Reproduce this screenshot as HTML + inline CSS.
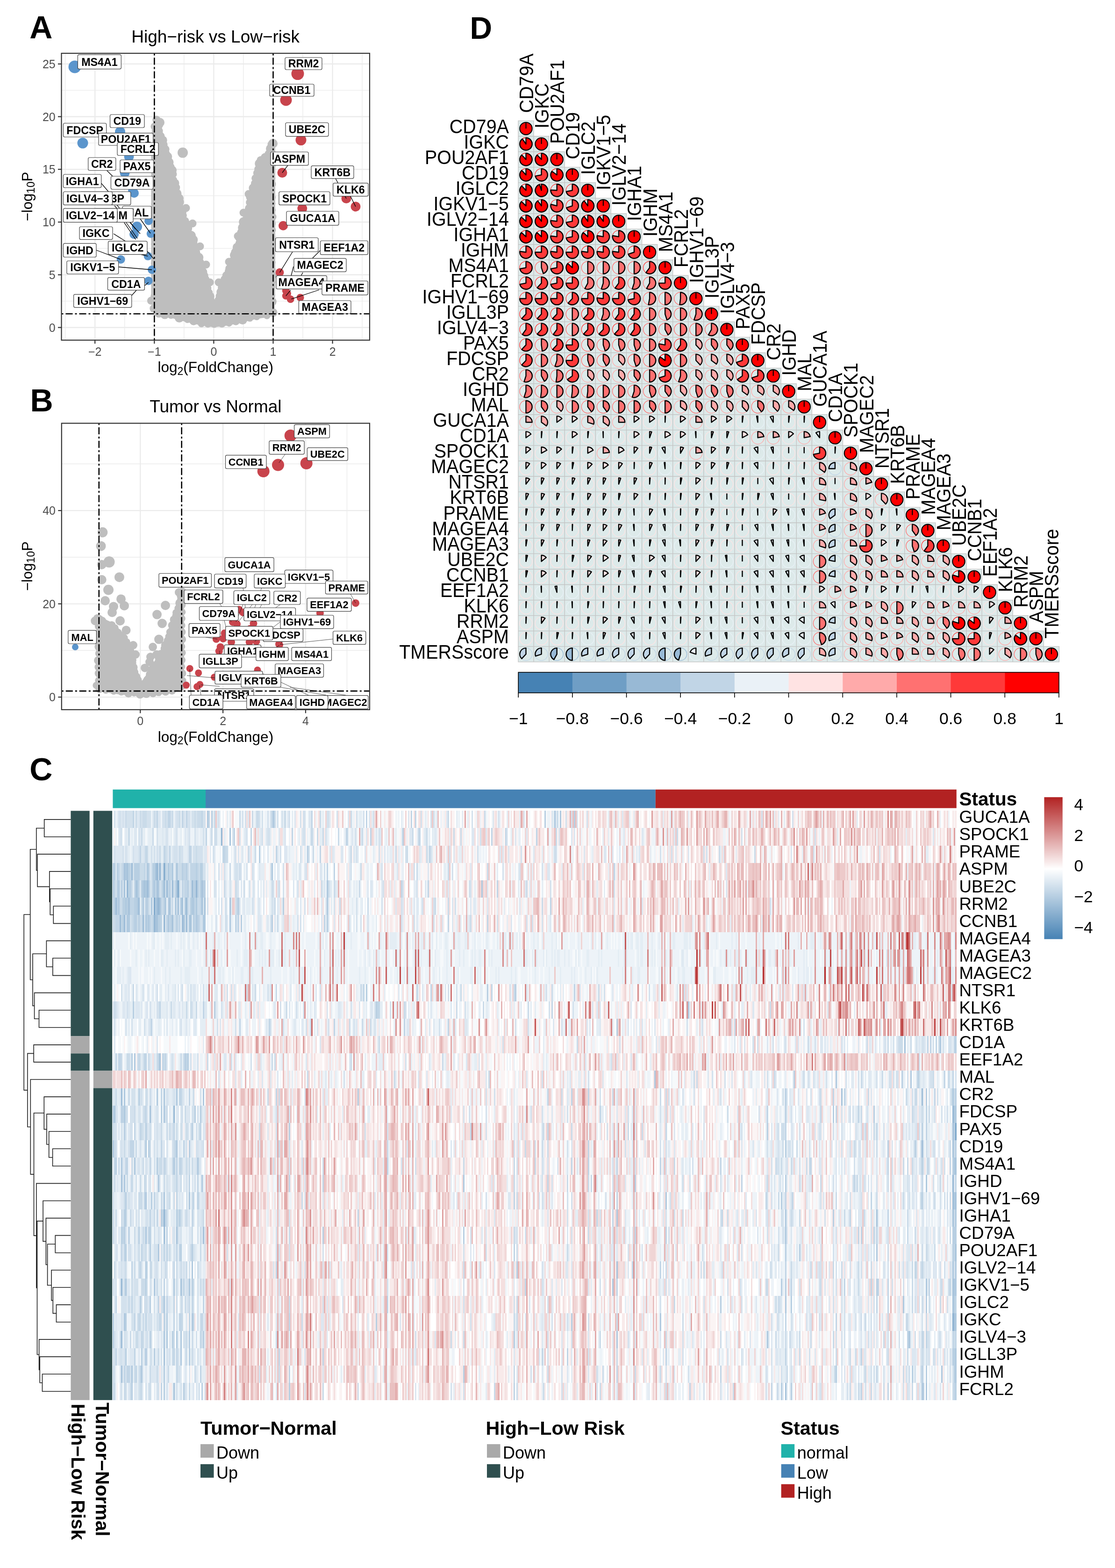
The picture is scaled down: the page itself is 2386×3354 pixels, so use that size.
<!DOCTYPE html><html><head><meta charset="utf-8"><title>Figure</title><style>html,body{margin:0;padding:0;background:#fff;}svg{display:block;}</style></head><body><svg width="2386" height="3354" viewBox="0 0 2386 3354" font-family="'Liberation Sans', Arial, Helvetica, sans-serif"><rect width="2386" height="3354" fill="#fff"/><text x="63.3" y="82" font-size="68" font-weight="bold">A</text><text x="64.5" y="880" font-size="68" font-weight="bold">B</text><text x="63.3" y="1668.5" font-size="68" font-weight="bold">C</text><text x="1005.5" y="82.8" font-size="66" font-weight="bold">D</text><g id="panelA"><rect x="131.5" y="114" width="659.5" height="613.6" fill="#fff"/><line x1="139.6" y1="114" x2="139.6" y2="727.6" stroke="#EBEBEB" stroke-width="1.4"/><line x1="266.8" y1="114" x2="266.8" y2="727.6" stroke="#EBEBEB" stroke-width="1.4"/><line x1="393.8" y1="114" x2="393.8" y2="727.6" stroke="#EBEBEB" stroke-width="1.4"/><line x1="520.9" y1="114" x2="520.9" y2="727.6" stroke="#EBEBEB" stroke-width="1.4"/><line x1="648" y1="114" x2="648" y2="727.6" stroke="#EBEBEB" stroke-width="1.4"/><line x1="775.1" y1="114" x2="775.1" y2="727.6" stroke="#EBEBEB" stroke-width="1.4"/><line x1="131.5" y1="644.1" x2="791" y2="644.1" stroke="#EBEBEB" stroke-width="1.4"/><line x1="131.5" y1="531.4" x2="791" y2="531.4" stroke="#EBEBEB" stroke-width="1.4"/><line x1="131.5" y1="418.6" x2="791" y2="418.6" stroke="#EBEBEB" stroke-width="1.4"/><line x1="131.5" y1="305.9" x2="791" y2="305.9" stroke="#EBEBEB" stroke-width="1.4"/><line x1="131.5" y1="193.1" x2="791" y2="193.1" stroke="#EBEBEB" stroke-width="1.4"/><line x1="203.2" y1="114" x2="203.2" y2="727.6" stroke="#EBEBEB" stroke-width="2.4"/><line x1="330.3" y1="114" x2="330.3" y2="727.6" stroke="#EBEBEB" stroke-width="2.4"/><line x1="457.4" y1="114" x2="457.4" y2="727.6" stroke="#EBEBEB" stroke-width="2.4"/><line x1="584.5" y1="114" x2="584.5" y2="727.6" stroke="#EBEBEB" stroke-width="2.4"/><line x1="711.6" y1="114" x2="711.6" y2="727.6" stroke="#EBEBEB" stroke-width="2.4"/><line x1="131.5" y1="700.5" x2="791" y2="700.5" stroke="#EBEBEB" stroke-width="2.4"/><line x1="131.5" y1="587.8" x2="791" y2="587.8" stroke="#EBEBEB" stroke-width="2.4"/><line x1="131.5" y1="475" x2="791" y2="475" stroke="#EBEBEB" stroke-width="2.4"/><line x1="131.5" y1="362.2" x2="791" y2="362.2" stroke="#EBEBEB" stroke-width="2.4"/><line x1="131.5" y1="249.5" x2="791" y2="249.5" stroke="#EBEBEB" stroke-width="2.4"/><line x1="131.5" y1="136.8" x2="791" y2="136.8" stroke="#EBEBEB" stroke-width="2.4"/><g fill="#BEBEBE"><polygon points="333,257 326,266 323.5,300 323.5,400 323.5,500 323.5,600 323.5,648 328,664 340,674 366,680 400,689 430,696 457.7,700 490,696 520,689 550,682 570,679 583,674 588,664 589,600 589,500 589,400 589,330 587,307 580,302 574,325 564,337 553,341.6 546.8,369.5 536,401.7 527.5,444.6 514.6,487.5 504,530 486.7,573 471.7,616 457.7,652 457.7,652 450,616 435,573 422,530 407,487.5 390,444.6 381.5,401.7 364,337 352,300 345,268 341,256"/><circle cx="335" cy="256.2" r="8.7" fill="#BEBEBE"/><circle cx="340.4" cy="268.5" r="7.8" fill="#BEBEBE"/><circle cx="340.4" cy="280" r="8.3" fill="#BEBEBE"/><circle cx="343.6" cy="291.3" r="8.9" fill="#BEBEBE"/><circle cx="348.3" cy="299.9" r="9.4" fill="#BEBEBE"/><circle cx="348.6" cy="309.8" r="10.1" fill="#BEBEBE"/><circle cx="353.1" cy="319.5" r="9.5" fill="#BEBEBE"/><circle cx="354.3" cy="328.8" r="9.3" fill="#BEBEBE"/><circle cx="358.2" cy="335.1" r="10.1" fill="#BEBEBE"/><circle cx="361.4" cy="347.1" r="10.1" fill="#BEBEBE"/><circle cx="364.9" cy="357.2" r="8.7" fill="#BEBEBE"/><circle cx="367.7" cy="364.5" r="10.3" fill="#BEBEBE"/><circle cx="370.5" cy="372.4" r="8" fill="#BEBEBE"/><circle cx="370.4" cy="385.1" r="8.8" fill="#BEBEBE"/><circle cx="374.5" cy="391.7" r="9" fill="#BEBEBE"/><circle cx="376" cy="401.1" r="9.3" fill="#BEBEBE"/><circle cx="379" cy="414" r="9.5" fill="#BEBEBE"/><circle cx="382.5" cy="424.6" r="10.4" fill="#BEBEBE"/><circle cx="383.6" cy="432.5" r="10.1" fill="#BEBEBE"/><circle cx="386.9" cy="446.2" r="9.2" fill="#BEBEBE"/><circle cx="389.3" cy="452" r="10" fill="#BEBEBE"/><circle cx="392.1" cy="460.9" r="7.8" fill="#BEBEBE"/><circle cx="396.6" cy="472.3" r="7.9" fill="#BEBEBE"/><circle cx="399.8" cy="478.6" r="8" fill="#BEBEBE"/><circle cx="401.2" cy="488.6" r="10.1" fill="#BEBEBE"/><circle cx="403.2" cy="496.5" r="7.7" fill="#BEBEBE"/><circle cx="408.9" cy="503.8" r="10.1" fill="#BEBEBE"/><circle cx="412.9" cy="513" r="10.4" fill="#BEBEBE"/><circle cx="413.2" cy="519.8" r="9.3" fill="#BEBEBE"/><circle cx="415.1" cy="528.8" r="8.8" fill="#BEBEBE"/><circle cx="420.7" cy="539.4" r="7.7" fill="#BEBEBE"/><circle cx="425" cy="550.8" r="10.3" fill="#BEBEBE"/><circle cx="428.3" cy="561.8" r="8.9" fill="#BEBEBE"/><circle cx="430.1" cy="573.6" r="9.3" fill="#BEBEBE"/><circle cx="433.2" cy="582.1" r="10.3" fill="#BEBEBE"/><circle cx="436" cy="589.9" r="9.7" fill="#BEBEBE"/><circle cx="438" cy="598" r="10.4" fill="#BEBEBE"/><circle cx="442.1" cy="607.6" r="7.6" fill="#BEBEBE"/><circle cx="444.7" cy="616.3" r="7.7" fill="#BEBEBE"/><circle cx="447.4" cy="625.5" r="7.8" fill="#BEBEBE"/><circle cx="449.4" cy="633.9" r="9.5" fill="#BEBEBE"/><circle cx="450.2" cy="643.8" r="9.7" fill="#BEBEBE"/><circle cx="460.8" cy="650.2" r="9.5" fill="#BEBEBE"/><circle cx="468.1" cy="642" r="8.9" fill="#BEBEBE"/><circle cx="470.1" cy="633.3" r="8.6" fill="#BEBEBE"/><circle cx="472.5" cy="624.5" r="9.3" fill="#BEBEBE"/><circle cx="475.9" cy="615.5" r="9.8" fill="#BEBEBE"/><circle cx="477.8" cy="607.7" r="9.7" fill="#BEBEBE"/><circle cx="481.9" cy="597.7" r="9.9" fill="#BEBEBE"/><circle cx="484.7" cy="588.9" r="8.8" fill="#BEBEBE"/><circle cx="489.5" cy="580" r="8.5" fill="#BEBEBE"/><circle cx="491" cy="574.3" r="8.8" fill="#BEBEBE"/><circle cx="496.6" cy="563.1" r="8.6" fill="#BEBEBE"/><circle cx="499.2" cy="557.3" r="8.9" fill="#BEBEBE"/><circle cx="501" cy="545.7" r="9.1" fill="#BEBEBE"/><circle cx="504.3" cy="539.8" r="10" fill="#BEBEBE"/><circle cx="507.7" cy="529.1" r="9.9" fill="#BEBEBE"/><circle cx="512.2" cy="520.6" r="8.6" fill="#BEBEBE"/><circle cx="512.8" cy="507.9" r="9.9" fill="#BEBEBE"/><circle cx="516" cy="497.5" r="8.8" fill="#BEBEBE"/><circle cx="519.3" cy="487.1" r="10.2" fill="#BEBEBE"/><circle cx="521.4" cy="474.8" r="10.3" fill="#BEBEBE"/><circle cx="527.6" cy="468" r="8.8" fill="#BEBEBE"/><circle cx="531.1" cy="457" r="8.2" fill="#BEBEBE"/><circle cx="533.5" cy="445.9" r="9.5" fill="#BEBEBE"/><circle cx="534.7" cy="433" r="8.6" fill="#BEBEBE"/><circle cx="535.7" cy="421.4" r="9.3" fill="#BEBEBE"/><circle cx="538" cy="413.7" r="7.7" fill="#BEBEBE"/><circle cx="542.6" cy="402.5" r="10.2" fill="#BEBEBE"/><circle cx="546.2" cy="392.6" r="9.2" fill="#BEBEBE"/><circle cx="546.3" cy="381.2" r="8.1" fill="#BEBEBE"/><circle cx="551" cy="370.2" r="9.1" fill="#BEBEBE"/><circle cx="553.5" cy="362" r="9.3" fill="#BEBEBE"/><circle cx="555.3" cy="349.9" r="10.1" fill="#BEBEBE"/><circle cx="557.9" cy="342.7" r="8.6" fill="#BEBEBE"/><circle cx="567.8" cy="337.1" r="9.9" fill="#BEBEBE"/><circle cx="331" cy="270.5" r="8.6" fill="#BEBEBE"/><circle cx="332" cy="284.5" r="6.4" fill="#BEBEBE"/><circle cx="331.7" cy="298.6" r="6.5" fill="#BEBEBE"/><circle cx="331.1" cy="311.6" r="7.7" fill="#BEBEBE"/><circle cx="331.4" cy="326" r="8.3" fill="#BEBEBE"/><circle cx="330.7" cy="339.3" r="6.7" fill="#BEBEBE"/><circle cx="330.9" cy="353.3" r="8.7" fill="#BEBEBE"/><circle cx="332.1" cy="367.3" r="7.6" fill="#BEBEBE"/><circle cx="331.2" cy="381.7" r="7.2" fill="#BEBEBE"/><circle cx="331.7" cy="396.1" r="7.3" fill="#BEBEBE"/><circle cx="331" cy="409.7" r="6.7" fill="#BEBEBE"/><circle cx="331.6" cy="424.3" r="7.3" fill="#BEBEBE"/><circle cx="330.8" cy="437.5" r="7.3" fill="#BEBEBE"/><circle cx="331.7" cy="452.5" r="7.3" fill="#BEBEBE"/><circle cx="332" cy="466.2" r="7.4" fill="#BEBEBE"/><circle cx="331.3" cy="480" r="8.1" fill="#BEBEBE"/><circle cx="331.4" cy="494.3" r="7.5" fill="#BEBEBE"/><circle cx="331.1" cy="508.1" r="8.1" fill="#BEBEBE"/><circle cx="330.8" cy="521.9" r="7.4" fill="#BEBEBE"/><circle cx="332.1" cy="536.7" r="7.3" fill="#BEBEBE"/><circle cx="332.1" cy="550.5" r="7" fill="#BEBEBE"/><circle cx="331.4" cy="563.4" r="8.4" fill="#BEBEBE"/><circle cx="331.8" cy="578.6" r="8.3" fill="#BEBEBE"/><circle cx="331.8" cy="592.4" r="7.8" fill="#BEBEBE"/><circle cx="330.9" cy="606.1" r="6.4" fill="#BEBEBE"/><circle cx="330.9" cy="620.4" r="6.5" fill="#BEBEBE"/><circle cx="330.8" cy="633.4" r="8.5" fill="#BEBEBE"/><circle cx="581.4" cy="309" r="8.9" fill="#BEBEBE"/><circle cx="581.2" cy="324.7" r="8.5" fill="#BEBEBE"/><circle cx="582.7" cy="338.9" r="8.3" fill="#BEBEBE"/><circle cx="582.6" cy="351.1" r="8.8" fill="#BEBEBE"/><circle cx="582" cy="366.4" r="7.1" fill="#BEBEBE"/><circle cx="582.5" cy="380.9" r="7" fill="#BEBEBE"/><circle cx="581.6" cy="394.1" r="8.9" fill="#BEBEBE"/><circle cx="581.5" cy="407.4" r="7.4" fill="#BEBEBE"/><circle cx="582.2" cy="422.5" r="7.8" fill="#BEBEBE"/><circle cx="581.7" cy="435.8" r="7.7" fill="#BEBEBE"/><circle cx="581.8" cy="449.2" r="8.1" fill="#BEBEBE"/><circle cx="582.9" cy="463.8" r="8.7" fill="#BEBEBE"/><circle cx="581.3" cy="478.4" r="8.7" fill="#BEBEBE"/><circle cx="582.3" cy="492" r="8" fill="#BEBEBE"/><circle cx="582.3" cy="506.8" r="7.2" fill="#BEBEBE"/><circle cx="581.2" cy="520.5" r="9.1" fill="#BEBEBE"/><circle cx="582" cy="533.9" r="8.6" fill="#BEBEBE"/><circle cx="581.4" cy="547.5" r="7.3" fill="#BEBEBE"/><circle cx="582.2" cy="561.6" r="7.4" fill="#BEBEBE"/><circle cx="582.4" cy="576.9" r="7.6" fill="#BEBEBE"/><circle cx="582.4" cy="589.8" r="9" fill="#BEBEBE"/><circle cx="582.2" cy="603.5" r="7.4" fill="#BEBEBE"/><circle cx="581" cy="618" r="7.8" fill="#BEBEBE"/><circle cx="581.3" cy="631.7" r="7.6" fill="#BEBEBE"/><circle cx="582.5" cy="645.3" r="9.3" fill="#BEBEBE"/><circle cx="323.4" cy="643.3" r="8.5" fill="#BEBEBE"/><circle cx="329" cy="660" r="8.7" fill="#BEBEBE"/><circle cx="339.9" cy="669.7" r="9.5" fill="#BEBEBE"/><circle cx="352.7" cy="672.7" r="9.8" fill="#BEBEBE"/><circle cx="365.9" cy="674.2" r="7.8" fill="#BEBEBE"/><circle cx="383.7" cy="680" r="9.8" fill="#BEBEBE"/><circle cx="401.1" cy="683.2" r="7.7" fill="#BEBEBE"/><circle cx="414.3" cy="686.6" r="9.1" fill="#BEBEBE"/><circle cx="431.1" cy="692.2" r="7.9" fill="#BEBEBE"/><circle cx="444.9" cy="692.4" r="8.3" fill="#BEBEBE"/><circle cx="458.4" cy="693.8" r="7.5" fill="#BEBEBE"/><circle cx="474.9" cy="692.4" r="8.2" fill="#BEBEBE"/><circle cx="490.2" cy="691.5" r="7.2" fill="#BEBEBE"/><circle cx="504.5" cy="687.3" r="8.5" fill="#BEBEBE"/><circle cx="519.1" cy="684.3" r="9.8" fill="#BEBEBE"/><circle cx="534.7" cy="680.6" r="7.5" fill="#BEBEBE"/><circle cx="549.3" cy="677.5" r="7.5" fill="#BEBEBE"/><circle cx="571.2" cy="675.2" r="7.5" fill="#BEBEBE"/><circle cx="584.3" cy="668.6" r="9.3" fill="#BEBEBE"/><circle cx="338.6" cy="266.5" r="10.5" fill="#BEBEBE"/><circle cx="342" cy="262" r="10" fill="#BEBEBE"/><circle cx="391" cy="326.6" r="11" fill="#BEBEBE"/><circle cx="584" cy="307" r="10" fill="#BEBEBE"/><circle cx="579" cy="318" r="10" fill="#BEBEBE"/><circle cx="576" cy="330" r="10" fill="#BEBEBE"/><circle cx="571" cy="340" r="9" fill="#BEBEBE"/><circle cx="398" cy="445" r="8.5" fill="#BEBEBE"/><circle cx="412" cy="478" r="8.5" fill="#BEBEBE"/><circle cx="428" cy="527" r="8.5" fill="#BEBEBE"/><circle cx="441" cy="566" r="8.5" fill="#BEBEBE"/><circle cx="449" cy="604" r="8.5" fill="#BEBEBE"/><circle cx="468" cy="604" r="8.5" fill="#BEBEBE"/><circle cx="490" cy="560" r="8.5" fill="#BEBEBE"/><circle cx="509" cy="505" r="8.5" fill="#BEBEBE"/><circle cx="521" cy="455" r="8.5" fill="#BEBEBE"/><circle cx="532" cy="415" r="8.5" fill="#BEBEBE"/></g><g fill="#5B95CC"><circle cx="160" cy="143" r="13.5" fill="#5B95CC"/><circle cx="177" cy="306" r="11.5" fill="#5B95CC"/><circle cx="257" cy="282" r="11" fill="#5B95CC"/><circle cx="270" cy="296" r="11" fill="#5B95CC"/><circle cx="276" cy="335" r="10.5" fill="#5B95CC"/><circle cx="267" cy="369.5" r="10.5" fill="#5B95CC"/><circle cx="284" cy="408" r="10" fill="#5B95CC"/><circle cx="287" cy="413" r="10" fill="#5B95CC"/><circle cx="293" cy="485" r="11" fill="#5B95CC"/><circle cx="287" cy="501" r="10" fill="#5B95CC"/><circle cx="322.7" cy="499.8" r="9" fill="#5B95CC"/><circle cx="318" cy="472.5" r="9" fill="#5B95CC"/><circle cx="316.5" cy="547.8" r="9" fill="#5B95CC"/><circle cx="258.6" cy="555" r="9" fill="#5B95CC"/><circle cx="325" cy="577" r="9" fill="#5B95CC"/><circle cx="317.7" cy="600.7" r="9" fill="#5B95CC"/></g><g fill="#C8444C"><circle cx="637" cy="157.6" r="13.5" fill="#C8444C"/><circle cx="612" cy="214" r="12.5" fill="#C8444C"/><circle cx="644" cy="299.5" r="11.5" fill="#C8444C"/><circle cx="604" cy="369.5" r="10.5" fill="#C8444C"/><circle cx="741" cy="424.6" r="10.5" fill="#C8444C"/><circle cx="761" cy="441.9" r="10.5" fill="#C8444C"/><circle cx="646.8" cy="445.8" r="10.5" fill="#C8444C"/><circle cx="606" cy="482.8" r="10" fill="#C8444C"/><circle cx="598.5" cy="582.8" r="9" fill="#C8444C"/><circle cx="611.8" cy="632.8" r="8" fill="#C8444C"/><circle cx="621.7" cy="640" r="8" fill="#C8444C"/><circle cx="642.6" cy="636.5" r="8" fill="#C8444C"/><circle cx="611.8" cy="621.7" r="8" fill="#C8444C"/><circle cx="615" cy="628" r="8" fill="#C8444C"/></g><line x1="616" y1="353.7" x2="604" y2="369.5" stroke="#000" stroke-width="1.3"/><line x1="228" y1="364" x2="262" y2="398" stroke="#000" stroke-width="1.3"/><line x1="216.7" y1="392" x2="245" y2="425" stroke="#000" stroke-width="1.3"/><line x1="718" y1="381.8" x2="741" y2="424.6" stroke="#000" stroke-width="1.3"/><line x1="750" y1="419.7" x2="761" y2="441.9" stroke="#000" stroke-width="1.3"/><line x1="627" y1="537" x2="598.5" y2="582.8" stroke="#000" stroke-width="1.3"/><line x1="686" y1="535" x2="668" y2="553" stroke="#000" stroke-width="1.3"/><line x1="628" y1="570" x2="623" y2="590" stroke="#000" stroke-width="1.3"/><line x1="648" y1="583" x2="644" y2="590" stroke="#000" stroke-width="1.3"/><line x1="622" y1="620.6" x2="611.8" y2="632.8" stroke="#000" stroke-width="1.3"/><line x1="683" y1="620" x2="623.4" y2="639.6" stroke="#000" stroke-width="1.3"/><line x1="206" y1="535" x2="258.6" y2="555" stroke="#000" stroke-width="1.3"/><line x1="253.7" y1="571" x2="325" y2="577" stroke="#000" stroke-width="1.3"/><line x1="298" y1="620.7" x2="317.7" y2="604" stroke="#000" stroke-width="1.3"/><line x1="281.8" y1="632" x2="300" y2="612" stroke="#000" stroke-width="1.3"/><line x1="240" y1="425" x2="290" y2="490" stroke="#000" stroke-width="1.3"/><line x1="245" y1="440" x2="300" y2="500" stroke="#000" stroke-width="1.3"/><line x1="265.8" y1="476.2" x2="290.4" y2="512.4" stroke="#000" stroke-width="1.3"/><line x1="270" y1="476" x2="294" y2="510" stroke="#000" stroke-width="1.3"/><line x1="300" y1="468" x2="322" y2="499" stroke="#000" stroke-width="1.3"/><line x1="313.7" y1="535.7" x2="329" y2="553.8" stroke="#000" stroke-width="1.3"/><line x1="243" y1="500" x2="275" y2="520" stroke="#000" stroke-width="1.3"/><line x1="300" y1="544" x2="316.5" y2="547.8" stroke="#000" stroke-width="1.3"/><rect x="166.4" y="116.8" width="92.9" height="30.8" rx="3" fill="#fff" stroke="#444" stroke-width="1.2"/><text x="212.9" y="140.6" font-size="23.2" text-anchor="middle" font-weight="bold">MS4A1</text><rect x="610" y="123" width="79" height="26" rx="3" fill="#fff" stroke="#444" stroke-width="1.2"/><text x="649.5" y="144.4" font-size="23.2" text-anchor="middle" font-weight="bold">RRM2</text><rect x="577" y="180" width="95" height="26" rx="3" fill="#fff" stroke="#444" stroke-width="1.2"/><text x="624.5" y="201.4" font-size="23.2" text-anchor="middle" font-weight="bold">CCNB1</text><rect x="235.5" y="245" width="73.5" height="28" rx="3" fill="#fff" stroke="#444" stroke-width="1.2"/><text x="272.2" y="267.4" font-size="23.2" text-anchor="middle" font-weight="bold">CD19</text><rect x="135.5" y="263.5" width="92.1" height="29.5" rx="3" fill="#fff" stroke="#444" stroke-width="1.2"/><text x="181.6" y="286.6" font-size="23.2" text-anchor="middle" font-weight="bold">FDCSP</text><rect x="211" y="284.7" width="116.6" height="26.3" rx="3" fill="#fff" stroke="#444" stroke-width="1.2"/><text x="269.3" y="306.2" font-size="23.2" text-anchor="middle" font-weight="bold">POU2AF1</text><rect x="611" y="262.5" width="92" height="29.1" rx="3" fill="#fff" stroke="#444" stroke-width="1.2"/><text x="657" y="285.4" font-size="23.2" text-anchor="middle" font-weight="bold">UBE2C</text><rect x="251" y="305" width="88" height="27.5" rx="3" fill="#fff" stroke="#444" stroke-width="1.2"/><text x="295" y="327.1" font-size="23.2" text-anchor="middle" font-weight="bold">FCRL2</text><rect x="579" y="325" width="81" height="28.7" rx="3" fill="#fff" stroke="#444" stroke-width="1.2"/><text x="619.5" y="347.7" font-size="23.2" text-anchor="middle" font-weight="bold">ASPM</text><rect x="188.7" y="337" width="59.1" height="27.5" rx="3" fill="#fff" stroke="#444" stroke-width="1.2"/><text x="218.2" y="359.1" font-size="23.2" text-anchor="middle" font-weight="bold">CR2</text><rect x="257" y="342" width="72" height="27.5" rx="3" fill="#fff" stroke="#444" stroke-width="1.2"/><text x="293" y="364.1" font-size="23.2" text-anchor="middle" font-weight="bold">PAX5</text><rect x="666" y="354.7" width="91" height="27.1" rx="3" fill="#fff" stroke="#444" stroke-width="1.2"/><text x="711.5" y="376.6" font-size="23.2" text-anchor="middle" font-weight="bold">KRT6B</text><rect x="135.5" y="373" width="81.2" height="28.5" rx="3" fill="#fff" stroke="#444" stroke-width="1.2"/><text x="176.1" y="395.6" font-size="23.2" text-anchor="middle" font-weight="bold">IGHA1</text><rect x="237.4" y="377" width="90.2" height="28" rx="3" fill="#fff" stroke="#444" stroke-width="1.2"/><text x="282.5" y="399.4" font-size="23.2" text-anchor="middle" font-weight="bold">CD79A</text><rect x="712.8" y="391.6" width="75.2" height="28.1" rx="3" fill="#fff" stroke="#444" stroke-width="1.2"/><text x="750.4" y="414" font-size="23.2" text-anchor="middle" font-weight="bold">KLK6</text><rect x="171" y="410" width="108.8" height="28.4" rx="3" fill="#fff" stroke="#444" stroke-width="1.2"/><text x="225.4" y="432.6" font-size="23.2" text-anchor="middle" font-weight="bold">IGLL3P</text><rect x="135.5" y="410" width="104.9" height="28.4" rx="3" fill="#fff" stroke="#444" stroke-width="1.2"/><text x="187.9" y="432.6" font-size="23.2" text-anchor="middle" font-weight="bold">IGLV4−3</text><rect x="597" y="410" width="109" height="28.4" rx="3" fill="#fff" stroke="#444" stroke-width="1.2"/><text x="651.5" y="432.6" font-size="23.2" text-anchor="middle" font-weight="bold">SPOCK1</text><rect x="262" y="441" width="62" height="27" rx="3" fill="#fff" stroke="#444" stroke-width="1.2"/><text x="293" y="462.9" font-size="23.2" text-anchor="middle" font-weight="bold">MAL</text><rect x="200" y="445.8" width="85" height="29.6" rx="3" fill="#fff" stroke="#444" stroke-width="1.2"/><text x="242.5" y="469" font-size="23.2" text-anchor="middle" font-weight="bold">IGHM</text><rect x="135.5" y="445.8" width="115.5" height="29.6" rx="3" fill="#fff" stroke="#444" stroke-width="1.2"/><text x="193.2" y="469" font-size="23.2" text-anchor="middle" font-weight="bold">IGLV2−14</text><rect x="613" y="452" width="112" height="29.8" rx="3" fill="#fff" stroke="#444" stroke-width="1.2"/><text x="669" y="475.3" font-size="23.2" text-anchor="middle" font-weight="bold">GUCA1A</text><rect x="170" y="485" width="71" height="27.3" rx="3" fill="#fff" stroke="#444" stroke-width="1.2"/><text x="205.5" y="507" font-size="23.2" text-anchor="middle" font-weight="bold">IGKC</text><rect x="231.5" y="515.8" width="83.5" height="28.5" rx="3" fill="#fff" stroke="#444" stroke-width="1.2"/><text x="273.2" y="538.4" font-size="23.2" text-anchor="middle" font-weight="bold">IGLC2</text><rect x="589.5" y="508.5" width="91.5" height="30" rx="3" fill="#fff" stroke="#444" stroke-width="1.2"/><text x="635.2" y="531.9" font-size="23.2" text-anchor="middle" font-weight="bold">NTSR1</text><rect x="685.4" y="515" width="101.9" height="29.7" rx="3" fill="#fff" stroke="#444" stroke-width="1.2"/><text x="736.3" y="538.2" font-size="23.2" text-anchor="middle" font-weight="bold">EEF1A2</text><rect x="135.5" y="520.7" width="70.5" height="29.3" rx="3" fill="#fff" stroke="#444" stroke-width="1.2"/><text x="170.8" y="543.7" font-size="23.2" text-anchor="middle" font-weight="bold">IGHD</text><rect x="142.9" y="558" width="110.8" height="28" rx="3" fill="#fff" stroke="#444" stroke-width="1.2"/><text x="198.3" y="580.4" font-size="23.2" text-anchor="middle" font-weight="bold">IGKV1−5</text><rect x="629" y="552.7" width="112" height="28.6" rx="3" fill="#fff" stroke="#444" stroke-width="1.2"/><text x="685" y="575.4" font-size="23.2" text-anchor="middle" font-weight="bold">MAGEC2</text><rect x="230.5" y="593.6" width="78.9" height="27.1" rx="3" fill="#fff" stroke="#444" stroke-width="1.2"/><text x="269.9" y="615.5" font-size="23.2" text-anchor="middle" font-weight="bold">CD1A</text><rect x="591" y="589.7" width="108.5" height="28.5" rx="3" fill="#fff" stroke="#444" stroke-width="1.2"/><text x="645.2" y="612.3" font-size="23.2" text-anchor="middle" font-weight="bold">MAGEA4</text><rect x="689" y="601" width="98.3" height="29.8" rx="3" fill="#fff" stroke="#444" stroke-width="1.2"/><text x="738.1" y="624.3" font-size="23.2" text-anchor="middle" font-weight="bold">PRAME</text><rect x="157.6" y="629.6" width="124.2" height="28" rx="3" fill="#fff" stroke="#444" stroke-width="1.2"/><text x="219.7" y="652" font-size="23.2" text-anchor="middle" font-weight="bold">IGHV1−69</text><rect x="639.4" y="643" width="111.6" height="28" rx="3" fill="#fff" stroke="#444" stroke-width="1.2"/><text x="695.2" y="665.4" font-size="23.2" text-anchor="middle" font-weight="bold">MAGEA3</text><line x1="330.3" y1="727.6" x2="330.3" y2="114" stroke="#000" stroke-width="2.6" stroke-dasharray="4 5 15 5"/><line x1="584.5" y1="727.6" x2="584.5" y2="114" stroke="#000" stroke-width="2.6" stroke-dasharray="4 5 15 5"/><line x1="131.5" y1="671.2" x2="791" y2="671.2" stroke="#000" stroke-width="2.6" stroke-dasharray="4 5 15 5"/><rect x="131.5" y="114" width="659.5" height="613.6" fill="none" stroke="#333333" stroke-width="2.2"/><line x1="203.2" y1="727.6" x2="203.2" y2="735.1" stroke="#333333" stroke-width="2.2"/><text x="203.2" y="760.8" font-size="25" text-anchor="middle" fill="#4D4D4D">−2</text><line x1="330.3" y1="727.6" x2="330.3" y2="735.1" stroke="#333333" stroke-width="2.2"/><text x="330.3" y="760.8" font-size="25" text-anchor="middle" fill="#4D4D4D">−1</text><line x1="457.4" y1="727.6" x2="457.4" y2="735.1" stroke="#333333" stroke-width="2.2"/><text x="457.4" y="760.8" font-size="25" text-anchor="middle" fill="#4D4D4D">0</text><line x1="584.5" y1="727.6" x2="584.5" y2="735.1" stroke="#333333" stroke-width="2.2"/><text x="584.5" y="760.8" font-size="25" text-anchor="middle" fill="#4D4D4D">1</text><line x1="711.6" y1="727.6" x2="711.6" y2="735.1" stroke="#333333" stroke-width="2.2"/><text x="711.6" y="760.8" font-size="25" text-anchor="middle" fill="#4D4D4D">2</text><line x1="124" y1="700.5" x2="131.5" y2="700.5" stroke="#333333" stroke-width="2.2"/><text x="118.7" y="709.5" font-size="25" text-anchor="end" fill="#4D4D4D">0</text><line x1="124" y1="587.8" x2="131.5" y2="587.8" stroke="#333333" stroke-width="2.2"/><text x="118.7" y="596.8" font-size="25" text-anchor="end" fill="#4D4D4D">5</text><line x1="124" y1="475" x2="131.5" y2="475" stroke="#333333" stroke-width="2.2"/><text x="118.7" y="484" font-size="25" text-anchor="end" fill="#4D4D4D">10</text><line x1="124" y1="362.2" x2="131.5" y2="362.2" stroke="#333333" stroke-width="2.2"/><text x="118.7" y="371.2" font-size="25" text-anchor="end" fill="#4D4D4D">15</text><line x1="124" y1="249.5" x2="131.5" y2="249.5" stroke="#333333" stroke-width="2.2"/><text x="118.7" y="258.5" font-size="25" text-anchor="end" fill="#4D4D4D">20</text><line x1="124" y1="136.8" x2="131.5" y2="136.8" stroke="#333333" stroke-width="2.2"/><text x="118.7" y="145.8" font-size="25" text-anchor="end" fill="#4D4D4D">25</text><text x="461.2" y="91" font-size="37" text-anchor="middle">High−risk vs Low−risk</text><text x="461.2" y="796.4" font-size="31.5" text-anchor="middle">log<tspan font-size="23" dy="5.5">2</tspan><tspan dy="-5.5">(FoldChange)</tspan></text><text transform="translate(68.5,420.4) rotate(-90)" font-size="31" text-anchor="middle">−log<tspan font-size="23" dy="5.5">10</tspan><tspan dy="-5.5">P</tspan></text></g><g id="panelB"><rect x="131.8" y="905.4" width="659.2" height="612.6" fill="#fff"/><line x1="211.8" y1="905.4" x2="211.8" y2="1518" stroke="#EBEBEB" stroke-width="1.4"/><line x1="388.7" y1="905.4" x2="388.7" y2="1518" stroke="#EBEBEB" stroke-width="1.4"/><line x1="565.6" y1="905.4" x2="565.6" y2="1518" stroke="#EBEBEB" stroke-width="1.4"/><line x1="742.5" y1="905.4" x2="742.5" y2="1518" stroke="#EBEBEB" stroke-width="1.4"/><line x1="131.8" y1="1391.3" x2="791" y2="1391.3" stroke="#EBEBEB" stroke-width="1.4"/><line x1="131.8" y1="1191.8" x2="791" y2="1191.8" stroke="#EBEBEB" stroke-width="1.4"/><line x1="131.8" y1="992.3" x2="791" y2="992.3" stroke="#EBEBEB" stroke-width="1.4"/><line x1="300.2" y1="905.4" x2="300.2" y2="1518" stroke="#EBEBEB" stroke-width="2.4"/><line x1="477.1" y1="905.4" x2="477.1" y2="1518" stroke="#EBEBEB" stroke-width="2.4"/><line x1="654" y1="905.4" x2="654" y2="1518" stroke="#EBEBEB" stroke-width="2.4"/><line x1="131.8" y1="1491.1" x2="791" y2="1491.1" stroke="#EBEBEB" stroke-width="2.4"/><line x1="131.8" y1="1291.6" x2="791" y2="1291.6" stroke="#EBEBEB" stroke-width="2.4"/><line x1="131.8" y1="1092.1" x2="791" y2="1092.1" stroke="#EBEBEB" stroke-width="2.4"/><g fill="#BEBEBE"><polygon points="207,1322 207,1470 213,1477 225,1481 260,1486 300.4,1489.5 340,1486 368.6,1481 388,1475 394,1470 394,1264 388,1257 383,1263 375.8,1297.6 359.6,1351.5 347,1387.4 314.7,1441 302,1459 302,1459 291.4,1423.3 280.6,1387.4 270,1360.5 243,1333.5 214,1319"/><circle cx="203.5" cy="1328" r="9.3" fill="#BEBEBE"/><circle cx="211.8" cy="1325" r="9.7" fill="#BEBEBE"/><circle cx="217.8" cy="1328.7" r="9.7" fill="#BEBEBE"/><circle cx="229.9" cy="1335.3" r="7.5" fill="#BEBEBE"/><circle cx="238.9" cy="1337.5" r="8.7" fill="#BEBEBE"/><circle cx="246" cy="1343.3" r="7.8" fill="#BEBEBE"/><circle cx="251.6" cy="1353.7" r="9.3" fill="#BEBEBE"/><circle cx="257.9" cy="1359.9" r="7.6" fill="#BEBEBE"/><circle cx="266.5" cy="1364" r="7.2" fill="#BEBEBE"/><circle cx="271" cy="1373.3" r="7.8" fill="#BEBEBE"/><circle cx="275" cy="1384.9" r="8" fill="#BEBEBE"/><circle cx="278.4" cy="1392.6" r="9" fill="#BEBEBE"/><circle cx="278.1" cy="1403.1" r="9.1" fill="#BEBEBE"/><circle cx="283.9" cy="1411.9" r="8" fill="#BEBEBE"/><circle cx="284.1" cy="1418" r="7.6" fill="#BEBEBE"/><circle cx="285.7" cy="1427.5" r="8.8" fill="#BEBEBE"/><circle cx="288.1" cy="1437.9" r="8.1" fill="#BEBEBE"/><circle cx="291.9" cy="1447.4" r="8.5" fill="#BEBEBE"/><circle cx="294.6" cy="1455" r="9.1" fill="#BEBEBE"/><circle cx="305.2" cy="1462.9" r="7.3" fill="#BEBEBE"/><circle cx="314.3" cy="1453.4" r="7.2" fill="#BEBEBE"/><circle cx="320.9" cy="1442.5" r="8.8" fill="#BEBEBE"/><circle cx="323.1" cy="1432.3" r="7.7" fill="#BEBEBE"/><circle cx="332.3" cy="1423.9" r="9.2" fill="#BEBEBE"/><circle cx="337.6" cy="1418" r="8.1" fill="#BEBEBE"/><circle cx="340.7" cy="1407.4" r="9.3" fill="#BEBEBE"/><circle cx="345" cy="1399.3" r="9.4" fill="#BEBEBE"/><circle cx="353.4" cy="1387.5" r="9.8" fill="#BEBEBE"/><circle cx="353.5" cy="1379.8" r="8.8" fill="#BEBEBE"/><circle cx="360" cy="1370.8" r="9.7" fill="#BEBEBE"/><circle cx="361.6" cy="1361.7" r="8.1" fill="#BEBEBE"/><circle cx="363.3" cy="1351.8" r="7.6" fill="#BEBEBE"/><circle cx="368.1" cy="1346.5" r="7.6" fill="#BEBEBE"/><circle cx="368.2" cy="1337.5" r="8.6" fill="#BEBEBE"/><circle cx="372.3" cy="1325.5" r="8.8" fill="#BEBEBE"/><circle cx="376.7" cy="1317.4" r="8.3" fill="#BEBEBE"/><circle cx="376.3" cy="1310.2" r="7.3" fill="#BEBEBE"/><circle cx="380.8" cy="1301" r="7.6" fill="#BEBEBE"/><circle cx="384.1" cy="1289.9" r="8.9" fill="#BEBEBE"/><circle cx="386.8" cy="1275" r="8.4" fill="#BEBEBE"/><circle cx="205.9" cy="1466" r="7.6" fill="#BEBEBE"/><circle cx="212.9" cy="1473.5" r="9" fill="#BEBEBE"/><circle cx="226.4" cy="1475.9" r="8" fill="#BEBEBE"/><circle cx="243.2" cy="1478.4" r="7.5" fill="#BEBEBE"/><circle cx="259.7" cy="1479.9" r="7.8" fill="#BEBEBE"/><circle cx="274.9" cy="1483.5" r="8.4" fill="#BEBEBE"/><circle cx="286.9" cy="1482.8" r="7" fill="#BEBEBE"/><circle cx="299.7" cy="1485.3" r="9" fill="#BEBEBE"/><circle cx="313.2" cy="1484.2" r="8.8" fill="#BEBEBE"/><circle cx="327.4" cy="1482.7" r="8.7" fill="#BEBEBE"/><circle cx="339.6" cy="1481.6" r="7.5" fill="#BEBEBE"/><circle cx="354.3" cy="1479.3" r="8.6" fill="#BEBEBE"/><circle cx="368" cy="1477.3" r="8.5" fill="#BEBEBE"/><circle cx="388.2" cy="1468.5" r="8.2" fill="#BEBEBE"/><circle cx="210.5" cy="1325.3" r="8" fill="#BEBEBE"/><circle cx="211.6" cy="1339.8" r="8.8" fill="#BEBEBE"/><circle cx="210.7" cy="1354.3" r="8.7" fill="#BEBEBE"/><circle cx="211.7" cy="1368.2" r="8.9" fill="#BEBEBE"/><circle cx="211.7" cy="1383.4" r="9.3" fill="#BEBEBE"/><circle cx="211.9" cy="1397.5" r="8.1" fill="#BEBEBE"/><circle cx="210.3" cy="1412.7" r="9.2" fill="#BEBEBE"/><circle cx="211" cy="1426.9" r="8.6" fill="#BEBEBE"/><circle cx="211.5" cy="1440.3" r="8.8" fill="#BEBEBE"/><circle cx="211.2" cy="1455.8" r="7.9" fill="#BEBEBE"/><circle cx="390.2" cy="1265.5" r="8.4" fill="#BEBEBE"/><circle cx="390.4" cy="1278.7" r="7.2" fill="#BEBEBE"/><circle cx="389.9" cy="1294.6" r="7.4" fill="#BEBEBE"/><circle cx="390.4" cy="1309.2" r="6.9" fill="#BEBEBE"/><circle cx="389.9" cy="1323" r="6.9" fill="#BEBEBE"/><circle cx="389.3" cy="1337.8" r="7.3" fill="#BEBEBE"/><circle cx="389.4" cy="1351.9" r="8" fill="#BEBEBE"/><circle cx="389.8" cy="1367.7" r="8.3" fill="#BEBEBE"/><circle cx="389.5" cy="1382.9" r="6.8" fill="#BEBEBE"/><circle cx="389.8" cy="1396.3" r="7.8" fill="#BEBEBE"/><circle cx="389.2" cy="1412.1" r="7.8" fill="#BEBEBE"/><circle cx="389.1" cy="1426.3" r="7" fill="#BEBEBE"/><circle cx="390.1" cy="1440.4" r="8.3" fill="#BEBEBE"/><circle cx="390.9" cy="1456" r="7.9" fill="#BEBEBE"/><circle cx="219.5" cy="1138.6" r="10.8" fill="#BEBEBE"/><circle cx="216" cy="1168" r="10.5" fill="#BEBEBE"/><circle cx="233.5" cy="1202" r="12" fill="#BEBEBE"/><circle cx="255.4" cy="1234.7" r="10.5" fill="#BEBEBE"/><circle cx="232" cy="1261.7" r="11" fill="#BEBEBE"/><circle cx="259" cy="1281.4" r="10" fill="#BEBEBE"/><circle cx="266" cy="1295.8" r="10" fill="#BEBEBE"/><circle cx="243" cy="1297.6" r="10" fill="#BEBEBE"/><circle cx="257" cy="1328" r="10" fill="#BEBEBE"/><circle cx="270" cy="1348" r="9.5" fill="#BEBEBE"/><circle cx="217.7" cy="1207.8" r="10" fill="#BEBEBE"/><circle cx="217.7" cy="1240" r="10" fill="#BEBEBE"/><circle cx="208.7" cy="1322.7" r="9" fill="#BEBEBE"/><circle cx="225" cy="1285" r="10" fill="#BEBEBE"/><circle cx="240" cy="1310" r="10" fill="#BEBEBE"/><circle cx="285" cy="1380" r="9" fill="#BEBEBE"/><circle cx="290" cy="1400" r="9" fill="#BEBEBE"/><circle cx="354" cy="1295" r="10" fill="#BEBEBE"/><circle cx="336" cy="1314.6" r="10" fill="#BEBEBE"/><circle cx="347" cy="1333.5" r="10" fill="#BEBEBE"/><circle cx="340" cy="1367.6" r="10" fill="#BEBEBE"/><circle cx="327" cy="1383.8" r="9" fill="#BEBEBE"/><circle cx="322" cy="1405" r="9" fill="#BEBEBE"/><circle cx="320" cy="1416" r="9" fill="#BEBEBE"/><circle cx="310" cy="1428.7" r="9" fill="#BEBEBE"/><circle cx="383" cy="1267" r="9" fill="#BEBEBE"/><circle cx="335" cy="1400" r="9" fill="#BEBEBE"/><circle cx="330" cy="1425" r="9" fill="#BEBEBE"/></g><g fill="#C8444C"><circle cx="621.7" cy="931.8" r="13" fill="#C8444C"/><circle cx="595" cy="994.6" r="13" fill="#C8444C"/><circle cx="655.7" cy="991" r="13" fill="#C8444C"/><circle cx="563.7" cy="1008" r="13" fill="#C8444C"/><circle cx="511.5" cy="1304" r="8" fill="#C8444C"/><circle cx="498" cy="1330.7" r="8" fill="#C8444C"/><circle cx="507" cy="1335" r="8" fill="#C8444C"/><circle cx="542.5" cy="1333.7" r="8" fill="#C8444C"/><circle cx="462.8" cy="1367" r="8" fill="#C8444C"/><circle cx="477.5" cy="1366" r="8" fill="#C8444C"/><circle cx="495" cy="1373.6" r="8" fill="#C8444C"/><circle cx="533.7" cy="1373.6" r="8" fill="#C8444C"/><circle cx="548.5" cy="1372" r="8" fill="#C8444C"/><circle cx="471.6" cy="1384" r="8" fill="#C8444C"/><circle cx="468.7" cy="1392.8" r="8" fill="#C8444C"/><circle cx="597" cy="1378" r="8" fill="#C8444C"/><circle cx="480.5" cy="1354.4" r="8" fill="#C8444C"/><circle cx="684.9" cy="1311.6" r="8" fill="#C8444C"/><circle cx="761" cy="1290" r="8" fill="#C8444C"/><circle cx="406.2" cy="1430" r="7.5" fill="#C8444C"/><circle cx="424.7" cy="1439.4" r="7.5" fill="#C8444C"/><circle cx="458.6" cy="1448.6" r="7.5" fill="#C8444C"/><circle cx="427.8" cy="1464" r="7.5" fill="#C8444C"/><circle cx="421.6" cy="1468.7" r="7.5" fill="#C8444C"/><circle cx="398.5" cy="1465.6" r="7.5" fill="#C8444C"/><circle cx="551" cy="1433.2" r="7.5" fill="#C8444C"/><circle cx="598.6" cy="1379.4" r="7.5" fill="#C8444C"/><circle cx="520" cy="1310" r="8" fill="#C8444C"/><circle cx="535" cy="1345" r="8" fill="#C8444C"/></g><circle cx="161" cy="1384" r="7" fill="#5B95CC"/><g opacity="0.75"><line x1="610" y1="971.7" x2="597" y2="990" stroke="#000" stroke-width="0.9"/><line x1="750" y1="1270.7" x2="761" y2="1290" stroke="#000" stroke-width="0.9"/><line x1="712" y1="1367" x2="600" y2="1379" stroke="#000" stroke-width="0.9"/><line x1="400" y1="1445" x2="460" y2="1450" stroke="#000" stroke-width="0.9"/><line x1="430" y1="1465" x2="470" y2="1468" stroke="#000" stroke-width="0.9"/><line x1="520" y1="1257.6" x2="525" y2="1300" stroke="#000" stroke-width="0.9"/><line x1="560" y1="1257" x2="545" y2="1300" stroke="#000" stroke-width="0.9"/><line x1="470" y1="1290.8" x2="495" y2="1330" stroke="#000" stroke-width="0.9"/><line x1="520" y1="1293" x2="505" y2="1330" stroke="#000" stroke-width="0.9"/><line x1="540" y1="1293" x2="510" y2="1330" stroke="#000" stroke-width="0.9"/><line x1="560" y1="1293" x2="540" y2="1330" stroke="#000" stroke-width="0.9"/><line x1="600" y1="1293" x2="545" y2="1330" stroke="#000" stroke-width="0.9"/><line x1="480" y1="1327" x2="490" y2="1370" stroke="#000" stroke-width="0.9"/><line x1="440" y1="1363" x2="465" y2="1367" stroke="#000" stroke-width="0.9"/><line x1="600" y1="1330" x2="545" y2="1372" stroke="#000" stroke-width="0.9"/><line x1="640" y1="1330" x2="600" y2="1378" stroke="#000" stroke-width="0.9"/><line x1="470" y1="1405" x2="470" y2="1392" stroke="#000" stroke-width="0.9"/><line x1="550" y1="1413" x2="598" y2="1380" stroke="#000" stroke-width="0.9"/><line x1="409" y1="1487" x2="406" y2="1432" stroke="#000" stroke-width="0.9"/><line x1="430" y1="1487" x2="427" y2="1466" stroke="#000" stroke-width="0.9"/><line x1="698" y1="1487" x2="600" y2="1470" stroke="#000" stroke-width="0.9"/><line x1="740" y1="1487" x2="620" y2="1470" stroke="#000" stroke-width="0.9"/><line x1="660" y1="1487" x2="560" y2="1440" stroke="#000" stroke-width="0.9"/></g><rect x="629.6" y="908.4" width="75.8" height="28.3" rx="3" fill="#fff" stroke="#444" stroke-width="1.2"/><text x="667.5" y="930.4" font-size="21.8" text-anchor="middle" font-weight="bold">ASPM</text><rect x="576" y="942.9" width="75.2" height="28.8" rx="3" fill="#fff" stroke="#444" stroke-width="1.2"/><text x="613.6" y="965.1" font-size="21.8" text-anchor="middle" font-weight="bold">RRM2</text><rect x="657.4" y="957.6" width="86.9" height="27.6" rx="3" fill="#fff" stroke="#444" stroke-width="1.2"/><text x="700.8" y="979.2" font-size="21.8" text-anchor="middle" font-weight="bold">UBE2C</text><rect x="482.5" y="973.6" width="87.5" height="28.9" rx="3" fill="#fff" stroke="#444" stroke-width="1.2"/><text x="526.2" y="995.9" font-size="21.8" text-anchor="middle" font-weight="bold">CCNB1</text><rect x="481.2" y="1192.6" width="104.9" height="30.3" rx="3" fill="#fff" stroke="#444" stroke-width="1.2"/><text x="533.6" y="1215.6" font-size="21.8" text-anchor="middle" font-weight="bold">GUCA1A</text><rect x="609.4" y="1219.3" width="103.2" height="28.7" rx="3" fill="#fff" stroke="#444" stroke-width="1.2"/><text x="661" y="1241.5" font-size="21.8" text-anchor="middle" font-weight="bold">IGKV1−5</text><rect x="340" y="1226.5" width="112.4" height="29.6" rx="3" fill="#fff" stroke="#444" stroke-width="1.2"/><text x="396.2" y="1249.1" font-size="21.8" text-anchor="middle" font-weight="bold">POU2AF1</text><rect x="459" y="1228" width="67.7" height="29.6" rx="3" fill="#fff" stroke="#444" stroke-width="1.2"/><text x="492.9" y="1250.6" font-size="21.8" text-anchor="middle" font-weight="bold">CD19</text><rect x="544" y="1228" width="66.5" height="29.6" rx="3" fill="#fff" stroke="#444" stroke-width="1.2"/><text x="577.2" y="1250.6" font-size="21.8" text-anchor="middle" font-weight="bold">IGKC</text><rect x="696.5" y="1243" width="90.5" height="27.7" rx="3" fill="#fff" stroke="#444" stroke-width="1.2"/><text x="741.8" y="1264.7" font-size="21.8" text-anchor="middle" font-weight="bold">PRAME</text><rect x="394" y="1262" width="82.8" height="28.8" rx="3" fill="#fff" stroke="#444" stroke-width="1.2"/><text x="435.4" y="1284.2" font-size="21.8" text-anchor="middle" font-weight="bold">FCRL2</text><rect x="500.4" y="1263.5" width="76.9" height="29.5" rx="3" fill="#fff" stroke="#444" stroke-width="1.2"/><text x="538.8" y="1286.1" font-size="21.8" text-anchor="middle" font-weight="bold">IGLC2</text><rect x="586" y="1264.5" width="56.7" height="28.5" rx="3" fill="#fff" stroke="#444" stroke-width="1.2"/><text x="614.4" y="1286.6" font-size="21.8" text-anchor="middle" font-weight="bold">CR2</text><rect x="657" y="1279.3" width="95" height="28.3" rx="3" fill="#fff" stroke="#444" stroke-width="1.2"/><text x="704.5" y="1301.3" font-size="21.8" text-anchor="middle" font-weight="bold">EEF1A2</text><rect x="426.5" y="1297.5" width="83.5" height="29.5" rx="3" fill="#fff" stroke="#444" stroke-width="1.2"/><text x="468.2" y="1320.1" font-size="21.8" text-anchor="middle" font-weight="bold">CD79A</text><rect x="521.9" y="1300" width="110.6" height="28" rx="3" fill="#fff" stroke="#444" stroke-width="1.2"/><text x="577.2" y="1321.8" font-size="21.8" text-anchor="middle" font-weight="bold">IGLV2−14</text><rect x="600" y="1316" width="114" height="28.6" rx="3" fill="#fff" stroke="#444" stroke-width="1.2"/><text x="657" y="1338.1" font-size="21.8" text-anchor="middle" font-weight="bold">IGHV1−69</text><rect x="563" y="1344.6" width="85.5" height="27.7" rx="3" fill="#fff" stroke="#444" stroke-width="1.2"/><text x="605.8" y="1366.3" font-size="21.8" text-anchor="middle" font-weight="bold">FDCSP</text><rect x="404.4" y="1333.7" width="66.5" height="29.3" rx="3" fill="#fff" stroke="#444" stroke-width="1.2"/><text x="437.6" y="1356.2" font-size="21.8" text-anchor="middle" font-weight="bold">PAX5</text><rect x="482.7" y="1339.6" width="101.3" height="29.4" rx="3" fill="#fff" stroke="#444" stroke-width="1.2"/><text x="533.4" y="1362.1" font-size="21.8" text-anchor="middle" font-weight="bold">SPOCK1</text><rect x="712.6" y="1350" width="70.2" height="28.4" rx="3" fill="#fff" stroke="#444" stroke-width="1.2"/><text x="747.7" y="1372" font-size="21.8" text-anchor="middle" font-weight="bold">KLK6</text><rect x="480" y="1379.4" width="78.6" height="26.1" rx="3" fill="#fff" stroke="#444" stroke-width="1.2"/><text x="519.3" y="1400.3" font-size="21.8" text-anchor="middle" font-weight="bold">IGHA1</text><rect x="547.8" y="1384.6" width="69.2" height="28.6" rx="3" fill="#fff" stroke="#444" stroke-width="1.2"/><text x="582.4" y="1406.7" font-size="21.8" text-anchor="middle" font-weight="bold">IGHM</text><rect x="624.2" y="1384.6" width="85.3" height="28.6" rx="3" fill="#fff" stroke="#444" stroke-width="1.2"/><text x="666.9" y="1406.7" font-size="21.8" text-anchor="middle" font-weight="bold">MS4A1</text><rect x="426.2" y="1399.4" width="90.8" height="29.2" rx="3" fill="#fff" stroke="#444" stroke-width="1.2"/><text x="471.6" y="1421.8" font-size="21.8" text-anchor="middle" font-weight="bold">IGLL3P</text><rect x="588.8" y="1420" width="103.7" height="28.6" rx="3" fill="#fff" stroke="#444" stroke-width="1.2"/><text x="640.6" y="1442.1" font-size="21.8" text-anchor="middle" font-weight="bold">MAGEA3</text><rect x="460" y="1435.7" width="102" height="27.7" rx="3" fill="#fff" stroke="#444" stroke-width="1.2"/><text x="511" y="1457.4" font-size="21.8" text-anchor="middle" font-weight="bold">IGLV4−3</text><rect x="516" y="1442.5" width="85" height="27.7" rx="3" fill="#fff" stroke="#444" stroke-width="1.2"/><text x="558.5" y="1464.2" font-size="21.8" text-anchor="middle" font-weight="bold">KRT6B</text><rect x="459" y="1473.3" width="84" height="26.7" rx="3" fill="#fff" stroke="#444" stroke-width="1.2"/><text x="501" y="1494.5" font-size="21.8" text-anchor="middle" font-weight="bold">NTSR1</text><rect x="405.3" y="1487" width="71.7" height="29.4" rx="3" fill="#fff" stroke="#444" stroke-width="1.2"/><text x="441.1" y="1509.5" font-size="21.8" text-anchor="middle" font-weight="bold">CD1A</text><rect x="527.8" y="1487.7" width="104.2" height="28.7" rx="3" fill="#fff" stroke="#444" stroke-width="1.2"/><text x="579.9" y="1509.9" font-size="21.8" text-anchor="middle" font-weight="bold">MAGEA4</text><rect x="690" y="1487.7" width="98" height="28.7" rx="3" fill="#fff" stroke="#444" stroke-width="1.2"/><text x="739" y="1509.9" font-size="21.8" text-anchor="middle" font-weight="bold">MAGEC2</text><rect x="634" y="1487.7" width="67.8" height="28.7" rx="3" fill="#fff" stroke="#444" stroke-width="1.2"/><text x="667.9" y="1509.9" font-size="21.8" text-anchor="middle" font-weight="bold">IGHD</text><rect x="145.8" y="1348.3" width="60.6" height="28.7" rx="3" fill="#fff" stroke="#444" stroke-width="1.2"/><text x="176.1" y="1370.5" font-size="21.8" text-anchor="middle" font-weight="bold">MAL</text><line x1="211.8" y1="1518" x2="211.8" y2="905.4" stroke="#000" stroke-width="2.6" stroke-dasharray="4 5 15 5"/><line x1="388.7" y1="1518" x2="388.7" y2="905.4" stroke="#000" stroke-width="2.6" stroke-dasharray="4 5 15 5"/><line x1="131.8" y1="1478.1" x2="791" y2="1478.1" stroke="#000" stroke-width="2.6" stroke-dasharray="4 5 15 5"/><rect x="131.8" y="905.4" width="659.2" height="612.6" fill="none" stroke="#333333" stroke-width="2.2"/><line x1="300.2" y1="1518" x2="300.2" y2="1525.5" stroke="#333333" stroke-width="2.2"/><text x="300.2" y="1551.2" font-size="25" text-anchor="middle" fill="#4D4D4D">0</text><line x1="477.1" y1="1518" x2="477.1" y2="1525.5" stroke="#333333" stroke-width="2.2"/><text x="477.1" y="1551.2" font-size="25" text-anchor="middle" fill="#4D4D4D">2</text><line x1="654" y1="1518" x2="654" y2="1525.5" stroke="#333333" stroke-width="2.2"/><text x="654" y="1551.2" font-size="25" text-anchor="middle" fill="#4D4D4D">4</text><line x1="124.3" y1="1491.1" x2="131.8" y2="1491.1" stroke="#333333" stroke-width="2.2"/><text x="119" y="1500.1" font-size="25" text-anchor="end" fill="#4D4D4D">0</text><line x1="124.3" y1="1291.6" x2="131.8" y2="1291.6" stroke="#333333" stroke-width="2.2"/><text x="119" y="1300.6" font-size="25" text-anchor="end" fill="#4D4D4D">20</text><line x1="124.3" y1="1092.1" x2="131.8" y2="1092.1" stroke="#333333" stroke-width="2.2"/><text x="119" y="1101.1" font-size="25" text-anchor="end" fill="#4D4D4D">40</text><text x="461.4" y="882" font-size="37" text-anchor="middle">Tumor vs Normal</text><text x="461.4" y="1586.8" font-size="31.5" text-anchor="middle">log<tspan font-size="23" dy="5.5">2</tspan><tspan dy="-5.5">(FoldChange)</tspan></text><text transform="translate(68.5,1211) rotate(-90)" font-size="31" text-anchor="middle">−log<tspan font-size="23" dy="5.5">10</tspan><tspan dy="-5.5">P</tspan></text></g><g id="panelD"><path d="M1109 258.4h33.1v33.1h-33.1zM1109 291.5h33.1v33.1h-33.1zM1142.1 291.5h33.1v33.1h-33.1zM1109 324.5h33.1v33.1h-33.1zM1142.1 324.5h33.1v33.1h-33.1zM1175.1 324.5h33.1v33.1h-33.1zM1109 357.6h33.1v33.1h-33.1zM1142.1 357.6h33.1v33.1h-33.1zM1175.1 357.6h33.1v33.1h-33.1zM1208.2 357.6h33.1v33.1h-33.1zM1109 390.7h33.1v33.1h-33.1zM1142.1 390.7h33.1v33.1h-33.1zM1175.1 390.7h33.1v33.1h-33.1zM1208.2 390.7h33.1v33.1h-33.1zM1241.3 390.7h33.1v33.1h-33.1zM1109 423.8h33.1v33.1h-33.1zM1142.1 423.8h33.1v33.1h-33.1zM1175.1 423.8h33.1v33.1h-33.1zM1208.2 423.8h33.1v33.1h-33.1zM1241.3 423.8h33.1v33.1h-33.1zM1274.3 423.8h33.1v33.1h-33.1zM1109 456.8h33.1v33.1h-33.1zM1142.1 456.8h33.1v33.1h-33.1zM1175.1 456.8h33.1v33.1h-33.1zM1208.2 456.8h33.1v33.1h-33.1zM1241.3 456.8h33.1v33.1h-33.1zM1274.3 456.8h33.1v33.1h-33.1zM1307.4 456.8h33.1v33.1h-33.1zM1109 489.9h33.1v33.1h-33.1zM1142.1 489.9h33.1v33.1h-33.1zM1175.1 489.9h33.1v33.1h-33.1zM1208.2 489.9h33.1v33.1h-33.1zM1241.3 489.9h33.1v33.1h-33.1zM1274.3 489.9h33.1v33.1h-33.1zM1307.4 489.9h33.1v33.1h-33.1zM1340.5 489.9h33.1v33.1h-33.1zM1109 523h33.1v33.1h-33.1zM1142.1 523h33.1v33.1h-33.1zM1175.1 523h33.1v33.1h-33.1zM1208.2 523h33.1v33.1h-33.1zM1241.3 523h33.1v33.1h-33.1zM1274.3 523h33.1v33.1h-33.1zM1307.4 523h33.1v33.1h-33.1zM1340.5 523h33.1v33.1h-33.1zM1373.6 523h33.1v33.1h-33.1zM1109 556h33.1v33.1h-33.1zM1142.1 556h33.1v33.1h-33.1zM1175.1 556h33.1v33.1h-33.1zM1208.2 556h33.1v33.1h-33.1zM1241.3 556h33.1v33.1h-33.1zM1274.3 556h33.1v33.1h-33.1zM1307.4 556h33.1v33.1h-33.1zM1340.5 556h33.1v33.1h-33.1zM1373.6 556h33.1v33.1h-33.1zM1406.6 556h33.1v33.1h-33.1zM1109 589.1h33.1v33.1h-33.1zM1142.1 589.1h33.1v33.1h-33.1zM1175.1 589.1h33.1v33.1h-33.1zM1208.2 589.1h33.1v33.1h-33.1zM1241.3 589.1h33.1v33.1h-33.1zM1274.3 589.1h33.1v33.1h-33.1zM1307.4 589.1h33.1v33.1h-33.1zM1340.5 589.1h33.1v33.1h-33.1zM1373.6 589.1h33.1v33.1h-33.1zM1406.6 589.1h33.1v33.1h-33.1zM1439.7 589.1h33.1v33.1h-33.1zM1109 622.2h33.1v33.1h-33.1zM1142.1 622.2h33.1v33.1h-33.1zM1175.1 622.2h33.1v33.1h-33.1zM1208.2 622.2h33.1v33.1h-33.1zM1241.3 622.2h33.1v33.1h-33.1zM1274.3 622.2h33.1v33.1h-33.1zM1307.4 622.2h33.1v33.1h-33.1zM1340.5 622.2h33.1v33.1h-33.1zM1373.6 622.2h33.1v33.1h-33.1zM1406.6 622.2h33.1v33.1h-33.1zM1439.7 622.2h33.1v33.1h-33.1zM1472.8 622.2h33.1v33.1h-33.1zM1109 655.2h33.1v33.1h-33.1zM1142.1 655.2h33.1v33.1h-33.1zM1175.1 655.2h33.1v33.1h-33.1zM1208.2 655.2h33.1v33.1h-33.1zM1241.3 655.2h33.1v33.1h-33.1zM1274.3 655.2h33.1v33.1h-33.1zM1307.4 655.2h33.1v33.1h-33.1zM1340.5 655.2h33.1v33.1h-33.1zM1373.6 655.2h33.1v33.1h-33.1zM1406.6 655.2h33.1v33.1h-33.1zM1439.7 655.2h33.1v33.1h-33.1zM1472.8 655.2h33.1v33.1h-33.1zM1505.8 655.2h33.1v33.1h-33.1zM1109 688.3h33.1v33.1h-33.1zM1142.1 688.3h33.1v33.1h-33.1zM1175.1 688.3h33.1v33.1h-33.1zM1208.2 688.3h33.1v33.1h-33.1zM1241.3 688.3h33.1v33.1h-33.1zM1274.3 688.3h33.1v33.1h-33.1zM1307.4 688.3h33.1v33.1h-33.1zM1340.5 688.3h33.1v33.1h-33.1zM1373.6 688.3h33.1v33.1h-33.1zM1406.6 688.3h33.1v33.1h-33.1zM1439.7 688.3h33.1v33.1h-33.1zM1472.8 688.3h33.1v33.1h-33.1zM1505.8 688.3h33.1v33.1h-33.1zM1538.9 688.3h33.1v33.1h-33.1zM1109 721.4h33.1v33.1h-33.1zM1142.1 721.4h33.1v33.1h-33.1zM1175.1 721.4h33.1v33.1h-33.1zM1208.2 721.4h33.1v33.1h-33.1zM1241.3 721.4h33.1v33.1h-33.1zM1274.3 721.4h33.1v33.1h-33.1zM1307.4 721.4h33.1v33.1h-33.1zM1340.5 721.4h33.1v33.1h-33.1zM1373.6 721.4h33.1v33.1h-33.1zM1406.6 721.4h33.1v33.1h-33.1zM1439.7 721.4h33.1v33.1h-33.1zM1472.8 721.4h33.1v33.1h-33.1zM1505.8 721.4h33.1v33.1h-33.1zM1538.9 721.4h33.1v33.1h-33.1zM1572 721.4h33.1v33.1h-33.1zM1109 754.5h33.1v33.1h-33.1zM1142.1 754.5h33.1v33.1h-33.1zM1175.1 754.5h33.1v33.1h-33.1zM1208.2 754.5h33.1v33.1h-33.1zM1241.3 754.5h33.1v33.1h-33.1zM1274.3 754.5h33.1v33.1h-33.1zM1307.4 754.5h33.1v33.1h-33.1zM1340.5 754.5h33.1v33.1h-33.1zM1373.6 754.5h33.1v33.1h-33.1zM1406.6 754.5h33.1v33.1h-33.1zM1439.7 754.5h33.1v33.1h-33.1zM1472.8 754.5h33.1v33.1h-33.1zM1505.8 754.5h33.1v33.1h-33.1zM1538.9 754.5h33.1v33.1h-33.1zM1572 754.5h33.1v33.1h-33.1zM1605 754.5h33.1v33.1h-33.1zM1109 787.5h33.1v33.1h-33.1zM1142.1 787.5h33.1v33.1h-33.1zM1175.1 787.5h33.1v33.1h-33.1zM1208.2 787.5h33.1v33.1h-33.1zM1241.3 787.5h33.1v33.1h-33.1zM1274.3 787.5h33.1v33.1h-33.1zM1307.4 787.5h33.1v33.1h-33.1zM1340.5 787.5h33.1v33.1h-33.1zM1373.6 787.5h33.1v33.1h-33.1zM1406.6 787.5h33.1v33.1h-33.1zM1439.7 787.5h33.1v33.1h-33.1zM1472.8 787.5h33.1v33.1h-33.1zM1505.8 787.5h33.1v33.1h-33.1zM1538.9 787.5h33.1v33.1h-33.1zM1572 787.5h33.1v33.1h-33.1zM1605 787.5h33.1v33.1h-33.1zM1638.1 787.5h33.1v33.1h-33.1zM1109 820.6h33.1v33.1h-33.1zM1142.1 820.6h33.1v33.1h-33.1zM1175.1 820.6h33.1v33.1h-33.1zM1208.2 820.6h33.1v33.1h-33.1zM1241.3 820.6h33.1v33.1h-33.1zM1274.3 820.6h33.1v33.1h-33.1zM1307.4 820.6h33.1v33.1h-33.1zM1340.5 820.6h33.1v33.1h-33.1zM1373.6 820.6h33.1v33.1h-33.1zM1406.6 820.6h33.1v33.1h-33.1zM1439.7 820.6h33.1v33.1h-33.1zM1472.8 820.6h33.1v33.1h-33.1zM1505.8 820.6h33.1v33.1h-33.1zM1538.9 820.6h33.1v33.1h-33.1zM1572 820.6h33.1v33.1h-33.1zM1605 820.6h33.1v33.1h-33.1zM1638.1 820.6h33.1v33.1h-33.1zM1671.2 820.6h33.1v33.1h-33.1zM1109 853.7h33.1v33.1h-33.1zM1142.1 853.7h33.1v33.1h-33.1zM1175.1 853.7h33.1v33.1h-33.1zM1208.2 853.7h33.1v33.1h-33.1zM1241.3 853.7h33.1v33.1h-33.1zM1274.3 853.7h33.1v33.1h-33.1zM1307.4 853.7h33.1v33.1h-33.1zM1340.5 853.7h33.1v33.1h-33.1zM1373.6 853.7h33.1v33.1h-33.1zM1406.6 853.7h33.1v33.1h-33.1zM1439.7 853.7h33.1v33.1h-33.1zM1472.8 853.7h33.1v33.1h-33.1zM1505.8 853.7h33.1v33.1h-33.1zM1538.9 853.7h33.1v33.1h-33.1zM1572 853.7h33.1v33.1h-33.1zM1605 853.7h33.1v33.1h-33.1zM1638.1 853.7h33.1v33.1h-33.1zM1671.2 853.7h33.1v33.1h-33.1zM1704.3 853.7h33.1v33.1h-33.1zM1109 886.7h33.1v33.1h-33.1zM1142.1 886.7h33.1v33.1h-33.1zM1175.1 886.7h33.1v33.1h-33.1zM1208.2 886.7h33.1v33.1h-33.1zM1241.3 886.7h33.1v33.1h-33.1zM1274.3 886.7h33.1v33.1h-33.1zM1307.4 886.7h33.1v33.1h-33.1zM1340.5 886.7h33.1v33.1h-33.1zM1373.6 886.7h33.1v33.1h-33.1zM1406.6 886.7h33.1v33.1h-33.1zM1439.7 886.7h33.1v33.1h-33.1zM1472.8 886.7h33.1v33.1h-33.1zM1505.8 886.7h33.1v33.1h-33.1zM1538.9 886.7h33.1v33.1h-33.1zM1572 886.7h33.1v33.1h-33.1zM1605 886.7h33.1v33.1h-33.1zM1638.1 886.7h33.1v33.1h-33.1zM1671.2 886.7h33.1v33.1h-33.1zM1704.3 886.7h33.1v33.1h-33.1zM1737.3 886.7h33.1v33.1h-33.1zM1109 919.8h33.1v33.1h-33.1zM1142.1 919.8h33.1v33.1h-33.1zM1175.1 919.8h33.1v33.1h-33.1zM1208.2 919.8h33.1v33.1h-33.1zM1241.3 919.8h33.1v33.1h-33.1zM1274.3 919.8h33.1v33.1h-33.1zM1307.4 919.8h33.1v33.1h-33.1zM1340.5 919.8h33.1v33.1h-33.1zM1373.6 919.8h33.1v33.1h-33.1zM1406.6 919.8h33.1v33.1h-33.1zM1439.7 919.8h33.1v33.1h-33.1zM1472.8 919.8h33.1v33.1h-33.1zM1505.8 919.8h33.1v33.1h-33.1zM1538.9 919.8h33.1v33.1h-33.1zM1572 919.8h33.1v33.1h-33.1zM1605 919.8h33.1v33.1h-33.1zM1638.1 919.8h33.1v33.1h-33.1zM1671.2 919.8h33.1v33.1h-33.1zM1704.3 919.8h33.1v33.1h-33.1zM1737.3 919.8h33.1v33.1h-33.1zM1770.4 919.8h33.1v33.1h-33.1zM1109 952.9h33.1v33.1h-33.1zM1142.1 952.9h33.1v33.1h-33.1zM1175.1 952.9h33.1v33.1h-33.1zM1208.2 952.9h33.1v33.1h-33.1zM1241.3 952.9h33.1v33.1h-33.1zM1274.3 952.9h33.1v33.1h-33.1zM1307.4 952.9h33.1v33.1h-33.1zM1340.5 952.9h33.1v33.1h-33.1zM1373.6 952.9h33.1v33.1h-33.1zM1406.6 952.9h33.1v33.1h-33.1zM1439.7 952.9h33.1v33.1h-33.1zM1472.8 952.9h33.1v33.1h-33.1zM1505.8 952.9h33.1v33.1h-33.1zM1538.9 952.9h33.1v33.1h-33.1zM1572 952.9h33.1v33.1h-33.1zM1605 952.9h33.1v33.1h-33.1zM1638.1 952.9h33.1v33.1h-33.1zM1671.2 952.9h33.1v33.1h-33.1zM1704.3 952.9h33.1v33.1h-33.1zM1737.3 952.9h33.1v33.1h-33.1zM1770.4 952.9h33.1v33.1h-33.1zM1803.5 952.9h33.1v33.1h-33.1zM1109 985.9h33.1v33.1h-33.1zM1142.1 985.9h33.1v33.1h-33.1zM1175.1 985.9h33.1v33.1h-33.1zM1208.2 985.9h33.1v33.1h-33.1zM1241.3 985.9h33.1v33.1h-33.1zM1274.3 985.9h33.1v33.1h-33.1zM1307.4 985.9h33.1v33.1h-33.1zM1340.5 985.9h33.1v33.1h-33.1zM1373.6 985.9h33.1v33.1h-33.1zM1406.6 985.9h33.1v33.1h-33.1zM1439.7 985.9h33.1v33.1h-33.1zM1472.8 985.9h33.1v33.1h-33.1zM1505.8 985.9h33.1v33.1h-33.1zM1538.9 985.9h33.1v33.1h-33.1zM1572 985.9h33.1v33.1h-33.1zM1605 985.9h33.1v33.1h-33.1zM1638.1 985.9h33.1v33.1h-33.1zM1671.2 985.9h33.1v33.1h-33.1zM1704.3 985.9h33.1v33.1h-33.1zM1737.3 985.9h33.1v33.1h-33.1zM1770.4 985.9h33.1v33.1h-33.1zM1803.5 985.9h33.1v33.1h-33.1zM1836.5 985.9h33.1v33.1h-33.1zM1109 1019h33.1v33.1h-33.1zM1142.1 1019h33.1v33.1h-33.1zM1175.1 1019h33.1v33.1h-33.1zM1208.2 1019h33.1v33.1h-33.1zM1241.3 1019h33.1v33.1h-33.1zM1274.3 1019h33.1v33.1h-33.1zM1307.4 1019h33.1v33.1h-33.1zM1340.5 1019h33.1v33.1h-33.1zM1373.6 1019h33.1v33.1h-33.1zM1406.6 1019h33.1v33.1h-33.1zM1439.7 1019h33.1v33.1h-33.1zM1472.8 1019h33.1v33.1h-33.1zM1505.8 1019h33.1v33.1h-33.1zM1538.9 1019h33.1v33.1h-33.1zM1572 1019h33.1v33.1h-33.1zM1605 1019h33.1v33.1h-33.1zM1638.1 1019h33.1v33.1h-33.1zM1671.2 1019h33.1v33.1h-33.1zM1704.3 1019h33.1v33.1h-33.1zM1737.3 1019h33.1v33.1h-33.1zM1770.4 1019h33.1v33.1h-33.1zM1803.5 1019h33.1v33.1h-33.1zM1836.5 1019h33.1v33.1h-33.1zM1869.6 1019h33.1v33.1h-33.1zM1109 1052.1h33.1v33.1h-33.1zM1142.1 1052.1h33.1v33.1h-33.1zM1175.1 1052.1h33.1v33.1h-33.1zM1208.2 1052.1h33.1v33.1h-33.1zM1241.3 1052.1h33.1v33.1h-33.1zM1274.3 1052.1h33.1v33.1h-33.1zM1307.4 1052.1h33.1v33.1h-33.1zM1340.5 1052.1h33.1v33.1h-33.1zM1373.6 1052.1h33.1v33.1h-33.1zM1406.6 1052.1h33.1v33.1h-33.1zM1439.7 1052.1h33.1v33.1h-33.1zM1472.8 1052.1h33.1v33.1h-33.1zM1505.8 1052.1h33.1v33.1h-33.1zM1538.9 1052.1h33.1v33.1h-33.1zM1572 1052.1h33.1v33.1h-33.1zM1605 1052.1h33.1v33.1h-33.1zM1638.1 1052.1h33.1v33.1h-33.1zM1671.2 1052.1h33.1v33.1h-33.1zM1704.3 1052.1h33.1v33.1h-33.1zM1737.3 1052.1h33.1v33.1h-33.1zM1770.4 1052.1h33.1v33.1h-33.1zM1803.5 1052.1h33.1v33.1h-33.1zM1836.5 1052.1h33.1v33.1h-33.1zM1869.6 1052.1h33.1v33.1h-33.1zM1902.7 1052.1h33.1v33.1h-33.1zM1109 1085.2h33.1v33.1h-33.1zM1142.1 1085.2h33.1v33.1h-33.1zM1175.1 1085.2h33.1v33.1h-33.1zM1208.2 1085.2h33.1v33.1h-33.1zM1241.3 1085.2h33.1v33.1h-33.1zM1274.3 1085.2h33.1v33.1h-33.1zM1307.4 1085.2h33.1v33.1h-33.1zM1340.5 1085.2h33.1v33.1h-33.1zM1373.6 1085.2h33.1v33.1h-33.1zM1406.6 1085.2h33.1v33.1h-33.1zM1439.7 1085.2h33.1v33.1h-33.1zM1472.8 1085.2h33.1v33.1h-33.1zM1505.8 1085.2h33.1v33.1h-33.1zM1538.9 1085.2h33.1v33.1h-33.1zM1572 1085.2h33.1v33.1h-33.1zM1605 1085.2h33.1v33.1h-33.1zM1638.1 1085.2h33.1v33.1h-33.1zM1671.2 1085.2h33.1v33.1h-33.1zM1704.3 1085.2h33.1v33.1h-33.1zM1737.3 1085.2h33.1v33.1h-33.1zM1770.4 1085.2h33.1v33.1h-33.1zM1803.5 1085.2h33.1v33.1h-33.1zM1836.5 1085.2h33.1v33.1h-33.1zM1869.6 1085.2h33.1v33.1h-33.1zM1902.7 1085.2h33.1v33.1h-33.1zM1935.8 1085.2h33.1v33.1h-33.1zM1109 1118.2h33.1v33.1h-33.1zM1142.1 1118.2h33.1v33.1h-33.1zM1175.1 1118.2h33.1v33.1h-33.1zM1208.2 1118.2h33.1v33.1h-33.1zM1241.3 1118.2h33.1v33.1h-33.1zM1274.3 1118.2h33.1v33.1h-33.1zM1307.4 1118.2h33.1v33.1h-33.1zM1340.5 1118.2h33.1v33.1h-33.1zM1373.6 1118.2h33.1v33.1h-33.1zM1406.6 1118.2h33.1v33.1h-33.1zM1439.7 1118.2h33.1v33.1h-33.1zM1472.8 1118.2h33.1v33.1h-33.1zM1505.8 1118.2h33.1v33.1h-33.1zM1538.9 1118.2h33.1v33.1h-33.1zM1572 1118.2h33.1v33.1h-33.1zM1605 1118.2h33.1v33.1h-33.1zM1638.1 1118.2h33.1v33.1h-33.1zM1671.2 1118.2h33.1v33.1h-33.1zM1704.3 1118.2h33.1v33.1h-33.1zM1737.3 1118.2h33.1v33.1h-33.1zM1770.4 1118.2h33.1v33.1h-33.1zM1803.5 1118.2h33.1v33.1h-33.1zM1836.5 1118.2h33.1v33.1h-33.1zM1869.6 1118.2h33.1v33.1h-33.1zM1902.7 1118.2h33.1v33.1h-33.1zM1935.8 1118.2h33.1v33.1h-33.1zM1968.8 1118.2h33.1v33.1h-33.1zM1109 1151.3h33.1v33.1h-33.1zM1142.1 1151.3h33.1v33.1h-33.1zM1175.1 1151.3h33.1v33.1h-33.1zM1208.2 1151.3h33.1v33.1h-33.1zM1241.3 1151.3h33.1v33.1h-33.1zM1274.3 1151.3h33.1v33.1h-33.1zM1307.4 1151.3h33.1v33.1h-33.1zM1340.5 1151.3h33.1v33.1h-33.1zM1373.6 1151.3h33.1v33.1h-33.1zM1406.6 1151.3h33.1v33.1h-33.1zM1439.7 1151.3h33.1v33.1h-33.1zM1472.8 1151.3h33.1v33.1h-33.1zM1505.8 1151.3h33.1v33.1h-33.1zM1538.9 1151.3h33.1v33.1h-33.1zM1572 1151.3h33.1v33.1h-33.1zM1605 1151.3h33.1v33.1h-33.1zM1638.1 1151.3h33.1v33.1h-33.1zM1671.2 1151.3h33.1v33.1h-33.1zM1704.3 1151.3h33.1v33.1h-33.1zM1737.3 1151.3h33.1v33.1h-33.1zM1770.4 1151.3h33.1v33.1h-33.1zM1803.5 1151.3h33.1v33.1h-33.1zM1836.5 1151.3h33.1v33.1h-33.1zM1869.6 1151.3h33.1v33.1h-33.1zM1902.7 1151.3h33.1v33.1h-33.1zM1935.8 1151.3h33.1v33.1h-33.1zM1968.8 1151.3h33.1v33.1h-33.1zM2001.9 1151.3h33.1v33.1h-33.1zM1109 1184.4h33.1v33.1h-33.1zM1142.1 1184.4h33.1v33.1h-33.1zM1175.1 1184.4h33.1v33.1h-33.1zM1208.2 1184.4h33.1v33.1h-33.1zM1241.3 1184.4h33.1v33.1h-33.1zM1274.3 1184.4h33.1v33.1h-33.1zM1307.4 1184.4h33.1v33.1h-33.1zM1340.5 1184.4h33.1v33.1h-33.1zM1373.6 1184.4h33.1v33.1h-33.1zM1406.6 1184.4h33.1v33.1h-33.1zM1439.7 1184.4h33.1v33.1h-33.1zM1472.8 1184.4h33.1v33.1h-33.1zM1505.8 1184.4h33.1v33.1h-33.1zM1538.9 1184.4h33.1v33.1h-33.1zM1572 1184.4h33.1v33.1h-33.1zM1605 1184.4h33.1v33.1h-33.1zM1638.1 1184.4h33.1v33.1h-33.1zM1671.2 1184.4h33.1v33.1h-33.1zM1704.3 1184.4h33.1v33.1h-33.1zM1737.3 1184.4h33.1v33.1h-33.1zM1770.4 1184.4h33.1v33.1h-33.1zM1803.5 1184.4h33.1v33.1h-33.1zM1836.5 1184.4h33.1v33.1h-33.1zM1869.6 1184.4h33.1v33.1h-33.1zM1902.7 1184.4h33.1v33.1h-33.1zM1935.8 1184.4h33.1v33.1h-33.1zM1968.8 1184.4h33.1v33.1h-33.1zM2001.9 1184.4h33.1v33.1h-33.1zM2035 1184.4h33.1v33.1h-33.1zM1109 1217.4h33.1v33.1h-33.1zM1142.1 1217.4h33.1v33.1h-33.1zM1175.1 1217.4h33.1v33.1h-33.1zM1208.2 1217.4h33.1v33.1h-33.1zM1241.3 1217.4h33.1v33.1h-33.1zM1274.3 1217.4h33.1v33.1h-33.1zM1307.4 1217.4h33.1v33.1h-33.1zM1340.5 1217.4h33.1v33.1h-33.1zM1373.6 1217.4h33.1v33.1h-33.1zM1406.6 1217.4h33.1v33.1h-33.1zM1439.7 1217.4h33.1v33.1h-33.1zM1472.8 1217.4h33.1v33.1h-33.1zM1505.8 1217.4h33.1v33.1h-33.1zM1538.9 1217.4h33.1v33.1h-33.1zM1572 1217.4h33.1v33.1h-33.1zM1605 1217.4h33.1v33.1h-33.1zM1638.1 1217.4h33.1v33.1h-33.1zM1671.2 1217.4h33.1v33.1h-33.1zM1704.3 1217.4h33.1v33.1h-33.1zM1737.3 1217.4h33.1v33.1h-33.1zM1770.4 1217.4h33.1v33.1h-33.1zM1803.5 1217.4h33.1v33.1h-33.1zM1836.5 1217.4h33.1v33.1h-33.1zM1869.6 1217.4h33.1v33.1h-33.1zM1902.7 1217.4h33.1v33.1h-33.1zM1935.8 1217.4h33.1v33.1h-33.1zM1968.8 1217.4h33.1v33.1h-33.1zM2001.9 1217.4h33.1v33.1h-33.1zM2035 1217.4h33.1v33.1h-33.1zM2068 1217.4h33.1v33.1h-33.1zM1109 1250.5h33.1v33.1h-33.1zM1142.1 1250.5h33.1v33.1h-33.1zM1175.1 1250.5h33.1v33.1h-33.1zM1208.2 1250.5h33.1v33.1h-33.1zM1241.3 1250.5h33.1v33.1h-33.1zM1274.3 1250.5h33.1v33.1h-33.1zM1307.4 1250.5h33.1v33.1h-33.1zM1340.5 1250.5h33.1v33.1h-33.1zM1373.6 1250.5h33.1v33.1h-33.1zM1406.6 1250.5h33.1v33.1h-33.1zM1439.7 1250.5h33.1v33.1h-33.1zM1472.8 1250.5h33.1v33.1h-33.1zM1505.8 1250.5h33.1v33.1h-33.1zM1538.9 1250.5h33.1v33.1h-33.1zM1572 1250.5h33.1v33.1h-33.1zM1605 1250.5h33.1v33.1h-33.1zM1638.1 1250.5h33.1v33.1h-33.1zM1671.2 1250.5h33.1v33.1h-33.1zM1704.3 1250.5h33.1v33.1h-33.1zM1737.3 1250.5h33.1v33.1h-33.1zM1770.4 1250.5h33.1v33.1h-33.1zM1803.5 1250.5h33.1v33.1h-33.1zM1836.5 1250.5h33.1v33.1h-33.1zM1869.6 1250.5h33.1v33.1h-33.1zM1902.7 1250.5h33.1v33.1h-33.1zM1935.8 1250.5h33.1v33.1h-33.1zM1968.8 1250.5h33.1v33.1h-33.1zM2001.9 1250.5h33.1v33.1h-33.1zM2035 1250.5h33.1v33.1h-33.1zM2068 1250.5h33.1v33.1h-33.1zM2101.1 1250.5h33.1v33.1h-33.1zM1109 1283.6h33.1v33.1h-33.1zM1142.1 1283.6h33.1v33.1h-33.1zM1175.1 1283.6h33.1v33.1h-33.1zM1208.2 1283.6h33.1v33.1h-33.1zM1241.3 1283.6h33.1v33.1h-33.1zM1274.3 1283.6h33.1v33.1h-33.1zM1307.4 1283.6h33.1v33.1h-33.1zM1340.5 1283.6h33.1v33.1h-33.1zM1373.6 1283.6h33.1v33.1h-33.1zM1406.6 1283.6h33.1v33.1h-33.1zM1439.7 1283.6h33.1v33.1h-33.1zM1472.8 1283.6h33.1v33.1h-33.1zM1505.8 1283.6h33.1v33.1h-33.1zM1538.9 1283.6h33.1v33.1h-33.1zM1572 1283.6h33.1v33.1h-33.1zM1605 1283.6h33.1v33.1h-33.1zM1638.1 1283.6h33.1v33.1h-33.1zM1671.2 1283.6h33.1v33.1h-33.1zM1704.3 1283.6h33.1v33.1h-33.1zM1737.3 1283.6h33.1v33.1h-33.1zM1770.4 1283.6h33.1v33.1h-33.1zM1803.5 1283.6h33.1v33.1h-33.1zM1836.5 1283.6h33.1v33.1h-33.1zM1869.6 1283.6h33.1v33.1h-33.1zM1902.7 1283.6h33.1v33.1h-33.1zM1935.8 1283.6h33.1v33.1h-33.1zM1968.8 1283.6h33.1v33.1h-33.1zM2001.9 1283.6h33.1v33.1h-33.1zM2035 1283.6h33.1v33.1h-33.1zM2068 1283.6h33.1v33.1h-33.1zM2101.1 1283.6h33.1v33.1h-33.1zM2134.2 1283.6h33.1v33.1h-33.1zM1109 1316.6h33.1v33.1h-33.1zM1142.1 1316.6h33.1v33.1h-33.1zM1175.1 1316.6h33.1v33.1h-33.1zM1208.2 1316.6h33.1v33.1h-33.1zM1241.3 1316.6h33.1v33.1h-33.1zM1274.3 1316.6h33.1v33.1h-33.1zM1307.4 1316.6h33.1v33.1h-33.1zM1340.5 1316.6h33.1v33.1h-33.1zM1373.6 1316.6h33.1v33.1h-33.1zM1406.6 1316.6h33.1v33.1h-33.1zM1439.7 1316.6h33.1v33.1h-33.1zM1472.8 1316.6h33.1v33.1h-33.1zM1505.8 1316.6h33.1v33.1h-33.1zM1538.9 1316.6h33.1v33.1h-33.1zM1572 1316.6h33.1v33.1h-33.1zM1605 1316.6h33.1v33.1h-33.1zM1638.1 1316.6h33.1v33.1h-33.1zM1671.2 1316.6h33.1v33.1h-33.1zM1704.3 1316.6h33.1v33.1h-33.1zM1737.3 1316.6h33.1v33.1h-33.1zM1770.4 1316.6h33.1v33.1h-33.1zM1803.5 1316.6h33.1v33.1h-33.1zM1836.5 1316.6h33.1v33.1h-33.1zM1869.6 1316.6h33.1v33.1h-33.1zM1902.7 1316.6h33.1v33.1h-33.1zM1935.8 1316.6h33.1v33.1h-33.1zM1968.8 1316.6h33.1v33.1h-33.1zM2001.9 1316.6h33.1v33.1h-33.1zM2035 1316.6h33.1v33.1h-33.1zM2068 1316.6h33.1v33.1h-33.1zM2101.1 1316.6h33.1v33.1h-33.1zM2134.2 1316.6h33.1v33.1h-33.1zM2167.2 1316.6h33.1v33.1h-33.1zM1109 1349.7h33.1v33.1h-33.1zM1142.1 1349.7h33.1v33.1h-33.1zM1175.1 1349.7h33.1v33.1h-33.1zM1208.2 1349.7h33.1v33.1h-33.1zM1241.3 1349.7h33.1v33.1h-33.1zM1274.3 1349.7h33.1v33.1h-33.1zM1307.4 1349.7h33.1v33.1h-33.1zM1340.5 1349.7h33.1v33.1h-33.1zM1373.6 1349.7h33.1v33.1h-33.1zM1406.6 1349.7h33.1v33.1h-33.1zM1439.7 1349.7h33.1v33.1h-33.1zM1472.8 1349.7h33.1v33.1h-33.1zM1505.8 1349.7h33.1v33.1h-33.1zM1538.9 1349.7h33.1v33.1h-33.1zM1572 1349.7h33.1v33.1h-33.1zM1605 1349.7h33.1v33.1h-33.1zM1638.1 1349.7h33.1v33.1h-33.1zM1671.2 1349.7h33.1v33.1h-33.1zM1704.3 1349.7h33.1v33.1h-33.1zM1737.3 1349.7h33.1v33.1h-33.1zM1770.4 1349.7h33.1v33.1h-33.1zM1803.5 1349.7h33.1v33.1h-33.1zM1836.5 1349.7h33.1v33.1h-33.1zM1869.6 1349.7h33.1v33.1h-33.1zM1902.7 1349.7h33.1v33.1h-33.1zM1935.8 1349.7h33.1v33.1h-33.1zM1968.8 1349.7h33.1v33.1h-33.1zM2001.9 1349.7h33.1v33.1h-33.1zM2035 1349.7h33.1v33.1h-33.1zM2068 1349.7h33.1v33.1h-33.1zM2101.1 1349.7h33.1v33.1h-33.1zM2134.2 1349.7h33.1v33.1h-33.1zM2167.2 1349.7h33.1v33.1h-33.1zM2200.3 1349.7h33.1v33.1h-33.1zM1109 1382.8h33.1v33.1h-33.1zM1142.1 1382.8h33.1v33.1h-33.1zM1175.1 1382.8h33.1v33.1h-33.1zM1208.2 1382.8h33.1v33.1h-33.1zM1241.3 1382.8h33.1v33.1h-33.1zM1274.3 1382.8h33.1v33.1h-33.1zM1307.4 1382.8h33.1v33.1h-33.1zM1340.5 1382.8h33.1v33.1h-33.1zM1373.6 1382.8h33.1v33.1h-33.1zM1406.6 1382.8h33.1v33.1h-33.1zM1439.7 1382.8h33.1v33.1h-33.1zM1472.8 1382.8h33.1v33.1h-33.1zM1505.8 1382.8h33.1v33.1h-33.1zM1538.9 1382.8h33.1v33.1h-33.1zM1572 1382.8h33.1v33.1h-33.1zM1605 1382.8h33.1v33.1h-33.1zM1638.1 1382.8h33.1v33.1h-33.1zM1671.2 1382.8h33.1v33.1h-33.1zM1704.3 1382.8h33.1v33.1h-33.1zM1737.3 1382.8h33.1v33.1h-33.1zM1770.4 1382.8h33.1v33.1h-33.1zM1803.5 1382.8h33.1v33.1h-33.1zM1836.5 1382.8h33.1v33.1h-33.1zM1869.6 1382.8h33.1v33.1h-33.1zM1902.7 1382.8h33.1v33.1h-33.1zM1935.8 1382.8h33.1v33.1h-33.1zM1968.8 1382.8h33.1v33.1h-33.1zM2001.9 1382.8h33.1v33.1h-33.1zM2035 1382.8h33.1v33.1h-33.1zM2068 1382.8h33.1v33.1h-33.1zM2101.1 1382.8h33.1v33.1h-33.1zM2134.2 1382.8h33.1v33.1h-33.1zM2167.2 1382.8h33.1v33.1h-33.1zM2200.3 1382.8h33.1v33.1h-33.1zM2233.4 1382.8h33.1v33.1h-33.1z" fill="#DDEAEA" stroke="#C4C4C4" stroke-width="1.3"/><g fill="none" stroke="#FF0000" stroke-width="1.3"><circle cx="1125.5" cy="308" r="13.5"/><circle cx="1125.5" cy="341.1" r="13.5"/><circle cx="1158.6" cy="341.1" r="13.5"/><circle cx="1125.5" cy="374.1" r="13.5"/><circle cx="1191.7" cy="374.1" r="13.5"/><circle cx="1125.5" cy="407.2" r="13.5"/><circle cx="1158.6" cy="407.2" r="13.5"/><circle cx="1125.5" cy="440.3" r="13.5"/><circle cx="1158.6" cy="440.3" r="13.5"/><circle cx="1257.8" cy="440.3" r="13.5"/><circle cx="1125.5" cy="473.4" r="13.5"/><circle cx="1158.6" cy="473.4" r="13.5"/><circle cx="1257.8" cy="473.4" r="13.5"/><circle cx="1290.9" cy="473.4" r="13.5"/><circle cx="1125.5" cy="506.4" r="13.5"/><circle cx="1158.6" cy="506.4" r="13.5"/><circle cx="1257.8" cy="506.4" r="13.5"/><circle cx="1224.7" cy="572.6" r="13.5"/><circle cx="1423.2" cy="771" r="13.5"/><circle cx="2051.5" cy="1234" r="13.5"/><circle cx="2051.5" cy="1333.2" r="13.5"/><circle cx="2084.6" cy="1333.2" r="13.5"/><circle cx="2183.8" cy="1366.2" r="13.5"/></g><g fill="none" stroke="#FF3939" stroke-width="1.3"><circle cx="1158.6" cy="374.1" r="13.5"/><circle cx="1191.7" cy="407.2" r="13.5"/><circle cx="1224.7" cy="407.2" r="13.5"/><circle cx="1191.7" cy="440.3" r="13.5"/><circle cx="1224.7" cy="440.3" r="13.5"/><circle cx="1191.7" cy="473.4" r="13.5"/><circle cx="1224.7" cy="473.4" r="13.5"/><circle cx="1191.7" cy="506.4" r="13.5"/><circle cx="1224.7" cy="506.4" r="13.5"/><circle cx="1290.9" cy="506.4" r="13.5"/><circle cx="1324" cy="506.4" r="13.5"/><circle cx="1125.5" cy="539.5" r="13.5"/><circle cx="1158.6" cy="539.5" r="13.5"/><circle cx="1191.7" cy="539.5" r="13.5"/><circle cx="1224.7" cy="539.5" r="13.5"/><circle cx="1257.8" cy="539.5" r="13.5"/><circle cx="1290.9" cy="539.5" r="13.5"/><circle cx="1324" cy="539.5" r="13.5"/><circle cx="1357" cy="539.5" r="13.5"/><circle cx="1125.5" cy="572.6" r="13.5"/><circle cx="1191.7" cy="572.6" r="13.5"/><circle cx="1390.1" cy="572.6" r="13.5"/><circle cx="1125.5" cy="605.6" r="13.5"/><circle cx="1158.6" cy="605.6" r="13.5"/><circle cx="1191.7" cy="605.6" r="13.5"/><circle cx="1224.7" cy="605.6" r="13.5"/><circle cx="1324" cy="605.6" r="13.5"/><circle cx="1423.2" cy="605.6" r="13.5"/><circle cx="1125.5" cy="638.7" r="13.5"/><circle cx="1158.6" cy="638.7" r="13.5"/><circle cx="1191.7" cy="638.7" r="13.5"/><circle cx="1224.7" cy="638.7" r="13.5"/><circle cx="1257.8" cy="638.7" r="13.5"/><circle cx="1290.9" cy="638.7" r="13.5"/><circle cx="1324" cy="638.7" r="13.5"/><circle cx="1357" cy="638.7" r="13.5"/><circle cx="1125.5" cy="671.8" r="13.5"/><circle cx="1158.6" cy="671.8" r="13.5"/><circle cx="1191.7" cy="671.8" r="13.5"/><circle cx="1257.8" cy="671.8" r="13.5"/><circle cx="1324" cy="671.8" r="13.5"/><circle cx="1357" cy="671.8" r="13.5"/><circle cx="1125.5" cy="704.8" r="13.5"/><circle cx="1158.6" cy="704.8" r="13.5"/><circle cx="1191.7" cy="704.8" r="13.5"/><circle cx="1257.8" cy="704.8" r="13.5"/><circle cx="1290.9" cy="704.8" r="13.5"/><circle cx="1324" cy="704.8" r="13.5"/><circle cx="1357" cy="704.8" r="13.5"/><circle cx="1125.5" cy="737.9" r="13.5"/><circle cx="1191.7" cy="737.9" r="13.5"/><circle cx="1224.7" cy="737.9" r="13.5"/><circle cx="1423.2" cy="737.9" r="13.5"/><circle cx="1456.2" cy="737.9" r="13.5"/><circle cx="1125.5" cy="771" r="13.5"/><circle cx="1224.7" cy="771" r="13.5"/><circle cx="1588.5" cy="771" r="13.5"/><circle cx="1224.7" cy="804.1" r="13.5"/><circle cx="1423.2" cy="804.1" r="13.5"/><circle cx="1588.5" cy="804.1" r="13.5"/><circle cx="1621.6" cy="804.1" r="13.5"/><circle cx="1753.9" cy="969.4" r="13.5"/><circle cx="1853.1" cy="1167.8" r="13.5"/><circle cx="1985.4" cy="1167.8" r="13.5"/><circle cx="2051.5" cy="1366.2" r="13.5"/><circle cx="2084.6" cy="1366.2" r="13.5"/></g><g fill="none" stroke="#FF7171" stroke-width="1.3"><circle cx="1158.6" cy="572.6" r="13.5"/><circle cx="1257.8" cy="572.6" r="13.5"/><circle cx="1290.9" cy="572.6" r="13.5"/><circle cx="1324" cy="572.6" r="13.5"/><circle cx="1357" cy="572.6" r="13.5"/><circle cx="1257.8" cy="605.6" r="13.5"/><circle cx="1290.9" cy="605.6" r="13.5"/><circle cx="1357" cy="605.6" r="13.5"/><circle cx="1390.1" cy="605.6" r="13.5"/><circle cx="1390.1" cy="638.7" r="13.5"/><circle cx="1423.2" cy="638.7" r="13.5"/><circle cx="1456.2" cy="638.7" r="13.5"/><circle cx="1224.7" cy="671.8" r="13.5"/><circle cx="1290.9" cy="671.8" r="13.5"/><circle cx="1390.1" cy="671.8" r="13.5"/><circle cx="1423.2" cy="671.8" r="13.5"/><circle cx="1456.2" cy="671.8" r="13.5"/><circle cx="1489.3" cy="671.8" r="13.5"/><circle cx="1224.7" cy="704.8" r="13.5"/><circle cx="1390.1" cy="704.8" r="13.5"/><circle cx="1423.2" cy="704.8" r="13.5"/><circle cx="1456.2" cy="704.8" r="13.5"/><circle cx="1489.3" cy="704.8" r="13.5"/><circle cx="1522.4" cy="704.8" r="13.5"/><circle cx="1158.6" cy="737.9" r="13.5"/><circle cx="1257.8" cy="737.9" r="13.5"/><circle cx="1290.9" cy="737.9" r="13.5"/><circle cx="1324" cy="737.9" r="13.5"/><circle cx="1357" cy="737.9" r="13.5"/><circle cx="1390.1" cy="737.9" r="13.5"/><circle cx="1522.4" cy="737.9" r="13.5"/><circle cx="1555.4" cy="737.9" r="13.5"/><circle cx="1158.6" cy="771" r="13.5"/><circle cx="1191.7" cy="771" r="13.5"/><circle cx="1257.8" cy="771" r="13.5"/><circle cx="1290.9" cy="771" r="13.5"/><circle cx="1357" cy="771" r="13.5"/><circle cx="1390.1" cy="771" r="13.5"/><circle cx="1456.2" cy="771" r="13.5"/><circle cx="1125.5" cy="804.1" r="13.5"/><circle cx="1158.6" cy="804.1" r="13.5"/><circle cx="1191.7" cy="804.1" r="13.5"/><circle cx="1357" cy="804.1" r="13.5"/><circle cx="1390.1" cy="804.1" r="13.5"/><circle cx="1456.2" cy="804.1" r="13.5"/><circle cx="1125.5" cy="837.1" r="13.5"/><circle cx="1158.6" cy="837.1" r="13.5"/><circle cx="1191.7" cy="837.1" r="13.5"/><circle cx="1224.7" cy="837.1" r="13.5"/><circle cx="1257.8" cy="837.1" r="13.5"/><circle cx="1290.9" cy="837.1" r="13.5"/><circle cx="1324" cy="837.1" r="13.5"/><circle cx="1357" cy="837.1" r="13.5"/><circle cx="1390.1" cy="837.1" r="13.5"/><circle cx="1423.2" cy="837.1" r="13.5"/><circle cx="1489.3" cy="837.1" r="13.5"/><circle cx="1522.4" cy="837.1" r="13.5"/><circle cx="1555.4" cy="837.1" r="13.5"/><circle cx="1125.5" cy="870.2" r="13.5"/><circle cx="1158.6" cy="870.2" r="13.5"/><circle cx="1224.7" cy="870.2" r="13.5"/><circle cx="1257.8" cy="870.2" r="13.5"/><circle cx="1290.9" cy="870.2" r="13.5"/><circle cx="1324" cy="870.2" r="13.5"/><circle cx="1357" cy="870.2" r="13.5"/><circle cx="1390.1" cy="870.2" r="13.5"/><circle cx="1423.2" cy="870.2" r="13.5"/><circle cx="1489.3" cy="870.2" r="13.5"/><circle cx="1621.6" cy="870.2" r="13.5"/><circle cx="1853.1" cy="1134.8" r="13.5"/><circle cx="1952.3" cy="1134.8" r="13.5"/><circle cx="1952.3" cy="1167.8" r="13.5"/><circle cx="1753.9" cy="1200.9" r="13.5"/><circle cx="1753.9" cy="1234" r="13.5"/><circle cx="1919.2" cy="1300.1" r="13.5"/><circle cx="1753.9" cy="1333.2" r="13.5"/><circle cx="2018.4" cy="1333.2" r="13.5"/><circle cx="1753.9" cy="1366.2" r="13.5"/><circle cx="1919.2" cy="1399.3" r="13.5"/><circle cx="2051.5" cy="1399.3" r="13.5"/><circle cx="2084.6" cy="1399.3" r="13.5"/><circle cx="2183.8" cy="1399.3" r="13.5"/><circle cx="2216.8" cy="1399.3" r="13.5"/></g><g fill="none" stroke="#FFAAAA" stroke-width="1.3"><circle cx="1489.3" cy="737.9" r="13.5"/><circle cx="1324" cy="771" r="13.5"/><circle cx="1489.3" cy="771" r="13.5"/><circle cx="1522.4" cy="771" r="13.5"/><circle cx="1555.4" cy="771" r="13.5"/><circle cx="1257.8" cy="804.1" r="13.5"/><circle cx="1290.9" cy="804.1" r="13.5"/><circle cx="1324" cy="804.1" r="13.5"/><circle cx="1489.3" cy="804.1" r="13.5"/><circle cx="1522.4" cy="804.1" r="13.5"/><circle cx="1555.4" cy="804.1" r="13.5"/><circle cx="1456.2" cy="837.1" r="13.5"/><circle cx="1588.5" cy="837.1" r="13.5"/><circle cx="1621.6" cy="837.1" r="13.5"/><circle cx="1654.7" cy="837.1" r="13.5"/><circle cx="1191.7" cy="870.2" r="13.5"/><circle cx="1456.2" cy="870.2" r="13.5"/><circle cx="1522.4" cy="870.2" r="13.5"/><circle cx="1555.4" cy="870.2" r="13.5"/><circle cx="1588.5" cy="870.2" r="13.5"/><circle cx="1654.7" cy="870.2" r="13.5"/><circle cx="1687.7" cy="870.2" r="13.5"/><circle cx="1125.5" cy="903.3" r="13.5"/><circle cx="1158.6" cy="903.3" r="13.5"/><circle cx="1257.8" cy="903.3" r="13.5"/><circle cx="1290.9" cy="903.3" r="13.5"/><circle cx="1324" cy="903.3" r="13.5"/><circle cx="1489.3" cy="903.3" r="13.5"/><circle cx="1621.6" cy="936.3" r="13.5"/><circle cx="1654.7" cy="936.3" r="13.5"/><circle cx="1720.8" cy="936.3" r="13.5"/><circle cx="1290.9" cy="969.4" r="13.5"/><circle cx="1489.3" cy="969.4" r="13.5"/><circle cx="1753.9" cy="1002.5" r="13.5"/><circle cx="1820" cy="1002.5" r="13.5"/><circle cx="1753.9" cy="1035.5" r="13.5"/><circle cx="1820" cy="1035.5" r="13.5"/><circle cx="1853.1" cy="1035.5" r="13.5"/><circle cx="1753.9" cy="1068.6" r="13.5"/><circle cx="1820" cy="1068.6" r="13.5"/><circle cx="1886.1" cy="1068.6" r="13.5"/><circle cx="1753.9" cy="1101.7" r="13.5"/><circle cx="1820" cy="1101.7" r="13.5"/><circle cx="1853.1" cy="1101.7" r="13.5"/><circle cx="1753.9" cy="1134.8" r="13.5"/><circle cx="1820" cy="1134.8" r="13.5"/><circle cx="1753.9" cy="1167.8" r="13.5"/><circle cx="1820" cy="1167.8" r="13.5"/><circle cx="1820" cy="1200.9" r="13.5"/><circle cx="1853.1" cy="1200.9" r="13.5"/><circle cx="1886.1" cy="1200.9" r="13.5"/><circle cx="1919.2" cy="1200.9" r="13.5"/><circle cx="1952.3" cy="1200.9" r="13.5"/><circle cx="1985.4" cy="1200.9" r="13.5"/><circle cx="2018.4" cy="1200.9" r="13.5"/><circle cx="1820" cy="1234" r="13.5"/><circle cx="1853.1" cy="1234" r="13.5"/><circle cx="1886.1" cy="1234" r="13.5"/><circle cx="1919.2" cy="1234" r="13.5"/><circle cx="1952.3" cy="1234" r="13.5"/><circle cx="1985.4" cy="1234" r="13.5"/><circle cx="2018.4" cy="1234" r="13.5"/><circle cx="1786.9" cy="1267" r="13.5"/><circle cx="1820" cy="1267" r="13.5"/><circle cx="1753.9" cy="1300.1" r="13.5"/><circle cx="1820" cy="1300.1" r="13.5"/><circle cx="1853.1" cy="1300.1" r="13.5"/><circle cx="1886.1" cy="1300.1" r="13.5"/><circle cx="1985.4" cy="1300.1" r="13.5"/><circle cx="2018.4" cy="1300.1" r="13.5"/><circle cx="2051.5" cy="1300.1" r="13.5"/><circle cx="2084.6" cy="1300.1" r="13.5"/><circle cx="1820" cy="1333.2" r="13.5"/><circle cx="1853.1" cy="1333.2" r="13.5"/><circle cx="1886.1" cy="1333.2" r="13.5"/><circle cx="1919.2" cy="1333.2" r="13.5"/><circle cx="1952.3" cy="1333.2" r="13.5"/><circle cx="1985.4" cy="1333.2" r="13.5"/><circle cx="2150.7" cy="1333.2" r="13.5"/><circle cx="1820" cy="1366.2" r="13.5"/><circle cx="1853.1" cy="1366.2" r="13.5"/><circle cx="1886.1" cy="1366.2" r="13.5"/><circle cx="1919.2" cy="1366.2" r="13.5"/><circle cx="1952.3" cy="1366.2" r="13.5"/><circle cx="1985.4" cy="1366.2" r="13.5"/><circle cx="2018.4" cy="1366.2" r="13.5"/><circle cx="2150.7" cy="1366.2" r="13.5"/><circle cx="1753.9" cy="1399.3" r="13.5"/><circle cx="1820" cy="1399.3" r="13.5"/><circle cx="1853.1" cy="1399.3" r="13.5"/><circle cx="1886.1" cy="1399.3" r="13.5"/><circle cx="1952.3" cy="1399.3" r="13.5"/><circle cx="1985.4" cy="1399.3" r="13.5"/><circle cx="2018.4" cy="1399.3" r="13.5"/><circle cx="2150.7" cy="1399.3" r="13.5"/></g><g fill="none" stroke="#FFE3E3" stroke-width="1.3"><circle cx="1191.7" cy="903.3" r="13.5"/><circle cx="1224.7" cy="903.3" r="13.5"/><circle cx="1357" cy="903.3" r="13.5"/><circle cx="1390.1" cy="903.3" r="13.5"/><circle cx="1423.2" cy="903.3" r="13.5"/><circle cx="1456.2" cy="903.3" r="13.5"/><circle cx="1522.4" cy="903.3" r="13.5"/><circle cx="1555.4" cy="903.3" r="13.5"/><circle cx="1588.5" cy="903.3" r="13.5"/><circle cx="1687.7" cy="903.3" r="13.5"/><circle cx="1720.8" cy="903.3" r="13.5"/><circle cx="1125.5" cy="936.3" r="13.5"/><circle cx="1158.6" cy="936.3" r="13.5"/><circle cx="1191.7" cy="936.3" r="13.5"/><circle cx="1224.7" cy="936.3" r="13.5"/><circle cx="1257.8" cy="936.3" r="13.5"/><circle cx="1324" cy="936.3" r="13.5"/><circle cx="1357" cy="936.3" r="13.5"/><circle cx="1390.1" cy="936.3" r="13.5"/><circle cx="1423.2" cy="936.3" r="13.5"/><circle cx="1456.2" cy="936.3" r="13.5"/><circle cx="1522.4" cy="936.3" r="13.5"/><circle cx="1555.4" cy="936.3" r="13.5"/><circle cx="1588.5" cy="936.3" r="13.5"/><circle cx="1687.7" cy="936.3" r="13.5"/><circle cx="1125.5" cy="969.4" r="13.5"/><circle cx="1158.6" cy="969.4" r="13.5"/><circle cx="1191.7" cy="969.4" r="13.5"/><circle cx="1224.7" cy="969.4" r="13.5"/><circle cx="1257.8" cy="969.4" r="13.5"/><circle cx="1324" cy="969.4" r="13.5"/><circle cx="1357" cy="969.4" r="13.5"/><circle cx="1390.1" cy="969.4" r="13.5"/><circle cx="1456.2" cy="969.4" r="13.5"/><circle cx="1522.4" cy="969.4" r="13.5"/><circle cx="1555.4" cy="969.4" r="13.5"/><circle cx="1588.5" cy="969.4" r="13.5"/><circle cx="1687.7" cy="969.4" r="13.5"/><circle cx="1720.8" cy="969.4" r="13.5"/><circle cx="1786.9" cy="969.4" r="13.5"/><circle cx="1125.5" cy="1002.5" r="13.5"/><circle cx="1158.6" cy="1002.5" r="13.5"/><circle cx="1191.7" cy="1002.5" r="13.5"/><circle cx="1224.7" cy="1002.5" r="13.5"/><circle cx="1257.8" cy="1002.5" r="13.5"/><circle cx="1290.9" cy="1002.5" r="13.5"/><circle cx="1324" cy="1002.5" r="13.5"/><circle cx="1357" cy="1002.5" r="13.5"/><circle cx="1390.1" cy="1002.5" r="13.5"/><circle cx="1456.2" cy="1002.5" r="13.5"/><circle cx="1489.3" cy="1002.5" r="13.5"/><circle cx="1522.4" cy="1002.5" r="13.5"/><circle cx="1555.4" cy="1002.5" r="13.5"/><circle cx="1588.5" cy="1002.5" r="13.5"/><circle cx="1654.7" cy="1002.5" r="13.5"/><circle cx="1687.7" cy="1002.5" r="13.5"/><circle cx="1720.8" cy="1002.5" r="13.5"/><circle cx="1125.5" cy="1035.5" r="13.5"/><circle cx="1158.6" cy="1035.5" r="13.5"/><circle cx="1191.7" cy="1035.5" r="13.5"/><circle cx="1224.7" cy="1035.5" r="13.5"/><circle cx="1257.8" cy="1035.5" r="13.5"/><circle cx="1290.9" cy="1035.5" r="13.5"/><circle cx="1324" cy="1035.5" r="13.5"/><circle cx="1357" cy="1035.5" r="13.5"/><circle cx="1390.1" cy="1035.5" r="13.5"/><circle cx="1423.2" cy="1035.5" r="13.5"/><circle cx="1456.2" cy="1035.5" r="13.5"/><circle cx="1489.3" cy="1035.5" r="13.5"/><circle cx="1522.4" cy="1035.5" r="13.5"/><circle cx="1555.4" cy="1035.5" r="13.5"/><circle cx="1588.5" cy="1035.5" r="13.5"/><circle cx="1621.6" cy="1035.5" r="13.5"/><circle cx="1687.7" cy="1035.5" r="13.5"/><circle cx="1786.9" cy="1035.5" r="13.5"/><circle cx="1125.5" cy="1068.6" r="13.5"/><circle cx="1158.6" cy="1068.6" r="13.5"/><circle cx="1191.7" cy="1068.6" r="13.5"/><circle cx="1224.7" cy="1068.6" r="13.5"/><circle cx="1257.8" cy="1068.6" r="13.5"/><circle cx="1290.9" cy="1068.6" r="13.5"/><circle cx="1324" cy="1068.6" r="13.5"/><circle cx="1357" cy="1068.6" r="13.5"/><circle cx="1390.1" cy="1068.6" r="13.5"/><circle cx="1423.2" cy="1068.6" r="13.5"/><circle cx="1456.2" cy="1068.6" r="13.5"/><circle cx="1489.3" cy="1068.6" r="13.5"/><circle cx="1555.4" cy="1068.6" r="13.5"/><circle cx="1588.5" cy="1068.6" r="13.5"/><circle cx="1621.6" cy="1068.6" r="13.5"/><circle cx="1687.7" cy="1068.6" r="13.5"/><circle cx="1720.8" cy="1068.6" r="13.5"/><circle cx="1853.1" cy="1068.6" r="13.5"/><circle cx="1125.5" cy="1101.7" r="13.5"/><circle cx="1158.6" cy="1101.7" r="13.5"/><circle cx="1191.7" cy="1101.7" r="13.5"/><circle cx="1224.7" cy="1101.7" r="13.5"/><circle cx="1257.8" cy="1101.7" r="13.5"/><circle cx="1290.9" cy="1101.7" r="13.5"/><circle cx="1324" cy="1101.7" r="13.5"/><circle cx="1390.1" cy="1101.7" r="13.5"/><circle cx="1456.2" cy="1101.7" r="13.5"/><circle cx="1489.3" cy="1101.7" r="13.5"/><circle cx="1522.4" cy="1101.7" r="13.5"/><circle cx="1555.4" cy="1101.7" r="13.5"/><circle cx="1588.5" cy="1101.7" r="13.5"/><circle cx="1654.7" cy="1101.7" r="13.5"/><circle cx="1886.1" cy="1101.7" r="13.5"/><circle cx="1125.5" cy="1134.8" r="13.5"/><circle cx="1158.6" cy="1134.8" r="13.5"/><circle cx="1191.7" cy="1134.8" r="13.5"/><circle cx="1224.7" cy="1134.8" r="13.5"/><circle cx="1257.8" cy="1134.8" r="13.5"/><circle cx="1290.9" cy="1134.8" r="13.5"/><circle cx="1324" cy="1134.8" r="13.5"/><circle cx="1390.1" cy="1134.8" r="13.5"/><circle cx="1456.2" cy="1134.8" r="13.5"/><circle cx="1489.3" cy="1134.8" r="13.5"/><circle cx="1522.4" cy="1134.8" r="13.5"/><circle cx="1555.4" cy="1134.8" r="13.5"/><circle cx="1588.5" cy="1134.8" r="13.5"/><circle cx="1886.1" cy="1134.8" r="13.5"/><circle cx="1919.2" cy="1134.8" r="13.5"/><circle cx="1125.5" cy="1167.8" r="13.5"/><circle cx="1158.6" cy="1167.8" r="13.5"/><circle cx="1191.7" cy="1167.8" r="13.5"/><circle cx="1224.7" cy="1167.8" r="13.5"/><circle cx="1257.8" cy="1167.8" r="13.5"/><circle cx="1290.9" cy="1167.8" r="13.5"/><circle cx="1324" cy="1167.8" r="13.5"/><circle cx="1390.1" cy="1167.8" r="13.5"/><circle cx="1489.3" cy="1167.8" r="13.5"/><circle cx="1522.4" cy="1167.8" r="13.5"/><circle cx="1555.4" cy="1167.8" r="13.5"/><circle cx="1588.5" cy="1167.8" r="13.5"/><circle cx="1886.1" cy="1167.8" r="13.5"/><circle cx="1919.2" cy="1167.8" r="13.5"/><circle cx="1125.5" cy="1200.9" r="13.5"/><circle cx="1158.6" cy="1200.9" r="13.5"/><circle cx="1191.7" cy="1200.9" r="13.5"/><circle cx="1224.7" cy="1200.9" r="13.5"/><circle cx="1257.8" cy="1200.9" r="13.5"/><circle cx="1290.9" cy="1200.9" r="13.5"/><circle cx="1324" cy="1200.9" r="13.5"/><circle cx="1390.1" cy="1200.9" r="13.5"/><circle cx="1456.2" cy="1200.9" r="13.5"/><circle cx="1489.3" cy="1200.9" r="13.5"/><circle cx="1522.4" cy="1200.9" r="13.5"/><circle cx="1588.5" cy="1200.9" r="13.5"/><circle cx="1125.5" cy="1234" r="13.5"/><circle cx="1158.6" cy="1234" r="13.5"/><circle cx="1191.7" cy="1234" r="13.5"/><circle cx="1224.7" cy="1234" r="13.5"/><circle cx="1257.8" cy="1234" r="13.5"/><circle cx="1290.9" cy="1234" r="13.5"/><circle cx="1324" cy="1234" r="13.5"/><circle cx="1390.1" cy="1234" r="13.5"/><circle cx="1456.2" cy="1234" r="13.5"/><circle cx="1489.3" cy="1234" r="13.5"/><circle cx="1522.4" cy="1234" r="13.5"/><circle cx="1588.5" cy="1234" r="13.5"/><circle cx="1125.5" cy="1267" r="13.5"/><circle cx="1257.8" cy="1267" r="13.5"/><circle cx="1290.9" cy="1267" r="13.5"/><circle cx="1324" cy="1267" r="13.5"/><circle cx="1357" cy="1267" r="13.5"/><circle cx="1390.1" cy="1267" r="13.5"/><circle cx="1456.2" cy="1267" r="13.5"/><circle cx="1489.3" cy="1267" r="13.5"/><circle cx="1555.4" cy="1267" r="13.5"/><circle cx="1588.5" cy="1267" r="13.5"/><circle cx="1720.8" cy="1267" r="13.5"/><circle cx="1753.9" cy="1267" r="13.5"/><circle cx="1853.1" cy="1267" r="13.5"/><circle cx="1886.1" cy="1267" r="13.5"/><circle cx="1919.2" cy="1267" r="13.5"/><circle cx="1952.3" cy="1267" r="13.5"/><circle cx="2018.4" cy="1267" r="13.5"/><circle cx="2051.5" cy="1267" r="13.5"/><circle cx="2084.6" cy="1267" r="13.5"/><circle cx="1125.5" cy="1300.1" r="13.5"/><circle cx="1158.6" cy="1300.1" r="13.5"/><circle cx="1191.7" cy="1300.1" r="13.5"/><circle cx="1257.8" cy="1300.1" r="13.5"/><circle cx="1290.9" cy="1300.1" r="13.5"/><circle cx="1324" cy="1300.1" r="13.5"/><circle cx="1357" cy="1300.1" r="13.5"/><circle cx="1390.1" cy="1300.1" r="13.5"/><circle cx="1489.3" cy="1300.1" r="13.5"/><circle cx="1555.4" cy="1300.1" r="13.5"/><circle cx="1588.5" cy="1300.1" r="13.5"/><circle cx="1720.8" cy="1300.1" r="13.5"/><circle cx="1952.3" cy="1300.1" r="13.5"/><circle cx="2117.6" cy="1300.1" r="13.5"/><circle cx="1125.5" cy="1333.2" r="13.5"/><circle cx="1158.6" cy="1333.2" r="13.5"/><circle cx="1191.7" cy="1333.2" r="13.5"/><circle cx="1224.7" cy="1333.2" r="13.5"/><circle cx="1257.8" cy="1333.2" r="13.5"/><circle cx="1290.9" cy="1333.2" r="13.5"/><circle cx="1324" cy="1333.2" r="13.5"/><circle cx="1390.1" cy="1333.2" r="13.5"/><circle cx="1456.2" cy="1333.2" r="13.5"/><circle cx="1489.3" cy="1333.2" r="13.5"/><circle cx="1588.5" cy="1333.2" r="13.5"/><circle cx="2117.6" cy="1333.2" r="13.5"/><circle cx="1125.5" cy="1366.2" r="13.5"/><circle cx="1158.6" cy="1366.2" r="13.5"/><circle cx="1191.7" cy="1366.2" r="13.5"/><circle cx="1224.7" cy="1366.2" r="13.5"/><circle cx="1290.9" cy="1366.2" r="13.5"/><circle cx="1324" cy="1366.2" r="13.5"/><circle cx="1390.1" cy="1366.2" r="13.5"/><circle cx="1456.2" cy="1366.2" r="13.5"/><circle cx="1489.3" cy="1366.2" r="13.5"/><circle cx="1588.5" cy="1366.2" r="13.5"/><circle cx="2117.6" cy="1366.2" r="13.5"/><circle cx="2117.6" cy="1399.3" r="13.5"/></g><g fill="none" stroke="#EAF1F7" stroke-width="1.3"><circle cx="1621.6" cy="903.3" r="13.5"/><circle cx="1654.7" cy="903.3" r="13.5"/><circle cx="1290.9" cy="936.3" r="13.5"/><circle cx="1489.3" cy="936.3" r="13.5"/><circle cx="1753.9" cy="936.3" r="13.5"/><circle cx="1423.2" cy="969.4" r="13.5"/><circle cx="1621.6" cy="969.4" r="13.5"/><circle cx="1654.7" cy="969.4" r="13.5"/><circle cx="1423.2" cy="1002.5" r="13.5"/><circle cx="1621.6" cy="1002.5" r="13.5"/><circle cx="1654.7" cy="1035.5" r="13.5"/><circle cx="1720.8" cy="1035.5" r="13.5"/><circle cx="1522.4" cy="1068.6" r="13.5"/><circle cx="1654.7" cy="1068.6" r="13.5"/><circle cx="1786.9" cy="1068.6" r="13.5"/><circle cx="1357" cy="1101.7" r="13.5"/><circle cx="1423.2" cy="1101.7" r="13.5"/><circle cx="1621.6" cy="1101.7" r="13.5"/><circle cx="1687.7" cy="1101.7" r="13.5"/><circle cx="1720.8" cy="1101.7" r="13.5"/><circle cx="1919.2" cy="1101.7" r="13.5"/><circle cx="1357" cy="1134.8" r="13.5"/><circle cx="1423.2" cy="1134.8" r="13.5"/><circle cx="1621.6" cy="1134.8" r="13.5"/><circle cx="1654.7" cy="1134.8" r="13.5"/><circle cx="1687.7" cy="1134.8" r="13.5"/><circle cx="1720.8" cy="1134.8" r="13.5"/><circle cx="1357" cy="1167.8" r="13.5"/><circle cx="1423.2" cy="1167.8" r="13.5"/><circle cx="1456.2" cy="1167.8" r="13.5"/><circle cx="1621.6" cy="1167.8" r="13.5"/><circle cx="1654.7" cy="1167.8" r="13.5"/><circle cx="1687.7" cy="1167.8" r="13.5"/><circle cx="1720.8" cy="1167.8" r="13.5"/><circle cx="1357" cy="1200.9" r="13.5"/><circle cx="1423.2" cy="1200.9" r="13.5"/><circle cx="1555.4" cy="1200.9" r="13.5"/><circle cx="1621.6" cy="1200.9" r="13.5"/><circle cx="1654.7" cy="1200.9" r="13.5"/><circle cx="1687.7" cy="1200.9" r="13.5"/><circle cx="1720.8" cy="1200.9" r="13.5"/><circle cx="1357" cy="1234" r="13.5"/><circle cx="1423.2" cy="1234" r="13.5"/><circle cx="1555.4" cy="1234" r="13.5"/><circle cx="1621.6" cy="1234" r="13.5"/><circle cx="1654.7" cy="1234" r="13.5"/><circle cx="1687.7" cy="1234" r="13.5"/><circle cx="1720.8" cy="1234" r="13.5"/><circle cx="1158.6" cy="1267" r="13.5"/><circle cx="1191.7" cy="1267" r="13.5"/><circle cx="1224.7" cy="1267" r="13.5"/><circle cx="1423.2" cy="1267" r="13.5"/><circle cx="1522.4" cy="1267" r="13.5"/><circle cx="1621.6" cy="1267" r="13.5"/><circle cx="1654.7" cy="1267" r="13.5"/><circle cx="1687.7" cy="1267" r="13.5"/><circle cx="1985.4" cy="1267" r="13.5"/><circle cx="1224.7" cy="1300.1" r="13.5"/><circle cx="1423.2" cy="1300.1" r="13.5"/><circle cx="1456.2" cy="1300.1" r="13.5"/><circle cx="1522.4" cy="1300.1" r="13.5"/><circle cx="1621.6" cy="1300.1" r="13.5"/><circle cx="1654.7" cy="1300.1" r="13.5"/><circle cx="1687.7" cy="1300.1" r="13.5"/><circle cx="1786.9" cy="1300.1" r="13.5"/><circle cx="1357" cy="1333.2" r="13.5"/><circle cx="1423.2" cy="1333.2" r="13.5"/><circle cx="1522.4" cy="1333.2" r="13.5"/><circle cx="1555.4" cy="1333.2" r="13.5"/><circle cx="1621.6" cy="1333.2" r="13.5"/><circle cx="1654.7" cy="1333.2" r="13.5"/><circle cx="1687.7" cy="1333.2" r="13.5"/><circle cx="1720.8" cy="1333.2" r="13.5"/><circle cx="1257.8" cy="1366.2" r="13.5"/><circle cx="1357" cy="1366.2" r="13.5"/><circle cx="1423.2" cy="1366.2" r="13.5"/><circle cx="1522.4" cy="1366.2" r="13.5"/><circle cx="1555.4" cy="1366.2" r="13.5"/><circle cx="1621.6" cy="1366.2" r="13.5"/><circle cx="1654.7" cy="1366.2" r="13.5"/><circle cx="1687.7" cy="1366.2" r="13.5"/><circle cx="1720.8" cy="1366.2" r="13.5"/><circle cx="1489.3" cy="1399.3" r="13.5"/></g><g fill="none" stroke="#C1D5E6" stroke-width="1.3"><circle cx="1786.9" cy="1002.5" r="13.5"/><circle cx="1786.9" cy="1101.7" r="13.5"/><circle cx="1786.9" cy="1134.8" r="13.5"/><circle cx="1786.9" cy="1167.8" r="13.5"/><circle cx="1786.9" cy="1200.9" r="13.5"/><circle cx="1786.9" cy="1234" r="13.5"/><circle cx="1786.9" cy="1333.2" r="13.5"/><circle cx="1786.9" cy="1366.2" r="13.5"/><circle cx="1125.5" cy="1399.3" r="13.5"/><circle cx="1158.6" cy="1399.3" r="13.5"/><circle cx="1257.8" cy="1399.3" r="13.5"/><circle cx="1290.9" cy="1399.3" r="13.5"/><circle cx="1324" cy="1399.3" r="13.5"/><circle cx="1357" cy="1399.3" r="13.5"/><circle cx="1390.1" cy="1399.3" r="13.5"/><circle cx="1522.4" cy="1399.3" r="13.5"/><circle cx="1555.4" cy="1399.3" r="13.5"/><circle cx="1588.5" cy="1399.3" r="13.5"/><circle cx="1621.6" cy="1399.3" r="13.5"/><circle cx="1654.7" cy="1399.3" r="13.5"/><circle cx="1687.7" cy="1399.3" r="13.5"/><circle cx="1720.8" cy="1399.3" r="13.5"/><circle cx="1786.9" cy="1399.3" r="13.5"/></g><g fill="none" stroke="#98B9D5" stroke-width="1.3"><circle cx="1191.7" cy="1399.3" r="13.5"/><circle cx="1224.7" cy="1399.3" r="13.5"/><circle cx="1423.2" cy="1399.3" r="13.5"/><circle cx="1456.2" cy="1399.3" r="13.5"/></g><path d="M1125.5 308V294.8A13.2 13.2 0 1 1 1117.8 297.3ZM1125.5 341.1V327.9A13.2 13.2 0 1 1 1116.5 331.5ZM1158.6 341.1V327.9A13.2 13.2 0 1 1 1149.6 331.5ZM1125.5 374.1V360.9A13.2 13.2 0 1 1 1116.5 364.5ZM1191.7 374.1V360.9A13.2 13.2 0 1 1 1181 366.4ZM1125.5 407.2V394A13.2 13.2 0 1 1 1116.5 397.6ZM1158.6 407.2V394A13.2 13.2 0 1 1 1154.5 394.7ZM1125.5 440.3V427.1A13.2 13.2 0 1 1 1115.9 431.2ZM1158.6 440.3V427.1A13.2 13.2 0 1 1 1150.8 429.6ZM1257.8 440.3V427.1A13.2 13.2 0 1 1 1250.1 429.6ZM1125.5 473.4V460.2A13.2 13.2 0 1 1 1115.9 464.3ZM1158.6 473.4V460.2A13.2 13.2 0 1 1 1150.8 462.7ZM1257.8 473.4V460.2A13.2 13.2 0 1 1 1250.1 462.7ZM1290.9 473.4V460.2A13.2 13.2 0 1 1 1283.1 462.7ZM1125.5 506.4V493.2A13.2 13.2 0 1 1 1115.9 497.4ZM1158.6 506.4V493.2A13.2 13.2 0 1 1 1149 497.4ZM1257.8 506.4V493.2A13.2 13.2 0 1 1 1248.2 497.4ZM1224.7 572.6V559.4A13.2 13.2 0 1 1 1215.1 563.5ZM1423.2 771V757.8A13.2 13.2 0 1 1 1412.5 763.2ZM2051.5 1234V1220.8A13.2 13.2 0 1 1 2038.9 1229.9ZM2051.5 1333.2V1320A13.2 13.2 0 1 1 2038.9 1329.1ZM2084.6 1333.2V1320A13.2 13.2 0 1 1 2073.9 1325.4ZM2183.8 1366.2V1353A13.2 13.2 0 1 1 2173.1 1358.5Z" fill="#FF0000" stroke="#000" stroke-width="2.4" stroke-linejoin="round"/><path d="M1158.6 374.1V360.9A13.2 13.2 0 1 1 1145.6 376.6ZM1191.7 407.2V394A13.2 13.2 0 1 1 1178.5 406.4ZM1224.7 407.2V394A13.2 13.2 0 1 1 1211.8 409.7ZM1191.7 440.3V427.1A13.2 13.2 0 1 1 1178.9 437ZM1224.7 440.3V427.1A13.2 13.2 0 1 1 1212.2 444.4ZM1191.7 473.4V460.2A13.2 13.2 0 1 1 1178.6 471.7ZM1224.7 473.4V460.2A13.2 13.2 0 1 1 1211.8 475.8ZM1191.7 506.4V493.2A13.2 13.2 0 1 1 1178.6 504.8ZM1224.7 506.4V493.2A13.2 13.2 0 1 1 1211.8 508.9ZM1290.9 506.4V493.2A13.2 13.2 0 1 1 1277.9 504ZM1324 506.4V493.2A13.2 13.2 0 1 1 1311 504ZM1125.5 539.5V526.3A13.2 13.2 0 1 1 1112.4 537.8ZM1158.6 539.5V526.3A13.2 13.2 0 1 1 1145.4 539.5ZM1191.7 539.5V526.3A13.2 13.2 0 1 1 1178.6 537.8ZM1224.7 539.5V526.3A13.2 13.2 0 1 1 1211.5 539.5ZM1257.8 539.5V526.3A13.2 13.2 0 1 1 1244.7 537.8ZM1290.9 539.5V526.3A13.2 13.2 0 1 1 1277.8 537.8ZM1324 539.5V526.3A13.2 13.2 0 1 1 1310.9 537.8ZM1357 539.5V526.3A13.2 13.2 0 1 1 1344.5 543.6ZM1125.5 572.6V559.4A13.2 13.2 0 1 1 1112.6 575ZM1191.7 572.6V559.4A13.2 13.2 0 1 1 1178.7 575ZM1390.1 572.6V559.4A13.2 13.2 0 1 1 1382.3 583.2ZM1125.5 605.6V592.4A13.2 13.2 0 1 1 1112.6 608.1ZM1158.6 605.6V592.4A13.2 13.2 0 1 1 1149.6 615.3ZM1191.7 605.6V592.4A13.2 13.2 0 1 1 1178.7 608.1ZM1224.7 605.6V592.4A13.2 13.2 0 1 1 1211.5 605.6ZM1324 605.6V592.4A13.2 13.2 0 1 1 1316.2 616.3ZM1423.2 605.6V592.4A13.2 13.2 0 1 1 1410 605.6ZM1125.5 638.7V625.5A13.2 13.2 0 1 1 1112.3 638.7ZM1158.6 638.7V625.5A13.2 13.2 0 1 1 1145.4 638.7ZM1191.7 638.7V625.5A13.2 13.2 0 1 1 1178.5 638.7ZM1224.7 638.7V625.5A13.2 13.2 0 1 1 1215.7 648.3ZM1257.8 638.7V625.5A13.2 13.2 0 1 1 1244.6 638.7ZM1290.9 638.7V625.5A13.2 13.2 0 1 1 1277.8 637.1ZM1324 638.7V625.5A13.2 13.2 0 1 1 1310.8 638.7ZM1357 638.7V625.5A13.2 13.2 0 1 1 1344.1 641.2ZM1125.5 671.8V658.6A13.2 13.2 0 1 1 1116.5 681.4ZM1158.6 671.8V658.6A13.2 13.2 0 1 1 1149.6 681.4ZM1191.7 671.8V658.6A13.2 13.2 0 1 1 1182.6 681.4ZM1257.8 671.8V658.6A13.2 13.2 0 1 1 1248.8 681.4ZM1324 671.8V658.6A13.2 13.2 0 1 1 1316.2 682.5ZM1357 671.8V658.6A13.2 13.2 0 1 1 1349.3 682.5ZM1125.5 704.8V691.6A13.2 13.2 0 1 1 1117.8 715.5ZM1158.6 704.8V691.6A13.2 13.2 0 1 1 1149.6 714.5ZM1191.7 704.8V691.6A13.2 13.2 0 1 1 1183.9 715.5ZM1257.8 704.8V691.6A13.2 13.2 0 1 1 1248.8 714.5ZM1290.9 704.8V691.6A13.2 13.2 0 1 1 1281.8 714.5ZM1324 704.8V691.6A13.2 13.2 0 1 1 1314.9 714.5ZM1357 704.8V691.6A13.2 13.2 0 1 1 1349.3 715.5ZM1125.5 737.9V724.7A13.2 13.2 0 1 1 1116.5 747.5ZM1191.7 737.9V724.7A13.2 13.2 0 1 1 1182.6 747.5ZM1224.7 737.9V724.7A13.2 13.2 0 1 1 1211.5 737.9ZM1423.2 737.9V724.7A13.2 13.2 0 1 1 1410.2 735.4ZM1456.2 737.9V724.7A13.2 13.2 0 1 1 1448.5 748.6ZM1125.5 771V757.8A13.2 13.2 0 1 1 1116.5 780.6ZM1224.7 771V757.8A13.2 13.2 0 1 1 1211.5 771ZM1588.5 771V757.8A13.2 13.2 0 1 1 1576 775.1ZM1224.7 804.1V790.9A13.2 13.2 0 1 1 1214.1 811.8ZM1423.2 804.1V790.9A13.2 13.2 0 1 1 1410.6 808.1ZM1588.5 804.1V790.9A13.2 13.2 0 1 1 1577.8 811.8ZM1621.6 804.1V790.9A13.2 13.2 0 1 1 1609 808.1ZM1753.9 969.4V956.2A13.2 13.2 0 1 1 1740.9 971.9ZM1853.1 1167.8V1154.6A13.2 13.2 0 1 1 1839.9 1167.8ZM1985.4 1167.8V1154.6A13.2 13.2 0 1 1 1977.6 1178.5ZM2051.5 1366.2V1353A13.2 13.2 0 1 1 2038.3 1366.2ZM2084.6 1366.2V1353A13.2 13.2 0 1 1 2071.4 1366.2Z" fill="#FF3939" stroke="#000" stroke-width="2.4" stroke-linejoin="round"/><path d="M1158.6 572.6V559.4A13.2 13.2 0 0 1 1162.7 585.1ZM1257.8 572.6V559.4A13.2 13.2 0 0 1 1257.8 585.8ZM1290.9 572.6V559.4A13.2 13.2 0 0 1 1290.9 585.8ZM1324 572.6V559.4A13.2 13.2 0 0 1 1324 585.8ZM1357 572.6V559.4A13.2 13.2 0 0 1 1357 585.8ZM1257.8 605.6V592.4A13.2 13.2 0 1 1 1251.5 617.2ZM1290.9 605.6V592.4A13.2 13.2 0 1 1 1286.8 618.2ZM1357 605.6V592.4A13.2 13.2 0 1 1 1352.9 618.2ZM1390.1 605.6V592.4A13.2 13.2 0 1 1 1383.7 617.2ZM1390.1 638.7V625.5A13.2 13.2 0 1 1 1387.6 651.7ZM1423.2 638.7V625.5A13.2 13.2 0 0 1 1423.2 651.9ZM1456.2 638.7V625.5A13.2 13.2 0 1 1 1454.6 651.8ZM1224.7 671.8V658.6A13.2 13.2 0 0 1 1224.7 685ZM1290.9 671.8V658.6A13.2 13.2 0 1 1 1286.8 684.3ZM1390.1 671.8V658.6A13.2 13.2 0 0 1 1390.1 685ZM1423.2 671.8V658.6A13.2 13.2 0 0 1 1427.2 684.3ZM1456.2 671.8V658.6A13.2 13.2 0 0 1 1456.2 685ZM1489.3 671.8V658.6A13.2 13.2 0 1 1 1485.2 684.3ZM1224.7 704.8V691.6A13.2 13.2 0 0 1 1224.7 718ZM1390.1 704.8V691.6A13.2 13.2 0 0 1 1390.1 718ZM1423.2 704.8V691.6A13.2 13.2 0 0 1 1429.5 716.4ZM1456.2 704.8V691.6A13.2 13.2 0 0 1 1456.2 718ZM1489.3 704.8V691.6A13.2 13.2 0 0 1 1489.3 718ZM1522.4 704.8V691.6A13.2 13.2 0 1 1 1516 716.4ZM1158.6 737.9V724.7A13.2 13.2 0 0 1 1160.3 751ZM1257.8 737.9V724.7A13.2 13.2 0 0 1 1264.2 749.5ZM1290.9 737.9V724.7A13.2 13.2 0 0 1 1295 750.5ZM1324 737.9V724.7A13.2 13.2 0 0 1 1328 750.5ZM1357 737.9V724.7A13.2 13.2 0 0 1 1361.1 750.5ZM1390.1 737.9V724.7A13.2 13.2 0 0 1 1390.1 751.1ZM1522.4 737.9V724.7A13.2 13.2 0 0 1 1530.1 748.6ZM1555.4 737.9V724.7A13.2 13.2 0 0 1 1563.2 748.6ZM1158.6 771V757.8A13.2 13.2 0 0 1 1158.6 784.2ZM1191.7 771V757.8A13.2 13.2 0 1 1 1187.6 783.5ZM1257.8 771V757.8A13.2 13.2 0 0 1 1261.9 783.5ZM1290.9 771V757.8A13.2 13.2 0 0 1 1297.2 782.6ZM1357 771V757.8A13.2 13.2 0 0 1 1361.1 783.5ZM1390.1 771V757.8A13.2 13.2 0 0 1 1390.1 784.2ZM1456.2 771V757.8A13.2 13.2 0 0 1 1456.2 784.2ZM1125.5 804.1V790.9A13.2 13.2 0 1 1 1121.5 816.6ZM1158.6 804.1V790.9A13.2 13.2 0 0 1 1165 815.6ZM1191.7 804.1V790.9A13.2 13.2 0 1 1 1190 817.2ZM1357 804.1V790.9A13.2 13.2 0 0 1 1364.8 814.7ZM1390.1 804.1V790.9A13.2 13.2 0 0 1 1390.1 817.3ZM1456.2 804.1V790.9A13.2 13.2 0 1 1 1452.2 816.6ZM1125.5 837.1V823.9A13.2 13.2 0 1 1 1121.5 849.7ZM1158.6 837.1V823.9A13.2 13.2 0 1 1 1157 850.2ZM1191.7 837.1V823.9A13.2 13.2 0 0 1 1191.7 850.3ZM1224.7 837.1V823.9A13.2 13.2 0 1 1 1223.1 850.2ZM1257.8 837.1V823.9A13.2 13.2 0 1 1 1256.2 850.2ZM1290.9 837.1V823.9A13.2 13.2 0 0 1 1290.9 850.3ZM1324 837.1V823.9A13.2 13.2 0 0 1 1324 850.3ZM1357 837.1V823.9A13.2 13.2 0 1 1 1352.9 849.7ZM1390.1 837.1V823.9A13.2 13.2 0 0 1 1394.2 849.7ZM1423.2 837.1V823.9A13.2 13.2 0 0 1 1430.9 847.8ZM1489.3 837.1V823.9A13.2 13.2 0 0 1 1493.4 849.7ZM1522.4 837.1V823.9A13.2 13.2 0 0 1 1528.7 848.7ZM1555.4 837.1V823.9A13.2 13.2 0 0 1 1559.5 849.7ZM1125.5 870.2V857A13.2 13.2 0 0 1 1125.5 883.4ZM1158.6 870.2V857A13.2 13.2 0 0 1 1166.4 880.9ZM1224.7 870.2V857A13.2 13.2 0 0 1 1224.7 883.4ZM1257.8 870.2V857A13.2 13.2 0 0 1 1265.6 880.9ZM1290.9 870.2V857A13.2 13.2 0 0 1 1298.6 880.9ZM1324 870.2V857A13.2 13.2 0 0 1 1324 883.4ZM1357 870.2V857A13.2 13.2 0 0 1 1357 883.4ZM1390.1 870.2V857A13.2 13.2 0 0 1 1397.9 880.9ZM1423.2 870.2V857A13.2 13.2 0 0 1 1423.2 883.4ZM1489.3 870.2V857A13.2 13.2 0 0 1 1497.1 880.9ZM1621.6 870.2V857A13.2 13.2 0 0 1 1629.3 880.9ZM1853.1 1134.8V1121.6A13.2 13.2 0 0 1 1853.1 1148ZM1952.3 1134.8V1121.6A13.2 13.2 0 0 1 1960 1145.4ZM1952.3 1167.8V1154.6A13.2 13.2 0 0 1 1956.4 1180.4ZM1753.9 1200.9V1187.7A13.2 13.2 0 0 1 1753.9 1214.1ZM1753.9 1234V1220.8A13.2 13.2 0 0 1 1753.9 1247.2ZM1919.2 1300.1V1286.9A13.2 13.2 0 0 1 1919.2 1313.3ZM1753.9 1333.2V1320A13.2 13.2 0 0 1 1753.9 1346.4ZM2018.4 1333.2V1320A13.2 13.2 0 0 1 2026.2 1343.9ZM1753.9 1366.2V1353A13.2 13.2 0 0 1 1757.9 1378.8ZM1919.2 1399.3V1386.1A13.2 13.2 0 0 1 1923.3 1411.9ZM2051.5 1399.3V1386.1A13.2 13.2 0 0 1 2055.6 1411.9ZM2084.6 1399.3V1386.1A13.2 13.2 0 0 1 2084.6 1412.5ZM2183.8 1399.3V1386.1A13.2 13.2 0 0 1 2183.8 1412.5ZM2216.8 1399.3V1386.1A13.2 13.2 0 0 1 2220.9 1411.9Z" fill="#FF7171" stroke="#000" stroke-width="2.4" stroke-linejoin="round"/><path d="M1489.3 737.9V724.7A13.2 13.2 0 0 1 1498.3 747.5ZM1324 771V757.8A13.2 13.2 0 0 1 1333 780.6ZM1489.3 771V757.8A13.2 13.2 0 0 1 1498.3 780.6ZM1522.4 771V757.8A13.2 13.2 0 0 1 1533.1 778.7ZM1555.4 771V757.8A13.2 13.2 0 0 1 1564.5 780.6ZM1257.8 804.1V790.9A13.2 13.2 0 0 1 1266.9 813.7ZM1290.9 804.1V790.9A13.2 13.2 0 0 1 1299.9 813.7ZM1324 804.1V790.9A13.2 13.2 0 0 1 1333 813.7ZM1489.3 804.1V790.9A13.2 13.2 0 0 1 1498.3 813.7ZM1522.4 804.1V790.9A13.2 13.2 0 0 1 1531.4 813.7ZM1555.4 804.1V790.9A13.2 13.2 0 0 1 1564.5 813.7ZM1456.2 837.1V823.9A13.2 13.2 0 0 1 1465.3 846.7ZM1588.5 837.1V823.9A13.2 13.2 0 0 1 1599.2 844.9ZM1621.6 837.1V823.9A13.2 13.2 0 0 1 1632.3 844.9ZM1654.7 837.1V823.9A13.2 13.2 0 0 1 1665.3 844.9ZM1191.7 870.2V857A13.2 13.2 0 0 1 1200.7 879.8ZM1456.2 870.2V857A13.2 13.2 0 0 1 1466.9 878ZM1522.4 870.2V857A13.2 13.2 0 0 1 1531.4 879.8ZM1555.4 870.2V857A13.2 13.2 0 0 1 1564.5 879.8ZM1588.5 870.2V857A13.2 13.2 0 0 1 1597.6 879.8ZM1654.7 870.2V857A13.2 13.2 0 0 1 1663.7 879.8ZM1687.7 870.2V857A13.2 13.2 0 0 1 1698.4 878ZM1125.5 903.3V890.1A13.2 13.2 0 0 1 1138.7 903.3ZM1158.6 903.3V890.1A13.2 13.2 0 0 1 1169.3 911ZM1257.8 903.3V890.1A13.2 13.2 0 0 1 1270.4 907.3ZM1290.9 903.3V890.1A13.2 13.2 0 0 1 1301.6 911ZM1324 903.3V890.1A13.2 13.2 0 0 1 1337.2 903.3ZM1489.3 903.3V890.1A13.2 13.2 0 0 1 1502.5 903.3ZM1621.6 936.3V923.1A13.2 13.2 0 0 1 1634.6 933.9ZM1654.7 936.3V923.1A13.2 13.2 0 0 1 1667.6 933.9ZM1720.8 936.3V923.1A13.2 13.2 0 0 1 1733.8 933.9ZM1290.9 969.4V956.2A13.2 13.2 0 0 1 1304 967.8ZM1489.3 969.4V956.2A13.2 13.2 0 0 1 1502.4 967.8ZM1753.9 1002.5V989.3A13.2 13.2 0 0 1 1764.5 1010.2ZM1820 1002.5V989.3A13.2 13.2 0 0 1 1832.6 1006.6ZM1753.9 1035.5V1022.3A13.2 13.2 0 0 1 1767 1037.2ZM1820 1035.5V1022.3A13.2 13.2 0 0 1 1833.1 1037.2ZM1853.1 1035.5V1022.3A13.2 13.2 0 0 1 1865.6 1031.5ZM1753.9 1068.6V1055.4A13.2 13.2 0 0 1 1766.8 1071.1ZM1820 1068.6V1055.4A13.2 13.2 0 0 1 1832.6 1072.7ZM1886.1 1068.6V1055.4A13.2 13.2 0 0 1 1895.2 1078.2ZM1753.9 1101.7V1088.5A13.2 13.2 0 0 1 1766.4 1097.6ZM1820 1101.7V1088.5A13.2 13.2 0 0 1 1832.6 1097.6ZM1853.1 1101.7V1088.5A13.2 13.2 0 0 1 1863.8 1109.4ZM1753.9 1134.8V1121.6A13.2 13.2 0 0 1 1766.4 1130.7ZM1820 1134.8V1121.6A13.2 13.2 0 0 1 1832.6 1130.7ZM1753.9 1167.8V1154.6A13.2 13.2 0 0 1 1766.4 1171.9ZM1820 1167.8V1154.6A13.2 13.2 0 0 1 1833.2 1167.8ZM1820 1200.9V1187.7A13.2 13.2 0 0 1 1830.7 1208.7ZM1853.1 1200.9V1187.7A13.2 13.2 0 0 1 1863.8 1208.7ZM1886.1 1200.9V1187.7A13.2 13.2 0 0 1 1898.7 1196.8ZM1919.2 1200.9V1187.7A13.2 13.2 0 0 1 1931.8 1196.8ZM1952.3 1200.9V1187.7A13.2 13.2 0 0 1 1963 1208.7ZM1985.4 1200.9V1187.7A13.2 13.2 0 0 1 1998.6 1200.9ZM2018.4 1200.9V1187.7A13.2 13.2 0 0 1 2029.1 1208.7ZM1820 1234V1220.8A13.2 13.2 0 0 1 1830.7 1241.7ZM1853.1 1234V1220.8A13.2 13.2 0 0 1 1863.8 1241.7ZM1886.1 1234V1220.8A13.2 13.2 0 0 1 1899.3 1234ZM1919.2 1234V1220.8A13.2 13.2 0 0 1 1932.4 1234ZM1952.3 1234V1220.8A13.2 13.2 0 0 1 1963 1241.7ZM1985.4 1234V1220.8A13.2 13.2 0 0 1 1998.6 1234ZM2018.4 1234V1220.8A13.2 13.2 0 0 1 2029.1 1241.7ZM1786.9 1267V1253.8A13.2 13.2 0 0 1 1799.5 1263ZM1820 1267V1253.8A13.2 13.2 0 0 1 1832.6 1263ZM1753.9 1300.1V1286.9A13.2 13.2 0 0 1 1767.1 1300.1ZM1820 1300.1V1286.9A13.2 13.2 0 0 1 1832.6 1296ZM1853.1 1300.1V1286.9A13.2 13.2 0 0 1 1865.6 1296ZM1886.1 1300.1V1286.9A13.2 13.2 0 0 1 1896.8 1307.9ZM1985.4 1300.1V1286.9A13.2 13.2 0 0 1 1998.6 1300.1ZM2018.4 1300.1V1286.9A13.2 13.2 0 0 1 2031 1296ZM2051.5 1300.1V1286.9A13.2 13.2 0 0 1 2064.7 1300.1ZM2084.6 1300.1V1286.9A13.2 13.2 0 0 1 2097.8 1300.1ZM1820 1333.2V1320A13.2 13.2 0 0 1 1830.7 1340.9ZM1853.1 1333.2V1320A13.2 13.2 0 0 1 1863.8 1340.9ZM1886.1 1333.2V1320A13.2 13.2 0 0 1 1899.3 1333.2ZM1919.2 1333.2V1320A13.2 13.2 0 0 1 1932.4 1333.2ZM1952.3 1333.2V1320A13.2 13.2 0 0 1 1963 1340.9ZM1985.4 1333.2V1320A13.2 13.2 0 0 1 1998.6 1333.2ZM2150.7 1333.2V1320A13.2 13.2 0 0 1 2163.9 1333.2ZM1820 1366.2V1353A13.2 13.2 0 0 1 1830.7 1374ZM1853.1 1366.2V1353A13.2 13.2 0 0 1 1865.6 1370.3ZM1886.1 1366.2V1353A13.2 13.2 0 0 1 1898.7 1362.2ZM1919.2 1366.2V1353A13.2 13.2 0 0 1 1931.8 1362.2ZM1952.3 1366.2V1353A13.2 13.2 0 0 1 1963 1374ZM1985.4 1366.2V1353A13.2 13.2 0 0 1 1998.6 1366.2ZM2018.4 1366.2V1353A13.2 13.2 0 0 1 2027.5 1375.9ZM2150.7 1366.2V1353A13.2 13.2 0 0 1 2163.3 1362.2ZM1753.9 1399.3V1386.1A13.2 13.2 0 0 1 1766.4 1403.4ZM1820 1399.3V1386.1A13.2 13.2 0 0 1 1830.7 1407.1ZM1853.1 1399.3V1386.1A13.2 13.2 0 0 1 1865.6 1403.4ZM1886.1 1399.3V1386.1A13.2 13.2 0 0 1 1896.8 1407.1ZM1952.3 1399.3V1386.1A13.2 13.2 0 0 1 1965.5 1399.3ZM1985.4 1399.3V1386.1A13.2 13.2 0 0 1 1998.6 1399.3ZM2018.4 1399.3V1386.1A13.2 13.2 0 0 1 2029.1 1407.1ZM2150.7 1399.3V1386.1A13.2 13.2 0 0 1 2161.4 1407.1Z" fill="#FFAAAA" stroke="#000" stroke-width="2.4" stroke-linejoin="round"/><path d="M1191.7 903.3V890.1A13.2 13.2 0 0 1 1202.4 895.5ZM1224.7 903.3V890.1A13.2 13.2 0 0 1 1235.4 895.5ZM1357 903.3V890.1A13.2 13.2 0 0 1 1367.7 895.5ZM1390.1 903.3V890.1A13.2 13.2 0 0 1 1400.8 895.5ZM1423.2 903.3V890.1A13.2 13.2 0 0 1 1424 890.1ZM1456.2 903.3V890.1A13.2 13.2 0 0 1 1466.9 895.5ZM1522.4 903.3V890.1A13.2 13.2 0 0 1 1533.1 895.5ZM1555.4 903.3V890.1A13.2 13.2 0 0 1 1566.1 895.5ZM1588.5 903.3V890.1A13.2 13.2 0 0 1 1590.2 890.2ZM1687.7 903.3V890.1A13.2 13.2 0 0 1 1689.4 890.2ZM1720.8 903.3V890.1A13.2 13.2 0 0 1 1721.6 890.1ZM1125.5 936.3V923.1A13.2 13.2 0 0 1 1136.2 928.6ZM1158.6 936.3V923.1A13.2 13.2 0 0 1 1159.8 923.2ZM1191.7 936.3V923.1A13.2 13.2 0 0 1 1192.8 923.2ZM1224.7 936.3V923.1A13.2 13.2 0 0 1 1235.4 928.6ZM1257.8 936.3V923.1A13.2 13.2 0 0 1 1259.5 923.2ZM1324 936.3V923.1A13.2 13.2 0 0 1 1325.1 923.2ZM1357 936.3V923.1A13.2 13.2 0 0 1 1367.7 928.6ZM1390.1 936.3V923.1A13.2 13.2 0 0 1 1394.5 923.9ZM1423.2 936.3V923.1A13.2 13.2 0 0 1 1434.7 930ZM1456.2 936.3V923.1A13.2 13.2 0 0 1 1466.9 928.6ZM1522.4 936.3V923.1A13.2 13.2 0 0 1 1526.5 923.8ZM1555.4 936.3V923.1A13.2 13.2 0 0 1 1559.5 923.8ZM1588.5 936.3V923.1A13.2 13.2 0 0 1 1600.1 930ZM1687.7 936.3V923.1A13.2 13.2 0 0 1 1697.9 927.9ZM1125.5 969.4V956.2A13.2 13.2 0 0 1 1135.5 960.7ZM1158.6 969.4V956.2A13.2 13.2 0 0 1 1170.2 963ZM1191.7 969.4V956.2A13.2 13.2 0 0 1 1201.6 960.7ZM1224.7 969.4V956.2A13.2 13.2 0 0 1 1226.4 956.3ZM1257.8 969.4V956.2A13.2 13.2 0 0 1 1269.4 963ZM1324 969.4V956.2A13.2 13.2 0 0 1 1335.5 963ZM1357 969.4V956.2A13.2 13.2 0 0 1 1364.9 958.8ZM1390.1 969.4V956.2A13.2 13.2 0 0 1 1394.5 957ZM1456.2 969.4V956.2A13.2 13.2 0 0 1 1462.7 957.9ZM1522.4 969.4V956.2A13.2 13.2 0 0 1 1531.4 959.8ZM1555.4 969.4V956.2A13.2 13.2 0 0 1 1560.3 957.1ZM1588.5 969.4V956.2A13.2 13.2 0 0 1 1589.3 956.2ZM1687.7 969.4V956.2M1720.8 969.4V956.2M1786.9 969.4V956.2A13.2 13.2 0 0 1 1787.8 956.2ZM1125.5 1002.5V989.3A13.2 13.2 0 0 1 1133.4 991.9ZM1158.6 1002.5V989.3A13.2 13.2 0 0 1 1168.6 993.8ZM1191.7 1002.5V989.3A13.2 13.2 0 0 1 1199.6 991.9ZM1224.7 1002.5V989.3A13.2 13.2 0 0 1 1227.5 989.6ZM1257.8 1002.5V989.3A13.2 13.2 0 0 1 1267 993ZM1290.9 1002.5V989.3A13.2 13.2 0 0 1 1301.6 994.7ZM1324 1002.5V989.3A13.2 13.2 0 0 1 1331.8 991.9ZM1357 1002.5V989.3A13.2 13.2 0 0 1 1357.6 989.3ZM1390.1 1002.5V989.3A13.2 13.2 0 0 1 1395.6 990.5ZM1456.2 1002.5V989.3A13.2 13.2 0 0 1 1457.9 989.4ZM1489.3 1002.5V989.3A13.2 13.2 0 0 1 1498.5 993ZM1522.4 1002.5V989.3A13.2 13.2 0 0 1 1530.1 991.8ZM1555.4 1002.5V989.3A13.2 13.2 0 0 1 1559.5 989.9ZM1588.5 1002.5V989.3A13.2 13.2 0 0 1 1589.3 989.3ZM1654.7 1002.5V989.3A13.2 13.2 0 0 1 1655.5 989.3ZM1687.7 1002.5V989.3A13.2 13.2 0 0 1 1688.6 989.3ZM1720.8 1002.5V989.3A13.2 13.2 0 0 1 1721.6 989.3ZM1125.5 1035.5V1022.3A13.2 13.2 0 0 1 1133.4 1025ZM1158.6 1035.5V1022.3A13.2 13.2 0 0 1 1164.1 1023.5ZM1191.7 1035.5V1022.3A13.2 13.2 0 0 1 1197.1 1023.5ZM1224.7 1035.5V1022.3A13.2 13.2 0 0 1 1230.2 1023.5ZM1257.8 1035.5V1022.3A13.2 13.2 0 0 1 1263.3 1023.5ZM1290.9 1035.5V1022.3A13.2 13.2 0 0 1 1296.4 1023.5ZM1324 1035.5V1022.3A13.2 13.2 0 0 1 1328.3 1023.1ZM1357 1035.5V1022.3A13.2 13.2 0 0 1 1362.5 1023.5ZM1390.1 1035.5V1022.3A13.2 13.2 0 0 1 1391.3 1022.4ZM1423.2 1035.5V1022.3A13.2 13.2 0 0 1 1423.7 1022.4ZM1456.2 1035.5V1022.3A13.2 13.2 0 0 1 1459 1022.6ZM1489.3 1035.5V1022.3A13.2 13.2 0 0 1 1498.5 1026ZM1522.4 1035.5V1022.3A13.2 13.2 0 0 1 1524 1022.4ZM1555.4 1035.5V1022.3A13.2 13.2 0 0 1 1557.9 1022.6ZM1588.5 1035.5V1022.3A13.2 13.2 0 0 1 1591 1022.6ZM1621.6 1035.5V1022.3M1687.7 1035.5V1022.3A13.2 13.2 0 0 1 1689.4 1022.4ZM1786.9 1035.5V1022.3M1125.5 1068.6V1055.4A13.2 13.2 0 0 1 1131 1056.6ZM1158.6 1068.6V1055.4A13.2 13.2 0 0 1 1165.1 1057.1ZM1191.7 1068.6V1055.4A13.2 13.2 0 0 1 1197.1 1056.6ZM1224.7 1068.6V1055.4A13.2 13.2 0 0 1 1227.5 1055.7ZM1257.8 1068.6V1055.4A13.2 13.2 0 0 1 1264.3 1057.1ZM1290.9 1068.6V1055.4A13.2 13.2 0 0 1 1296.4 1056.6ZM1324 1068.6V1055.4A13.2 13.2 0 0 1 1327.3 1055.9ZM1357 1068.6V1055.4A13.2 13.2 0 0 1 1364.9 1058ZM1390.1 1068.6V1055.4A13.2 13.2 0 0 1 1391.7 1055.5ZM1423.2 1068.6V1055.4A13.2 13.2 0 0 1 1424.3 1055.5ZM1456.2 1068.6V1055.4A13.2 13.2 0 0 1 1457.9 1055.5ZM1489.3 1068.6V1055.4A13.2 13.2 0 0 1 1497.2 1058ZM1555.4 1068.6V1055.4M1588.5 1068.6V1055.4A13.2 13.2 0 0 1 1590.2 1055.5ZM1621.6 1068.6V1055.4A13.2 13.2 0 0 1 1624.9 1055.8ZM1687.7 1068.6V1055.4M1720.8 1068.6V1055.4A13.2 13.2 0 0 1 1721.6 1055.4ZM1853.1 1068.6V1055.4A13.2 13.2 0 0 1 1863.8 1060.9ZM1125.5 1101.7V1088.5A13.2 13.2 0 0 1 1128.3 1088.8ZM1158.6 1101.7V1088.5A13.2 13.2 0 0 1 1164.1 1089.7ZM1191.7 1101.7V1088.5A13.2 13.2 0 0 1 1197.1 1089.7ZM1224.7 1101.7V1088.5A13.2 13.2 0 0 1 1229.1 1089.2ZM1257.8 1101.7V1088.5A13.2 13.2 0 0 1 1262.2 1089.2ZM1290.9 1101.7V1088.5A13.2 13.2 0 0 1 1297.4 1090.2ZM1324 1101.7V1088.5A13.2 13.2 0 0 1 1328.3 1089.2ZM1390.1 1101.7V1088.5A13.2 13.2 0 0 1 1396.6 1090.2ZM1456.2 1101.7V1088.5A13.2 13.2 0 0 1 1456.8 1088.5ZM1489.3 1101.7V1088.5A13.2 13.2 0 0 1 1493.7 1089.2ZM1522.4 1101.7V1088.5A13.2 13.2 0 0 1 1527.2 1089.4ZM1555.4 1101.7V1088.5M1588.5 1101.7V1088.5A13.2 13.2 0 0 1 1591 1088.7ZM1654.7 1101.7V1088.5A13.2 13.2 0 0 1 1662.4 1091ZM1886.1 1101.7V1088.5A13.2 13.2 0 0 1 1888.6 1088.7ZM1125.5 1134.8V1121.6A13.2 13.2 0 0 1 1126.1 1121.6ZM1158.6 1134.8V1121.6A13.2 13.2 0 0 1 1164.1 1122.7ZM1191.7 1134.8V1121.6A13.2 13.2 0 0 1 1197.1 1122.7ZM1224.7 1134.8V1121.6A13.2 13.2 0 0 1 1225.3 1121.6ZM1257.8 1134.8V1121.6A13.2 13.2 0 0 1 1263.3 1122.7ZM1290.9 1134.8V1121.6A13.2 13.2 0 0 1 1298.8 1124.2ZM1324 1134.8V1121.6A13.2 13.2 0 0 1 1330.5 1123.3ZM1390.1 1134.8V1121.6A13.2 13.2 0 0 1 1395.6 1122.7ZM1456.2 1134.8V1121.6A13.2 13.2 0 0 1 1456.8 1121.6ZM1489.3 1134.8V1121.6A13.2 13.2 0 0 1 1494.8 1122.7ZM1522.4 1134.8V1121.6A13.2 13.2 0 0 1 1526.5 1122.2ZM1555.4 1134.8V1121.6A13.2 13.2 0 0 1 1559.5 1122.2ZM1588.5 1134.8V1121.6M1886.1 1134.8V1121.6A13.2 13.2 0 0 1 1895.2 1125.1ZM1919.2 1134.8V1121.6A13.2 13.2 0 0 1 1927 1124.1ZM1125.5 1167.8V1154.6A13.2 13.2 0 0 1 1127.8 1154.8ZM1158.6 1167.8V1154.6A13.2 13.2 0 0 1 1164.1 1155.8ZM1191.7 1167.8V1154.6A13.2 13.2 0 0 1 1193.3 1154.7ZM1224.7 1167.8V1154.6A13.2 13.2 0 0 1 1225.3 1154.6ZM1257.8 1167.8V1154.6A13.2 13.2 0 0 1 1262.2 1155.4ZM1290.9 1167.8V1154.6A13.2 13.2 0 0 1 1298.8 1157.2ZM1324 1167.8V1154.6A13.2 13.2 0 0 1 1328.3 1155.4ZM1390.1 1167.8V1154.6A13.2 13.2 0 0 1 1392.9 1154.9ZM1489.3 1167.8V1154.6A13.2 13.2 0 0 1 1495.8 1156.3ZM1522.4 1167.8V1154.6A13.2 13.2 0 0 1 1526.5 1155.3ZM1555.4 1167.8V1154.6A13.2 13.2 0 0 1 1556.3 1154.7ZM1588.5 1167.8V1154.6M1886.1 1167.8V1154.6A13.2 13.2 0 0 1 1896.8 1160.1ZM1919.2 1167.8V1154.6A13.2 13.2 0 0 1 1923.3 1155.3ZM1125.5 1200.9V1187.7A13.2 13.2 0 0 1 1128.8 1188.1ZM1158.6 1200.9V1187.7A13.2 13.2 0 0 1 1168.8 1192.5ZM1191.7 1200.9V1187.7A13.2 13.2 0 0 1 1192.5 1187.7ZM1224.7 1200.9V1187.7A13.2 13.2 0 0 1 1228 1188.1ZM1257.8 1200.9V1187.7A13.2 13.2 0 0 1 1265.6 1190.2ZM1290.9 1200.9V1187.7A13.2 13.2 0 0 1 1301.6 1193.1ZM1324 1200.9V1187.7A13.2 13.2 0 0 1 1328 1188.3ZM1390.1 1200.9V1187.7A13.2 13.2 0 0 1 1400.3 1192.5ZM1456.2 1200.9V1187.7A13.2 13.2 0 0 1 1457.1 1187.7ZM1489.3 1200.9V1187.7A13.2 13.2 0 0 1 1498.3 1191.3ZM1522.4 1200.9V1187.7A13.2 13.2 0 0 1 1523.2 1187.7ZM1588.5 1200.9V1187.7M1125.5 1234V1220.8A13.2 13.2 0 0 1 1128.8 1221.2ZM1158.6 1234V1220.8A13.2 13.2 0 0 1 1168.8 1225.6ZM1191.7 1234V1220.8A13.2 13.2 0 0 1 1192.5 1220.8ZM1224.7 1234V1220.8A13.2 13.2 0 0 1 1227.2 1221ZM1257.8 1234V1220.8A13.2 13.2 0 0 1 1265.6 1223.3ZM1290.9 1234V1220.8A13.2 13.2 0 0 1 1301.6 1226.2ZM1324 1234V1220.8A13.2 13.2 0 0 1 1328 1221.4ZM1390.1 1234V1220.8A13.2 13.2 0 0 1 1394.2 1221.4ZM1456.2 1234V1220.8A13.2 13.2 0 0 1 1457.1 1220.8ZM1489.3 1234V1220.8A13.2 13.2 0 0 1 1498.3 1224.3ZM1522.4 1234V1220.8A13.2 13.2 0 0 1 1524 1220.9ZM1588.5 1234V1220.8M1125.5 1267V1253.8A13.2 13.2 0 0 1 1126.4 1253.9ZM1257.8 1267V1253.8A13.2 13.2 0 0 1 1258.6 1253.9ZM1290.9 1267V1253.8A13.2 13.2 0 0 1 1291.7 1253.9ZM1324 1267V1253.8A13.2 13.2 0 0 1 1324.8 1253.9ZM1357 1267V1253.8A13.2 13.2 0 0 1 1359.5 1254.1ZM1390.1 1267V1253.8A13.2 13.2 0 0 1 1391.7 1253.9ZM1456.2 1267V1253.8A13.2 13.2 0 0 1 1458.7 1254.1ZM1489.3 1267V1253.8A13.2 13.2 0 0 1 1490.1 1253.9ZM1555.4 1267V1253.8A13.2 13.2 0 0 1 1556.3 1253.9ZM1588.5 1267V1253.8A13.2 13.2 0 0 1 1589.3 1253.9ZM1720.8 1267V1253.8A13.2 13.2 0 0 1 1724.1 1254.2ZM1753.9 1267V1253.8A13.2 13.2 0 0 1 1764.5 1259.3ZM1853.1 1267V1253.8A13.2 13.2 0 0 1 1857.2 1254.5ZM1886.1 1267V1253.8A13.2 13.2 0 0 1 1896.8 1259.3ZM1919.2 1267V1253.8A13.2 13.2 0 0 1 1922.5 1254.2ZM1952.3 1267V1253.8A13.2 13.2 0 0 1 1953.9 1253.9ZM2018.4 1267V1253.8A13.2 13.2 0 0 1 2020.1 1253.9ZM2051.5 1267V1253.8A13.2 13.2 0 0 1 2062.2 1259.3ZM2084.6 1267V1253.8A13.2 13.2 0 0 1 2093.6 1257.4ZM1125.5 1300.1V1286.9A13.2 13.2 0 0 1 1126.4 1286.9ZM1158.6 1300.1V1286.9A13.2 13.2 0 0 1 1159.4 1286.9ZM1191.7 1300.1V1286.9A13.2 13.2 0 0 1 1192.5 1286.9ZM1257.8 1300.1V1286.9A13.2 13.2 0 0 1 1260.3 1287.1ZM1290.9 1300.1V1286.9A13.2 13.2 0 0 1 1291.7 1286.9ZM1324 1300.1V1286.9A13.2 13.2 0 0 1 1324.8 1286.9ZM1357 1300.1V1286.9A13.2 13.2 0 0 1 1357.9 1286.9ZM1390.1 1300.1V1286.9A13.2 13.2 0 0 1 1390.9 1286.9ZM1489.3 1300.1V1286.9A13.2 13.2 0 0 1 1491.8 1287.1ZM1555.4 1300.1V1286.9A13.2 13.2 0 0 1 1556.3 1286.9ZM1588.5 1300.1V1286.9M1720.8 1300.1V1286.9M1952.3 1300.1V1286.9A13.2 13.2 0 0 1 1960 1289.4ZM2117.6 1300.1V1286.9A13.2 13.2 0 0 1 2128.3 1292.3ZM1125.5 1333.2V1320A13.2 13.2 0 0 1 1126.4 1320ZM1158.6 1333.2V1320A13.2 13.2 0 0 1 1166.4 1322.5ZM1191.7 1333.2V1320A13.2 13.2 0 0 1 1192.5 1320ZM1224.7 1333.2V1320A13.2 13.2 0 0 1 1225.6 1320ZM1257.8 1333.2V1320A13.2 13.2 0 0 1 1261.1 1320.4ZM1290.9 1333.2V1320A13.2 13.2 0 0 1 1299.9 1323.6ZM1324 1333.2V1320A13.2 13.2 0 0 1 1328 1320.6ZM1390.1 1333.2V1320A13.2 13.2 0 0 1 1393.4 1320.4ZM1456.2 1333.2V1320A13.2 13.2 0 0 1 1457.1 1320ZM1489.3 1333.2V1320A13.2 13.2 0 0 1 1498.3 1323.6ZM1588.5 1333.2V1320M2117.6 1333.2V1320A13.2 13.2 0 0 1 2125.4 1322.5ZM1125.5 1366.2V1353A13.2 13.2 0 0 1 1126.4 1353.1ZM1158.6 1366.2V1353A13.2 13.2 0 0 1 1159.4 1353.1ZM1191.7 1366.2V1353A13.2 13.2 0 0 1 1195 1353.5ZM1224.7 1366.2V1353A13.2 13.2 0 0 1 1225.6 1353.1ZM1290.9 1366.2V1353A13.2 13.2 0 0 1 1295.7 1354ZM1324 1366.2V1353A13.2 13.2 0 0 1 1324.8 1353.1ZM1390.1 1366.2V1353A13.2 13.2 0 0 1 1390.9 1353.1ZM1456.2 1366.2V1353A13.2 13.2 0 0 1 1457.1 1353.1ZM1489.3 1366.2V1353A13.2 13.2 0 0 1 1498.3 1356.6ZM1588.5 1366.2V1353A13.2 13.2 0 0 1 1591 1353.3ZM2117.6 1366.2V1353A13.2 13.2 0 0 1 2121.7 1353.7ZM2117.6 1399.3V1386.1A13.2 13.2 0 0 1 2126.7 1389.7Z" fill="#FFE3E3" stroke="#000" stroke-width="2.4" stroke-linejoin="round"/><path d="M1621.6 903.3V890.1A13.2 13.2 0 0 0 1619.1 890.3ZM1654.7 903.3V890.1A13.2 13.2 0 0 0 1648.3 891.7ZM1290.9 936.3V923.1A13.2 13.2 0 0 0 1290.3 923.1ZM1489.3 936.3V923.1A13.2 13.2 0 0 0 1488.1 923.2ZM1753.9 936.3V923.1A13.2 13.2 0 0 0 1746.1 925.7ZM1423.2 969.4V956.2A13.2 13.2 0 0 0 1416.7 957.9ZM1621.6 969.4V956.2A13.2 13.2 0 0 0 1613.8 958.7ZM1654.7 969.4V956.2A13.2 13.2 0 0 0 1649.8 957.1ZM1423.2 1002.5V989.3A13.2 13.2 0 0 0 1421.5 989.4ZM1621.6 1002.5V989.3A13.2 13.2 0 0 0 1613.8 991.8ZM1654.7 1035.5V1022.3A13.2 13.2 0 0 0 1646.9 1024.9ZM1720.8 1035.5V1022.3A13.2 13.2 0 0 0 1716.7 1023ZM1522.4 1068.6V1055.4A13.2 13.2 0 0 0 1519.9 1055.6ZM1654.7 1068.6V1055.4A13.2 13.2 0 0 0 1649.8 1056.3ZM1786.9 1068.6V1055.4A13.2 13.2 0 0 0 1785.3 1055.5ZM1357 1101.7V1088.5A13.2 13.2 0 0 0 1355.9 1088.5ZM1423.2 1101.7V1088.5A13.2 13.2 0 0 0 1420.4 1088.8ZM1621.6 1101.7V1088.5A13.2 13.2 0 0 0 1620.8 1088.5ZM1687.7 1101.7V1088.5A13.2 13.2 0 0 0 1683.6 1089.1ZM1720.8 1101.7V1088.5A13.2 13.2 0 0 0 1715.9 1089.4ZM1919.2 1101.7V1088.5A13.2 13.2 0 0 0 1917.6 1088.6ZM1357 1134.8V1121.6A13.2 13.2 0 0 0 1355.4 1121.7ZM1423.2 1134.8V1121.6A13.2 13.2 0 0 0 1418.8 1122.3ZM1621.6 1134.8V1121.6A13.2 13.2 0 0 0 1615.2 1123.2ZM1654.7 1134.8V1121.6A13.2 13.2 0 0 0 1651.4 1122ZM1687.7 1134.8V1121.6A13.2 13.2 0 0 0 1686.1 1121.7ZM1720.8 1134.8V1121.6A13.2 13.2 0 0 0 1718.3 1121.8ZM1357 1167.8V1154.6A13.2 13.2 0 0 0 1355.4 1154.7ZM1423.2 1167.8V1154.6A13.2 13.2 0 0 0 1417.7 1155.8ZM1456.2 1167.8V1154.6A13.2 13.2 0 0 0 1454 1154.8ZM1621.6 1167.8V1154.6A13.2 13.2 0 0 0 1613.8 1157.1ZM1654.7 1167.8V1154.6A13.2 13.2 0 0 0 1649.8 1155.6ZM1687.7 1167.8V1154.6A13.2 13.2 0 0 0 1683.6 1155.3ZM1720.8 1167.8V1154.6A13.2 13.2 0 0 0 1719.1 1154.7ZM1357 1200.9V1187.7A13.2 13.2 0 0 0 1352.9 1188.3ZM1423.2 1200.9V1187.7A13.2 13.2 0 0 0 1416.8 1189.3ZM1555.4 1200.9V1187.7A13.2 13.2 0 0 0 1552.2 1188.1ZM1621.6 1200.9V1187.7A13.2 13.2 0 0 0 1613.8 1190.2ZM1654.7 1200.9V1187.7A13.2 13.2 0 0 0 1646.9 1190.2ZM1687.7 1200.9V1187.7A13.2 13.2 0 0 0 1681.4 1189.3ZM1720.8 1200.9V1187.7A13.2 13.2 0 0 0 1711.8 1191.3ZM1357 1234V1220.8A13.2 13.2 0 0 0 1352.9 1221.4ZM1423.2 1234V1220.8A13.2 13.2 0 0 0 1415.4 1223.3ZM1555.4 1234V1220.8A13.2 13.2 0 0 0 1553 1221ZM1621.6 1234V1220.8A13.2 13.2 0 0 0 1613.8 1223.3ZM1654.7 1234V1220.8A13.2 13.2 0 0 0 1646.9 1223.3ZM1687.7 1234V1220.8A13.2 13.2 0 0 0 1681.4 1222.4ZM1720.8 1234V1220.8A13.2 13.2 0 0 0 1713 1223.3ZM1158.6 1267V1253.8A13.2 13.2 0 0 0 1157.8 1253.9ZM1191.7 1267V1253.8A13.2 13.2 0 0 0 1187.6 1254.5ZM1224.7 1267V1253.8A13.2 13.2 0 0 0 1223.1 1253.9ZM1423.2 1267V1253.8A13.2 13.2 0 0 0 1419.1 1254.5ZM1522.4 1267V1253.8A13.2 13.2 0 0 0 1519.1 1254.2ZM1621.6 1267V1253.8A13.2 13.2 0 0 0 1618.3 1254.2ZM1654.7 1267V1253.8A13.2 13.2 0 0 0 1650.6 1254.5ZM1687.7 1267V1253.8A13.2 13.2 0 0 0 1686.1 1253.9ZM1985.4 1267V1253.8A13.2 13.2 0 0 0 1981.3 1254.5ZM1224.7 1300.1V1286.9A13.2 13.2 0 0 0 1223.9 1286.9ZM1423.2 1300.1V1286.9A13.2 13.2 0 0 0 1419.9 1287.3ZM1456.2 1300.1V1286.9A13.2 13.2 0 0 0 1452.2 1287.6ZM1522.4 1300.1V1286.9A13.2 13.2 0 0 0 1520.7 1287ZM1621.6 1300.1V1286.9A13.2 13.2 0 0 0 1619.1 1287.1ZM1654.7 1300.1V1286.9A13.2 13.2 0 0 0 1650.6 1287.6ZM1687.7 1300.1V1286.9A13.2 13.2 0 0 0 1685.3 1287.1ZM1786.9 1300.1V1286.9A13.2 13.2 0 0 0 1777.9 1290.5ZM1357 1333.2V1320A13.2 13.2 0 0 0 1350.7 1321.6ZM1423.2 1333.2V1320A13.2 13.2 0 0 0 1416.8 1321.6ZM1522.4 1333.2V1320A13.2 13.2 0 0 0 1519.9 1320.2ZM1555.4 1333.2V1320A13.2 13.2 0 0 0 1551.4 1320.6ZM1621.6 1333.2V1320A13.2 13.2 0 0 0 1613.8 1322.5ZM1654.7 1333.2V1320A13.2 13.2 0 0 0 1649.8 1320.9ZM1687.7 1333.2V1320A13.2 13.2 0 0 0 1678.7 1323.6ZM1720.8 1333.2V1320A13.2 13.2 0 0 0 1710.1 1325.4ZM1257.8 1366.2V1353A13.2 13.2 0 0 0 1256.2 1353.1ZM1357 1366.2V1353A13.2 13.2 0 0 0 1349.3 1355.6ZM1423.2 1366.2V1353A13.2 13.2 0 0 0 1418.3 1354ZM1522.4 1366.2V1353A13.2 13.2 0 0 0 1519.9 1353.3ZM1555.4 1366.2V1353A13.2 13.2 0 0 0 1551.4 1353.7ZM1621.6 1366.2V1353A13.2 13.2 0 0 0 1613.8 1355.6ZM1654.7 1366.2V1353A13.2 13.2 0 0 0 1649.8 1354ZM1687.7 1366.2V1353A13.2 13.2 0 0 0 1680 1355.6ZM1720.8 1366.2V1353A13.2 13.2 0 0 0 1710.1 1358.5ZM1489.3 1399.3V1386.1A13.2 13.2 0 0 0 1476.8 1395.2Z" fill="#EAF1F7" stroke="#000" stroke-width="2.4" stroke-linejoin="round"/><path d="M1786.9 1002.5V989.3A13.2 13.2 0 0 0 1773.7 1002.5ZM1786.9 1101.7V1088.5A13.2 13.2 0 0 0 1776.3 1109.4ZM1786.9 1134.8V1121.6A13.2 13.2 0 0 0 1774.4 1138.8ZM1786.9 1167.8V1154.6A13.2 13.2 0 0 0 1774.4 1171.9ZM1786.9 1200.9V1187.7A13.2 13.2 0 0 0 1774 1198.4ZM1786.9 1234V1220.8A13.2 13.2 0 0 0 1774 1231.5ZM1786.9 1333.2V1320A13.2 13.2 0 0 0 1774 1330.7ZM1786.9 1366.2V1353A13.2 13.2 0 0 0 1774.4 1370.3ZM1125.5 1399.3V1386.1A13.2 13.2 0 0 0 1116.5 1408.9ZM1158.6 1399.3V1386.1A13.2 13.2 0 0 0 1146.1 1403.4ZM1257.8 1399.3V1386.1A13.2 13.2 0 0 0 1245.3 1403.4ZM1290.9 1399.3V1386.1A13.2 13.2 0 0 0 1278.3 1403.4ZM1324 1399.3V1386.1A13.2 13.2 0 0 0 1313.3 1407.1ZM1357 1399.3V1386.1A13.2 13.2 0 0 0 1348 1408.9ZM1390.1 1399.3V1386.1A13.2 13.2 0 0 0 1381.1 1408.9ZM1522.4 1399.3V1386.1A13.2 13.2 0 0 0 1509.8 1403.4ZM1555.4 1399.3V1386.1A13.2 13.2 0 0 0 1544.8 1407.1ZM1588.5 1399.3V1386.1A13.2 13.2 0 0 0 1579.5 1408.9ZM1621.6 1399.3V1386.1A13.2 13.2 0 0 0 1612.5 1408.9ZM1654.7 1399.3V1386.1A13.2 13.2 0 0 0 1645.6 1408.9ZM1687.7 1399.3V1386.1A13.2 13.2 0 0 0 1676.2 1405.7ZM1720.8 1399.3V1386.1A13.2 13.2 0 0 0 1711.8 1408.9ZM1786.9 1399.3V1386.1A13.2 13.2 0 0 0 1774.4 1403.4Z" fill="#C1D5E6" stroke="#000" stroke-width="2.4" stroke-linejoin="round"/><path d="M1191.7 1399.3V1386.1A13.2 13.2 0 0 0 1185.3 1410.9ZM1224.7 1399.3V1386.1A13.2 13.2 0 0 0 1224.7 1412.5ZM1423.2 1399.3V1386.1A13.2 13.2 0 0 0 1423.2 1412.5ZM1456.2 1399.3V1386.1A13.2 13.2 0 0 0 1452.2 1411.9Z" fill="#98B9D5" stroke="#000" stroke-width="2.4" stroke-linejoin="round"/><g fill="#FF0000" stroke="#000" stroke-width="2.1"><circle cx="1125.5" cy="274.9" r="13.2"/><circle cx="1158.6" cy="308" r="13.2"/><circle cx="1191.7" cy="341.1" r="13.2"/><circle cx="1224.7" cy="374.1" r="13.2"/><circle cx="1257.8" cy="407.2" r="13.2"/><circle cx="1290.9" cy="440.3" r="13.2"/><circle cx="1324" cy="473.4" r="13.2"/><circle cx="1357" cy="506.4" r="13.2"/><circle cx="1390.1" cy="539.5" r="13.2"/><circle cx="1423.2" cy="572.6" r="13.2"/><circle cx="1456.2" cy="605.6" r="13.2"/><circle cx="1489.3" cy="638.7" r="13.2"/><circle cx="1522.4" cy="671.8" r="13.2"/><circle cx="1555.4" cy="704.8" r="13.2"/><circle cx="1588.5" cy="737.9" r="13.2"/><circle cx="1621.6" cy="771" r="13.2"/><circle cx="1654.7" cy="804.1" r="13.2"/><circle cx="1687.7" cy="837.1" r="13.2"/><circle cx="1720.8" cy="870.2" r="13.2"/><circle cx="1753.9" cy="903.3" r="13.2"/><circle cx="1786.9" cy="936.3" r="13.2"/><circle cx="1820" cy="969.4" r="13.2"/><circle cx="1853.1" cy="1002.5" r="13.2"/><circle cx="1886.1" cy="1035.5" r="13.2"/><circle cx="1919.2" cy="1068.6" r="13.2"/><circle cx="1952.3" cy="1101.7" r="13.2"/><circle cx="1985.4" cy="1134.8" r="13.2"/><circle cx="2018.4" cy="1167.8" r="13.2"/><circle cx="2051.5" cy="1200.9" r="13.2"/><circle cx="2084.6" cy="1234" r="13.2"/><circle cx="2117.6" cy="1267" r="13.2"/><circle cx="2150.7" cy="1300.1" r="13.2"/><circle cx="2183.8" cy="1333.2" r="13.2"/><circle cx="2216.8" cy="1366.2" r="13.2"/><circle cx="2249.9" cy="1399.3" r="13.2"/></g><path d="M1125.5 274.9V261.7M1158.6 308V294.8M1191.7 341.1V327.9M1224.7 374.1V360.9M1257.8 407.2V394M1290.9 440.3V427.1M1324 473.4V460.2M1357 506.4V493.2M1390.1 539.5V526.3M1423.2 572.6V559.4M1456.2 605.6V592.4M1489.3 638.7V625.5M1522.4 671.8V658.6M1555.4 704.8V691.6M1588.5 737.9V724.7M1621.6 771V757.8M1654.7 804.1V790.9M1687.7 837.1V823.9M1720.8 870.2V857M1753.9 903.3V890.1M1786.9 936.3V923.1M1820 969.4V956.2M1853.1 1002.5V989.3M1886.1 1035.5V1022.3M1919.2 1068.6V1055.4M1952.3 1101.7V1088.5M1985.4 1134.8V1121.6M2018.4 1167.8V1154.6M2051.5 1200.9V1187.7M2084.6 1234V1220.8M2117.6 1267V1253.8M2150.7 1300.1V1286.9M2183.8 1333.2V1320M2216.8 1366.2V1353M2249.9 1399.3V1386.1" stroke="#000" stroke-width="2.1"/><text transform="translate(1089,284.7) scale(1,1.065)" font-size="39.5" text-anchor="end">CD79A</text><text transform="translate(1089,317.8) scale(1,1.065)" font-size="39.5" text-anchor="end">IGKC</text><text transform="translate(1089,350.9) scale(1,1.065)" font-size="39.5" text-anchor="end">POU2AF1</text><text transform="translate(1089,383.9) scale(1,1.065)" font-size="39.5" text-anchor="end">CD19</text><text transform="translate(1089,417) scale(1,1.065)" font-size="39.5" text-anchor="end">IGLC2</text><text transform="translate(1089,450.1) scale(1,1.065)" font-size="39.5" text-anchor="end">IGKV1−5</text><text transform="translate(1089,483.2) scale(1,1.065)" font-size="39.5" text-anchor="end">IGLV2−14</text><text transform="translate(1089,516.2) scale(1,1.065)" font-size="39.5" text-anchor="end">IGHA1</text><text transform="translate(1089,549.3) scale(1,1.065)" font-size="39.5" text-anchor="end">IGHM</text><text transform="translate(1089,582.4) scale(1,1.065)" font-size="39.5" text-anchor="end">MS4A1</text><text transform="translate(1089,615.4) scale(1,1.065)" font-size="39.5" text-anchor="end">FCRL2</text><text transform="translate(1089,648.5) scale(1,1.065)" font-size="39.5" text-anchor="end">IGHV1−69</text><text transform="translate(1089,681.6) scale(1,1.065)" font-size="39.5" text-anchor="end">IGLL3P</text><text transform="translate(1089,714.6) scale(1,1.065)" font-size="39.5" text-anchor="end">IGLV4−3</text><text transform="translate(1089,747.7) scale(1,1.065)" font-size="39.5" text-anchor="end">PAX5</text><text transform="translate(1089,780.8) scale(1,1.065)" font-size="39.5" text-anchor="end">FDCSP</text><text transform="translate(1089,813.9) scale(1,1.065)" font-size="39.5" text-anchor="end">CR2</text><text transform="translate(1089,846.9) scale(1,1.065)" font-size="39.5" text-anchor="end">IGHD</text><text transform="translate(1089,880) scale(1,1.065)" font-size="39.5" text-anchor="end">MAL</text><text transform="translate(1089,913.1) scale(1,1.065)" font-size="39.5" text-anchor="end">GUCA1A</text><text transform="translate(1089,946.1) scale(1,1.065)" font-size="39.5" text-anchor="end">CD1A</text><text transform="translate(1089,979.2) scale(1,1.065)" font-size="39.5" text-anchor="end">SPOCK1</text><text transform="translate(1089,1012.3) scale(1,1.065)" font-size="39.5" text-anchor="end">MAGEC2</text><text transform="translate(1089,1045.3) scale(1,1.065)" font-size="39.5" text-anchor="end">NTSR1</text><text transform="translate(1089,1078.4) scale(1,1.065)" font-size="39.5" text-anchor="end">KRT6B</text><text transform="translate(1089,1111.5) scale(1,1.065)" font-size="39.5" text-anchor="end">PRAME</text><text transform="translate(1089,1144.6) scale(1,1.065)" font-size="39.5" text-anchor="end">MAGEA4</text><text transform="translate(1089,1177.6) scale(1,1.065)" font-size="39.5" text-anchor="end">MAGEA3</text><text transform="translate(1089,1210.7) scale(1,1.065)" font-size="39.5" text-anchor="end">UBE2C</text><text transform="translate(1089,1243.8) scale(1,1.065)" font-size="39.5" text-anchor="end">CCNB1</text><text transform="translate(1089,1276.8) scale(1,1.065)" font-size="39.5" text-anchor="end">EEF1A2</text><text transform="translate(1089,1309.9) scale(1,1.065)" font-size="39.5" text-anchor="end">KLK6</text><text transform="translate(1089,1343) scale(1,1.065)" font-size="39.5" text-anchor="end">RRM2</text><text transform="translate(1089,1376) scale(1,1.065)" font-size="39.5" text-anchor="end">ASPM</text><text transform="translate(1089,1409.1) scale(1,1.065)" font-size="39.5" text-anchor="end">TMERSscore</text><text transform="translate(1140.9,241.6) rotate(-90) scale(1,1.07)" font-size="39.5">CD79A</text><text transform="translate(1174,274.7) rotate(-90) scale(1,1.07)" font-size="39.5">IGKC</text><text transform="translate(1207.1,307.7) rotate(-90) scale(1,1.07)" font-size="39.5">POU2AF1</text><text transform="translate(1240.1,340.8) rotate(-90) scale(1,1.07)" font-size="39.5">CD19</text><text transform="translate(1273.2,373.9) rotate(-90) scale(1,1.07)" font-size="39.5">IGLC2</text><text transform="translate(1306.3,406.9) rotate(-90) scale(1,1.07)" font-size="39.5">IGKV1−5</text><text transform="translate(1339.4,440) rotate(-90) scale(1,1.07)" font-size="39.5">IGLV2−14</text><text transform="translate(1372.4,473.1) rotate(-90) scale(1,1.07)" font-size="39.5">IGHA1</text><text transform="translate(1405.5,506.2) rotate(-90) scale(1,1.07)" font-size="39.5">IGHM</text><text transform="translate(1438.6,539.2) rotate(-90) scale(1,1.07)" font-size="39.5">MS4A1</text><text transform="translate(1471.6,572.3) rotate(-90) scale(1,1.07)" font-size="39.5">FCRL2</text><text transform="translate(1504.7,605.4) rotate(-90) scale(1,1.07)" font-size="39.5">IGHV1−69</text><text transform="translate(1537.8,638.4) rotate(-90) scale(1,1.07)" font-size="39.5">IGLL3P</text><text transform="translate(1570.8,671.5) rotate(-90) scale(1,1.07)" font-size="39.5">IGLV4−3</text><text transform="translate(1603.9,704.6) rotate(-90) scale(1,1.07)" font-size="39.5">PAX5</text><text transform="translate(1637,737.7) rotate(-90) scale(1,1.07)" font-size="39.5">FDCSP</text><text transform="translate(1670.1,770.7) rotate(-90) scale(1,1.07)" font-size="39.5">CR2</text><text transform="translate(1703.1,803.8) rotate(-90) scale(1,1.07)" font-size="39.5">IGHD</text><text transform="translate(1736.2,836.9) rotate(-90) scale(1,1.07)" font-size="39.5">MAL</text><text transform="translate(1769.3,869.9) rotate(-90) scale(1,1.07)" font-size="39.5">GUCA1A</text><text transform="translate(1802.3,903) rotate(-90) scale(1,1.07)" font-size="39.5">CD1A</text><text transform="translate(1835.4,936.1) rotate(-90) scale(1,1.07)" font-size="39.5">SPOCK1</text><text transform="translate(1868.5,969.1) rotate(-90) scale(1,1.07)" font-size="39.5">MAGEC2</text><text transform="translate(1901.5,1002.2) rotate(-90) scale(1,1.07)" font-size="39.5">NTSR1</text><text transform="translate(1934.6,1035.3) rotate(-90) scale(1,1.07)" font-size="39.5">KRT6B</text><text transform="translate(1967.7,1068.4) rotate(-90) scale(1,1.07)" font-size="39.5">PRAME</text><text transform="translate(2000.8,1101.4) rotate(-90) scale(1,1.07)" font-size="39.5">MAGEA4</text><text transform="translate(2033.8,1134.5) rotate(-90) scale(1,1.07)" font-size="39.5">MAGEA3</text><text transform="translate(2066.9,1167.6) rotate(-90) scale(1,1.07)" font-size="39.5">UBE2C</text><text transform="translate(2100,1200.6) rotate(-90) scale(1,1.07)" font-size="39.5">CCNB1</text><text transform="translate(2133,1233.7) rotate(-90) scale(1,1.07)" font-size="39.5">EEF1A2</text><text transform="translate(2166.1,1266.8) rotate(-90) scale(1,1.07)" font-size="39.5">KLK6</text><text transform="translate(2199.2,1299.8) rotate(-90) scale(1,1.07)" font-size="39.5">RRM2</text><text transform="translate(2232.2,1332.9) rotate(-90) scale(1,1.07)" font-size="39.5">ASPM</text><text transform="translate(2265.3,1366) rotate(-90) scale(1,1.07)" font-size="39.5">TMERSscore</text><rect x="1109.2" y="1438.1" width="116.2" height="43.9" fill="#4682B4"/><rect x="1224.9" y="1438.1" width="116.2" height="43.9" fill="#6F9EC5"/><rect x="1340.6" y="1438.1" width="116.2" height="43.9" fill="#98B9D5"/><rect x="1456.2" y="1438.1" width="116.2" height="43.9" fill="#C1D5E6"/><rect x="1571.9" y="1438.1" width="116.2" height="43.9" fill="#EAF1F7"/><rect x="1687.6" y="1438.1" width="116.2" height="43.9" fill="#FFE3E3"/><rect x="1803.3" y="1438.1" width="116.2" height="43.9" fill="#FFAAAA"/><rect x="1919" y="1438.1" width="116.2" height="43.9" fill="#FF7171"/><rect x="2034.6" y="1438.1" width="116.2" height="43.9" fill="#FF3939"/><rect x="2150.3" y="1438.1" width="116.2" height="43.9" fill="#FF0000"/><rect x="1109.2" y="1438.1" width="1156.8" height="43.9" fill="none" stroke="#000" stroke-width="1.6"/><line x1="1109.2" y1="1482" x2="1109.2" y2="1492" stroke="#000" stroke-width="1.6"/><text x="1109.2" y="1549" font-size="35.5" text-anchor="middle">−1</text><line x1="1224.9" y1="1482" x2="1224.9" y2="1492" stroke="#000" stroke-width="1.6"/><text x="1224.9" y="1549" font-size="35.5" text-anchor="middle">−0.8</text><line x1="1340.6" y1="1482" x2="1340.6" y2="1492" stroke="#000" stroke-width="1.6"/><text x="1340.6" y="1549" font-size="35.5" text-anchor="middle">−0.6</text><line x1="1456.2" y1="1482" x2="1456.2" y2="1492" stroke="#000" stroke-width="1.6"/><text x="1456.2" y="1549" font-size="35.5" text-anchor="middle">−0.4</text><line x1="1571.9" y1="1482" x2="1571.9" y2="1492" stroke="#000" stroke-width="1.6"/><text x="1571.9" y="1549" font-size="35.5" text-anchor="middle">−0.2</text><line x1="1687.6" y1="1482" x2="1687.6" y2="1492" stroke="#000" stroke-width="1.6"/><text x="1687.6" y="1549" font-size="35.5" text-anchor="middle">0</text><line x1="1803.3" y1="1482" x2="1803.3" y2="1492" stroke="#000" stroke-width="1.6"/><text x="1803.3" y="1549" font-size="35.5" text-anchor="middle">0.2</text><line x1="1919" y1="1482" x2="1919" y2="1492" stroke="#000" stroke-width="1.6"/><text x="1919" y="1549" font-size="35.5" text-anchor="middle">0.4</text><line x1="2034.6" y1="1482" x2="2034.6" y2="1492" stroke="#000" stroke-width="1.6"/><text x="2034.6" y="1549" font-size="35.5" text-anchor="middle">0.6</text><line x1="2150.3" y1="1482" x2="2150.3" y2="1492" stroke="#000" stroke-width="1.6"/><text x="2150.3" y="1549" font-size="35.5" text-anchor="middle">0.8</text><line x1="2266" y1="1482" x2="2266" y2="1492" stroke="#000" stroke-width="1.6"/><text x="2266" y="1549" font-size="35.5" text-anchor="middle">1</text></g><g id="panelC"><g transform="matrix(3.00900 0 0 37.07059 241.4 1734.4)" stroke-width="1" fill="none" shape-rendering="crispEdges"><path stroke="#7AA5C9" d="M599 18.5h1"/><path stroke="#83ABCD" d="M36 3.5h1M46 4.5h1M29 5.5h1"/><path stroke="#8CB1D0" d="M597 29.5h1"/><path stroke="#95B7D4" d="M77 1.5h1M31 3.5h1m1 0h1M10 4.5h1m48 0h1M32 5.5h1M29 6.5h1m6 0h1M43 17.5h1m553 0h1M597 21.5h1M36 23.5h1M6 27.5h1"/><path stroke="#9EBDD8" d="M13 3.5h1M24 4.5h1m11 0h1m1 0h1m3 0h1m13 0h1M2 5.5h1m15 0h1m12 0h1m20 0h1M5 6.5h1m2 0h1m12 0h1m27 0h1m2 0h1M6 16.5h1m568 0h1M575 19.5h1M597 22.5h1M36 24.5h1M6 30.5h1"/><path stroke="#A7C3DB" d="M83 1.5h1M8 3.5h1m1 0h1m19 0h1m14 0h1M8 4.5h1m7 0h1m5 0h1m8 0h1m13 0h1m17 0h1M11 5.5h1m21 0h1m6 0h1m5 0h1m2 0h1m13 0h1m1 0h1m17 0h1M30 6.5h2m10 0h1m7 0h1m4 0h1M563 13.5h1M33 14.5h1M518 16.5h1M26 17.5h1M597 18.5h1M597 19.5h1M599 20.5h1M6 21.5h1M599 22.5h1M543 23.5h1m53 0h1M45 24.5h1m18 0h1M599 25.5h1M358 26.5h1M48 27.5h1m548 0h1M597 28.5h1M598 29.5h1M36 31.5h1M6 32.5h1M43 33.5h1m434 0h1"/><path stroke="#AFC9DF" d="M67 0.5h1m46 0h1m199 0h1m3 0h1M9 3.5h1m14 0h1m14 0h1m2 0h1m70 0h1M4 4.5h1m12 0h1m3 0h1m1 0h1m1 0h1m3 0h1m2 0h1m119 0h1m109 0h1M4 5.5h1m4 0h1m7 0h1m3 0h1m5 0h1m2 0h1m6 0h1m6 0h1m3 0h1m2 0h1m4 0h2m1 0h1m92 0h1M10 6.5h2m11 0h1m1 0h1m13 0h1m14 0h1m4 0h1m4 0h2m17 0h1M409 11.5h1M588 13.5h1M15 14.5h1M385 15.5h1m128 0h1m52 0h1M8 16.5h1m22 0h1m4 0h1m8 0h1m18 0h1m532 0h1M1 17.5h1m6 0h1m27 0h1m561 0h2M0 19.5h1m22 0h1m21 0h1M6 20.5h1m8 0h1m27 0h1m16 0h1m537 0h1M8 21.5h1m23 0h1m30 0h1m185 0h1m328 0h1M23 22.5h1m12 0h1m17 0h1m338 0h1m204 0h1M358 23.5h1m119 0h1m120 0h1M23 24.5h1m454 0h1M32 25.5h1m510 0h1M23 26.5h1m32 0h1m540 0h1m1 0h1M9 27.5h1m19 0h1m13 0h1m10 0h1m300 0h1m222 0h1m19 0h2M36 28.5h1m441 0h1m83 0h1M8 29.5h1m47 0h1m332 0h1m209 0h1M36 30.5h1m1 0h1m6 0h1m2 0h1m309 0h1m106 0h1m100 0h1M23 31.5h1m24 0h1m550 0h1M13 32.5h1m6 0h1m568 0h1m9 0h1M575 33.5h1m2 0h1"/><path stroke="#B8CFE2" d="M70 0.5h1m236 0h1m20 0h1M166 1.5h1m39 0h1M104 2.5h1m33 0h1M0 3.5h2m1 0h1m7 0h1m3 0h4m6 0h1m2 0h2m7 0h1m11 0h1m2 0h1m6 0h1m2 0h2M0 4.5h1m2 0h1m2 0h1m4 0h2m7 0h1m7 0h1m6 0h1m4 0h1m12 0h1m3 0h2m1 0h1m1 0h1m1 0h2M1 5.5h1m1 0h1m3 0h2m1 0h1m4 0h2m6 0h2m11 0h1m2 0h1m15 0h1m33 0h1m31 0h1M7 6.5h1m7 0h2m1 0h1m5 0h1m7 0h2m7 0h1m3 0h1m11 0h1m2 0h1m30 0h1m21 0h1m38 0h1M180 10.5h1m85 0h1m19 0h1M14 11.5h1m57 0h1m114 0h1M358 12.5h1M599 13.5h1M13 14.5h1m37 0h1m1 0h1M484 15.5h1m76 0h1m10 0h1M18 16.5h1m155 0h1m303 0h1m99 0h1m20 0h1M0 17.5h1m5 0h1m27 0h1m23 0h1m3 0h1m415 0h1m33 0h1m28 0h1M8 18.5h1m14 0h1m32 0h1m68 0h1m339 0h1m109 0h1m22 0h1M25 19.5h1m28 0h1m423 0h1m72 0h1m18 0h1m28 0h1M2 20.5h1m28 0h1m543 0h1m21 0h1M371 21.5h1m106 0h1M9 22.5h1m17 0h1m32 0h1m414 0h1m99 0h1M8 23.5h2m24 0h1m10 0h1m1 0h1m464 0h1M6 24.5h1m1 0h1m9 0h1m7 0h1m122 0h1m99 0h1m347 0h3M9 25.5h1m16 0h1m21 0h1m7 0h1m421 0h1m9 0h1m108 0h1M287 26.5h1M23 27.5h1m32 0h1m418 0h1m2 0h1m64 0h1M19 28.5h1m6 0h1m405 0h1m49 0h1m95 0h1m19 0h1M0 29.5h1m8 0h1m26 0h1m1 0h1m148 0h1m138 0h1M0 30.5h1m25 0h1m15 0h1m11 0h1m9 0h1m220 0h1M9 31.5h1m10 0h1m8 0h1m24 0h1m542 0h2M36 32.5h1m212 0h1m264 0h1m53 0h1m6 0h1m2 0h1m19 0h1M13 33.5h1m22 0h1m13 0h1m12 0h1m61 0h1m349 0h1m6 0h1m93 0h1m22 0h1"/><path stroke="#C1D5E6" d="M14 0.5h1m16 0h1m7 0h2m8 0h1m2 0h1m10 0h1m4 0h1m44 0h1m27 0h1m38 0h1m31 0h1m2 0h1M66 1.5h1m19 0h1m11 0h1m28 0h1m13 0h1m41 0h1m34 0h1m50 0h1m9 0h1m21 0h1M19 2.5h1m3 0h1m12 0h1m3 0h1m13 0h2m22 0h2m36 0h1m30 0h1m77 0h1M4 3.5h1m2 0h1m4 0h1m9 0h1m9 0h1m7 0h2m8 0h2m3 0h4m1 0h1m91 0h1m4 0h1m198 0h1M1 4.5h1m13 0h1m2 0h1m11 0h1m8 0h1m4 0h1m4 0h1m1 0h2m152 0h1m18 0h1m48 0h1M0 5.5h1m11 0h3m19 0h1m23 0h1m3 0h1m25 0h1m222 0h1M2 6.5h3m1 0h1m7 0h1m11 0h1m1 0h1m5 0h1m3 0h1m1 0h1m6 0h1m10 0h1m2 0h1m25 0h1m1 0h1m60 0h1m87 0h1m27 0h1M178 10.5h1m37 0h1m9 0h1m42 0h1m58 0h1M33 11.5h1m30 0h1m123 0h2m122 0h1M27 12.5h1m62 0h1m20 0h1m45 0h1m49 0h1m30 0h1M579 13.5h1m1 0h1m3 0h1m12 0h1M2 14.5h1m1 0h2m12 0h1m3 0h2m8 0h1m2 0h1m1 0h1m14 0h1M591 15.5h1m2 0h1m2 0h1M34 16.5h1m12 0h2m5 0h1m61 0h1m192 0h1m16 0h1m11 0h1m173 0h1m7 0h1m63 0h1M7 17.5h1m15 0h1m322 0h1m118 0h1m37 0h1m10 0h1m15 0h1m47 0h1M15 18.5h1m3 0h1m23 0h1m18 0h1m191 0h1m54 0h1m83 0h1m84 0h1m64 0h1m34 0h1M12 19.5h3m19 0h1m9 0h1m5 0h1m287 0h1M1 20.5h1m7 0h2m15 0h1m9 0h1m8 0h1m1 0h2m146 0h1m130 0h1m11 0h1m19 0h1m30 0h1m42 0h1m63 0h1m54 0h1m27 0h1m15 0h1M13 21.5h1m31 0h1m8 0h1m5 0h1m64 0h1m23 0h1m159 0h1m137 0h1m79 0h1m47 0h1m23 0h1M22 22.5h1m6 0h1m15 0h1m11 0h1m227 0h1m72 0h1m105 0h1m13 0h1m4 0h1m55 0h1M26 23.5h1m4 0h1m3 0h1m1 0h1m18 0h1m117 0h1m180 0h1m77 0h1m90 0h1m26 0h1M7 24.5h1m3 0h1m13 0h1m12 0h1m332 0h1m21 0h1m136 0h1m1 0h1m8 0h1m1 0h1M6 25.5h1m1 0h1m11 0h1m15 0h1m1 0h1m6 0h1m1 0h1m237 0h1m312 0h1M13 26.5h1m5 0h1m23 0h1m72 0h1m252 0h1m19 0h1m88 0h1m91 0h1m4 0h1M36 27.5h1m13 0h1m242 0h1m64 0h1m123 0h1m37 0h1m18 0h1m4 0h1m6 0h1m28 0h1m14 0h1M2 28.5h1m10 0h1m18 0h1m5 0h1m4 0h1m12 0h1m7 0h1m130 0h1m347 0h1m7 0h1m47 0h1M15 29.5h1m2 0h1m4 0h1m9 0h1m9 0h1m3 0h2m5 0h1m2 0h1m5 0h1m61 0h1m352 0h1m35 0h1M20 30.5h1m41 0h1m502 0h1m9 0h1m2 0h1m18 0h1m1 0h1M2 31.5h1m12 0h1m27 0h1m1 0h1m72 0h1m30 0h1m155 0h1m17 0h1m69 0h1m84 0h1m53 0h1M8 32.5h1m1 0h2m4 0h1m2 0h1m25 0h1m16 0h1m62 0h1m232 0h1m73 0h1m110 0h1M34 33.5h1m250 0h1m124 0h1m57 0h1m63 0h1m18 0h1m46 0h1"/><path stroke="#CADBE9" d="M9 0.5h1m6 0h1m2 0h1m1 0h3m5 0h1m7 0h1m4 0h1m4 0h1m10 0h1m1 0h3m9 0h1m17 0h1m8 0h1m2 0h2m11 0h1m6 0h1m24 0h1m21 0h1m68 0h1m25 0h1m51 0h1M11 1.5h1m8 0h1m7 0h1m41 0h1m2 0h1m71 0h1m3 0h1m10 0h1m16 0h1m35 0h1m3 0h1m5 0h1m18 0h1m4 0h1m67 0h1m85 0h1M24 2.5h1m8 0h1m3 0h1m9 0h1m11 0h1m20 0h2m14 0h1m4 0h1m40 0h1m26 0h1m31 0h1m7 0h1m13 0h1m90 0h1m116 0h1m24 0h1M6 3.5h1m12 0h3m16 0h1m7 0h3m4 0h1m7 0h1m21 0h1m6 0h1m85 0h1m39 0h1m21 0h1m27 0h1M13 4.5h1m20 0h1m2 0h1m9 0h1m2 0h1m4 0h1m5 0h1m17 0h1m7 0h1m5 0h1m19 0h1m4 0h1m29 0h1m4 0h1m3 0h1m17 0h1m118 0h1M5 5.5h2m13 0h1m4 0h1m9 0h1m6 0h1m2 0h1m7 0h1m6 0h2m18 0h1m34 0h1m45 0h1m19 0h1m47 0h1m8 0h1m66 0h1M0 6.5h2m11 0h1m3 0h1m1 0h2m6 0h1m16 0h1m1 0h1m4 0h1m28 0h1m36 0h1m136 0h1M14 10.5h1m86 0h1m14 0h1m59 0h1m70 0h1m37 0h1m26 0h1m32 0h1M1 11.5h1m39 0h1m10 0h1m2 0h1m3 0h1m63 0h1m83 0h1m36 0h1m18 0h1m31 0h1m171 0h1M140 12.5h1m27 0h1m8 0h1m5 0h1m258 0h1M189 13.5h1m140 0h1m163 0h1m41 0h1m14 0h1m7 0h3m5 0h1m19 0h1M6 14.5h1m3 0h2m13 0h1m5 0h1m4 0h1m11 0h1m1 0h1m16 0h1m45 0h1m1 0h1m53 0h1m64 0h1M138 15.5h1m61 0h1m66 0h1m145 0h1m1 0h1m54 0h1m20 0h1m40 0h1m14 0h1m25 0h1m9 0h1M2 16.5h1m8 0h1m11 0h1m2 0h1m30 0h1m52 0h1m7 0h1m200 0h1m35 0h1m33 0h1m3 0h1m109 0h1m33 0h1m26 0h1m5 0h2m24 0h1m1 0h1M9 17.5h1m5 0h1m6 0h1m15 0h1m12 0h1m341 0h1m43 0h1m94 0h1m35 0h1m6 0h1m4 0h1M0 18.5h1m19 0h1m5 0h1m7 0h1m3 0h1m1 0h1m4 0h1m2 0h1m3 0h1m8 0h1m42 0h1m201 0h1m19 0h1m39 0h1m9 0h1m99 0h1m58 0h1m5 0h1M1 19.5h2m5 0h1m7 0h1m9 0h1m16 0h1m74 0h1m76 0h1m97 0h1m11 0h1m3 0h1m166 0h1m9 0h1m40 0h1m15 0h1m51 0h1m2 0h1M4 20.5h1m8 0h1m7 0h1m11 0h2m2 0h1m4 0h1m9 0h1m1 0h1m1 0h1m92 0h1m99 0h1m35 0h1m14 0h1m98 0h1m71 0h1m3 0h1m6 0h1m10 0h1m1 0h1m66 0h1m2 0h1m2 0h1M1 21.5h1m8 0h1m8 0h1m2 0h2m12 0h1m11 0h1m236 0h1m37 0h1m14 0h1m1 0h1m64 0h1m59 0h1m22 0h1m14 0h1m25 0h1m21 0h1m36 0h1M8 22.5h1m9 0h3m13 0h1m5 0h1m2 0h1m12 0h1m77 0h1m152 0h1m185 0h1m40 0h1m28 0h1m18 0h1m11 0h1m9 0h1m10 0h1M0 23.5h1m1 0h1m3 0h1m5 0h1m16 0h1m8 0h1m7 0h1m1 0h1m3 0h1m11 0h1m279 0h1m60 0h1m31 0h1m44 0h1m5 0h1m31 0h1m13 0h1m30 0h1m32 0h1M0 24.5h1m14 0h1m5 0h1m34 0h1m5 0h1m62 0h1m159 0h1m52 0h1m226 0h1m4 0h1m24 0h1M18 25.5h1m4 0h1m16 0h1m14 0h1m6 0h1m224 0h1m35 0h1m149 0h1m77 0h1m23 0h1m2 0h1m5 0h1M1 26.5h1m7 0h1m5 0h1m2 0h1m7 0h2m9 0h1m7 0h1m2 0h1m3 0h1m7 0h1m188 0h1m143 0h1m26 0h1m61 0h1m13 0h1m15 0h1m5 0h1m11 0h1m8 0h1m28 0h1m2 0h1M8 27.5h1m4 0h1m6 0h3m8 0h1m13 0h1m11 0h1m4 0h1m1 0h1m399 0h2m37 0h1m26 0h1m37 0h1m20 0h1m4 0h1M11 28.5h1m11 0h1m11 0h1m9 0h1m2 0h1m2 0h1m2 0h1m70 0h1m161 0h1m111 0h1m71 0h1m1 0h1m94 0h1m6 0h1m4 0h1m7 0h1M19 29.5h1m1 0h1m27 0h1m12 0h1m71 0h1m150 0h1m1 0h1m70 0h1m46 0h1m129 0h1m15 0h1m12 0h2m12 0h1M5 30.5h1m6 0h1m3 0h2m3 0h1m21 0h1m8 0h1m3 0h1m59 0h1m123 0h1m8 0h1m96 0h1m46 0h1m38 0h1m38 0h1m6 0h1m2 0h1m6 0h1m7 0h1m15 0h1m35 0h1m27 0h1m21 0h1M32 31.5h1m9 0h1m9 0h1m3 0h1m301 0h1m129 0h1m25 0h1m9 0h1m3 0h1m22 0h1m13 0h1m9 0h1M0 32.5h1m14 0h1m10 0h1m4 0h1m7 0h1m18 0h1m59 0h1m166 0h1m23 0h1m38 0h1m22 0h1m17 0h1m89 0h1m33 0h1m21 0h1m26 0h1M0 33.5h2m6 0h2m2 0h1m6 0h2m5 0h1m27 0h1m94 0h1m121 0h1m15 0h1m18 0h1m39 0h1m46 0h1m47 0h1m30 0h1m51 0h1m5 0h1m8 0h1m8 0h1m19 0h1m28 0h1"/><path stroke="#D3E1ED" d="M1 0.5h1m2 0h2m1 0h1m2 0h4m6 0h1m3 0h3m3 0h1m4 0h2m1 0h1m2 0h1m3 0h2m3 0h1m2 0h2m1 0h2m1 0h1m4 0h2m9 0h1m16 0h1m1 0h1m9 0h1m1 0h1m3 0h1m1 0h1m4 0h1m2 0h1m4 0h1m7 0h1m1 0h2m15 0h2m5 0h1m13 0h1m4 0h1m6 0h1m33 0h1m6 0h1m1 0h1m26 0h1m18 0h1m47 0h1m3 0h1m10 0h1m123 0h1m21 0h1M5 1.5h2m11 0h1m12 0h1m6 0h1m6 0h1m8 0h1m3 0h1m5 0h1m7 0h1m12 0h1m4 0h1m4 0h1m10 0h1m3 0h2m23 0h2m14 0h1m20 0h1m16 0h1m71 0h1m185 0h1m51 0h1M1 2.5h1m5 0h1m1 0h1m4 0h1m3 0h1m3 0h1m4 0h1m1 0h1m1 0h1m6 0h1m4 0h3m2 0h2m7 0h2m1 0h4m7 0h1m15 0h1m31 0h1m13 0h1m5 0h1m33 0h1m15 0h1m18 0h1m17 0h1m12 0h1m19 0h1m30 0h1m24 0h1m73 0h1m7 0h1m22 0h1m1 0h1m75 0h1m46 0h1M5 3.5h1m8 0h1m8 0h1m3 0h1m6 0h2m8 0h1m19 0h2m9 0h1m3 0h1m7 0h2m6 0h1m3 0h1m12 0h1m8 0h1m15 0h1m12 0h1m18 0h1m21 0h1m22 0h1m26 0h1m35 0h1m11 0h1m15 0h1M2 4.5h1m2 0h1m1 0h1m18 0h2m5 0h1m7 0h1m1 0h1m10 0h1m17 0h1m10 0h1m4 0h1m8 0h1m2 0h1m13 0h1m6 0h1m9 0h1m60 0h1m13 0h1m9 0h1m36 0h2m56 0h1m44 0h1M41 5.5h1m12 0h1m9 0h1m2 0h1m9 0h1m9 0h1m11 0h1m13 0h1m22 0h1m20 0h1m15 0h1m17 0h1m13 0h1m14 0h1m7 0h1m14 0h1m223 0h1M9 6.5h1m2 0h1m9 0h1m14 0h1m5 0h1m18 0h2m9 0h1m14 0h1m23 0h1m18 0h1m1 0h1m34 0h1m4 0h1m2 0h1m4 0h1m23 0h1m8 0h1m13 0h1m44 0h1m20 0h1m3 0h1m6 0h1M6 10.5h1m14 0h1m9 0h1m17 0h1m5 0h1m8 0h1m16 0h1m2 0h1m10 0h1m14 0h1m1 0h1m34 0h1m90 0h1m5 0h1m37 0h1m25 0h1m40 0h1m31 0h1m24 0h1M2 11.5h1m7 0h1m15 0h1m4 0h2m23 0h1m20 0h1m41 0h1m10 0h1m4 0h1m33 0h1m16 0h1m10 0h1m10 0h1m41 0h1m59 0h1m16 0h1M1 12.5h1m7 0h1m3 0h1m8 0h1m3 0h1m21 0h1m25 0h1m12 0h1m24 0h1m8 0h1m15 0h1m15 0h1m17 0h1m14 0h1m45 0h1m53 0h1m8 0h1m23 0h1m88 0h1m10 0h1m71 0h1M277 13.5h1m82 0h1m94 0h1m2 0h1m10 0h1m8 0h1m20 0h1m18 0h1m30 0h1m5 0h1m2 0h1m12 0h1m3 0h2m6 0h1m6 0h1m3 0h2M17 14.5h1m1 0h1m1 0h1m20 0h1m12 0h1m4 0h1m23 0h1m13 0h1m109 0h1m145 0h1m218 0h1M75 15.5h1m88 0h1m140 0h1m32 0h1m87 0h1m8 0h1m29 0h1m28 0h1m3 0h1m8 0h1m13 0h1m8 0h1m12 0h1m8 0h2m1 0h1m1 0h2m6 0h1m15 0h2m16 0h1M13 16.5h3m3 0h2m3 0h1m13 0h1m4 0h1m5 0h1m12 0h1m202 0h1m5 0h1m74 0h1m48 0h1m9 0h1m7 0h1m18 0h1m43 0h1m19 0h1m5 0h1m27 0h1m37 0h1m11 0h1m5 0h1M2 17.5h1m7 0h1m1 0h3m3 0h1m2 0h1m9 0h1m5 0h1m10 0h2m6 0h2m2 0h1m55 0h1m8 0h1m123 0h1m3 0h1m11 0h1m31 0h1m7 0h1m17 0h1m42 0h1m22 0h1m69 0h1m22 0h1m35 0h1m5 0h1m1 0h1m9 0h1m32 0h1m14 0h1m4 0h1m3 0h1M1 18.5h2m3 0h1m2 0h1m2 0h2m7 0h1m2 0h1m6 0h1m10 0h1m10 0h1m1 0h1m3 0h1m56 0h1m62 0h1m15 0h1m69 0h1m39 0h1m45 0h1m68 0h1m26 0h1m24 0h2m1 0h1m1 0h1m10 0h1m13 0h2m8 0h1m5 0h1m9 0h1m3 0h1m15 0h1m22 0h1m1 0h1M6 19.5h1m4 0h1m7 0h1m2 0h1m6 0h1m1 0h1m6 0h1m3 0h1m9 0h1m6 0h2m2 0h2m60 0h1m159 0h1m14 0h1m22 0h1m34 0h1m5 0h1m24 0h1m3 0h1m71 0h1m7 0h1m6 0h2m1 0h1m11 0h1m22 0h1m5 0h1m3 0h1m2 0h1m39 0h1m2 0h1m1 0h1m1 0h1m4 0h2M18 20.5h1m4 0h1m5 0h1m2 0h1m11 0h1m4 0h1m9 0h1m1 0h1m52 0h1m10 0h1m8 0h1m70 0h1m9 0h1m71 0h1m17 0h1m3 0h1m45 0h1m15 0h1m21 0h1m18 0h1m55 0h1m3 0h2m5 0h1m8 0h1m38 0h1m26 0h1m19 0h1m1 0h1m3 0h1m8 0h1m1 0h1M16 21.5h1m9 0h1m11 0h1m4 0h2m7 0h1m5 0h1m59 0h1m186 0h1m6 0h1m42 0h1m2 0h1m51 0h1m21 0h1m41 0h1m37 0h1m13 0h1m4 0h1m2 0h1m8 0h1m21 0h1m2 0h1m14 0h1M0 22.5h1m10 0h1m19 0h1m6 0h2m12 0h1m8 0h1m203 0h1m39 0h1m17 0h1m2 0h1m23 0h1m4 0h1m40 0h1m68 0h1m2 0h1m13 0h1m20 0h1m20 0h1m7 0h1m33 0h1m21 0h1m2 0h1m1 0h1M7 23.5h1m8 0h1m1 0h1m4 0h2m26 0h1m5 0h1m2 0h1m2 0h1m61 0h1m197 0h1m14 0h1m7 0h1m46 0h1m5 0h1m32 0h1m17 0h1m14 0h1m9 0h2m6 0h1m22 0h1m32 0h1M9 24.5h1m12 0h1m6 0h1m2 0h1m10 0h1m2 0h1m1 0h1m11 0h1m55 0h1m137 0h1m32 0h1m5 0h1m32 0h1m28 0h1m2 0h1m36 0h1m69 0h1m7 0h1m2 0h1m37 0h1m24 0h1m11 0h1m26 0h1m8 0h1M2 25.5h1m8 0h2m2 0h1m5 0h2m6 0h3m2 0h1m8 0h1m13 0h1m7 0h1m15 0h1m34 0h1m1 0h1m6 0h1m23 0h1m45 0h1m53 0h1m15 0h1m100 0h1m52 0h1m27 0h1m55 0h1m8 0h1m11 0h1m16 0h1m26 0h1m10 0h1M6 26.5h1m1 0h1m11 0h1m3 0h1m5 0h2m2 0h1m3 0h1m11 0h1m3 0h1m250 0h1m112 0h1m14 0h1m33 0h2m33 0h2m10 0h1m9 0h1m7 0h1m15 0h1m2 0h1m7 0h1m2 0h1m2 0h1m8 0h1m1 0h1m11 0h1m2 0h1m3 0h1m2 0h1M0 27.5h1m1 0h1m2 0h1m9 0h3m8 0h1m7 0h1m3 0h1m10 0h1m2 0h2m6 0h1m57 0h1m76 0h1m53 0h1m55 0h1m40 0h1m46 0h1m43 0h1m8 0h1m41 0h1m6 0h1m6 0h1m11 0h1m3 0h1m35 0h1m7 0h1m25 0h1M6 28.5h4m5 0h1m4 0h1m1 0h1m1 0h1m4 0h1m4 0h1m14 0h1m3 0h1m3 0h1m2 0h1m88 0h1m99 0h1m35 0h1m23 0h1m79 0h1m30 0h1m26 0h1m26 0h1m37 0h1m5 0h1m1 0h1m20 0h1m28 0h1m22 0h1M6 29.5h1m6 0h2m2 0h1m7 0h3m3 0h2m1 0h1m10 0h1m14 0h1m193 0h1m57 0h1m10 0h1m14 0h1m129 0h1m3 0h2m8 0h1m10 0h1m2 0h1m5 0h1m17 0h1m7 0h1m3 0h1m6 0h1m35 0h1M1 30.5h1m6 0h2m13 0h2m2 0h1m22 0h2m7 0h1m3 0h1m151 0h1m93 0h1m16 0h1m39 0h1m38 0h1m108 0h1m3 0h1m1 0h1m16 0h1m13 0h1m7 0h1m10 0h1m8 0h2m6 0h2M0 31.5h2m3 0h2m1 0h1m13 0h1m3 0h2m6 0h1m3 0h1m1 0h1m5 0h1m4 0h1m8 0h1m248 0h1m28 0h1m66 0h1m31 0h1m9 0h1m20 0h1m26 0h1m22 0h1m57 0h1m1 0h1m1 0h1m2 0h2m6 0h1m3 0h1M1 32.5h1m7 0h1m2 0h1m5 0h1m27 0h2m56 0h1m192 0h1m21 0h1m24 0h1m48 0h1m15 0h1m54 0h1m10 0h1m6 0h1m41 0h1m9 0h1m4 0h1m1 0h1m6 0h1m15 0h1m1 0h1m3 0h1m3 0h1m20 0h1m1 0h1M6 33.5h1m11 0h1m4 0h1m1 0h1m5 0h2m5 0h1m6 0h1m2 0h1m2 0h1m9 0h1m112 0h1m65 0h1m8 0h1m69 0h1m100 0h1m11 0h1m31 0h1m38 0h1m18 0h1m12 0h1m26 0h1m2 0h1"/><path stroke="#DCE7F1" d="M6 0.5h1m1 0h1m8 0h2m9 0h1m3 0h2m10 0h1m6 0h1m22 0h1m21 0h1m27 0h1m4 0h1m9 0h2m26 0h1m14 0h1m27 0h1m26 0h1m32 0h1m21 0h1m19 0h1m2 0h1m14 0h1m31 0h1M4 1.5h1m4 0h1m5 0h2m2 0h1m15 0h1m1 0h1m6 0h1m6 0h1m1 0h1m15 0h1m24 0h1m10 0h1m3 0h1m8 0h1m3 0h1m11 0h1m5 0h1m1 0h1m22 0h1m4 0h1m5 0h1m3 0h1m6 0h1m2 0h1m20 0h2m9 0h1m6 0h1m25 0h2m8 0h1m14 0h1m5 0h1m7 0h1m22 0h1m8 0h1m1 0h1m34 0h1m12 0h1m22 0h1m183 0h1M2 2.5h5m3 0h1m4 0h3m2 0h2m10 0h1m6 0h1m2 0h1m3 0h1m6 0h1m11 0h2m5 0h1m13 0h1m2 0h1m2 0h1m4 0h1m12 0h1m6 0h1m4 0h2m30 0h1m1 0h1m5 0h2m4 0h1m2 0h1m7 0h1m13 0h1m24 0h1m23 0h1m32 0h1m1 0h1m3 0h1m17 0h1m35 0h1m13 0h2m4 0h1m4 0h1m13 0h1m25 0h1m8 0h1m24 0h1m47 0h1M2 3.5h1m23 0h1m27 0h1m17 0h1m13 0h1m2 0h1m1 0h1m8 0h1m3 0h1m12 0h1m14 0h2m2 0h1m10 0h2m19 0h1m33 0h1m21 0h1m29 0h1m54 0h2m23 0h1m101 0h1M19 4.5h1m47 0h1m5 0h1m6 0h1m8 0h1m1 0h1m11 0h1m3 0h1m9 0h1m10 0h1m21 0h1m3 0h1m3 0h1m9 0h1m12 0h1m1 0h2m6 0h1m30 0h1m15 0h1m27 0h1m26 0h1m142 0h1M22 5.5h1m3 0h1m1 0h1m18 0h1m27 0h1m8 0h1m5 0h1m2 0h1m6 0h1m2 0h2m2 0h1m6 0h1m2 0h1m15 0h1m14 0h1m2 0h1m1 0h1m47 0h1m4 0h1m7 0h1m1 0h1m24 0h1m12 0h1m2 0h1m8 0h1m22 0h1m66 0h1m19 0h1M53 6.5h1m2 0h1m20 0h1m3 0h1m21 0h3m4 0h1m4 0h1m5 0h1m26 0h1m4 0h1m3 0h1m58 0h1m17 0h1m6 0h1m11 0h1m29 0h1m27 0h1m44 0h1M69 8.5h1m335 0h1m144 0h1M11 9.5h2M9 10.5h1m1 0h1m4 0h1m8 0h1m2 0h1m10 0h1m4 0h1m1 0h1m1 0h1m4 0h1m3 0h2m14 0h1m5 0h1m6 0h1m12 0h1m26 0h1m5 0h1m11 0h1m32 0h1m25 0h1m16 0h1m15 0h1m57 0h1m37 0h1m22 0h1m45 0h1m6 0h1m74 0h1m7 0h1m17 0h1m86 0h1M0 11.5h1m2 0h1m3 0h2m2 0h1m4 0h3m1 0h1m2 0h2m13 0h1m4 0h1m3 0h1m1 0h1m15 0h2m6 0h1m7 0h1m8 0h1m6 0h1m2 0h1m2 0h1m11 0h1m9 0h1m17 0h1m8 0h1m7 0h2m13 0h1m7 0h2m41 0h1m13 0h1m100 0h1m2 0h1m1 0h1m21 0h1m86 0h1m52 0h1M25 12.5h1m12 0h1m13 0h1m5 0h1m17 0h1m18 0h1m13 0h1m19 0h1m4 0h1m10 0h1m27 0h1m7 0h1m27 0h2m14 0h1m2 0h1m14 0h1m6 0h2m61 0h1m23 0h1m1 0h1m6 0h1m19 0h1m9 0h1m8 0h1m54 0h1M1 13.5h1m29 0h1m115 0h1m238 0h1m55 0h1m3 0h1m2 0h1m15 0h1m11 0h1m7 0h1m1 0h1m15 0h2m1 0h1m13 0h1m9 0h1m7 0h1m3 0h1m5 0h1m24 0h1m3 0h1m18 0h1M12 14.5h1m13 0h1m2 0h1m8 0h1m2 0h1m30 0h1m6 0h2m6 0h1m17 0h1m31 0h1m30 0h1m56 0h1m16 0h1m8 0h1m8 0h1m75 0h1m21 0h1m9 0h1M87 15.5h1m18 0h1m5 0h1m4 0h1m33 0h1m65 0h1m5 0h1m41 0h1m28 0h1m30 0h1m9 0h1m12 0h1m16 0h1m57 0h1m16 0h1m8 0h1m4 0h1m8 0h1m7 0h1m18 0h1m4 0h1m5 0h1m9 0h1m14 0h1m6 0h1m4 0h1m32 0h1m4 0h1m3 0h1M0 16.5h2m3 0h1m21 0h1m11 0h1m2 0h1m1 0h1m5 0h1m19 0h1m65 0h1m12 0h1m173 0h1m34 0h1m12 0h1m93 0h1m6 0h1m6 0h1m1 0h1m5 0h1m5 0h1m27 0h1m17 0h1m25 0h1m29 0h1M3 17.5h1m1 0h1m13 0h1m4 0h1m2 0h1m2 0h1m9 0h1m4 0h2m5 0h3m8 0h1m1 0h1m38 0h1m135 0h1m71 0h1m6 0h1m18 0h1m19 0h1m5 0h1m4 0h1m1 0h1m24 0h1m23 0h1m23 0h1m19 0h1m28 0h2m28 0h1m5 0h1m21 0h1m18 0h2m1 0h2m1 0h1M4 18.5h1m6 0h1m6 0h1m3 0h1m2 0h1m3 0h2m1 0h2m7 0h1m7 0h1m1 0h1m12 0h2m44 0h1m104 0h1m69 0h1m4 0h1m64 0h1m2 0h1m5 0h1m6 0h1m17 0h1m9 0h1m12 0h1m33 0h1m21 0h1m13 0h2m11 0h1m3 0h1m29 0h1m4 0h1m27 0h1m1 0h1m1 0h1m1 0h1m1 0h1M5 19.5h1m1 0h1m1 0h1m25 0h2m10 0h1m3 0h1m3 0h1m5 0h2m41 0h1m11 0h1m17 0h1m74 0h1m30 0h1m46 0h1m38 0h1m42 0h1m8 0h1m16 0h1m3 0h1m47 0h1m7 0h1m12 0h1m3 0h1m29 0h1m8 0h1m2 0h1m15 0h1m4 0h1m5 0h1m6 0h1m5 0h1m14 0h1m9 0h1m7 0h1m6 0h1M7 20.5h2m8 0h1m2 0h1m3 0h1m10 0h1m2 0h1m12 0h1m1 0h1m3 0h2m3 0h1m123 0h1m119 0h1m9 0h1m6 0h1m6 0h1m60 0h1m13 0h1m4 0h1m54 0h1m12 0h1m4 0h1m18 0h2m10 0h1m3 0h1m1 0h1m9 0h3m2 0h1m7 0h1m6 0h1m18 0h1m1 0h1m1 0h1m10 0h1m1 0h1M0 21.5h1m2 0h1m3 0h1m4 0h1m12 0h1m5 0h1m1 0h1m5 0h2m1 0h1m3 0h2m2 0h1m5 0h1m79 0h1m132 0h1m17 0h1m76 0h1m24 0h1m3 0h1m43 0h1m26 0h1m3 0h1m1 0h1m5 0h1m18 0h2m17 0h1m3 0h1m9 0h1m6 0h1m1 0h1m1 0h1m14 0h1m7 0h1m3 0h1m3 0h2m21 0h1m4 0h1M6 22.5h2m2 0h1m1 0h2m1 0h2m8 0h1m4 0h1m4 0h1m11 0h1m1 0h1m13 0h3m70 0h1m12 0h1m36 0h1m55 0h1m38 0h2m20 0h1m2 0h1m5 0h1m75 0h1m10 0h1m50 0h1m26 0h1m15 0h1m11 0h1m25 0h1m16 0h1m6 0h1m9 0h1m2 0h2m1 0h1m4 0h1m1 0h1m1 0h1m2 0h1M13 23.5h2m5 0h1m4 0h1m1 0h2m14 0h1m5 0h1m3 0h2m6 0h2m55 0h1m152 0h1m37 0h1m54 0h1m6 0h1m19 0h1m52 0h1m12 0h1m6 0h1m16 0h1m13 0h1m20 0h1m6 0h1m6 0h3m38 0h1m3 0h2m11 0h1m4 0h1m1 0h1M1 24.5h2m1 0h1m12 0h1m2 0h1m3 0h1m8 0h1m8 0h1m4 0h1m6 0h2m7 0h1m1 0h1m15 0h1m132 0h1m47 0h1m2 0h1m20 0h1m36 0h1m40 0h1m40 0h1m26 0h1m8 0h1m16 0h1m18 0h1m1 0h1m2 0h1m6 0h1m12 0h1m9 0h1m14 0h2m21 0h1m8 0h1m15 0h1m3 0h1m3 0h2M3 25.5h1m3 0h1m9 0h1m7 0h1m9 0h1m1 0h1m1 0h1m4 0h1m9 0h1m3 0h1m115 0h1m12 0h1m66 0h1m91 0h1m7 0h2m2 0h1m12 0h1m4 0h1m16 0h1m1 0h1m4 0h1m31 0h1m4 0h1m6 0h1m23 0h1m1 0h1m15 0h1m6 0h1m29 0h1m6 0h1m1 0h1m2 0h1m1 0h1m1 0h1m22 0h1m2 0h2M2 26.5h1m1 0h2m1 0h1m21 0h1m6 0h1m5 0h1m4 0h1m1 0h1m1 0h1m9 0h2m51 0h1m21 0h1m12 0h1m4 0h1m37 0h1m19 0h1m1 0h1m39 0h1m5 0h1m10 0h1m13 0h1m36 0h2m2 0h1m39 0h1m24 0h1m65 0h1m13 0h1m14 0h1m14 0h1m7 0h1m10 0h1m8 0h1m13 0h1m20 0h1m13 0h1m1 0h1m2 0h3m10 0h1M1 27.5h1m5 0h1m2 0h2m2 0h1m9 0h1m2 0h1m2 0h1m20 0h1m11 0h1m1 0h1m240 0h1m5 0h1m6 0h1m18 0h1m49 0h1m2 0h1m3 0h1m85 0h1m24 0h1m5 0h1m10 0h2m2 0h1m9 0h1m3 0h1m5 0h1m17 0h1m4 0h2m1 0h1m1 0h1M1 28.5h1m8 0h1m1 0h1m1 0h1m3 0h1m6 0h1m5 0h1m7 0h2m11 0h1m51 0h1m29 0h1m17 0h1m10 0h1m10 0h1m121 0h1m15 0h1m45 0h1m81 0h1m16 0h1m17 0h1m12 0h1m4 0h1m1 0h1m7 0h1m5 0h1m17 0h1m2 0h3m4 0h1m1 0h1m19 0h1m11 0h1m1 0h1m2 0h1M2 29.5h1m4 0h1m14 0h1m1 0h1m4 0h1m7 0h1m14 0h1m11 0h2m23 0h1m20 0h1m5 0h1m1 0h1m29 0h2m31 0h1m22 0h1m66 0h1m21 0h1m11 0h1m70 0h1m99 0h1m6 0h1m11 0h1m7 0h1m19 0h2m6 0h1m2 0h1m6 0h1m1 0h1m3 0h1m33 0h1m9 0h1m3 0h1M2 30.5h1m7 0h1m3 0h1m3 0h2m12 0h1m1 0h1m5 0h1m93 0h1m60 0h1m33 0h1m57 0h1m17 0h1m13 0h1m18 0h1m16 0h1m15 0h1m17 0h1m22 0h1m23 0h1m16 0h1m12 0h1m1 0h1m4 0h1m2 0h1m5 0h1m3 0h1m37 0h1m7 0h1m2 0h1m3 0h1m1 0h1m1 0h1m29 0h1m18 0h1M4 31.5h1m2 0h1m4 0h3m3 0h1m5 0h1m6 0h1m7 0h1m17 0h1m4 0h1m1 0h2m70 0h1m78 0h1m69 0h1m17 0h1m15 0h1m6 0h1m28 0h1m20 0h1m14 0h1m28 0h1m10 0h1m32 0h1m6 0h2m1 0h1m7 0h1m2 0h1m13 0h1m23 0h1m7 0h1m2 0h2m3 0h1m10 0h1m17 0h3m3 0h1m4 0h1m6 0h1m6 0h1m2 0h1M5 32.5h1m1 0h1m15 0h1m3 0h4m1 0h1m1 0h1m3 0h1m9 0h1m2 0h1m2 0h1m4 0h1m89 0h1m36 0h1m100 0h1m17 0h1m17 0h1m14 0h1m60 0h1m37 0h1m27 0h1m2 0h1m9 0h1m39 0h1m1 0h1m5 0h1m3 0h1m45 0h1M5 33.5h1m5 0h1m3 0h2m35 0h1m4 0h1m1 0h1m5 0h1m22 0h1m27 0h1m19 0h1m78 0h1m128 0h1m13 0h1m12 0h1m23 0h1m17 0h1m23 0h1m35 0h1m2 0h1m19 0h1m5 0h1m25 0h1m2 0h1m10 0h1m23 0h1m4 0h1m1 0h1m10 0h1m3 0h1"/><path stroke="#E4EDF4" d="M3 0.5h1m11 0h1m32 0h1m6 0h1m15 0h1m9 0h1m1 0h1m17 0h1m19 0h1m5 0h1m21 0h1m4 0h1m20 0h2m7 0h1m20 0h1m16 0h1m7 0h1m13 0h1m3 0h1m3 0h1m27 0h1m8 0h1m23 0h1m38 0h1m3 0h1m2 0h1m7 0h1m2 0h1m20 0h1m4 0h1m12 0h1m60 0h1m2 0h1m3 0h1m51 0h1M10 1.5h1m2 0h1m7 0h2m2 0h3m4 0h3m1 0h1m2 0h1m1 0h1m1 0h1m4 0h1m3 0h1m6 0h2m1 0h2m1 0h1m8 0h1m1 0h1m2 0h1m13 0h1m8 0h1m1 0h1m7 0h1m8 0h1m10 0h1m14 0h2m3 0h1m14 0h1m1 0h1m3 0h1m20 0h1m6 0h1m3 0h1m15 0h1m3 0h1m1 0h2m1 0h1m8 0h1m19 0h1m23 0h1m5 0h1m58 0h1m3 0h1m24 0h1m15 0h1m121 0h1m48 0h1M0 2.5h1m7 0h1m2 0h1m1 0h1m11 0h2m1 0h1m1 0h1m3 0h2m5 0h1m8 0h3m3 0h1m7 0h1m4 0h1m21 0h1m8 0h1m6 0h1m6 0h1m10 0h1m4 0h1m3 0h1m1 0h1m20 0h1m14 0h1m1 0h1m10 0h1m5 0h1m3 0h1m1 0h2m4 0h1m2 0h1m12 0h1m4 0h1m2 0h1m9 0h1m8 0h2m57 0h1m7 0h1m27 0h1m21 0h1m6 0h1m1 0h1m9 0h1m12 0h1m9 0h1m26 0h1m10 0h1m46 0h1m87 0h2M43 3.5h1m23 0h1m9 0h1m2 0h1m12 0h1m11 0h3m7 0h1m2 0h1m9 0h1m1 0h1m13 0h1m21 0h1m14 0h1m8 0h1m15 0h1m4 0h1m23 0h2m36 0h1m14 0h1m9 0h1m20 0h1m5 0h1m26 0h1m71 0h1m140 0h1M9 4.5h1m4 0h1m33 0h1m26 0h1m8 0h1m14 0h1m5 0h1m3 0h1m2 0h1m20 0h1m9 0h1m5 0h1m5 0h1m3 0h1m11 0h1m1 0h1m23 0h1m2 0h1m13 0h2m20 0h1m20 0h1m30 0h1m7 0h1m8 0h1m38 0h1m4 0h1m60 0h1M19 5.5h1m30 0h1m22 0h1m18 0h1m2 0h3m14 0h1m5 0h1m1 0h1m9 0h2m23 0h1m14 0h1m5 0h2m33 0h1m5 0h1m1 0h1m36 0h1m16 0h1m4 0h1m55 0h1m67 0h1M48 6.5h1m21 0h1m13 0h1m8 0h2m5 0h1m8 0h1m10 0h1m4 0h1m2 0h1m6 0h1m15 0h1m19 0h1m15 0h1m18 0h1m37 0h1m2 0h1m4 0h1m27 0h1m29 0h1m94 0h1m6 0h1m9 0h1m16 0h1m21 0h1m5 0h1M0 7.5h1m11 0h1m15 0h2m7 0h3m1 0h1m6 0h1m1 0h1m2 0h2m2 0h1m2 0h1m4 0h1m5 0h1m3 0h1m3 0h1m14 0h1m7 0h1m2 0h2m5 0h1m9 0h1m23 0h1m2 0h1m1 0h1m13 0h1m3 0h1m12 0h1m7 0h1m6 0h5m3 0h1m2 0h1m4 0h1m5 0h2m1 0h1m4 0h1m2 0h1m5 0h2m5 0h1m1 0h2m3 0h2m5 0h1m7 0h2m6 0h1m4 0h2m1 0h1m1 0h1m3 0h1m1 0h1m9 0h1m2 0h1m2 0h1m6 0h1m2 0h1m15 0h1m8 0h1m2 0h1m7 0h1m11 0h1m2 0h1m1 0h2m2 0h2m1 0h2m6 0h1m4 0h1m9 0h2m6 0h3m1 0h1m9 0h1m8 0h1m10 0h1m2 0h1m15 0h1m15 0h1m11 0h1m8 0h3m4 0h1m19 0h1m18 0h1m3 0h1m22 0h2m7 0h1m19 0h1M1 8.5h1m2 0h1m11 0h1m6 0h1m1 0h1m8 0h2m2 0h1m5 0h1m1 0h1m3 0h1m3 0h2m9 0h1m1 0h1m2 0h1m6 0h1m10 0h1m4 0h3m8 0h1m1 0h1m1 0h1m3 0h3m3 0h1m2 0h2m5 0h1m21 0h1m4 0h1m2 0h1m1 0h1m18 0h1m2 0h1m2 0h1m2 0h2m12 0h1m11 0h1m1 0h1m2 0h1m4 0h1m4 0h1m7 0h1m8 0h1m2 0h1m5 0h1m1 0h1m2 0h2m5 0h1m1 0h1m23 0h2m3 0h1m2 0h1m4 0h1m1 0h1m3 0h1m1 0h1m1 0h2m3 0h1m2 0h1m4 0h1m1 0h1m5 0h2m6 0h1m1 0h1m11 0h1m3 0h1m1 0h1m7 0h1m1 0h2m6 0h1m1 0h1m7 0h1m10 0h1m3 0h1m9 0h1m13 0h1m2 0h1m1 0h1m1 0h1m3 0h2m1 0h1m4 0h1m6 0h1m1 0h2m4 0h2m2 0h1m10 0h1m9 0h1m1 0h1m13 0h1m1 0h1m7 0h1m4 0h1m3 0h1m6 0h1m1 0h1m7 0h1m8 0h1m1 0h1m5 0h2m24 0h1m9 0h1M3 9.5h3m1 0h1m2 0h1m18 0h1m7 0h1m2 0h1m7 0h1m2 0h4m8 0h1m6 0h2m3 0h2m1 0h1m6 0h1m5 0h2m3 0h1m1 0h2m12 0h1m13 0h1m1 0h1m5 0h2m4 0h1m7 0h1m10 0h1m15 0h1m3 0h1m5 0h1m16 0h1m4 0h1m2 0h1m17 0h1m3 0h1m4 0h1m7 0h1m8 0h2m3 0h1m1 0h1m10 0h1m1 0h1m8 0h1m2 0h1m13 0h1m9 0h1m7 0h1m7 0h1m1 0h1m7 0h1m3 0h1m3 0h1m17 0h1m6 0h1m3 0h2m13 0h1m13 0h1m2 0h2m4 0h1m15 0h2m14 0h1m2 0h1m4 0h1m2 0h3m18 0h1m1 0h1m9 0h1m3 0h1m1 0h2m1 0h1m8 0h1m5 0h1m49 0h1m1 0h1m5 0h1m1 0h1m11 0h1m1 0h1m10 0h2M1 10.5h1m6 0h1m1 0h1m2 0h1m3 0h1m2 0h1m3 0h1m5 0h1m2 0h2m2 0h1m4 0h2m12 0h1m3 0h1m1 0h1m3 0h2m4 0h1m1 0h1m12 0h1m12 0h1m3 0h1m2 0h1m3 0h1m9 0h1m8 0h1m9 0h1m32 0h1m19 0h1m23 0h1m14 0h1m16 0h1m5 0h1m5 0h2m44 0h1m10 0h1m1 0h1m26 0h1m21 0h1m6 0h1m7 0h2m2 0h1m23 0h1m28 0h2m10 0h1m19 0h1m3 0h1m10 0h1m4 0h1m53 0h1M4 11.5h1m4 0h1m2 0h2m1 0h1m3 0h1m7 0h1m1 0h1m4 0h4m2 0h1m1 0h1m1 0h1m1 0h1m3 0h2m1 0h1m3 0h2m3 0h1m6 0h1m4 0h1m3 0h1m10 0h1m4 0h1m19 0h1m7 0h1m8 0h1m6 0h1m1 0h1m3 0h1m10 0h1m6 0h1m3 0h1m11 0h1m1 0h1m9 0h2m18 0h1m2 0h2m9 0h1m27 0h1m7 0h1m4 0h2m6 0h1m9 0h1m1 0h1m4 0h1m6 0h1m2 0h1m33 0h1m23 0h1m20 0h1m8 0h1m21 0h1m22 0h1m8 0h1m4 0h2m46 0h1m31 0h1m21 0h2M11 12.5h1m6 0h2m3 0h1m8 0h2m2 0h1m5 0h1m2 0h1m1 0h1m3 0h1m2 0h1m2 0h1m1 0h1m2 0h4m38 0h1m5 0h1m17 0h1m6 0h1m7 0h1m8 0h1m8 0h1m2 0h1m7 0h1m5 0h1m6 0h1m3 0h1m10 0h1m12 0h1m8 0h1m18 0h1m10 0h1m21 0h1m4 0h1m23 0h1m3 0h1m13 0h1m2 0h2m18 0h2m9 0h1m6 0h1m7 0h1m1 0h1m1 0h1m20 0h1m19 0h1m2 0h1m70 0h1m6 0h1m6 0h1m42 0h1M24 13.5h1m39 0h1m56 0h1m66 0h1m117 0h1m30 0h1m13 0h1m20 0h1m2 0h1m12 0h1m28 0h1m55 0h1m17 0h1m3 0h1m12 0h1m1 0h1m11 0h1m16 0h1m5 0h1m7 0h1m3 0h1m7 0h1m4 0h1m1 0h1m1 0h1m22 0h1M1 14.5h1m1 0h1m5 0h1m10 0h1m6 0h1m2 0h1m12 0h1m3 0h1m1 0h1m7 0h2m32 0h1m10 0h1m17 0h1m58 0h1m9 0h3m20 0h1m5 0h1m17 0h1m8 0h1m11 0h2m6 0h1m40 0h1m1 0h1m37 0h1m6 0h1m9 0h1m8 0h1m9 0h1m40 0h1m8 0h1m88 0h1M91 15.5h1m11 0h1m21 0h1m1 0h1m15 0h1m11 0h1m2 0h1m18 0h2m8 0h1m13 0h1m35 0h2m84 0h1m7 0h2m40 0h1m32 0h1m4 0h1m41 0h1m14 0h1m9 0h1m20 0h1m25 0h1m9 0h1m1 0h1m1 0h1m2 0h1m3 0h1m15 0h1m11 0h2m1 0h1m8 0h1m3 0h1m4 0h2M3 16.5h2m12 0h1m3 0h1m7 0h1m7 0h1m2 0h2m10 0h1m3 0h1m47 0h1m22 0h1m23 0h2m68 0h1m18 0h1m13 0h1m30 0h1m38 0h1m5 0h1m71 0h1m24 0h1m3 0h1m15 0h1m9 0h1m6 0h1m12 0h1m4 0h2m40 0h1m10 0h1m15 0h1m2 0h1m3 0h1m14 0h2m1 0h1m16 0h1M16 17.5h2m11 0h1m2 0h1m9 0h1m21 0h1m44 0h1m5 0h1m2 0h1m17 0h1m8 0h1m3 0h1m13 0h1m17 0h2m12 0h1m19 0h1m55 0h1m13 0h1m1 0h1m5 0h1m15 0h1m11 0h1m25 0h2m1 0h1m25 0h1m22 0h1m4 0h1m43 0h1m22 0h2m1 0h1m2 0h1m1 0h1m1 0h1m3 0h1m2 0h2m5 0h1m3 0h1m2 0h1m17 0h1m7 0h1m2 0h1m5 0h1m6 0h1m17 0h1m2 0h2m15 0h2m7 0h1m3 0h1M7 18.5h1m8 0h1m10 0h1m7 0h1m3 0h1m4 0h1m1 0h1m10 0h1m2 0h1m75 0h1m12 0h1m4 0h1m94 0h1m12 0h1m24 0h1m4 0h1m26 0h1m26 0h1m21 0h2m35 0h1m1 0h2m23 0h1m4 0h1m26 0h1m6 0h1m29 0h1m3 0h1m8 0h1m4 0h2m3 0h1m5 0h1m6 0h1m1 0h1m2 0h1m8 0h1m17 0h1m6 0h1m2 0h2m1 0h1m4 0h1m4 0h1m3 0h1M10 19.5h1m4 0h1m2 0h1m1 0h1m9 0h1m1 0h2m14 0h1m7 0h1m13 0h1m108 0h2m6 0h1m27 0h1m11 0h1m1 0h1m12 0h1m6 0h1m12 0h1m8 0h1m17 0h1m16 0h1m33 0h1m14 0h1m10 0h1m24 0h1m18 0h1m1 0h1m5 0h1m1 0h1m10 0h1m12 0h1m14 0h1m4 0h1m2 0h1m3 0h1m2 0h2m3 0h1m2 0h1m5 0h1m27 0h1m5 0h2m2 0h1m7 0h1m12 0h1m11 0h1m5 0h1m1 0h1m12 0h1m1 0h1m8 0h1M0 20.5h1m4 0h1m8 0h1m1 0h1m2 0h1m5 0h1m1 0h1m2 0h1m9 0h2m4 0h1m3 0h1m14 0h1m45 0h1m24 0h1m55 0h1m47 0h1m105 0h1m10 0h1m8 0h1m1 0h2m4 0h1m29 0h1m2 0h1m10 0h1m16 0h1m1 0h1m9 0h1m26 0h1m1 0h1m8 0h1m27 0h1m2 0h1m6 0h1m15 0h1m19 0h1m10 0h1m7 0h1m9 0h1M2 21.5h1m1 0h2m3 0h1m4 0h1m5 0h1m8 0h1m7 0h1m13 0h1m1 0h1m3 0h1m4 0h1m1 0h1m16 0h1m28 0h1m52 0h1m31 0h1m30 0h1m13 0h1m30 0h1m8 0h1m23 0h1m39 0h1m24 0h1m29 0h1m21 0h1m6 0h1m14 0h1m29 0h1m5 0h1m1 0h2m6 0h1m3 0h2m14 0h1m13 0h1m8 0h1m17 0h1m4 0h1m7 0h2m4 0h1m4 0h1m11 0h2M1 22.5h2m2 0h1m15 0h1m4 0h1m5 0h1m13 0h1m1 0h1m4 0h1m8 0h1m47 0h1m7 0h1m20 0h1m34 0h1m16 0h1m12 0h1m9 0h2m28 0h1m4 0h1m12 0h1m46 0h1m28 0h1m6 0h1m23 0h1m1 0h1m19 0h1m10 0h1m2 0h1m4 0h1m7 0h1m1 0h1m2 0h1m8 0h1m37 0h1m5 0h1m4 0h1m20 0h1m9 0h1m5 0h1m2 0h2m4 0h1m2 0h1m6 0h1m4 0h1m8 0h1m6 0h1m2 0h1m1 0h1M1 23.5h1m8 0h1m6 0h1m3 0h2m9 0h1m6 0h1m1 0h2m1 0h1m59 0h1m5 0h1m5 0h1m46 0h1m28 0h1m3 0h1m68 0h1m21 0h1m17 0h1m23 0h2m43 0h1m3 0h1m44 0h1m19 0h1m3 0h2m6 0h1m11 0h1m11 0h1m38 0h1m9 0h1m6 0h1m5 0h1m2 0h1m2 0h1m6 0h1m1 0h1m9 0h1m11 0h1m1 0h1m1 0h1m4 0h1m8 0h1M5 24.5h1m10 0h1m2 0h1m7 0h1m2 0h2m2 0h1m2 0h1m2 0h1m3 0h1m7 0h1m17 0h1m33 0h1m29 0h1m39 0h1m4 0h1m12 0h1m16 0h1m5 0h1m81 0h1m2 0h1m39 0h1m4 0h2m15 0h1m4 0h1m1 0h1m10 0h1m7 0h1m10 0h1m2 0h1m28 0h1m5 0h1m9 0h1m20 0h1m17 0h1m1 0h1m10 0h1m3 0h1m20 0h1m10 0h1m6 0h1m1 0h1m13 0h1m3 0h2m7 0h1m2 0h1m1 0h1m4 0h1m6 0h1m4 0h1M1 25.5h1m3 0h1m7 0h1m2 0h1m2 0h1m7 0h2m12 0h1m4 0h1m6 0h1m5 0h1m4 0h1m127 0h1m22 0h1m40 0h1m14 0h1m40 0h1m11 0h1m1 0h1m17 0h1m24 0h1m19 0h1m15 0h1m14 0h1m51 0h1m8 0h2m6 0h1m5 0h1m18 0h1m6 0h1m12 0h1m29 0h1m5 0h2m8 0h1m1 0h1m6 0h1m3 0h1m2 0h1M14 26.5h1m17 0h1m2 0h1m10 0h1m11 0h1m5 0h2m38 0h1m29 0h1m27 0h1m11 0h1m11 0h1m93 0h1m9 0h1m15 0h1m37 0h1m1 0h1m8 0h1m8 0h1m6 0h1m4 0h1m18 0h1m17 0h1m12 0h2m4 0h1m4 0h1m6 0h1m10 0h1m8 0h1m8 0h1m1 0h1m5 0h1m1 0h2m10 0h1m3 0h1m5 0h1m29 0h1m5 0h1m7 0h1m4 0h1m6 0h1m4 0h1m10 0h1m1 0h1m1 0h1m5 0h1M32 27.5h2m8 0h1m1 0h1m1 0h1m8 0h1m5 0h1m8 0h1m12 0h1m50 0h1m14 0h1m12 0h2m10 0h1m11 0h1m27 0h1m14 0h1m35 0h1m19 0h1m4 0h1m24 0h1m24 0h1m9 0h1m22 0h1m15 0h1m15 0h1m3 0h1m17 0h1m19 0h1m11 0h1m16 0h1m7 0h1m44 0h1m1 0h1m42 0h1m1 0h1m2 0h1m4 0h2m10 0h1M16 28.5h2m19 0h1m3 0h2m75 0h1m35 0h1m31 0h1m5 0h1m61 0h1m7 0h1m42 0h2m57 0h1m13 0h1m26 0h1m4 0h1m26 0h1m12 0h1m11 0h1m7 0h1m1 0h1m21 0h1m4 0h1m1 0h2m11 0h1m13 0h1m29 0h1m7 0h1m14 0h1M1 29.5h1m1 0h3m14 0h1m9 0h1m9 0h1m63 0h1m47 0h1m1 0h1m19 0h1m20 0h1m18 0h1m34 0h1m20 0h1m15 0h1m13 0h1m3 0h1m1 0h1m2 0h1m9 0h1m4 0h1m21 0h1m21 0h1m24 0h1m16 0h1m9 0h1m11 0h1m25 0h1m6 0h1m22 0h1m17 0h1m5 0h1m5 0h1m8 0h1m9 0h1m20 0h2m2 0h1m3 0h1m1 0h1m11 0h1m1 0h1m4 0h1M3 30.5h1m11 0h1m6 0h1m2 0h1m5 0h1m3 0h1m1 0h1m3 0h1m4 0h1m6 0h1m3 0h1m7 0h1m22 0h1m15 0h1m20 0h1m20 0h1m2 0h1m2 0h1m21 0h1m7 0h1m60 0h1m21 0h1m14 0h1m12 0h1m29 0h1m21 0h1m21 0h1m40 0h1m9 0h1m1 0h1m23 0h1m4 0h1m14 0h1m10 0h1m3 0h1m3 0h1m18 0h1m20 0h1m7 0h1m18 0h1m3 0h1m7 0h1m4 0h1m6 0h1m9 0h1m9 0h1M3 31.5h1m7 0h1m9 0h1m8 0h1m13 0h1m2 0h1m7 0h1m2 0h1m2 0h1m48 0h1m5 0h1m8 0h1m86 0h1m1 0h1m56 0h1m34 0h1m23 0h1m49 0h1m14 0h1m6 0h2m29 0h1m14 0h1m1 0h1m9 0h1m12 0h1m1 0h3m1 0h1m1 0h1m23 0h2m5 0h1m29 0h1m4 0h1m11 0h1m2 0h2m7 0h1m16 0h1M14 32.5h1m2 0h1m3 0h1m13 0h1m16 0h1m7 0h1m2 0h3m43 0h1m6 0h1m45 0h1m16 0h1m7 0h1m4 0h1m67 0h1m10 0h1m9 0h1m18 0h1m25 0h1m24 0h1m26 0h1m9 0h1m7 0h1m23 0h1m26 0h1m25 0h1m2 0h2m3 0h1m1 0h1m11 0h2m5 0h2m7 0h2m14 0h2m8 0h2m5 0h1m6 0h1m2 0h1m4 0h1m5 0h1m3 0h1m12 0h1m1 0h1m8 0h1M17 33.5h1m11 0h1m12 0h1m1 0h1m2 0h1m8 0h1m3 0h1m125 0h1m8 0h1m46 0h1m22 0h1m39 0h1m3 0h1m11 0h1m1 0h1m6 0h1m9 0h1m14 0h1m24 0h2m7 0h1m10 0h1m4 0h1m11 0h1m61 0h1m1 0h1m32 0h1m3 0h2m7 0h1m13 0h1m15 0h1m16 0h1m5 0h1m12 0h1"/><path stroke="#EDF3F8" d="M2 0.5h1m24 0h1m6 0h1m8 0h1m32 0h1m1 0h1m12 0h1m8 0h1m4 0h1m2 0h2m1 0h1m4 0h1m6 0h1m20 0h1m3 0h1m21 0h2m2 0h1m2 0h1m23 0h1m1 0h1m2 0h1m16 0h1m5 0h1m3 0h1m1 0h1m9 0h2m11 0h1m2 0h1m3 0h1m7 0h1m1 0h1m33 0h2m29 0h1m57 0h1m39 0h1m12 0h1m2 0h1m1 0h1m47 0h1m83 0h1m5 0h1M0 1.5h1m1 0h1m5 0h1m3 0h1m1 0h1m9 0h1m15 0h1m5 0h2m2 0h1m4 0h3m3 0h1m13 0h1m4 0h1m27 0h1m5 0h2m9 0h1m5 0h1m6 0h1m14 0h1m10 0h1m6 0h1m6 0h1m7 0h1m1 0h1m4 0h1m1 0h1m4 0h1m8 0h1m6 0h1m7 0h1m24 0h1m27 0h1m10 0h1m21 0h1m22 0h1m5 0h1m18 0h1m2 0h2m20 0h3m4 0h1m4 0h1m38 0h2m1 0h1m12 0h1m46 0h1m4 0h1m40 0h1m52 0h1M12 2.5h1m63 0h1m7 0h1m9 0h1m4 0h1m5 0h1m12 0h1m5 0h1m1 0h3m8 0h1m3 0h1m3 0h1m21 0h1m18 0h1m9 0h1m3 0h1m3 0h1m24 0h1m15 0h1m3 0h1m7 0h1m2 0h2m1 0h1m1 0h1m44 0h1m15 0h2m12 0h1m17 0h1m5 0h1m8 0h1m11 0h1m6 0h1m33 0h1m35 0h1m4 0h1m37 0h1m5 0h1m13 0h1m5 0h2m20 0h1m15 0h1m20 0h1M66 3.5h1m14 0h1m12 0h1m8 0h1m23 0h1m1 0h1m45 0h1m4 0h1m2 0h2m2 0h1m12 0h2m3 0h1m11 0h2m18 0h1m6 0h1m5 0h1m33 0h1m1 0h1m7 0h1m1 0h1m9 0h1m50 0h1m118 0h1m18 0h1m88 0h1M77 4.5h1m3 0h2m13 0h1m14 0h1m18 0h1m8 0h1m11 0h1m14 0h1m2 0h1m2 0h1m1 0h1m1 0h1m3 0h1m6 0h1m35 0h1m4 0h1m12 0h1m1 0h1m39 0h1m5 0h1m8 0h1m1 0h1m35 0h1m40 0h1m73 0h1m72 0h1m44 0h1M38 5.5h1m4 0h1m28 0h1m6 0h1m1 0h1m12 0h1m3 0h1m6 0h1m5 0h1m27 0h2m27 0h2m1 0h2m1 0h1m4 0h1m3 0h1m29 0h1m12 0h1m9 0h1m15 0h1m5 0h1m22 0h1m9 0h1m2 0h1m3 0h1m45 0h1m4 0h1m12 0h1m4 0h1m5 0h1m59 0h1m34 0h1m26 0h1m15 0h1M35 6.5h1m31 0h1m6 0h1m3 0h2m5 0h1m10 0h1m9 0h1m4 0h1m4 0h1m1 0h1m8 0h1m1 0h2m15 0h1m14 0h1m4 0h1m2 0h1m10 0h1m1 0h1m1 0h2m5 0h1m2 0h1m22 0h1m14 0h1m10 0h1m6 0h1m6 0h1m4 0h1m14 0h1m10 0h2m6 0h1m12 0h1m6 0h1m17 0h1m89 0h1m99 0h1m36 0h1m13 0h1M2 7.5h9m2 0h1m1 0h1m1 0h7m1 0h1m1 0h1m3 0h2m1 0h1m1 0h1m3 0h1m1 0h3m1 0h2m1 0h1m1 0h1m4 0h1m1 0h2m2 0h1m1 0h1m2 0h4m2 0h2m1 0h2m2 0h1m2 0h8m1 0h2m1 0h1m2 0h3m2 0h2m2 0h2m2 0h1m1 0h3m2 0h2m1 0h1m1 0h5m1 0h1m1 0h1m2 0h2m1 0h7m1 0h1m2 0h1m3 0h1m2 0h1m3 0h2m2 0h1m2 0h3m1 0h4m2 0h3m1 0h1m3 0h1m1 0h1m4 0h3m2 0h1m5 0h2m6 0h2m2 0h1m1 0h1m1 0h1m5 0h1m1 0h1m5 0h2m1 0h1m2 0h1m2 0h1m2 0h1m2 0h3m3 0h1m1 0h2m2 0h3m1 0h1m3 0h1m2 0h2m2 0h1m1 0h1m8 0h2m7 0h2m1 0h2m1 0h2m5 0h5m1 0h2m2 0h1m2 0h4m1 0h4m1 0h1m1 0h1m1 0h5m3 0h1m2 0h2m1 0h1m1 0h1m1 0h2m1 0h1m1 0h1m1 0h2m1 0h1m2 0h1m1 0h1m3 0h1m2 0h1m2 0h3m1 0h2m1 0h2m1 0h1m1 0h1m1 0h1m2 0h2m1 0h1m2 0h6m3 0h1m1 0h3m4 0h2m5 0h4m1 0h1m1 0h8m1 0h2m1 0h1m2 0h3m1 0h6m1 0h1m1 0h2m1 0h8m1 0h2m3 0h1m3 0h6m1 0h1m2 0h1m2 0h2m5 0h2m1 0h1m3 0h1m2 0h4m1 0h1m2 0h1m2 0h1m3 0h2m2 0h1m2 0h1m1 0h2m2 0h1m1 0h1m6 0h3m1 0h1m1 0h1m2 0h1m2 0h1m2 0h1m3 0h1m3 0h2m2 0h3m3 0h3m1 0h3m2 0h1m5 0h1M3 8.5h1m2 0h6m1 0h3m1 0h1m1 0h2m1 0h1m1 0h1m1 0h3m1 0h3m3 0h2m1 0h5m1 0h1m1 0h2m2 0h3m2 0h3m1 0h3m1 0h1m8 0h1m1 0h2m2 0h2m3 0h4m1 0h2m1 0h1m3 0h1m4 0h3m1 0h1m1 0h1m1 0h2m5 0h2m1 0h1m3 0h2m1 0h2m1 0h1m1 0h1m6 0h5m1 0h3m1 0h1m2 0h3m5 0h1m1 0h1m1 0h1m1 0h2m1 0h6m1 0h2m1 0h1m2 0h1m1 0h1m2 0h1m4 0h3m1 0h2m2 0h2m2 0h1m3 0h2m1 0h1m2 0h1m4 0h1m1 0h4m2 0h2m2 0h3m2 0h2m1 0h2m1 0h1m1 0h3m1 0h2m1 0h3m1 0h1m1 0h1m1 0h2m2 0h2m1 0h1m2 0h1m1 0h7m1 0h2m1 0h1m2 0h8m3 0h2m2 0h1m2 0h4m3 0h3m1 0h1m1 0h1m2 0h3m1 0h2m1 0h2m5 0h1m1 0h3m2 0h6m1 0h1m1 0h11m1 0h3m3 0h5m1 0h1m1 0h1m2 0h3m1 0h2m1 0h1m2 0h3m1 0h1m2 0h2m2 0h5m3 0h2m3 0h4m1 0h1m3 0h2m3 0h2m1 0h1m2 0h1m1 0h2m3 0h1m1 0h2m5 0h1m1 0h1m2 0h5m7 0h1m3 0h2m4 0h2m1 0h1m1 0h1m2 0h2m1 0h6m1 0h1m2 0h4m1 0h3m1 0h2m2 0h1m2 0h2m1 0h1m4 0h2m2 0h1m3 0h1m2 0h1m5 0h1m1 0h1m2 0h1m4 0h1m1 0h1m8 0h1m5 0h2m3 0h6m3 0h2m2 0h2m2 0h1m1 0h1m2 0h2m6 0h1M0 9.5h2m4 0h1m1 0h2m3 0h5m1 0h1m2 0h3m1 0h1m1 0h1m1 0h4m1 0h2m1 0h2m1 0h7m1 0h2m4 0h5m1 0h2m1 0h4m1 0h1m3 0h2m2 0h1m1 0h1m2 0h2m3 0h4m2 0h3m4 0h6m1 0h5m1 0h7m1 0h3m1 0h1m1 0h1m1 0h3m1 0h1m4 0h1m2 0h1m1 0h1m1 0h2m2 0h5m1 0h1m1 0h2m1 0h2m3 0h2m1 0h7m1 0h3m1 0h2m1 0h2m3 0h1m3 0h1m2 0h1m1 0h2m1 0h2m1 0h1m1 0h2m4 0h4m1 0h1m2 0h2m1 0h3m2 0h1m1 0h2m3 0h3m1 0h3m2 0h2m2 0h7m4 0h1m1 0h1m4 0h2m1 0h4m1 0h1m1 0h8m1 0h2m1 0h1m2 0h5m1 0h1m1 0h2m1 0h2m1 0h2m1 0h3m1 0h3m1 0h3m1 0h7m1 0h1m1 0h2m1 0h2m1 0h1m1 0h3m2 0h1m2 0h8m1 0h8m1 0h1m1 0h1m4 0h3m2 0h5m2 0h4m3 0h1m1 0h1m1 0h2m2 0h3m1 0h1m1 0h2m2 0h4m1 0h2m3 0h4m1 0h1m6 0h5m1 0h3m2 0h2m6 0h3m1 0h2m4 0h4m4 0h3m1 0h1m2 0h1m5 0h1m3 0h3m2 0h3m1 0h1m4 0h2m1 0h5m2 0h1m4 0h1m1 0h1m4 0h1m2 0h1m3 0h1m3 0h1m4 0h2m1 0h3m1 0h1m1 0h1m1 0h1m1 0h3m1 0h1m1 0h2m1 0h2m1 0h1m11 0h1m2 0h1m1 0h2m1 0h3m3 0h1m1 0h1m2 0h1m6 0h1M7 10.5h1m11 0h1m2 0h1m4 0h1m10 0h1m1 0h2m10 0h1m1 0h1m4 0h1m5 0h1m10 0h1m13 0h1m2 0h1m14 0h2m5 0h1m2 0h1m6 0h1m7 0h1m2 0h3m16 0h1m1 0h1m6 0h1m1 0h1m7 0h2m7 0h2m2 0h1m17 0h1m4 0h1m1 0h1m8 0h1m6 0h2m12 0h1m3 0h1m5 0h1m12 0h1m17 0h1m7 0h1m3 0h1m7 0h1m1 0h1m4 0h1m2 0h1m2 0h1m10 0h1m1 0h1m4 0h1m2 0h1m6 0h1m9 0h1m3 0h1m1 0h1m7 0h1m31 0h1m20 0h1m16 0h1m10 0h1m1 0h1m5 0h1m6 0h1m4 0h1m5 0h1m24 0h1m23 0h1m43 0h1m22 0h1M5 11.5h2m15 0h1m5 0h1m1 0h1m8 0h1m5 0h1m2 0h1m12 0h1m1 0h1m15 0h1m5 0h1m9 0h1m5 0h1m3 0h3m19 0h1m1 0h1m3 0h1m7 0h1m16 0h2m3 0h1m6 0h1m8 0h1m5 0h1m14 0h2m1 0h1m7 0h1m15 0h1m2 0h1m11 0h1m3 0h2m3 0h1m9 0h1m5 0h1m6 0h1m14 0h1m15 0h1m15 0h1m6 0h3m20 0h1m2 0h1m5 0h1m1 0h1m28 0h2m25 0h1m45 0h1m15 0h2m5 0h1m10 0h1m88 0h1M0 12.5h1m1 0h1m1 0h1m5 0h1m3 0h3m7 0h1m3 0h1m1 0h2m2 0h1m5 0h2m2 0h1m4 0h2m2 0h1m16 0h1m1 0h2m5 0h1m1 0h1m3 0h2m2 0h1m1 0h1m2 0h1m1 0h1m2 0h3m6 0h1m7 0h2m4 0h2m3 0h1m2 0h1m1 0h1m6 0h1m8 0h1m9 0h2m10 0h1m13 0h1m2 0h1m3 0h1m2 0h1m13 0h1m5 0h2m2 0h1m10 0h3m1 0h1m1 0h1m1 0h1m58 0h2m8 0h1m13 0h1m42 0h1m1 0h1m2 0h1m9 0h1m4 0h1m7 0h1m38 0h1m18 0h1m7 0h1m2 0h1m13 0h1m3 0h1m23 0h1m12 0h1m6 0h1M11 13.5h2m8 0h1m6 0h1m22 0h1m1 0h1m17 0h1m71 0h1m32 0h1m42 0h1m2 0h1m18 0h1m30 0h1m2 0h1m12 0h1m11 0h3m20 0h1m10 0h1m6 0h2m27 0h1m12 0h1m35 0h1m3 0h2m10 0h2m3 0h1m27 0h1m3 0h1m16 0h1m7 0h2m1 0h1m6 0h1m3 0h1m2 0h1m4 0h1m6 0h2m5 0h1m1 0h1m7 0h1m6 0h1m3 0h1m11 0h1m11 0h1m3 0h1m6 0h1m1 0h2M0 14.5h1m7 0h1m15 0h1m15 0h1m5 0h1m7 0h1m4 0h1m2 0h2m1 0h1m3 0h1m5 0h1m2 0h1m3 0h1m23 0h2m4 0h1m5 0h2m3 0h1m4 0h1m11 0h1m12 0h1m1 0h1m3 0h1m2 0h1m9 0h1m11 0h3m1 0h1m4 0h1m12 0h1m7 0h1m11 0h1m8 0h1m19 0h2m23 0h1m1 0h1m2 0h1m23 0h1m17 0h1m2 0h1m3 0h1m13 0h1m44 0h1m19 0h1m4 0h1m3 0h1m118 0h1M72 15.5h1m25 0h2m23 0h1m6 0h1m16 0h1m1 0h2m3 0h1m4 0h1m12 0h1m23 0h1m8 0h1m21 0h1m3 0h1m2 0h1m4 0h1m12 0h1m33 0h1m1 0h1m20 0h1m9 0h1m1 0h1m2 0h1m4 0h1m48 0h1m1 0h2m6 0h1m4 0h1m3 0h1m5 0h1m8 0h1m25 0h1m18 0h3m6 0h1m7 0h1m2 0h1m5 0h1m5 0h1m10 0h1m2 0h2m1 0h1m1 0h1m6 0h1m7 0h1m17 0h1m3 0h1m3 0h1m1 0h1m11 0h1m5 0h1m8 0h1m8 0h1m5 0h1M7 16.5h1m1 0h2m1 0h1m3 0h1m8 0h1m2 0h1m3 0h1m2 0h1m10 0h1m4 0h1m1 0h1m1 0h1m32 0h1m36 0h1m50 0h1m9 0h1m2 0h1m5 0h1m33 0h1m12 0h1m13 0h2m1 0h1m7 0h1m12 0h1m1 0h1m4 0h1m12 0h1m7 0h1m3 0h1m31 0h1m12 0h1m8 0h1m1 0h1m30 0h1m6 0h1m3 0h1m7 0h1m16 0h1m10 0h1m8 0h1m12 0h1m4 0h1m14 0h1m12 0h1m4 0h1m3 0h1m3 0h1m11 0h1m7 0h1m6 0h1m1 0h1m3 0h1m14 0h1m3 0h1m2 0h1m13 0h1m4 0h1m3 0h1M4 17.5h1m15 0h1m4 0h1m2 0h1m6 0h1m5 0h1m2 0h1m16 0h1m6 0h1m9 0h1m35 0h1m15 0h1m3 0h1m44 0h1m11 0h1m12 0h1m7 0h1m1 0h1m4 0h1m34 0h1m7 0h1m33 0h1m9 0h1m23 0h1m9 0h1m13 0h2m29 0h1m2 0h1m1 0h2m11 0h1m1 0h1m3 0h1m8 0h1m10 0h1m3 0h1m16 0h1m17 0h1m6 0h1m7 0h1m3 0h1m8 0h1m1 0h1m6 0h1m2 0h2m6 0h1m10 0h1m7 0h1m3 0h1m3 0h1m3 0h2m5 0h2m1 0h1m21 0h1m12 0h1M3 18.5h1m1 0h1m4 0h1m6 0h1m18 0h2m16 0h1m21 0h1m57 0h1m26 0h1m12 0h1m44 0h1m40 0h1m18 0h1m1 0h1m4 0h1m25 0h2m2 0h1m21 0h1m5 0h1m9 0h1m23 0h1m9 0h1m1 0h1m11 0h1m1 0h1m9 0h1m13 0h1m4 0h1m6 0h2m2 0h1m4 0h1m34 0h1m8 0h1m2 0h1m19 0h1m14 0h1m12 0h1m5 0h1m7 0h1m4 0h1m1 0h1m1 0h1m6 0h1m6 0h1m3 0h1m2 0h2m3 0h1m1 0h1M3 19.5h1m13 0h1m3 0h1m6 0h1m10 0h1m6 0h1m2 0h1m7 0h1m31 0h1m12 0h1m7 0h2m9 0h1m19 0h1m44 0h1m9 0h1m47 0h1m2 0h1m6 0h1m11 0h1m30 0h1m26 0h1m5 0h1m10 0h1m6 0h1m24 0h1m20 0h1m1 0h1m8 0h1m3 0h1m11 0h1m16 0h1m2 0h1m7 0h1m3 0h2m3 0h1m7 0h1m3 0h1m20 0h1m1 0h1m2 0h1m2 0h1m3 0h1m1 0h1m3 0h1m27 0h1m1 0h1m6 0h1m2 0h1m7 0h1m4 0h1m5 0h1m23 0h1M3 20.5h1m7 0h1m10 0h1m16 0h1m15 0h1m32 0h1m27 0h1m1 0h1m22 0h1m54 0h1m10 0h1m4 0h1m8 0h1m40 0h1m17 0h1m32 0h1m8 0h1m8 0h1m16 0h1m3 0h1m1 0h1m21 0h1m3 0h1m14 0h1m12 0h2m21 0h1m2 0h1m4 0h1m3 0h1m9 0h1m3 0h1m6 0h1m12 0h1m8 0h1m4 0h1m14 0h1m5 0h1m9 0h1m6 0h1m4 0h1m6 0h2m4 0h2m9 0h1M11 21.5h1m3 0h1m2 0h1m16 0h1m5 0h1m17 0h1m1 0h1m3 0h1m17 0h1m30 0h1m1 0h1m11 0h1m5 0h1m52 0h1m16 0h1m7 0h1m1 0h2m26 0h1m2 0h1m14 0h1m29 0h1m6 0h1m2 0h1m18 0h1m26 0h1m1 0h1m19 0h1m9 0h1m12 0h1m12 0h1m10 0h1m17 0h1m4 0h1m20 0h1m7 0h1m3 0h1m3 0h1m35 0h1m18 0h1m16 0h2m10 0h1m16 0h1m12 0h1m1 0h1m3 0h2M3 22.5h2m9 0h1m9 0h1m3 0h1m8 0h1m4 0h1m7 0h1m4 0h1m3 0h1m44 0h1m9 0h1m10 0h2m25 0h1m56 0h1m30 0h2m9 0h1m19 0h1m18 0h1m7 0h1m12 0h1m42 0h1m23 0h1m10 0h1m5 0h1m13 0h1m15 0h2m4 0h1m7 0h1m1 0h1m2 0h1m10 0h3m13 0h1m22 0h2m24 0h1m5 0h1m1 0h2m24 0h1m15 0h1m6 0h1m3 0h1m7 0h1M3 23.5h1m7 0h1m18 0h1m19 0h1m37 0h1m20 0h1m4 0h1m19 0h1m19 0h1m31 0h1m20 0h1m13 0h1m20 0h1m6 0h1m30 0h1m1 0h2m1 0h1m20 0h1m19 0h1m13 0h1m10 0h1m13 0h3m8 0h1m8 0h1m22 0h1m11 0h1m20 0h1m31 0h1m3 0h1m6 0h2m10 0h1m6 0h1m10 0h1m4 0h1m1 0h2m19 0h1m5 0h3m10 0h3m3 0h1m1 0h1m3 0h1m5 0h1m4 0h1m1 0h1m4 0h1m2 0h1M10 24.5h1m1 0h3m34 0h3m1 0h1m7 0h1m26 0h1m20 0h1m4 0h1m6 0h1m14 0h1m26 0h1m22 0h1m60 0h1m20 0h2m12 0h1m26 0h1m9 0h1m24 0h1m3 0h1m3 0h1m1 0h1m23 0h2m7 0h1m1 0h1m14 0h1m3 0h1m10 0h2m3 0h1m8 0h1m9 0h2m4 0h1m2 0h1m7 0h1m6 0h1m2 0h1m3 0h2m5 0h1m5 0h1m3 0h1m4 0h1m4 0h1m11 0h1m4 0h1m7 0h1m10 0h1m9 0h1m1 0h1m4 0h1m11 0h3m8 0h1m2 0h1m5 0h1M10 25.5h1m3 0h1m9 0h1m17 0h1m6 0h3m8 0h2m1 0h1m6 0h1m18 0h1m14 0h1m29 0h1m10 0h1m30 0h1m5 0h1m57 0h1m65 0h1m2 0h1m6 0h1m2 0h1m2 0h1m25 0h1m1 0h1m1 0h1m4 0h1m17 0h1m11 0h2m2 0h1m16 0h1m1 0h1m2 0h1m13 0h1m24 0h2m5 0h2m8 0h1m1 0h1m5 0h1m1 0h2m6 0h1m8 0h1m2 0h1m13 0h1m5 0h2m7 0h1m2 0h1m6 0h1m7 0h1m1 0h1m10 0h1m16 0h1m4 0h1m1 0h1m7 0h1m3 0h1M3 26.5h1m6 0h1m5 0h2m3 0h2m5 0h1m11 0h1m22 0h1m17 0h1m6 0h2m28 0h1m2 0h1m3 0h1m4 0h1m15 0h1m5 0h1m8 0h1m17 0h1m15 0h1m23 0h1m6 0h1m35 0h2m1 0h1m27 0h1m2 0h2m11 0h1m28 0h1m1 0h1m9 0h1m3 0h1m23 0h1m9 0h1m10 0h1m3 0h1m5 0h2m1 0h1m8 0h1m9 0h1m3 0h1m5 0h1m5 0h2m9 0h1m1 0h1m4 0h1m4 0h1m5 0h2m7 0h1m1 0h2m2 0h1m1 0h1m22 0h1m10 0h2m2 0h1m5 0h1m29 0h1m24 0h2M12 27.5h1m5 0h2m19 0h1m7 0h1m56 0h1m11 0h1m37 0h1m4 0h1m47 0h1m38 0h1m15 0h1m8 0h1m7 0h1m7 0h1m35 0h1m2 0h1m42 0h1m7 0h1m3 0h1m8 0h1m5 0h1m5 0h1m7 0h1m1 0h1m4 0h1m2 0h1m12 0h1m7 0h1m7 0h2m10 0h1m6 0h2m7 0h1m5 0h1m15 0h1m8 0h1m10 0h1m8 0h1m3 0h1m2 0h1m12 0h1m17 0h1m24 0h1m1 0h1M0 28.5h1m29 0h1m16 0h1m7 0h1m5 0h2m2 0h1m23 0h1m21 0h1m4 0h1m2 0h1m67 0h1m3 0h1m22 0h1m4 0h1m22 0h1m4 0h1m9 0h1m46 0h1m8 0h1m11 0h1m14 0h1m3 0h1m7 0h1m2 0h1m10 0h1m1 0h2m6 0h1m3 0h1m7 0h1m7 0h1m18 0h1m9 0h1m2 0h1m12 0h1m14 0h1m7 0h2m15 0h1m2 0h1m2 0h1m1 0h1m8 0h1m20 0h1m3 0h1m2 0h1m2 0h1m5 0h1m12 0h1m14 0h1m1 0h1m17 0h1m10 0h2M10 29.5h3m3 0h1m11 0h1m10 0h1m1 0h2m3 0h1m4 0h1m3 0h1m5 0h1m99 0h1m57 0h1m45 0h1m3 0h1m27 0h1m5 0h1m18 0h1m25 0h1m1 0h1m1 0h1m2 0h1m10 0h1m2 0h1m10 0h1m1 0h1m5 0h1m34 0h1m7 0h1m9 0h1m1 0h1m3 0h1m9 0h1m6 0h1m4 0h1m4 0h2m18 0h1m24 0h1m6 0h1m3 0h1m7 0h1m3 0h1m3 0h1m2 0h1m21 0h1m2 0h1m8 0h1m8 0h1m1 0h1m1 0h1M4 30.5h1m2 0h1m3 0h1m17 0h2m2 0h1m13 0h1m13 0h1m56 0h1m26 0h1m40 0h2m33 0h1m40 0h1m3 0h1m15 0h1m3 0h1m10 0h1m8 0h1m78 0h1m2 0h1m6 0h1m3 0h1m9 0h2m2 0h1m23 0h2m17 0h3m13 0h1m4 0h1m6 0h1m2 0h1m7 0h1m31 0h2m1 0h1m3 0h1m3 0h1m5 0h1m23 0h1m12 0h1m4 0h1m2 0h1m3 0h1m2 0h1M10 31.5h1m5 0h2m1 0h1m8 0h1m4 0h1m3 0h1m3 0h1m28 0h1m1 0h1m10 0h1m5 0h1m38 0h1m1 0h1m3 0h1m36 0h1m2 0h1m12 0h1m4 0h1m2 0h1m45 0h2m6 0h1m4 0h1m10 0h1m21 0h1m52 0h1m5 0h2m18 0h1m2 0h1m19 0h1m4 0h1m12 0h1m2 0h1m2 0h1m20 0h1m5 0h1m3 0h1m8 0h3m1 0h1m28 0h1m6 0h1m25 0h2m6 0h1m2 0h1m12 0h1m13 0h1m19 0h1m14 0h1M2 32.5h1m19 0h1m1 0h2m11 0h1m2 0h3m1 0h1m5 0h1m5 0h1m31 0h2m37 0h1m28 0h1m38 0h1m16 0h1m8 0h1m31 0h1m8 0h1m5 0h1m37 0h1m5 0h1m11 0h1m20 0h2m8 0h1m12 0h1m41 0h1m2 0h1m12 0h1m13 0h1m3 0h1m9 0h1m2 0h3m9 0h1m1 0h2m12 0h1m2 0h1m19 0h1m23 0h1m9 0h1m6 0h1m2 0h1m2 0h1m1 0h1m22 0h1m10 0h1m2 0h1m1 0h1M2 33.5h1m7 0h1m10 0h1m2 0h1m2 0h1m2 0h1m6 0h1m1 0h1m6 0h1m2 0h1m5 0h1m54 0h1m3 0h1m6 0h1m74 0h1m12 0h1m7 0h1m29 0h1m64 0h1m25 0h1m9 0h1m8 0h1m7 0h1m13 0h1m11 0h1m7 0h1m2 0h2m29 0h1m1 0h1m29 0h1m17 0h1m5 0h1m9 0h1m1 0h1m4 0h1m4 0h2m8 0h1m1 0h1m10 0h1m2 0h1m5 0h2m9 0h1m3 0h1m22 0h1m1 0h1m2 0h1m8 0h1"/><path stroke="#F6F9FB" d="M0 0.5h1m81 0h1m4 0h3m3 0h1m13 0h1m11 0h1m8 0h1m3 0h1m4 0h2m11 0h1m13 0h2m25 0h2m1 0h1m7 0h1m18 0h1m29 0h1m14 0h1m2 0h1m12 0h1m10 0h1m2 0h1m11 0h1m8 0h1m17 0h1m3 0h1m11 0h1m16 0h1m5 0h1m6 0h1m6 0h1m50 0h1m46 0h1m1 0h1m25 0h1m18 0h1m14 0h1m6 0h1m13 0h2m6 0h1M17 1.5h1m5 0h1m5 0h2m11 0h1m6 0h1m17 0h2m23 0h1m24 0h1m10 0h1m10 0h1m18 0h1m2 0h2m5 0h1m13 0h1m14 0h1m4 0h2m29 0h1m16 0h1m1 0h1m29 0h1m9 0h1m4 0h1m10 0h1m2 0h1m19 0h1m3 0h2m3 0h1m2 0h1m12 0h1m2 0h1m5 0h1m12 0h1m24 0h1m40 0h1m30 0h1m4 0h1m6 0h1m8 0h1m10 0h1m27 0h1m33 0h2m14 0h1m1 0h1m11 0h1M73 2.5h3m6 0h1m2 0h1m7 0h1m8 0h1m5 0h1m2 0h1m1 0h1m29 0h1m2 0h1m6 0h1m22 0h2m3 0h2m1 0h1m9 0h1m15 0h2m42 0h1m7 0h1m1 0h1m8 0h1m14 0h1m9 0h1m8 0h1m3 0h1m4 0h1m15 0h1m13 0h1m6 0h1m5 0h1m7 0h1m15 0h2m2 0h1m2 0h1m8 0h1m3 0h1m45 0h1m5 0h1m9 0h2m2 0h2m5 0h1m17 0h2m3 0h1m7 0h1m6 0h1m8 0h1m6 0h1m3 0h1m3 0h1m16 0h1m8 0h1m1 0h1m5 0h1m8 0h1m11 0h1m3 0h1M70 3.5h1m2 0h1m8 0h1m1 0h2m23 0h2m3 0h1m5 0h1m10 0h1m2 0h2m3 0h1m9 0h1m1 0h1m1 0h2m1 0h1m2 0h1m11 0h1m1 0h2m4 0h1m2 0h1m37 0h1m7 0h1m11 0h1m2 0h1m3 0h1m1 0h1m7 0h1m4 0h1m5 0h1m3 0h1m5 0h1m2 0h1m1 0h1m8 0h1m18 0h1m15 0h1m8 0h1m7 0h1m15 0h1m5 0h1m1 0h1m24 0h1m1 0h1m6 0h1m2 0h1m71 0h1m34 0h1m28 0h1m4 0h1m28 0h1M71 4.5h1m20 0h1m1 0h1m6 0h1m4 0h1m8 0h1m6 0h1m2 0h1m20 0h1m9 0h1m13 0h1m14 0h1m2 0h1m1 0h1m11 0h1m8 0h1m34 0h1m1 0h1m7 0h1m1 0h1m18 0h1m23 0h1m4 0h1m20 0h1m12 0h1m21 0h1m13 0h1m1 0h2m6 0h1m21 0h1m15 0h1m4 0h1m3 0h1m33 0h1m2 0h1m111 0h1m1 0h1M66 5.5h1m4 0h1m19 0h1m10 0h1m24 0h2m5 0h1m9 0h1m2 0h1m2 0h1m5 0h1m2 0h1m6 0h1m8 0h1m6 0h1m4 0h1m1 0h2m1 0h1m5 0h1m16 0h1m7 0h2m5 0h1m1 0h1m1 0h1m9 0h1m2 0h1m1 0h1m3 0h1m7 0h2m1 0h1m12 0h1m5 0h1m2 0h1m1 0h1m4 0h1m15 0h2m18 0h1m6 0h1m29 0h1m2 0h1m25 0h1m3 0h1m10 0h1m13 0h2m3 0h1m6 0h1m39 0h2m15 0h1m15 0h1m14 0h1m36 0h1m3 0h1m16 0h1m6 0h1M68 6.5h2m1 0h2m9 0h1m3 0h1m5 0h1m2 0h1m1 0h1m3 0h1m17 0h1m17 0h1m4 0h1m1 0h1m27 0h1m1 0h2m7 0h1m2 0h1m9 0h1m3 0h1m2 0h1m4 0h1m3 0h1m2 0h1m9 0h1m3 0h1m7 0h1m18 0h1m18 0h1m51 0h1m1 0h1m18 0h1m17 0h1m19 0h2m9 0h1m15 0h1m9 0h1m12 0h1m40 0h1m106 0h1M1 7.5h1m9 0h1m2 0h1m1 0h1m7 0h1m1 0h1m3 0h1m2 0h1m1 0h1m9 0h1m6 0h1m2 0h1m5 0h1m1 0h1m14 0h1m3 0h1m8 0h1m4 0h1m12 0h2m5 0h2m15 0h1m2 0h1m7 0h1m5 0h1m2 0h1m3 0h2m2 0h1m12 0h2m3 0h1m3 0h1m1 0h1m1 0h2m17 0h2m4 0h1m10 0h1m4 0h2m1 0h1m2 0h1m4 0h2m13 0h1m3 0h1m3 0h1m1 0h1m3 0h2m2 0h1m7 0h1m7 0h1m1 0h1m2 0h1m2 0h1m6 0h2m11 0h1m1 0h1m5 0h1m4 0h1m9 0h1m4 0h1m4 0h1m4 0h1m1 0h1m1 0h1m2 0h1m8 0h1m15 0h1m6 0h1m22 0h1m7 0h1m6 0h1m14 0h1m3 0h1m20 0h1m2 0h1m1 0h1m2 0h1m10 0h1m1 0h1m7 0h1m19 0h1m17 0h1m5 0h1m13 0h1m21 0h1m16 0h1M0 8.5h1m1 0h1m2 0h1m6 0h1m5 0h1m2 0h1m7 0h1m3 0h1m15 0h1m9 0h1m3 0h1m4 0h1m9 0h1m3 0h2m7 0h1m7 0h2m14 0h1m17 0h3m1 0h1m5 0h1m5 0h1m7 0h1m9 0h1m6 0h1m2 0h1m2 0h1m3 0h1m5 0h1m6 0h2m6 0h2m4 0h2m15 0h1m4 0h2m7 0h1m10 0h1m12 0h1m15 0h1m14 0h1m9 0h1m19 0h2m1 0h1m2 0h1m37 0h1m14 0h1m16 0h1m5 0h2m8 0h1m4 0h1m2 0h1m1 0h2m17 0h1m16 0h1m7 0h1m20 0h1m8 0h1m9 0h1m2 0h1m23 0h1m1 0h1m1 0h1m4 0h1m30 0h1m2 0h1m13 0h1M2 9.5h1m15 0h1m1 0h2m3 0h1m1 0h1m6 0h1m25 0h1m19 0h2m2 0h1m1 0h1m33 0h1m3 0h1m12 0h1m1 0h1m2 0h1m1 0h1m18 0h1m3 0h1m14 0h1m3 0h1m4 0h1m1 0h1m2 0h1m2 0h1m8 0h1m12 0h1m4 0h1m4 0h1m1 0h1m7 0h1m4 0h1m9 0h1m5 0h2m3 0h1m20 0h2m5 0h1m1 0h1m5 0h1m2 0h1m24 0h1m2 0h1m6 0h1m1 0h1m22 0h2m13 0h1m4 0h2m7 0h1m4 0h1m20 0h1m2 0h3m7 0h1m3 0h2m2 0h1m1 0h1m19 0h2m3 0h1m1 0h1m9 0h2m3 0h1m8 0h1m12 0h1m4 0h1m9 0h1m3 0h1m4 0h1m8 0h1m28 0h1m2 0h1m13 0h1M0 10.5h1m1 0h1m1 0h1m7 0h1m5 0h1m7 0h1m2 0h1m5 0h2m8 0h1m17 0h1m5 0h1m1 0h1m20 0h1m5 0h1m3 0h1m3 0h1m21 0h1m10 0h1m3 0h1m2 0h1m2 0h2m10 0h1m17 0h1m1 0h1m4 0h1m4 0h1m4 0h1m2 0h1m8 0h1m2 0h1m10 0h1m12 0h1m3 0h1m3 0h1m1 0h1m14 0h1m2 0h2m2 0h1m5 0h1m13 0h1m1 0h1m19 0h1m4 0h1m9 0h1m10 0h2m1 0h1m9 0h1m8 0h1m8 0h1m4 0h1m5 0h1m4 0h2m5 0h1m5 0h1m3 0h1m2 0h1m13 0h1m8 0h1m1 0h1m11 0h1m8 0h1m5 0h1m12 0h1m64 0h1m2 0h1m8 0h1m13 0h1m12 0h1m2 0h2M21 11.5h1m3 0h1m28 0h1m5 0h1m6 0h2m6 0h2m15 0h2m17 0h1m1 0h1m7 0h1m4 0h1m5 0h1m6 0h1m2 0h1m13 0h2m9 0h1m5 0h1m8 0h1m10 0h1m4 0h1m26 0h1m2 0h2m2 0h1m3 0h2m1 0h1m13 0h2m1 0h1m7 0h1m21 0h1m7 0h1m1 0h1m4 0h2m13 0h1m3 0h1m5 0h1m10 0h1m17 0h2m16 0h1m19 0h1m3 0h1m4 0h1m4 0h1m24 0h1m10 0h1m6 0h1m28 0h1m31 0h2m21 0h1m7 0h1m22 0h1m13 0h1m3 0h1m5 0h1M3 12.5h1m2 0h1m1 0h1m3 0h1m7 0h2m7 0h1m7 0h1m1 0h1m3 0h1m11 0h1m11 0h3m10 0h1m11 0h1m20 0h1m5 0h1m6 0h1m4 0h1m4 0h1m7 0h1m2 0h1m1 0h1m15 0h1m3 0h1m5 0h2m2 0h1m13 0h1m5 0h1m6 0h1m17 0h1m19 0h1m11 0h3m2 0h1m5 0h1m8 0h1m6 0h1m3 0h1m1 0h2m7 0h1m10 0h1m1 0h1m3 0h1m22 0h1m3 0h1m13 0h1m4 0h1m15 0h1m12 0h1m3 0h1m4 0h1m7 0h1m1 0h1m6 0h1m4 0h1m4 0h1m1 0h2m14 0h1m9 0h1m8 0h1m4 0h1m2 0h1m3 0h1m21 0h1m26 0h1m2 0h1m13 0h1m45 0h1M4 13.5h2m1 0h1m2 0h1m2 0h1m1 0h1m2 0h1m1 0h1m2 0h1m5 0h1m6 0h4m1 0h5m8 0h1m5 0h1m1 0h1m64 0h1m14 0h1m15 0h1m37 0h1m4 0h1m13 0h1m13 0h1m8 0h1m7 0h1m4 0h1m7 0h1m3 0h2m25 0h1m5 0h2m9 0h1m2 0h1m1 0h1m9 0h1m5 0h2m8 0h2m4 0h1m1 0h3m5 0h1m8 0h1m1 0h1m18 0h1m31 0h1m10 0h1m11 0h1m1 0h1m3 0h1m7 0h1m6 0h1m1 0h3m1 0h1m7 0h2m3 0h1m2 0h3m7 0h2m11 0h1m10 0h1m11 0h1m12 0h1m4 0h2m14 0h1m23 0h1M7 14.5h1m6 0h1m30 0h1m18 0h1m20 0h1m2 0h2m4 0h1m1 0h2m16 0h1m7 0h1m3 0h1m6 0h1m2 0h1m20 0h1m5 0h1m6 0h1m9 0h1m13 0h1m6 0h2m40 0h1m5 0h2m13 0h1m3 0h2m2 0h1m4 0h1m9 0h1m10 0h1m4 0h1m3 0h1m6 0h1m11 0h1m10 0h1m11 0h1m23 0h1m1 0h1m1 0h1m3 0h1m15 0h1m17 0h1m14 0h1m11 0h1m5 0h1m5 0h1m82 0h1m1 0h1m26 0h1m7 0h1m13 0h1M17 15.5h1m6 0h2m42 0h1m1 0h1m6 0h1m2 0h1m2 0h1m8 0h1m2 0h1m12 0h2m6 0h1m2 0h1m8 0h1m8 0h1m6 0h1m7 0h1m3 0h1m3 0h1m2 0h1m1 0h1m1 0h1m2 0h2m3 0h1m15 0h2m11 0h1m6 0h1m8 0h1m9 0h1m5 0h1m8 0h1m1 0h2m6 0h1m1 0h1m8 0h1m5 0h1m1 0h2m4 0h1m9 0h1m21 0h1m14 0h1m9 0h1m1 0h1m3 0h1m6 0h1m1 0h2m2 0h2m1 0h1m2 0h1m3 0h1m12 0h1m2 0h1m15 0h4m20 0h1m4 0h1m16 0h1m2 0h1m2 0h2m3 0h2m16 0h1m1 0h1m4 0h2m4 0h2m4 0h2m2 0h1m12 0h1m8 0h1m3 0h1m4 0h1m1 0h1m1 0h1m2 0h1m5 0h1m7 0h1m7 0h1m13 0h1m8 0h1m5 0h1m3 0h1m8 0h1M22 16.5h1m7 0h1m2 0h1m25 0h1m3 0h1m45 0h1m24 0h1m6 0h1m18 0h1m18 0h1m23 0h2m10 0h1m31 0h1m1 0h1m3 0h1m6 0h1m1 0h1m23 0h1m6 0h1m3 0h2m4 0h1m1 0h2m43 0h1m12 0h1m12 0h1m1 0h1m9 0h1m7 0h1m6 0h1m8 0h1m4 0h1m15 0h1m2 0h1m4 0h1m2 0h1m14 0h1m9 0h3m3 0h1m9 0h1m3 0h1m9 0h1m19 0h1m7 0h1m4 0h1m11 0h1m4 0h1m9 0h1m21 0h1m5 0h1M50 17.5h1m4 0h1m3 0h1m10 0h1m10 0h1m51 0h1m20 0h1m1 0h1m2 0h1m14 0h1m1 0h1m28 0h1m3 0h1m7 0h1m10 0h1m28 0h1m2 0h1m5 0h1m3 0h1m9 0h2m32 0h1m9 0h1m1 0h1m17 0h1m22 0h2m9 0h1m2 0h1m5 0h1m20 0h1m3 0h1m4 0h1m13 0h2m3 0h1m3 0h1m6 0h1m6 0h4m4 0h1m10 0h1m2 0h1m24 0h1m4 0h1m15 0h1m19 0h1m6 0h1m11 0h1m15 0h1m3 0h1m6 0h1m5 0h1M47 18.5h1m10 0h1m4 0h1m19 0h1m4 0h2m38 0h1m60 0h1m22 0h1m1 0h1m1 0h1m9 0h1m15 0h1m4 0h1m19 0h2m2 0h1m8 0h1m19 0h1m3 0h1m55 0h1m24 0h1m8 0h1m1 0h1m9 0h1m2 0h1m20 0h2m2 0h1m13 0h1m10 0h1m1 0h1m7 0h1m17 0h1m1 0h1m4 0h1m18 0h1m8 0h1m23 0h2m29 0h1m5 0h2m5 0h1M24 19.5h1m2 0h1m12 0h2m26 0h1m14 0h1m23 0h1m6 0h1m12 0h1m5 0h1m15 0h1m2 0h1m10 0h1m1 0h1m8 0h1m17 0h1m11 0h2m6 0h1m1 0h1m4 0h1m8 0h1m4 0h1m26 0h1m8 0h1m9 0h1m1 0h1m22 0h1m10 0h1m2 0h2m1 0h2m23 0h1m5 0h1m15 0h1m7 0h1m11 0h1m12 0h1m12 0h1m2 0h1m7 0h1m2 0h1m3 0h1m4 0h1m12 0h1m6 0h1m3 0h1m1 0h1m13 0h1m9 0h1m13 0h1m4 0h1m6 0h1m15 0h1m2 0h1m9 0h1m1 0h1m5 0h1m12 0h1m9 0h1m3 0h1m8 0h1m1 0h1m4 0h1m2 0h1M28 20.5h1m34 0h1m6 0h1m3 0h1m14 0h1m20 0h1m16 0h1m33 0h1m14 0h1m2 0h1m7 0h1m21 0h1m46 0h1m24 0h1m11 0h1m9 0h1m8 0h1m1 0h1m9 0h1m14 0h2m23 0h1m23 0h1m17 0h1m6 0h3m12 0h1m19 0h2m6 0h1m3 0h1m2 0h1m5 0h1m11 0h1m7 0h1m10 0h1m8 0h1m7 0h1m1 0h1m4 0h1m3 0h1m15 0h1m1 0h1m16 0h1m8 0h1m8 0h1m1 0h1m3 0h1m5 0h1m2 0h1M17 21.5h1m3 0h1m2 0h1m2 0h1m2 0h1m3 0h1m55 0h1m20 0h1m3 0h1m14 0h1m14 0h1m12 0h1m1 0h2m2 0h1m9 0h1m1 0h1m9 0h1m16 0h1m25 0h1m14 0h1m8 0h2m7 0h1m3 0h1m14 0h2m3 0h1m30 0h1m11 0h3m7 0h1m5 0h1m6 0h1m13 0h1m7 0h1m2 0h1m3 0h2m3 0h1m8 0h1m6 0h1m9 0h1m7 0h1m2 0h1m12 0h1m7 0h1m7 0h1m2 0h1m2 0h1m10 0h1m13 0h1m2 0h1m12 0h1m5 0h1m7 0h1m2 0h1m2 0h2m3 0h1m16 0h2m14 0h2m20 0h1m1 0h1m2 0h1m9 0h1M17 22.5h1m15 0h1m7 0h1m16 0h1m29 0h1m27 0h1m11 0h1m27 0h1m4 0h1m9 0h1m15 0h1m1 0h1m5 0h2m22 0h1m7 0h1m19 0h1m6 0h1m11 0h1m13 0h1m19 0h1m12 0h1m5 0h1m4 0h1m5 0h1m9 0h1m3 0h1m2 0h1m1 0h1m1 0h2m9 0h1m1 0h1m3 0h1m34 0h2m8 0h1m3 0h1m10 0h1m6 0h1m1 0h2m30 0h1m2 0h1m1 0h1m11 0h3m9 0h2m1 0h1m4 0h1m6 0h1m5 0h1m20 0h2m5 0h1m1 0h1m2 0h1m14 0h1m5 0h1m5 0h1m5 0h3m4 0h1M4 23.5h1m10 0h1m3 0h1m20 0h1m14 0h1m2 0h2m5 0h1m31 0h1m29 0h1m8 0h1m4 0h1m4 0h1m2 0h1m9 0h1m7 0h1m8 0h1m2 0h1m7 0h1m7 0h1m9 0h1m13 0h1m9 0h1m1 0h1m13 0h1m58 0h1m14 0h1m21 0h1m31 0h1m6 0h1m1 0h1m5 0h2m4 0h2m6 0h1m7 0h1m3 0h1m3 0h1m8 0h1m1 0h1m5 0h1m16 0h2m7 0h2m5 0h1m2 0h1m2 0h1m11 0h2m5 0h1m4 0h1m3 0h1m7 0h1m4 0h1m20 0h1m1 0h1m6 0h2m5 0h1m2 0h1m3 0h1m4 0h1m9 0h1m6 0h1m1 0h1m1 0h1M3 24.5h1m24 0h1m28 0h3m8 0h1m14 0h1m26 0h1m7 0h1m27 0h1m5 0h1m8 0h1m25 0h1m19 0h1m13 0h1m18 0h1m1 0h1m20 0h1m41 0h1m6 0h1m5 0h1m14 0h1m31 0h2m23 0h2m2 0h1m12 0h1m2 0h1m12 0h1m2 0h1m7 0h1m18 0h1m1 0h2m2 0h1m3 0h2m6 0h2m10 0h1m8 0h3m14 0h1m6 0h1m2 0h2m13 0h1m13 0h1m7 0h1m16 0h1m15 0h1m2 0h1M0 25.5h1m3 0h1m78 0h1m1 0h2m27 0h1m14 0h2m5 0h1m4 0h1m1 0h1m2 0h1m5 0h1m7 0h2m3 0h1m2 0h1m20 0h1m1 0h1m15 0h1m6 0h1m4 0h1m40 0h1m37 0h1m4 0h1m9 0h1m17 0h1m6 0h1m6 0h1m34 0h1m9 0h1m8 0h1m9 0h1m2 0h1m5 0h1m14 0h2m5 0h1m9 0h1m14 0h1m10 0h1m6 0h1m1 0h1m6 0h1m1 0h1m11 0h1m20 0h1m12 0h1m6 0h1m10 0h1m14 0h2m2 0h1m8 0h1m1 0h1m5 0h1M0 26.5h1m10 0h2m20 0h1m10 0h1m8 0h1m1 0h1m20 0h1m52 0h1m12 0h1m22 0h1m21 0h1m9 0h1m9 0h1m7 0h1m1 0h1m3 0h1m16 0h1m8 0h1m31 0h1m28 0h1m10 0h1m27 0h1m4 0h1m52 0h2m7 0h1m14 0h1m10 0h1m5 0h1m3 0h1m12 0h1m5 0h1m4 0h1m4 0h1m18 0h1m18 0h1m4 0h1m3 0h1m7 0h1m12 0h1m2 0h1m4 0h1m13 0h1m3 0h1M4 27.5h1m23 0h1m6 0h1m1 0h1m3 0h1m16 0h2m50 0h1m14 0h1m10 0h1m8 0h1m6 0h1m20 0h1m2 0h1m10 0h1m1 0h1m2 0h1m3 0h1m7 0h1m7 0h1m2 0h1m3 0h1m1 0h1m18 0h1m1 0h2m10 0h1m6 0h1m18 0h1m20 0h1m7 0h1m19 0h1m15 0h1m18 0h1m1 0h1m9 0h1m22 0h1m4 0h1m1 0h1m1 0h1m5 0h1m6 0h1m4 0h1m5 0h1m2 0h1m8 0h1m7 0h1m19 0h3m4 0h1m18 0h1m2 0h1m11 0h1m12 0h1m22 0h1m7 0h1m1 0h1m9 0h1m7 0h1m5 0h1m3 0h1m4 0h1M3 28.5h1m1 0h1m21 0h2m21 0h1m8 0h1m3 0h1m69 0h1m12 0h1m65 0h1m2 0h3m45 0h1m1 0h1m5 0h1m1 0h1m7 0h1m8 0h1m9 0h1m45 0h1m1 0h1m10 0h1m11 0h1m21 0h1m10 0h1m1 0h1m5 0h1m10 0h1m2 0h1m4 0h1m1 0h2m3 0h1m4 0h2m4 0h1m3 0h1m1 0h1m2 0h2m1 0h1m14 0h1m2 0h1m11 0h1m13 0h1m18 0h1m19 0h1m4 0h1m5 0h1m8 0h1m2 0h1m1 0h1m14 0h1m11 0h1M44 29.5h1m5 0h1m8 0h1m23 0h1m13 0h1m11 0h1m1 0h1m31 0h1m18 0h2m18 0h1m9 0h1m14 0h1m4 0h1m29 0h1m4 0h1m12 0h1m2 0h1m12 0h1m4 0h1m8 0h1m20 0h1m3 0h1m14 0h2m15 0h1m23 0h1m6 0h1m4 0h1m1 0h1m9 0h1m3 0h1m8 0h1m33 0h1m5 0h1m4 0h1m5 0h1m10 0h1m10 0h1m4 0h1m2 0h2m25 0h1m4 0h2m21 0h1m10 0h2m10 0h1m5 0h1m2 0h1m9 0h1m1 0h1m1 0h1M13 30.5h1m25 0h1m9 0h1m5 0h1m2 0h1m1 0h1m24 0h1m16 0h1m8 0h1m2 0h2m25 0h1m16 0h1m17 0h1m19 0h1m29 0h1m19 0h1m5 0h1m7 0h1m18 0h1m20 0h2m10 0h1m2 0h1m8 0h1m6 0h1m10 0h1m5 0h1m1 0h1m18 0h1m5 0h2m3 0h1m1 0h1m8 0h1m15 0h1m33 0h1m1 0h1m6 0h1m4 0h1m4 0h1m8 0h2m3 0h1m10 0h1m7 0h1m7 0h1m1 0h1m2 0h1m1 0h2m9 0h1m13 0h1m13 0h1m4 0h1m4 0h2m2 0h1m33 0h1M25 31.5h1m9 0h1m13 0h2m2 0h1m5 0h1m3 0h1m40 0h1m4 0h1m1 0h1m33 0h1m38 0h1m1 0h1m18 0h1m1 0h1m1 0h1m11 0h1m17 0h2m21 0h1m6 0h1m11 0h1m22 0h1m39 0h2m2 0h1m1 0h1m14 0h1m2 0h1m30 0h2m11 0h1m5 0h1m10 0h1m2 0h1m5 0h1m2 0h1m1 0h1m14 0h2m5 0h1m3 0h1m27 0h1m3 0h1m9 0h1m10 0h1m21 0h1m10 0h2m1 0h1m7 0h1m20 0h1m1 0h1m4 0h1M3 32.5h2m38 0h1m13 0h1m3 0h1m16 0h1m2 0h1m28 0h1m1 0h1m1 0h1m15 0h1m3 0h1m1 0h1m4 0h1m10 0h1m5 0h1m2 0h1m1 0h1m101 0h1m3 0h1m12 0h1m15 0h1m4 0h1m12 0h1m1 0h1m30 0h1m4 0h1m7 0h1m1 0h1m1 0h1m2 0h1m4 0h1m7 0h1m9 0h1m12 0h2m1 0h1m9 0h1m31 0h2m3 0h1m6 0h2m22 0h1m19 0h1m8 0h1m7 0h1m7 0h1m1 0h1m6 0h1m6 0h1m23 0h1m1 0h1m7 0h1m1 0h1m1 0h1m1 0h2M7 33.5h1m6 0h1m20 0h1m17 0h1m10 0h1m16 0h1m3 0h1m23 0h1m1 0h1m6 0h1m72 0h1m12 0h1m21 0h1m14 0h1m18 0h1m1 0h3m26 0h2m6 0h1m25 0h2m22 0h1m1 0h1m11 0h2m1 0h2m1 0h1m6 0h1m10 0h2m19 0h1m5 0h1m3 0h2m24 0h1m4 0h2m2 0h1m15 0h1m1 0h1m2 0h1m16 0h1m1 0h1m1 0h1m11 0h1m5 0h1m6 0h1m8 0h1m25 0h1m4 0h1m26 0h1m1 0h1m1 0h2"/><path stroke="#FFFFFF" d="M77 0.5h1m1 0h1m6 0h1m31 0h1m7 0h1m15 0h1m15 0h1m7 0h1m12 0h1m1 0h1m7 0h1m10 0h1m3 0h1m2 0h1m1 0h1m3 0h1m2 0h1m8 0h1m6 0h1m6 0h1m3 0h1m3 0h1m6 0h1m1 0h1m11 0h1m10 0h1m4 0h1m12 0h2m3 0h1m2 0h2m24 0h1m10 0h1m33 0h1m3 0h1m1 0h1m24 0h1m5 0h1m60 0h1m7 0h1m8 0h1m28 0h1m9 0h1m37 0h1m4 0h1m10 0h2m3 0h1m5 0h2M3 1.5h1m3 0h1m63 0h1m10 0h1m1 0h1m2 0h1m8 0h2m1 0h1m23 0h2m5 0h1m13 0h1m9 0h1m1 0h2m1 0h1m3 0h1m10 0h1m17 0h1m21 0h1m4 0h1m6 0h1m18 0h1m8 0h1m3 0h1m9 0h1m12 0h1m8 0h1m5 0h1m10 0h1m16 0h2m3 0h1m11 0h1m5 0h1m9 0h1m12 0h1m2 0h1m38 0h1m1 0h1m4 0h1m5 0h1m13 0h1m8 0h1m15 0h1m20 0h1m32 0h2m12 0h1m15 0h1m24 0h1m18 0h1M70 2.5h1m6 0h1m5 0h1m19 0h1m2 0h1m2 0h1m10 0h2m10 0h1m7 0h1m23 0h1m1 0h1m8 0h1m2 0h1m28 0h1m4 0h1m18 0h1m9 0h1m11 0h1m12 0h1m2 0h1m2 0h1m12 0h1m9 0h1m12 0h1m11 0h1m7 0h1m9 0h1m12 0h1m4 0h2m3 0h1m16 0h1m14 0h1m13 0h1m2 0h1m3 0h1m14 0h1m7 0h1m20 0h2m11 0h1m6 0h1m4 0h1m1 0h1m26 0h1m4 0h1m1 0h1m17 0h1m4 0h1m11 0h1m4 0h2m2 0h1m9 0h1m8 0h1m2 0h1M74 3.5h1m17 0h1m3 0h2m3 0h2m13 0h1m2 0h1m20 0h1m1 0h1m3 0h1m8 0h1m2 0h1m6 0h1m4 0h1m14 0h2m5 0h1m4 0h1m9 0h1m1 0h1m5 0h1m14 0h1m1 0h1m1 0h1m7 0h1m13 0h1m1 0h1m2 0h1m1 0h2m9 0h3m10 0h1m5 0h1m6 0h1m3 0h1m10 0h2m11 0h1m11 0h1m1 0h1m6 0h1m19 0h1m3 0h1m2 0h1m3 0h1m5 0h1m19 0h1m3 0h1m1 0h2m8 0h1m7 0h1m3 0h1m8 0h1m5 0h1m11 0h1m3 0h1m1 0h1m94 0h1m26 0h1M66 4.5h1m1 0h1m1 0h1m3 0h1m1 0h1m13 0h1m4 0h1m6 0h1m1 0h1m15 0h1m5 0h2m1 0h1m6 0h2m6 0h1m18 0h1m1 0h1m11 0h1m4 0h1m3 0h1m21 0h2m2 0h2m4 0h1m2 0h1m8 0h1m1 0h2m6 0h1m3 0h1m2 0h1m4 0h1m17 0h1m7 0h1m8 0h1m16 0h1m2 0h1m4 0h1m3 0h1m9 0h1m21 0h1m1 0h1m15 0h1m1 0h1m4 0h1m23 0h1m4 0h1m1 0h2m6 0h1m14 0h1m7 0h1m32 0h1m2 0h1m4 0h1m4 0h1m17 0h1m10 0h1m18 0h1m5 0h1m3 0h1m1 0h1m11 0h1m24 0h1m14 0h1M74 5.5h1m1 0h1m5 0h1m23 0h1m1 0h1m1 0h1m5 0h1m8 0h1m6 0h1m4 0h1m40 0h1m1 0h1m4 0h1m8 0h1m1 0h2m10 0h1m9 0h1m6 0h1m7 0h1m1 0h1m4 0h1m9 0h1m19 0h1m9 0h1m35 0h1m62 0h1m33 0h1m4 0h1m30 0h1m29 0h1m2 0h1m7 0h1m15 0h2m2 0h1m1 0h1m28 0h1m4 0h1m22 0h1M66 6.5h1m8 0h1m23 0h1m34 0h1m3 0h3m6 0h1m6 0h2m3 0h1m3 0h1m1 0h1m4 0h1m6 0h1m10 0h1m3 0h1m18 0h1m11 0h1m12 0h1m3 0h1m7 0h1m12 0h1m2 0h1m4 0h1m6 0h1m7 0h1m2 0h1m3 0h1m9 0h1m5 0h1m4 0h1m6 0h1m13 0h1m16 0h1m18 0h1m8 0h1m9 0h1m10 0h1m2 0h1m46 0h1m9 0h1m10 0h1m5 0h1m16 0h1m15 0h1m3 0h1m31 0h1m28 0h1m7 0h1M474 9.5h1M5 10.5h1m9 0h1m7 0h1m8 0h1m14 0h1m2 0h1m10 0h1m13 0h1m6 0h1m5 0h1m14 0h1m10 0h1m2 0h1m4 0h1m4 0h1m17 0h1m6 0h1m7 0h1m4 0h1m4 0h1m11 0h1m11 0h2m1 0h2m2 0h1m2 0h1m2 0h1m6 0h1m4 0h1m5 0h1m11 0h1m3 0h1m11 0h2m15 0h1m1 0h1m4 0h2m11 0h1m1 0h1m5 0h2m2 0h1m12 0h1m1 0h1m3 0h1m1 0h1m27 0h3m5 0h1m15 0h1m4 0h1m13 0h1m15 0h1m2 0h2m3 0h1m3 0h1m1 0h1m11 0h1m33 0h1m13 0h1m14 0h1m3 0h2m3 0h1m11 0h1m6 0h1m32 0h1m2 0h1m9 0h1m4 0h1M88 11.5h1m20 0h2m1 0h1m5 0h1m1 0h1m3 0h1m3 0h1m5 0h1m10 0h2m2 0h1m3 0h1m22 0h1m4 0h1m10 0h1m3 0h1m12 0h1m10 0h1m2 0h1m17 0h1m3 0h1m2 0h1m9 0h2m2 0h1m5 0h1m2 0h1m3 0h1m1 0h1m1 0h1m1 0h1m9 0h1m1 0h1m4 0h1m8 0h3m3 0h1m1 0h1m6 0h1m8 0h1m1 0h1m13 0h1m16 0h1m4 0h2m3 0h1m2 0h1m3 0h2m1 0h1m10 0h2m2 0h1m6 0h1m5 0h1m1 0h1m10 0h1m5 0h1m6 0h1m5 0h1m1 0h1m13 0h1m4 0h1m4 0h1m3 0h1m2 0h1m22 0h2m3 0h1m20 0h1m5 0h1m4 0h1m7 0h1m22 0h1m7 0h1m19 0h2M5 12.5h1m1 0h1m9 0h1m17 0h1m10 0h1m9 0h1m3 0h2m31 0h1m4 0h1m3 0h1m3 0h2m17 0h1m7 0h1m8 0h1m53 0h1m1 0h1m17 0h2m3 0h1m5 0h1m6 0h1m10 0h1m7 0h2m7 0h2m4 0h1m6 0h1m1 0h1m3 0h2m5 0h1m16 0h1m6 0h1m3 0h1m14 0h1m8 0h1m2 0h1m13 0h1m9 0h1m1 0h1m3 0h1m6 0h1m1 0h1m1 0h1m3 0h1m3 0h2m3 0h1m6 0h1m7 0h2m13 0h1m25 0h1m2 0h1m4 0h2m27 0h1m1 0h1m51 0h1m2 0h1m2 0h1m6 0h1m1 0h1m32 0h1m1 0h1M0 13.5h1m1 0h2m2 0h1m2 0h1m4 0h1m4 0h1m2 0h1m3 0h1m5 0h1m1 0h2m10 0h5m1 0h1m3 0h4m5 0h1m17 0h1m16 0h1m11 0h1m21 0h1m2 0h1m7 0h2m16 0h1m20 0h1m9 0h1m10 0h1m7 0h1m11 0h1m5 0h1m7 0h1m5 0h1m12 0h1m39 0h1m5 0h2m11 0h3m1 0h1m23 0h1m7 0h1m3 0h1m22 0h1m4 0h1m12 0h1m10 0h1m11 0h1m7 0h1m3 0h2m2 0h1m5 0h1m4 0h1m3 0h1m1 0h1m2 0h1m12 0h1m5 0h1m25 0h1m18 0h1m1 0h3m6 0h1m1 0h1m9 0h1m7 0h1m3 0h1m7 0h1m3 0h2m14 0h1m8 0h1M39 14.5h1m28 0h1m21 0h1m4 0h1m3 0h1m17 0h1m7 0h1m23 0h1m17 0h1m7 0h1m2 0h1m4 0h1m11 0h1m8 0h2m3 0h1m11 0h1m1 0h1m20 0h1m16 0h1m8 0h1m8 0h1m1 0h1m1 0h1m2 0h1m1 0h1m1 0h1m2 0h1m2 0h1m20 0h1m2 0h2m9 0h1m8 0h1m20 0h1m4 0h1m7 0h1m5 0h1m7 0h1m5 0h1m14 0h1m17 0h1m9 0h1m33 0h1m14 0h1m3 0h1m7 0h1m8 0h1m39 0h1m43 0h1M13 15.5h1m5 0h1m35 0h1m5 0h1m4 0h1m7 0h1m6 0h1m2 0h1m8 0h1m2 0h1m5 0h1m15 0h1m1 0h1m12 0h1m1 0h1m4 0h1m20 0h1m17 0h2m3 0h1m3 0h2m26 0h1m4 0h1m4 0h1m1 0h1m3 0h1m2 0h1m22 0h1m10 0h2m8 0h1m2 0h2m3 0h1m8 0h1m2 0h1m1 0h1m1 0h1m3 0h1m7 0h2m23 0h1m3 0h1m6 0h1m6 0h1m16 0h1m7 0h1m10 0h1m1 0h1m8 0h1m13 0h1m8 0h1m2 0h1m4 0h1m8 0h2m13 0h1m6 0h1m4 0h1m3 0h1m5 0h1m27 0h1m1 0h1m4 0h1m1 0h1m4 0h1m11 0h1m7 0h1m15 0h1m3 0h1m3 0h1m19 0h1m3 0h1M60 16.5h1m4 0h1m19 0h1m28 0h1m6 0h1m13 0h1m10 0h1m7 0h1m7 0h1m19 0h1m1 0h1m2 0h1m3 0h2m19 0h1m3 0h1m5 0h1m40 0h1m14 0h1m2 0h1m10 0h1m2 0h1m17 0h2m6 0h1m7 0h1m17 0h1m14 0h1m11 0h1m5 0h3m7 0h2m12 0h1m3 0h2m5 0h1m3 0h3m3 0h1m11 0h1m1 0h1m11 0h4m7 0h2m10 0h1m5 0h1m5 0h1m7 0h2m2 0h1m1 0h1m8 0h1m13 0h1m5 0h1m3 0h1m8 0h1m5 0h1m1 0h1m1 0h1m4 0h1m5 0h1m15 0h1m11 0h1m2 0h1M11 17.5h1m21 0h1m5 0h1m7 0h1m37 0h1m11 0h1m12 0h1m16 0h1m1 0h1m16 0h1m5 0h1m27 0h1m6 0h1m8 0h1m6 0h1m14 0h1m10 0h1m17 0h1m4 0h1m8 0h1m1 0h2m3 0h1m6 0h1m6 0h1m3 0h1m13 0h1m48 0h1m2 0h1m47 0h1m1 0h1m10 0h1m1 0h1m3 0h1m3 0h1m3 0h1m6 0h2m2 0h1m14 0h1m4 0h1m7 0h1m17 0h1m1 0h1m4 0h1m19 0h1m1 0h1m11 0h1m8 0h1m11 0h1m3 0h1m7 0h2m4 0h1m21 0h1m3 0h1m5 0h1M14 18.5h1m13 0h1m68 0h1m20 0h1m8 0h1m1 0h1m25 0h2m2 0h1m16 0h1m15 0h1m10 0h1m3 0h1m14 0h1m8 0h1m8 0h2m2 0h2m23 0h1m12 0h1m14 0h1m16 0h1m7 0h2m6 0h1m14 0h1m2 0h1m1 0h1m16 0h1m5 0h2m4 0h1m1 0h1m5 0h1m7 0h1m4 0h1m2 0h1m6 0h1m2 0h1m5 0h1m1 0h1m1 0h1m1 0h1m9 0h2m1 0h1m11 0h1m2 0h1m9 0h1m3 0h1m6 0h1m4 0h1m1 0h1m3 0h1m6 0h1m13 0h2m9 0h1m3 0h1m1 0h1m1 0h2m11 0h1m15 0h1m4 0h1M4 19.5h1m32 0h1m27 0h1m15 0h1m13 0h1m34 0h1m11 0h1m2 0h1m10 0h1m10 0h1m5 0h1m17 0h1m47 0h1m1 0h1m3 0h1m11 0h1m7 0h1m24 0h1m21 0h1m12 0h1m18 0h1m5 0h1m3 0h1m19 0h1m7 0h1m2 0h1m4 0h1m13 0h1m18 0h1m3 0h1m5 0h1m5 0h2m10 0h1m10 0h1m21 0h2m11 0h1m10 0h1m3 0h1m7 0h1m34 0h1m2 0h1m7 0h1m18 0h1m3 0h1M64 20.5h1m3 0h1m3 0h1m10 0h1m1 0h1m18 0h1m41 0h1m1 0h1m3 0h1m1 0h1m4 0h2m3 0h1m3 0h1m11 0h1m17 0h1m4 0h1m10 0h1m10 0h1m3 0h1m12 0h1m11 0h1m4 0h1m5 0h1m1 0h2m2 0h1m11 0h1m2 0h1m3 0h1m1 0h1m4 0h1m13 0h1m3 0h1m3 0h1m42 0h1m15 0h1m4 0h1m1 0h1m1 0h1m12 0h1m10 0h1m8 0h1m12 0h1m2 0h1m18 0h1m3 0h1m38 0h1m9 0h1m6 0h1m9 0h2m10 0h2m13 0h1m11 0h1m17 0h1m9 0h1M49 21.5h1m5 0h1m14 0h1m20 0h1m12 0h1m16 0h1m5 0h1m12 0h1m5 0h1m33 0h1m3 0h1m6 0h1m17 0h1m31 0h1m5 0h1m2 0h1m1 0h1m4 0h1m6 0h2m6 0h1m19 0h1m3 0h1m17 0h1m1 0h1m7 0h1m16 0h1m7 0h2m3 0h1m18 0h1m6 0h1m4 0h1m1 0h1m2 0h1m12 0h1m3 0h1m3 0h1m6 0h2m11 0h1m9 0h1m6 0h2m4 0h1m2 0h1m2 0h1m1 0h1m14 0h1m20 0h1m3 0h1m3 0h1m3 0h1m4 0h1m5 0h1m14 0h1m1 0h1m10 0h1m2 0h1m8 0h1m5 0h1m5 0h1m3 0h1m7 0h1m6 0h1M51 22.5h1m18 0h1m14 0h1m3 0h1m7 0h1m14 0h1m32 0h1m9 0h1m2 0h1m1 0h1m7 0h1m43 0h1m3 0h1m4 0h1m6 0h2m13 0h1m12 0h1m3 0h1m2 0h2m3 0h2m22 0h2m3 0h1m6 0h1m10 0h1m5 0h2m2 0h1m15 0h1m4 0h1m1 0h1m8 0h1m8 0h1m9 0h1m5 0h1m3 0h1m3 0h1m3 0h1m11 0h3m10 0h1m9 0h1m3 0h1m2 0h1m6 0h1m2 0h1m1 0h1m2 0h3m4 0h1m4 0h1m21 0h1m10 0h1m18 0h1m7 0h1m11 0h1m2 0h1m7 0h1m10 0h1m1 0h1m4 0h1m7 0h1m9 0h1m7 0h1m3 0h1M5 23.5h1m84 0h1m9 0h2m28 0h1m2 0h1m36 0h1m11 0h2m25 0h1m4 0h2m11 0h1m5 0h1m1 0h1m18 0h1m2 0h1m3 0h1m15 0h1m3 0h1m7 0h1m6 0h1m3 0h1m2 0h1m8 0h1m12 0h1m22 0h1m5 0h1m7 0h1m5 0h2m5 0h1m3 0h1m6 0h1m19 0h1m12 0h1m5 0h1m5 0h1m14 0h1m7 0h1m3 0h1m4 0h1m26 0h1m18 0h1m16 0h2m1 0h1m38 0h1m8 0h1m11 0h1m2 0h1M35 24.5h1m3 0h1m37 0h1m11 0h1m7 0h1m13 0h1m16 0h1m1 0h1m45 0h1m4 0h3m11 0h1m7 0h1m13 0h1m1 0h1m10 0h1m13 0h1m3 0h1m1 0h1m2 0h1m2 0h2m13 0h1m20 0h1m11 0h1m1 0h1m4 0h1m4 0h1m5 0h1m1 0h1m4 0h1m1 0h1m4 0h1m31 0h1m6 0h2m4 0h1m30 0h1m22 0h2m3 0h1m9 0h1m3 0h1m2 0h1m3 0h1m43 0h2m1 0h1m51 0h2m2 0h1m4 0h1m15 0h1m8 0h1m1 0h1M52 25.5h1m15 0h1m8 0h1m22 0h1m5 0h1m3 0h1m10 0h1m28 0h1m3 0h1m8 0h2m14 0h1m16 0h1m8 0h1m38 0h1m8 0h1m1 0h1m1 0h1m4 0h1m6 0h1m2 0h1m7 0h3m1 0h1m1 0h1m2 0h1m7 0h1m2 0h2m3 0h1m1 0h1m32 0h2m23 0h1m7 0h1m3 0h1m24 0h1m4 0h1m6 0h1m6 0h1m3 0h1m13 0h1m2 0h1m6 0h1m5 0h1m8 0h1m2 0h1m7 0h1m33 0h1m1 0h1m4 0h1m1 0h1m23 0h1m7 0h1m34 0h1M25 26.5h1m13 0h1m1 0h1m15 0h1m1 0h1m50 0h1m16 0h1m48 0h1m6 0h1m12 0h1m12 0h1m30 0h3m9 0h1m3 0h1m7 0h1m1 0h1m5 0h1m9 0h1m17 0h1m2 0h2m7 0h1m54 0h1m7 0h1m3 0h1m5 0h1m4 0h1m1 0h1m7 0h1m6 0h1m45 0h1m8 0h1m3 0h1m5 0h1m19 0h1m15 0h1m4 0h1m1 0h1m7 0h1m14 0h1m5 0h1m1 0h1m5 0h1m29 0h1m3 0h1m3 0h1M3 27.5h1m21 0h1m14 0h1m56 0h1m3 0h1m27 0h1m30 0h2m17 0h1m2 0h2m19 0h1m12 0h1m9 0h1m12 0h1m4 0h1m3 0h1m1 0h1m9 0h1m3 0h1m2 0h1m4 0h1m9 0h1m3 0h1m33 0h1m4 0h1m5 0h1m12 0h1m2 0h1m3 0h1m7 0h1m5 0h1m5 0h1m3 0h1m2 0h1m21 0h1m2 0h1m14 0h2m9 0h3m4 0h1m3 0h1m1 0h2m4 0h1m2 0h1m1 0h1m1 0h4m3 0h1m4 0h1m2 0h2m13 0h2m5 0h2m2 0h1m24 0h1m3 0h1m8 0h1m17 0h1m8 0h1m2 0h1m2 0h1m13 0h1M21 28.5h1m24 0h1m11 0h1m11 0h1m10 0h1m27 0h1m4 0h1m12 0h1m8 0h1m2 0h1m1 0h1m20 0h1m3 0h1m1 0h1m1 0h1m25 0h1m12 0h1m1 0h1m14 0h1m1 0h1m11 0h1m23 0h1m5 0h1m9 0h1m12 0h1m3 0h1m3 0h1m6 0h1m5 0h1m4 0h1m3 0h1m2 0h1m11 0h2m10 0h1m11 0h2m9 0h2m10 0h1m1 0h1m2 0h2m3 0h1m4 0h1m12 0h1m4 0h1m8 0h1m1 0h1m6 0h1m11 0h1m3 0h1m14 0h2m14 0h1m1 0h2m5 0h1m13 0h1m1 0h1m7 0h1m8 0h1m16 0h1m7 0h1m1 0h1m1 0h1m19 0h1m4 0h1m2 0h1m3 0h1m4 0h1M70 29.5h1m24 0h1m5 0h1m4 0h1m7 0h1m6 0h1m20 0h1m2 0h1m13 0h1m8 0h1m6 0h2m2 0h1m3 0h1m12 0h1m6 0h1m11 0h1m1 0h1m3 0h1m4 0h4m10 0h1m5 0h1m4 0h1m14 0h3m11 0h1m11 0h1m3 0h1m16 0h1m23 0h1m3 0h1m12 0h1m5 0h2m2 0h1m8 0h1m7 0h1m8 0h2m12 0h1m1 0h1m5 0h1m5 0h1m10 0h1m6 0h2m1 0h2m3 0h1m1 0h1m8 0h1m21 0h1m1 0h1m4 0h1m2 0h1m3 0h1m7 0h1m1 0h1m7 0h1m3 0h1m15 0h1m3 0h1m2 0h1m3 0h1m22 0h1m6 0h1m13 0h1m4 0h1m3 0h1M28 30.5h1m15 0h1m38 0h1m11 0h1m1 0h1m15 0h1m13 0h2m24 0h1m7 0h1m1 0h1m25 0h1m2 0h1m8 0h1m1 0h2m7 0h1m31 0h1m2 0h1m6 0h1m9 0h1m2 0h1m10 0h1m19 0h1m4 0h1m12 0h1m5 0h1m7 0h1m9 0h1m3 0h1m2 0h1m20 0h1m4 0h1m16 0h1m10 0h1m17 0h1m1 0h1m7 0h1m3 0h2m5 0h1m6 0h2m3 0h1m6 0h1m7 0h1m12 0h1m8 0h1m8 0h1m12 0h1m9 0h2m2 0h2m2 0h1m15 0h1m14 0h1m2 0h2m6 0h1m10 0h2m1 0h1m4 0h1M88 31.5h1m25 0h1m26 0h1m4 0h1m5 0h1m3 0h1m2 0h1m3 0h1m12 0h1m11 0h1m2 0h1m4 0h1m6 0h1m15 0h1m7 0h1m15 0h3m17 0h1m2 0h2m12 0h1m1 0h1m7 0h1m9 0h1m7 0h1m3 0h1m5 0h1m3 0h1m4 0h1m21 0h1m1 0h1m2 0h1m9 0h1m6 0h1m10 0h1m7 0h1m5 0h1m9 0h1m1 0h1m10 0h1m6 0h1m1 0h1m6 0h1m10 0h1m2 0h1m30 0h1m2 0h1m6 0h1m11 0h1m10 0h1m2 0h2m23 0h1m6 0h2m11 0h1m20 0h1M49 32.5h1m3 0h1m67 0h1m4 0h1m6 0h1m26 0h1m13 0h1m14 0h1m19 0h1m5 0h1m1 0h1m9 0h1m11 0h1m2 0h1m1 0h2m8 0h1m1 0h1m2 0h1m4 0h1m21 0h1m6 0h1m10 0h1m2 0h1m6 0h1m10 0h1m24 0h1m12 0h1m11 0h2m3 0h1m2 0h1m7 0h1m8 0h1m1 0h2m3 0h1m15 0h1m3 0h1m3 0h1m9 0h1m1 0h1m4 0h2m16 0h2m12 0h1m6 0h1m5 0h1m7 0h1m3 0h1m3 0h1m7 0h1m1 0h1m9 0h1m15 0h1m21 0h1m9 0h1m1 0h1m12 0h1M4 33.5h1m17 0h1m5 0h1m29 0h1m3 0h1m5 0h1m8 0h1m19 0h1m6 0h1m10 0h1m14 0h1m3 0h1m7 0h1m3 0h1m3 0h2m3 0h1m3 0h2m2 0h2m2 0h1m2 0h1m4 0h1m16 0h1m10 0h1m1 0h1m8 0h1m1 0h1m10 0h1m11 0h1m11 0h1m1 0h1m2 0h1m12 0h2m4 0h1m5 0h2m3 0h1m6 0h1m4 0h1m9 0h1m2 0h1m3 0h2m7 0h1m17 0h1m2 0h1m8 0h1m13 0h1m4 0h1m3 0h2m3 0h1m18 0h1m2 0h1m1 0h2m13 0h1m4 0h1m2 0h1m6 0h1m17 0h2m1 0h1m12 0h1m6 0h1m2 0h1m3 0h1m1 0h1m11 0h1m10 0h1m5 0h3m29 0h1m4 0h1m3 0h1m2 0h1m9 0h2m6 0h1m1 0h1m16 0h1"/><path stroke="#FBF4F4" d="M66 0.5h1m2 0h1m10 0h1m17 0h1m32 0h1m2 0h1m10 0h1m9 0h1m1 0h1m3 0h2m9 0h1m22 0h1m3 0h1m11 0h1m22 0h1m6 0h2m6 0h1m7 0h1m4 0h1m4 0h1m8 0h1m1 0h1m16 0h1m3 0h1m3 0h1m7 0h1m7 0h1m1 0h1m11 0h1m2 0h1m7 0h1m2 0h1m12 0h1m8 0h1m5 0h1m1 0h1m17 0h1m14 0h1m3 0h1m5 0h1m20 0h1m2 0h1m2 0h1m4 0h1m5 0h1m4 0h1m4 0h1m7 0h1m1 0h1m6 0h1m11 0h1m8 0h1m18 0h1m9 0h1m16 0h1m19 0h1m17 0h1m1 0h1m5 0h1M1 1.5h1m79 0h1m9 0h1m15 0h1m5 0h1m2 0h1m9 0h1m6 0h1m3 0h1m5 0h1m11 0h1m23 0h1m24 0h1m5 0h1m4 0h1m4 0h1m10 0h1m2 0h2m8 0h1m6 0h1m1 0h1m24 0h1m6 0h1m1 0h1m3 0h1m7 0h2m15 0h1m6 0h1m10 0h1m3 0h1m6 0h2m3 0h1m2 0h1m13 0h1m7 0h1m6 0h1m6 0h1m2 0h1m9 0h1m4 0h1m13 0h1m4 0h1m9 0h1m14 0h1m2 0h1m10 0h1m2 0h1m5 0h1m19 0h1m6 0h1m1 0h1m2 0h1m4 0h1m4 0h1m40 0h1m9 0h1m4 0h1m9 0h1m6 0h1M68 2.5h1m19 0h1m1 0h1m4 0h1m16 0h1m2 0h1m13 0h1m1 0h1m3 0h1m8 0h1m3 0h2m8 0h4m8 0h1m12 0h1m3 0h2m3 0h1m20 0h1m7 0h1m6 0h1m7 0h1m14 0h1m4 0h1m1 0h1m9 0h1m1 0h2m19 0h2m4 0h1m6 0h1m12 0h1m1 0h1m3 0h2m9 0h1m4 0h1m8 0h1m22 0h1m14 0h1m1 0h1m13 0h1m3 0h1m6 0h1m3 0h1m5 0h1m3 0h2m1 0h1m8 0h1m2 0h1m11 0h1m17 0h1m4 0h1m1 0h1m1 0h1m6 0h2m13 0h1m11 0h1m6 0h1m3 0h1m6 0h1m1 0h1m11 0h1m14 0h1m2 0h1m4 0h1m3 0h1m1 0h1m3 0h1m5 0h1m7 0h1m4 0h1M68 3.5h2m1 0h1m4 0h1m34 0h1m10 0h1m2 0h2m14 0h1m19 0h4m7 0h1m21 0h1m9 0h1m14 0h1m1 0h3m1 0h1m20 0h1m1 0h1m3 0h1m16 0h2m14 0h1m17 0h1m8 0h1m30 0h1m4 0h1m5 0h1m19 0h1m16 0h1m5 0h2m16 0h1m2 0h1m14 0h1m17 0h1m18 0h1m9 0h1m7 0h1m2 0h1m1 0h1m10 0h2m4 0h2m17 0h1m5 0h1m3 0h1m11 0h1m17 0h1m12 0h1m13 0h1M78 4.5h1m6 0h1m12 0h1m9 0h1m1 0h1m8 0h1m18 0h1m1 0h1m1 0h1m18 0h2m15 0h2m15 0h1m7 0h1m13 0h1m2 0h1m5 0h1m40 0h1m4 0h1m2 0h2m4 0h1m4 0h1m4 0h1m3 0h1m13 0h1m5 0h1m2 0h2m8 0h1m1 0h1m2 0h2m16 0h1m5 0h1m2 0h1m2 0h1m16 0h1m14 0h1m2 0h1m2 0h1m16 0h1m2 0h1m1 0h1m1 0h1m17 0h1m3 0h1m13 0h1m34 0h1m1 0h1m34 0h1m6 0h1m3 0h1m1 0h1m14 0h2m2 0h1M68 5.5h3m7 0h1m22 0h1m24 0h1m8 0h1m18 0h1m8 0h1m20 0h1m25 0h1m11 0h1m23 0h1m8 0h1m12 0h1m3 0h1m2 0h1m3 0h1m2 0h1m1 0h1m7 0h1m11 0h1m8 0h1m4 0h1m8 0h2m1 0h1m4 0h1m4 0h1m11 0h1m1 0h1m2 0h2m1 0h1m2 0h1m8 0h1m1 0h1m13 0h1m14 0h1m1 0h2m1 0h1m3 0h1m15 0h1m22 0h1m1 0h1m16 0h2m2 0h1m6 0h1m6 0h1m2 0h1m6 0h1m30 0h1m14 0h1m8 0h1M90 6.5h1m7 0h1m3 0h1m4 0h2m5 0h1m17 0h1m3 0h1m4 0h1m3 0h1m18 0h1m14 0h1m9 0h1m9 0h1m9 0h1m8 0h1m5 0h1m1 0h1m4 0h1m3 0h1m3 0h1m19 0h1m12 0h1m5 0h2m5 0h2m3 0h1m4 0h1m8 0h1m20 0h1m10 0h1m5 0h1m4 0h1m9 0h1m6 0h1m3 0h1m4 0h1m2 0h1m4 0h1m33 0h1m2 0h1m10 0h1m55 0h1m3 0h1m1 0h1m6 0h1m1 0h1m11 0h1m5 0h1m3 0h1m4 0h1m11 0h1m2 0h1m19 0h1M3 10.5h1m47 0h1m37 0h1m1 0h1m13 0h1m18 0h1m4 0h1m11 0h1m20 0h2m3 0h1m4 0h1m15 0h1m1 0h1m9 0h1m1 0h1m12 0h1m32 0h1m1 0h2m4 0h3m12 0h1m3 0h1m4 0h2m6 0h1m8 0h1m3 0h1m17 0h1m2 0h1m10 0h1m16 0h1m5 0h1m4 0h1m3 0h1m4 0h1m1 0h1m1 0h1m3 0h1m25 0h1m6 0h1m8 0h1m12 0h1m1 0h1m9 0h1m6 0h1m5 0h1m7 0h1m5 0h1m9 0h1m11 0h1m24 0h1m19 0h1m2 0h1m2 0h1m18 0h1m15 0h1m6 0h1M71 11.5h1m24 0h1m2 0h1m8 0h1m7 0h1m20 0h1m12 0h1m14 0h1m2 0h1m5 0h1m2 0h1m17 0h1m9 0h1m9 0h1m3 0h1m11 0h1m6 0h1m4 0h1m5 0h1m19 0h1m10 0h1m6 0h1m4 0h1m6 0h1m3 0h1m2 0h1m4 0h1m13 0h1m9 0h1m6 0h1m5 0h1m4 0h1m9 0h1m14 0h1m1 0h1m2 0h1m5 0h2m3 0h1m28 0h1m3 0h1m1 0h1m7 0h1m1 0h1m12 0h2m2 0h2m25 0h1m1 0h1m2 0h1m14 0h1m9 0h1m11 0h1m2 0h1m1 0h1m4 0h1m8 0h1m6 0h2m1 0h1m11 0h2m25 0h1M75 12.5h1m1 0h1m5 0h1m4 0h1m16 0h1m8 0h1m35 0h1m3 0h2m6 0h1m27 0h1m4 0h1m6 0h2m1 0h1m6 0h1m7 0h1m5 0h1m13 0h1m18 0h1m9 0h1m1 0h2m12 0h1m5 0h1m10 0h1m1 0h1m9 0h1m3 0h1m4 0h1m5 0h1m2 0h1m2 0h1m11 0h2m3 0h1m18 0h1m14 0h1m13 0h2m1 0h1m1 0h2m7 0h1m5 0h1m2 0h1m1 0h1m9 0h1m19 0h1m20 0h1m2 0h1m7 0h1m5 0h1m5 0h1m8 0h1m3 0h1m5 0h1m1 0h1m12 0h1m20 0h1m18 0h1m1 0h1m19 0h1M8 13.5h1m7 0h1m8 0h1m1 0h1m2 0h1m2 0h1m21 0h1m5 0h1m1 0h1m9 0h1m11 0h1m8 0h1m4 0h1m4 0h1m8 0h1m4 0h1m10 0h1m3 0h1m6 0h1m14 0h2m8 0h1m1 0h1m11 0h2m2 0h1m3 0h1m2 0h1m12 0h1m2 0h1m17 0h1m19 0h1m2 0h1m7 0h1m13 0h3m2 0h1m5 0h1m8 0h1m25 0h2m7 0h1m11 0h1m6 0h1m5 0h2m4 0h1m5 0h1m2 0h1m1 0h2m1 0h1m1 0h1m6 0h1m15 0h1m4 0h1m6 0h2m6 0h2m22 0h1m11 0h1m37 0h1m1 0h1m18 0h1m19 0h1m1 0h1m48 0h1M16 14.5h1m17 0h1m21 0h1m4 0h1m15 0h1m3 0h1m18 0h1m7 0h1m18 0h1m3 0h1m3 0h1m3 0h1m2 0h1m1 0h5m1 0h1m13 0h1m1 0h1m32 0h1m13 0h1m1 0h2m5 0h1m1 0h1m4 0h2m2 0h1m5 0h1m1 0h1m5 0h1m19 0h1m5 0h1m1 0h2m17 0h2m1 0h1m1 0h2m3 0h1m5 0h1m8 0h1m21 0h1m8 0h1m16 0h1m19 0h1m8 0h1m27 0h1m21 0h1m5 0h2m2 0h1m5 0h1m15 0h1m8 0h2m3 0h1m10 0h1m8 0h1m4 0h1m13 0h1m8 0h1m16 0h1m6 0h1m11 0h1m21 0h1M10 15.5h1m17 0h1m3 0h1m3 0h1m12 0h1m9 0h1m4 0h1m6 0h1m6 0h1m9 0h1m12 0h1m5 0h1m6 0h1m11 0h1m5 0h1m9 0h1m2 0h1m28 0h1m20 0h1m1 0h1m4 0h1m4 0h1m1 0h1m12 0h1m2 0h1m16 0h1m6 0h1m26 0h3m2 0h1m2 0h1m10 0h1m1 0h1m2 0h1m10 0h1m5 0h1m4 0h1m5 0h1m1 0h1m3 0h1m6 0h1m7 0h1m5 0h1m4 0h1m2 0h2m3 0h1m1 0h1m1 0h1m19 0h1m15 0h3m9 0h2m2 0h2m7 0h2m2 0h1m1 0h1m1 0h1m20 0h1m1 0h1m14 0h1m17 0h1m15 0h1m2 0h1m3 0h1m29 0h1m15 0h1m17 0h1M58 16.5h1m2 0h1m27 0h1m11 0h1m4 0h1m6 0h1m29 0h1m4 0h1m6 0h1m2 0h1m2 0h1m7 0h1m1 0h1m28 0h1m4 0h1m8 0h1m16 0h1m1 0h1m1 0h1m8 0h2m4 0h2m17 0h2m1 0h1m4 0h1m1 0h1m8 0h4m4 0h1m4 0h1m5 0h1m14 0h1m18 0h1m3 0h1m2 0h1m2 0h2m16 0h1m17 0h1m19 0h1m3 0h1m2 0h1m8 0h1m2 0h1m1 0h2m10 0h1m9 0h1m5 0h1m1 0h1m1 0h1m6 0h1m23 0h2m12 0h1m2 0h1m8 0h1m4 0h1m2 0h1m2 0h1m2 0h1m6 0h1m1 0h1m5 0h1m8 0h1m4 0h2m10 0h1m4 0h1m7 0h1m3 0h2M88 17.5h2m2 0h1m8 0h1m1 0h1m7 0h1m31 0h1m4 0h1m9 0h1m3 0h1m2 0h1m17 0h1m2 0h1m2 0h1m2 0h1m28 0h1m4 0h1m9 0h1m4 0h1m8 0h1m5 0h1m2 0h1m9 0h1m4 0h1m1 0h1m15 0h1m14 0h2m1 0h2m1 0h1m8 0h1m6 0h1m2 0h1m3 0h1m2 0h1m17 0h1m4 0h1m11 0h2m10 0h1m8 0h1m5 0h1m4 0h1m3 0h1m14 0h1m4 0h1m8 0h1m1 0h1m1 0h1m5 0h1m11 0h1m5 0h1m1 0h1m22 0h1m14 0h1m11 0h1m13 0h1m4 0h1m14 0h1m9 0h1m3 0h1m19 0h1M50 18.5h1m19 0h1m10 0h1m18 0h1m8 0h1m2 0h1m1 0h1m6 0h1m8 0h1m4 0h1m5 0h1m3 0h1m2 0h1m9 0h1m4 0h1m1 0h1m18 0h1m1 0h2m3 0h1m12 0h1m6 0h1m15 0h2m6 0h1m3 0h1m23 0h1m2 0h1m11 0h1m5 0h1m4 0h1m6 0h1m6 0h1m3 0h1m9 0h1m3 0h1m30 0h1m4 0h1m4 0h1m19 0h3m6 0h1m6 0h1m2 0h1m13 0h1m1 0h2m8 0h1m1 0h1m13 0h1m11 0h3m22 0h1m9 0h1m9 0h1m3 0h1m4 0h1m1 0h1m15 0h1m12 0h1m8 0h1m5 0h1m35 0h1M53 19.5h1m4 0h1m19 0h1m21 0h1m34 0h2m17 0h1m5 0h2m6 0h1m7 0h1m6 0h1m23 0h1m13 0h1m4 0h1m11 0h1m13 0h2m2 0h1m7 0h1m2 0h2m9 0h1m1 0h1m1 0h1m3 0h1m11 0h1m2 0h1m1 0h1m4 0h1m4 0h2m14 0h1m15 0h1m1 0h1m14 0h1m8 0h1m3 0h1m11 0h1m9 0h1m4 0h2m4 0h1m4 0h1m16 0h1m3 0h1m11 0h1m1 0h1m7 0h1m3 0h1m28 0h1m4 0h1m20 0h1m29 0h1m26 0h1M12 20.5h1m63 0h1m1 0h1m2 0h1m18 0h2m28 0h1m14 0h1m17 0h1m10 0h1m2 0h1m3 0h3m13 0h1m6 0h1m6 0h1m14 0h1m1 0h1m12 0h1m5 0h2m3 0h2m4 0h1m4 0h1m14 0h2m15 0h1m8 0h1m2 0h1m13 0h1m5 0h1m1 0h1m14 0h1m5 0h1m12 0h1m9 0h1m1 0h1m1 0h1m3 0h1m4 0h1m3 0h1m3 0h1m7 0h2m17 0h1m1 0h2m4 0h1m11 0h1m2 0h1m1 0h1m3 0h1m3 0h1m15 0h1m16 0h1m6 0h1m2 0h1m3 0h1m3 0h1m5 0h1m43 0h1m1 0h1m8 0h1m27 0h1M89 21.5h1m5 0h1m2 0h1m13 0h1m7 0h1m27 0h1m5 0h1m12 0h1m7 0h1m5 0h2m22 0h1m1 0h1m19 0h2m7 0h1m9 0h1m4 0h1m4 0h1m36 0h1m7 0h1m1 0h1m2 0h1m8 0h1m6 0h1m3 0h1m24 0h1m13 0h1m1 0h1m8 0h1m2 0h1m8 0h1m7 0h1m11 0h1m17 0h2m6 0h1m4 0h2m5 0h1m3 0h1m2 0h1m2 0h1m4 0h1m10 0h1m7 0h1m3 0h1m6 0h1m16 0h1m16 0h1m14 0h1m4 0h1m10 0h1m23 0h1M44 22.5h1m29 0h1m6 0h1m9 0h1m10 0h1m16 0h1m1 0h1m5 0h1m7 0h1m10 0h1m1 0h1m21 0h1m7 0h1m1 0h1m3 0h1m22 0h1m9 0h1m2 0h1m5 0h1m6 0h1m23 0h1m9 0h1m7 0h1m2 0h2m6 0h1m14 0h1m12 0h1m3 0h1m12 0h1m31 0h1m3 0h1m5 0h1m3 0h1m2 0h1m31 0h1m2 0h1m14 0h1m9 0h1m6 0h1m14 0h1m3 0h1m22 0h2m9 0h1m15 0h1m27 0h2m50 0h1M74 23.5h1m8 0h1m5 0h1m16 0h1m6 0h1m7 0h1m30 0h1m3 0h1m3 0h3m2 0h1m7 0h1m6 0h1m8 0h1m13 0h1m22 0h1m5 0h1m7 0h1m2 0h1m3 0h1m3 0h1m11 0h1m4 0h1m10 0h1m10 0h1m1 0h2m20 0h1m2 0h1m6 0h1m58 0h1m16 0h1m11 0h2m3 0h1m6 0h1m1 0h1m1 0h1m10 0h1m2 0h1m29 0h1m7 0h1m13 0h1m2 0h1m3 0h1m2 0h2m1 0h1m29 0h1m19 0h2m11 0h1m19 0h1M41 24.5h1m48 0h1m4 0h1m6 0h1m12 0h1m8 0h1m8 0h1m14 0h1m5 0h1m18 0h1m6 0h1m7 0h1m22 0h1m4 0h1m12 0h1m2 0h1m8 0h1m9 0h1m7 0h2m5 0h1m10 0h1m3 0h1m6 0h1m1 0h1m10 0h1m1 0h1m26 0h1m19 0h1m26 0h1m4 0h1m15 0h1m10 0h1m3 0h1m13 0h3m8 0h1m9 0h1m2 0h1m17 0h1m10 0h1m3 0h2m12 0h1m1 0h1m9 0h1m20 0h1m4 0h1m1 0h1m43 0h1M33 25.5h1m54 0h1m2 0h1m5 0h1m4 0h1m6 0h1m3 0h1m1 0h1m16 0h1m15 0h1m7 0h1m9 0h1m19 0h1m17 0h1m16 0h2m3 0h1m2 0h1m2 0h1m9 0h1m5 0h1m2 0h2m6 0h1m1 0h1m1 0h1m2 0h1m23 0h1m1 0h1m3 0h1m17 0h2m2 0h1m2 0h1m3 0h1m3 0h2m18 0h1m13 0h2m31 0h1m6 0h2m18 0h1m4 0h1m2 0h1m11 0h1m2 0h1m1 0h1m8 0h2m3 0h2m10 0h1m22 0h1m3 0h2m2 0h1m1 0h2m1 0h1m15 0h1m2 0h1m14 0h1m7 0h1m1 0h2m4 0h1m2 0h1m5 0h1m20 0h1M74 26.5h1m11 0h1m15 0h1m6 0h1m14 0h1m16 0h1m1 0h1m12 0h4m3 0h1m4 0h1m2 0h1m10 0h1m6 0h2m13 0h1m5 0h2m10 0h1m9 0h1m10 0h2m8 0h1m5 0h1m7 0h1m1 0h1m3 0h1m28 0h1m8 0h1m13 0h1m4 0h1m10 0h1m9 0h1m13 0h1m2 0h1m18 0h1m8 0h1m7 0h1m10 0h1m1 0h1m1 0h1m8 0h1m1 0h1m12 0h1m12 0h1m23 0h1m8 0h1m16 0h1m35 0h1m14 0h1m2 0h1m28 0h1M74 27.5h1m11 0h1m4 0h1m14 0h1m23 0h1m12 0h1m21 0h1m2 0h1m19 0h1m2 0h1m35 0h2m4 0h1m7 0h1m3 0h1m5 0h1m5 0h1m5 0h1m4 0h2m5 0h1m5 0h1m1 0h1m11 0h1m2 0h1m4 0h1m3 0h1m2 0h1m2 0h2m3 0h1m3 0h1m7 0h1m2 0h1m7 0h1m6 0h1m3 0h1m1 0h1m13 0h1m5 0h1m5 0h1m2 0h3m8 0h1m2 0h1m9 0h1m7 0h1m7 0h1m39 0h1m26 0h2m8 0h1m4 0h1m1 0h1m2 0h1m5 0h1m19 0h1m5 0h1m12 0h1m2 0h1m4 0h1M4 28.5h1m39 0h1m40 0h1m35 0h1m8 0h1m30 0h1m3 0h1m13 0h2m1 0h1m1 0h1m4 0h1m11 0h1m25 0h1m1 0h1m14 0h1m8 0h1m6 0h1m5 0h1m12 0h1m6 0h1m8 0h1m20 0h1m1 0h1m3 0h1m8 0h1m5 0h1m3 0h1m3 0h1m5 0h1m5 0h1m7 0h1m1 0h1m7 0h1m16 0h1m9 0h1m6 0h1m1 0h1m7 0h1m15 0h1m15 0h1m17 0h1m7 0h1m2 0h1m26 0h1m3 0h1m5 0h1m4 0h1m11 0h1m3 0h1m18 0h1m19 0h1m9 0h1M35 29.5h1m17 0h1m23 0h1m3 0h1m6 0h1m13 0h1m12 0h1m11 0h1m1 0h2m24 0h1m2 0h1m14 0h1m31 0h1m3 0h1m35 0h1m6 0h1m3 0h1m2 0h1m2 0h1m15 0h1m3 0h3m13 0h1m3 0h1m13 0h1m27 0h1m6 0h1m4 0h1m22 0h1m7 0h1m8 0h1m3 0h4m5 0h1m3 0h2m4 0h1m5 0h4m4 0h2m14 0h2m10 0h1m1 0h1m7 0h1m8 0h1m24 0h1m2 0h1m6 0h1m32 0h1m8 0h1m14 0h1m4 0h1M81 30.5h1m12 0h1m14 0h2m18 0h1m6 0h1m2 0h1m3 0h1m12 0h1m22 0h2m10 0h1m15 0h1m1 0h1m6 0h1m25 0h1m10 0h1m2 0h1m2 0h1m1 0h1m9 0h1m9 0h1m7 0h1m5 0h2m7 0h1m8 0h1m4 0h1m6 0h1m15 0h1m7 0h1m2 0h1m1 0h1m4 0h1m2 0h1m18 0h1m1 0h1m18 0h1m11 0h1m2 0h1m10 0h1m2 0h1m3 0h1m15 0h1m2 0h1m7 0h1m28 0h2m4 0h1m1 0h1m5 0h1m1 0h1m7 0h3m24 0h1m12 0h1m16 0h1m4 0h1m13 0h1M101 31.5h1m33 0h1m7 0h1m17 0h1m60 0h1m9 0h2m13 0h1m3 0h1m1 0h1m16 0h1m6 0h2m5 0h1m8 0h1m1 0h1m1 0h1m16 0h1m1 0h1m4 0h1m2 0h1m6 0h1m9 0h1m17 0h1m14 0h1m3 0h1m2 0h1m5 0h2m3 0h1m4 0h1m3 0h1m7 0h1m1 0h1m3 0h1m7 0h2m2 0h1m17 0h1m5 0h1m15 0h1m2 0h1m23 0h1m1 0h1m1 0h1m4 0h1m5 0h1m11 0h1m3 0h2m9 0h2m8 0h1m7 0h1m9 0h1m8 0h1m7 0h1M55 32.5h1m14 0h1m5 0h1m8 0h1m43 0h1m13 0h1m1 0h1m8 0h1m10 0h1m9 0h1m4 0h1m2 0h1m4 0h1m2 0h1m4 0h1m6 0h2m2 0h1m18 0h1m19 0h1m10 0h1m5 0h1m6 0h1m1 0h1m5 0h1m1 0h1m3 0h1m5 0h1m1 0h1m2 0h2m4 0h1m11 0h1m3 0h1m2 0h3m7 0h2m7 0h1m7 0h1m4 0h1m4 0h1m9 0h1m19 0h1m6 0h2m18 0h2m1 0h1m11 0h1m3 0h2m21 0h1m17 0h1m15 0h1m3 0h1m12 0h1m8 0h1m4 0h1m28 0h1m5 0h1m1 0h1m1 0h2m10 0h1M3 33.5h1m29 0h1m37 0h1m17 0h2m15 0h1m1 0h1m43 0h1m3 0h1m1 0h1m2 0h2m2 0h1m14 0h1m40 0h1m22 0h1m3 0h1m3 0h1m4 0h1m10 0h1m8 0h1m6 0h1m4 0h1m5 0h3m2 0h1m2 0h2m8 0h1m4 0h1m12 0h1m4 0h1m13 0h1m23 0h2m14 0h1m25 0h1m6 0h1m4 0h1m2 0h1m2 0h1m3 0h1m9 0h1m7 0h1m2 0h1m3 0h1m3 0h1m24 0h1m1 0h1m31 0h1m9 0h1m3 0h1m8 0h2m12 0h1m3 0h1m14 0h1"/><path stroke="#F8EAEA" d="M84 0.5h1m45 0h1m57 0h1m4 0h1m4 0h1m18 0h1m2 0h1m3 0h1m11 0h1m16 0h1m9 0h1m7 0h1m11 0h1m2 0h3m12 0h1m18 0h1m2 0h2m16 0h1m1 0h1m11 0h1m28 0h2m3 0h1m3 0h1m7 0h1m17 0h1m5 0h1m1 0h1m3 0h2m10 0h1m4 0h1m23 0h1m11 0h1m4 0h1m26 0h2m4 0h1m13 0h1m1 0h1m2 0h1m7 0h2m9 0h1m1 0h2m33 0h1m1 0h1M78 1.5h1m50 0h1m16 0h1m3 0h1m47 0h1m9 0h1m28 0h1m3 0h1m1 0h1m2 0h1m1 0h1m11 0h1m9 0h1m4 0h2m21 0h1m5 0h3m20 0h1m14 0h1m8 0h1m3 0h1m8 0h1m7 0h1m15 0h1m8 0h1m11 0h1m3 0h1m14 0h1m3 0h2m7 0h1m4 0h1m11 0h1m20 0h1m1 0h1m10 0h1m17 0h1m15 0h1m12 0h1m1 0h1m20 0h1m12 0h1m10 0h1m3 0h2m5 0h1M67 2.5h1m82 0h1m14 0h1m24 0h1m11 0h1m2 0h1m9 0h1m4 0h1m1 0h1m11 0h1m8 0h1m6 0h1m1 0h1m25 0h1m1 0h1m1 0h3m1 0h2m1 0h1m4 0h1m6 0h2m6 0h1m2 0h1m5 0h1m10 0h1m1 0h1m1 0h1m2 0h1m5 0h2m24 0h1m10 0h1m1 0h1m9 0h1m9 0h1m6 0h1m7 0h1m4 0h1m3 0h1m10 0h1m1 0h1m5 0h1m8 0h1m7 0h1m48 0h1m17 0h1m7 0h1m3 0h1m2 0h1m2 0h1m4 0h1m40 0h1m5 0h1M78 3.5h1m19 0h1m9 0h1m34 0h1m23 0h1m9 0h2m16 0h2m11 0h1m18 0h1m1 0h1m3 0h1m19 0h1m11 0h1m36 0h1m4 0h1m9 0h2m3 0h1m1 0h1m4 0h1m3 0h1m13 0h1m2 0h2m6 0h1m5 0h1m2 0h1m4 0h1m4 0h1m1 0h1m3 0h1m20 0h1m3 0h1m2 0h1m11 0h1m15 0h1m1 0h1m26 0h1m12 0h1m3 0h1m4 0h1m7 0h1m9 0h2m13 0h2m20 0h1m3 0h1m13 0h1m24 0h1m3 0h1M69 4.5h1m16 0h1m45 0h1m8 0h1m5 0h1m41 0h1m9 0h1m1 0h1m5 0h1m17 0h1m1 0h1m1 0h1m12 0h1m6 0h1m5 0h1m12 0h1m30 0h1m8 0h1m1 0h1m2 0h1m15 0h1m13 0h1m1 0h1m8 0h1m3 0h1m5 0h1m7 0h1m1 0h1m6 0h1m5 0h2m24 0h1m1 0h1m6 0h1m16 0h1m9 0h1m15 0h1m11 0h1m2 0h1m6 0h1m3 0h1m8 0h1m4 0h2m4 0h2m12 0h3m17 0h1m3 0h1m2 0h1m3 0h1m1 0h1m5 0h1m9 0h1m2 0h1m11 0h1M109 5.5h1m12 0h2m5 0h1m11 0h2m3 0h1m11 0h1m1 0h1m4 0h1m20 0h1m1 0h1m6 0h1m3 0h1m31 0h1m5 0h1m4 0h1m2 0h1m2 0h1m10 0h1m5 0h1m19 0h1m4 0h1m5 0h2m8 0h1m7 0h2m3 0h1m12 0h1m6 0h1m1 0h1m5 0h2m4 0h1m14 0h1m8 0h2m2 0h1m11 0h1m3 0h1m6 0h1m14 0h1m10 0h2m11 0h1m1 0h1m1 0h1m6 0h1m6 0h1m21 0h1m1 0h1m19 0h1m8 0h2m5 0h1m16 0h1m11 0h1m12 0h1m3 0h1m4 0h1m5 0h1m2 0h1m2 0h1m3 0h1m3 0h1M126 6.5h1m16 0h1m5 0h1m6 0h1m1 0h1m38 0h2m2 0h2m4 0h1m12 0h3m19 0h1m6 0h1m5 0h1m7 0h1m1 0h1m4 0h1m10 0h2m9 0h1m6 0h2m5 0h1m6 0h1m1 0h1m2 0h1m4 0h1m8 0h1m11 0h1m20 0h1m1 0h1m11 0h1m5 0h1m5 0h1m6 0h1m2 0h1m2 0h1m1 0h1m12 0h1m5 0h1m4 0h1m10 0h1m1 0h1m10 0h1m13 0h1m9 0h1m3 0h1m12 0h1m14 0h1m5 0h2m1 0h1m20 0h1m3 0h1m4 0h1m1 0h3m11 0h1m10 0h1m1 0h1m13 0h1M78 10.5h1m1 0h1m2 0h1m1 0h1m34 0h1m2 0h1m7 0h1m60 0h1m66 0h1m40 0h1m10 0h1m13 0h2m13 0h2m4 0h1m15 0h1m23 0h1m10 0h2m27 0h1m2 0h1m25 0h1m9 0h1m5 0h1m9 0h1m3 0h1m11 0h1m3 0h1m9 0h1m2 0h1m7 0h1m18 0h1m10 0h2m1 0h1m28 0h2m2 0h1M82 11.5h1m3 0h1m4 0h1m10 0h1m1 0h1m43 0h1m2 0h1m19 0h2m39 0h1m5 0h1m3 0h1m34 0h1m12 0h1m1 0h1m5 0h1m5 0h1m19 0h1m27 0h1m10 0h1m6 0h1m6 0h1m1 0h1m1 0h1m3 0h1m1 0h1m3 0h1m4 0h1m10 0h1m10 0h1m16 0h2m7 0h1m16 0h1m7 0h1m4 0h1m3 0h1m3 0h1m10 0h1m17 0h2m14 0h1m31 0h1m13 0h1m4 0h1m5 0h1m9 0h2m5 0h1m3 0h1M82 12.5h1m1 0h1m12 0h1m5 0h1m11 0h1m2 0h1m27 0h1m9 0h1m6 0h1m10 0h1m13 0h1m3 0h1m30 0h1m12 0h1m10 0h2m21 0h1m28 0h1m1 0h1m8 0h1m38 0h3m27 0h1m7 0h1m1 0h1m6 0h1m13 0h2m20 0h2m7 0h1m9 0h1m13 0h1m1 0h1m5 0h1m10 0h1m1 0h1m17 0h1m1 0h1m2 0h2m6 0h1m11 0h1m10 0h1m24 0h1m8 0h1m3 0h4M17 13.5h1m22 0h1m33 0h1m4 0h3m11 0h1m3 0h1m7 0h1m4 0h1m5 0h1m7 0h1m1 0h1m23 0h3m21 0h1m2 0h2m3 0h1m19 0h1m5 0h2m4 0h1m1 0h1m9 0h2m2 0h1m17 0h1m3 0h1m7 0h1m5 0h1m6 0h1m2 0h1m2 0h1m2 0h1m2 0h1m1 0h1m3 0h2m15 0h1m2 0h1m1 0h2m10 0h1m1 0h1m4 0h1m7 0h1m11 0h1m6 0h1m21 0h2m4 0h1m7 0h1m15 0h1m6 0h1m3 0h1m5 0h1m1 0h1m1 0h1m11 0h1m26 0h1m9 0h1m30 0h2m3 0h1m19 0h1M44 14.5h1m25 0h1m22 0h1m7 0h1m7 0h1m41 0h2m3 0h1m1 0h1m1 0h1m20 0h2m13 0h2m9 0h1m2 0h1m6 0h1m2 0h1m6 0h1m3 0h1m14 0h1m7 0h1m4 0h1m3 0h1m2 0h1m11 0h1m5 0h1m4 0h1m11 0h2m2 0h1m6 0h1m11 0h1m3 0h1m4 0h1m4 0h1m5 0h1m15 0h1m3 0h1m11 0h1m1 0h1m4 0h1m1 0h1m18 0h1m9 0h1m1 0h2m10 0h1m4 0h1m1 0h1m4 0h1m3 0h2m29 0h1m8 0h1m17 0h1m27 0h1m14 0h1m5 0h2m28 0h1m2 0h1M2 15.5h1m4 0h1m8 0h1m5 0h1m3 0h1m3 0h1m7 0h2m3 0h1m9 0h1m13 0h1m1 0h1m6 0h1m5 0h1m17 0h1m3 0h2m4 0h1m2 0h1m1 0h1m6 0h1m6 0h1m1 0h1m25 0h1m8 0h1m2 0h1m24 0h1m4 0h1m8 0h1m15 0h1m15 0h1m2 0h1m2 0h1m3 0h2m2 0h1m1 0h1m4 0h4m6 0h1m13 0h1m3 0h1m2 0h1m17 0h1m3 0h1m18 0h1m20 0h1m12 0h1m1 0h1m1 0h1m2 0h1m9 0h1m10 0h1m18 0h1m2 0h2m11 0h1m12 0h1m8 0h1m8 0h1m26 0h1m16 0h1m22 0h1M77 16.5h2m2 0h1m1 0h1m11 0h1m1 0h1m10 0h1m6 0h1m14 0h1m2 0h1m25 0h1m4 0h3m13 0h2m14 0h1m10 0h1m3 0h1m5 0h1m1 0h1m6 0h1m19 0h1m1 0h1m17 0h1m7 0h1m1 0h1m7 0h1m19 0h1m12 0h1m2 0h1m4 0h1m14 0h1m13 0h1m20 0h1m1 0h1m1 0h1m3 0h1m1 0h1m12 0h1m1 0h1m21 0h1m11 0h1m7 0h2m4 0h1m41 0h1m6 0h1m6 0h1m8 0h1m2 0h1m28 0h1m10 0h1m10 0h1m14 0h1M72 17.5h1m3 0h1m9 0h1m13 0h1m6 0h1m13 0h1m17 0h1m1 0h1m11 0h1m6 0h2m6 0h1m2 0h1m1 0h1m10 0h1m5 0h1m6 0h1m3 0h1m5 0h1m15 0h1m9 0h1m1 0h1m6 0h3m3 0h1m2 0h1m15 0h1m16 0h1m3 0h1m1 0h1m4 0h1m7 0h2m10 0h3m2 0h1m20 0h2m2 0h1m5 0h1m4 0h1m2 0h2m2 0h1m9 0h1m6 0h1m33 0h1m9 0h1m1 0h1m1 0h1m13 0h1m17 0h1m2 0h1m6 0h1m9 0h1m16 0h1m2 0h1m16 0h1m3 0h1m18 0h1m4 0h1m6 0h1m19 0h1m12 0h1M68 18.5h1m8 0h1m12 0h1m11 0h2m4 0h1m2 0h1m3 0h1m3 0h1m6 0h1m16 0h1m6 0h1m1 0h1m11 0h1m6 0h1m3 0h1m4 0h1m1 0h2m6 0h1m29 0h2m3 0h1m3 0h1m2 0h1m5 0h1m9 0h1m15 0h1m30 0h1m2 0h1m2 0h1m22 0h1m2 0h2m4 0h1m7 0h1m19 0h1m3 0h1m85 0h1m6 0h1m3 0h1m3 0h1m41 0h1m36 0h1m6 0h1m33 0h1m7 0h1M88 19.5h1m1 0h1m6 0h1m11 0h1m3 0h1m12 0h1m2 0h1m13 0h1m2 0h1m1 0h1m1 0h1m6 0h1m1 0h1m2 0h1m21 0h1m18 0h1m16 0h1m10 0h2m13 0h1m4 0h1m3 0h1m5 0h1m29 0h1m15 0h1m3 0h1m4 0h1m14 0h1m7 0h1m9 0h1m1 0h1m8 0h1m2 0h1m1 0h1m1 0h1m9 0h1m1 0h1m18 0h1m1 0h1m5 0h1m12 0h1m9 0h1m87 0h1m1 0h1m1 0h1m18 0h1m12 0h1m2 0h1m7 0h1m25 0h1M67 20.5h1m22 0h1m11 0h1m6 0h1m11 0h2m5 0h2m3 0h1m8 0h1m13 0h1m5 0h1m2 0h1m1 0h1m2 0h1m1 0h2m10 0h1m35 0h1m1 0h1m7 0h1m1 0h2m9 0h3m4 0h1m10 0h1m2 0h1m10 0h1m1 0h1m4 0h1m1 0h1m4 0h1m8 0h1m2 0h1m6 0h1m16 0h1m7 0h1m7 0h1m3 0h1m13 0h1m19 0h1m2 0h1m42 0h1m14 0h1m4 0h1m5 0h1m6 0h1m8 0h1m12 0h1m9 0h1m1 0h1m6 0h1m10 0h1m10 0h1m14 0h1m12 0h1m11 0h1m15 0h1M28 21.5h1m65 0h1m2 0h1m2 0h1m6 0h3m3 0h1m12 0h1m25 0h1m6 0h1m11 0h1m11 0h1m8 0h1m3 0h1m19 0h1m4 0h2m15 0h1m16 0h1m3 0h1m1 0h1m5 0h1m20 0h1m18 0h1m3 0h1m1 0h1m4 0h1m2 0h1m10 0h1m3 0h1m35 0h1m2 0h1m30 0h1m2 0h1m7 0h1m12 0h1m20 0h1m11 0h1m21 0h1m1 0h1m12 0h2m5 0h1m9 0h1m4 0h1m21 0h1m1 0h1m13 0h1m11 0h1m9 0h1M76 22.5h1m6 0h1m2 0h1m19 0h1m2 0h1m1 0h1m1 0h1m16 0h1m20 0h1m2 0h1m4 0h1m2 0h2m8 0h1m3 0h1m2 0h1m1 0h1m10 0h1m6 0h1m3 0h1m44 0h1m10 0h1m23 0h2m22 0h1m8 0h2m9 0h1m1 0h1m7 0h1m1 0h1m19 0h1m5 0h1m8 0h2m5 0h1m3 0h1m15 0h1m25 0h1m17 0h1m13 0h3m5 0h1m11 0h2m3 0h1m6 0h1m5 0h1m6 0h1m3 0h1m1 0h1m6 0h1m7 0h1m8 0h1m15 0h1M33 23.5h1m36 0h1m5 0h2m2 0h2m3 0h1m21 0h1m3 0h1m3 0h1m3 0h2m7 0h1m16 0h1m5 0h1m1 0h1m12 0h1m4 0h1m9 0h1m2 0h1m23 0h1m7 0h1m21 0h2m1 0h1m2 0h1m11 0h1m3 0h1m1 0h1m3 0h1m2 0h2m2 0h1m10 0h1m1 0h1m10 0h2m8 0h2m1 0h1m11 0h1m27 0h1m5 0h1m6 0h1m17 0h1m5 0h1m2 0h1m12 0h1m11 0h2m17 0h1m1 0h1m1 0h1m1 0h1m4 0h1m3 0h1m6 0h1m2 0h2m8 0h1m19 0h1m1 0h1m16 0h1m2 0h1m1 0h1m11 0h1m34 0h1m11 0h1M85 24.5h1m21 0h1m4 0h2m5 0h1m15 0h1m3 0h1m1 0h1m1 0h1m14 0h1m1 0h1m7 0h1m2 0h1m32 0h1m22 0h2m4 0h1m9 0h1m17 0h1m5 0h1m6 0h2m3 0h2m3 0h1m10 0h1m2 0h1m8 0h2m5 0h2m5 0h1m5 0h1m9 0h1m13 0h1m21 0h2m21 0h1m3 0h1m2 0h1m2 0h1m4 0h1m2 0h1m1 0h1m1 0h1m6 0h1m13 0h1m67 0h1m7 0h1m6 0h2m29 0h1m36 0h2M74 25.5h1m1 0h1m1 0h1m3 0h1m18 0h1m9 0h2m7 0h1m21 0h1m15 0h1m11 0h2m8 0h1m3 0h1m12 0h1m11 0h1m7 0h1m5 0h1m1 0h1m10 0h1m2 0h1m6 0h2m2 0h1m16 0h1m9 0h1m10 0h1m2 0h1m1 0h1m1 0h1m21 0h1m9 0h1m23 0h1m7 0h2m1 0h1m5 0h1m9 0h1m7 0h1m30 0h1m8 0h1m2 0h1m21 0h1m4 0h1m27 0h1m15 0h1m16 0h1m4 0h1m22 0h1m3 0h1m7 0h1m3 0h1m25 0h1M66 26.5h1m11 0h1m4 0h1m7 0h1m2 0h1m2 0h1m2 0h2m5 0h1m3 0h1m3 0h1m3 0h1m11 0h1m3 0h1m3 0h1m5 0h1m27 0h1m10 0h1m3 0h1m11 0h1m1 0h1m25 0h1m4 0h1m5 0h1m6 0h1m4 0h1m18 0h1m6 0h2m7 0h1m5 0h1m20 0h1m1 0h1m5 0h1m2 0h1m3 0h1m2 0h1m13 0h1m2 0h1m8 0h1m16 0h1m5 0h3m18 0h1m23 0h1m10 0h1m1 0h2m5 0h1m3 0h1m2 0h1m1 0h1m4 0h1m1 0h1m28 0h1m3 0h1m24 0h1m1 0h1m3 0h1m7 0h1m6 0h1m4 0h1m12 0h1m4 0h1m30 0h1M77 27.5h2m10 0h1m10 0h1m1 0h1m4 0h1m1 0h1m4 0h2m4 0h1m2 0h1m3 0h2m18 0h2m9 0h1m5 0h1m1 0h2m3 0h1m25 0h3m18 0h1m6 0h1m4 0h1m5 0h1m10 0h1m8 0h1m9 0h1m21 0h1m8 0h1m13 0h1m4 0h2m6 0h1m14 0h1m2 0h1m17 0h2m1 0h1m3 0h1m19 0h1m25 0h1m20 0h1m3 0h1m48 0h1m6 0h1m2 0h1m11 0h1m1 0h1m3 0h1m6 0h1m10 0h1m11 0h2m3 0h1m31 0h1m3 0h1M33 28.5h1m40 0h1m11 0h1m1 0h1m6 0h1m10 0h1m3 0h1m17 0h2m13 0h1m1 0h1m25 0h1m9 0h1m6 0h1m14 0h2m27 0h2m14 0h1m19 0h1m3 0h1m1 0h1m1 0h2m6 0h1m4 0h1m8 0h1m4 0h1m17 0h1m20 0h1m11 0h1m26 0h3m19 0h1m3 0h2m8 0h1m4 0h1m7 0h1m14 0h1m14 0h1m2 0h1m32 0h1m13 0h1m2 0h1m1 0h1m5 0h1m11 0h1m2 0h1m3 0h1m5 0h2m12 0h1m28 0h1m2 0h1M58 29.5h1m26 0h1m13 0h1m35 0h2m9 0h1m20 0h1m3 0h1m8 0h1m5 0h1m4 0h1m5 0h1m1 0h1m25 0h1m6 0h1m2 0h1m3 0h1m8 0h1m4 0h1m7 0h1m2 0h1m52 0h1m7 0h1m3 0h1m3 0h1m5 0h2m4 0h1m16 0h2m3 0h1m24 0h1m4 0h1m9 0h1m7 0h1m5 0h1m2 0h1m10 0h1m2 0h1m12 0h2m1 0h1m1 0h1m3 0h1m6 0h1m17 0h1m6 0h1m5 0h1m11 0h2m13 0h1m28 0h1m6 0h1m7 0h1m9 0h1M70 30.5h1m1 0h1m3 0h1m1 0h1m22 0h1m4 0h1m12 0h1m1 0h1m11 0h1m10 0h1m3 0h1m5 0h1m9 0h1m1 0h1m1 0h1m6 0h1m24 0h1m13 0h1m4 0h1m5 0h1m1 0h1m13 0h1m6 0h1m2 0h1m11 0h1m5 0h2m1 0h1m10 0h1m8 0h1m14 0h1m2 0h1m6 0h1m3 0h1m7 0h1m7 0h1m1 0h1m17 0h1m6 0h2m8 0h1m2 0h1m8 0h1m7 0h1m8 0h2m1 0h1m4 0h1m11 0h3m4 0h1m8 0h1m23 0h1m26 0h1m9 0h1m12 0h1m22 0h1m3 0h1m28 0h1M81 31.5h1m8 0h2m5 0h1m4 0h1m18 0h1m7 0h1m12 0h1m11 0h1m7 0h1m1 0h2m2 0h1m11 0h1m19 0h1m3 0h1m12 0h1m10 0h2m1 0h1m16 0h1m7 0h1m2 0h1m1 0h1m2 0h1m3 0h1m5 0h1m11 0h1m1 0h1m2 0h1m4 0h1m1 0h1m11 0h1m2 0h1m11 0h1m7 0h1m18 0h1m4 0h1m9 0h1m7 0h1m3 0h1m24 0h1m12 0h1m3 0h1m3 0h1m10 0h1m2 0h1m21 0h1m1 0h1m2 0h1m20 0h1m1 0h1m1 0h2m7 0h1m7 0h1m29 0h1m1 0h1m26 0h1m17 0h1M33 32.5h1m48 0h1m3 0h1m10 0h1m8 0h1m13 0h1m3 0h1m10 0h1m46 0h1m1 0h1m17 0h1m11 0h1m1 0h1m2 0h1m5 0h1m6 0h1m7 0h1m2 0h1m3 0h2m3 0h1m8 0h1m4 0h2m6 0h4m5 0h1m24 0h1m2 0h1m3 0h1m11 0h1m5 0h1m3 0h1m2 0h1m19 0h1m12 0h1m5 0h1m17 0h1m13 0h2m8 0h1m8 0h1m4 0h1m3 0h1m2 0h1m3 0h1m6 0h1m7 0h1m8 0h1m20 0h1m7 0h1m36 0h1m9 0h1m16 0h1m22 0h1m3 0h1M40 33.5h2m28 0h1m12 0h1m45 0h1m3 0h1m9 0h1m4 0h1m5 0h1m14 0h1m1 0h1m4 0h1m2 0h1m1 0h1m1 0h1m3 0h1m1 0h1m17 0h1m4 0h1m6 0h1m3 0h1m5 0h1m3 0h1m11 0h1m8 0h1m4 0h1m1 0h1m16 0h1m1 0h1m7 0h1m1 0h1m16 0h1m2 0h1m6 0h1m4 0h1m14 0h1m3 0h1m20 0h1m20 0h1m1 0h1m10 0h1m12 0h1m2 0h1m2 0h1m6 0h1m2 0h1m1 0h1m2 0h1m9 0h1m2 0h1m1 0h1m1 0h1m3 0h2m5 0h1m1 0h1m26 0h1m17 0h1m4 0h1m14 0h1m35 0h1m23 0h1m8 0h1"/><path stroke="#F4DFDF" d="M95 0.5h1m47 0h1m2 0h1m9 0h1m3 0h1m22 0h1m2 0h1m27 0h1m3 0h1m21 0h1m19 0h1m11 0h1m4 0h1m22 0h1m3 0h1m27 0h1m5 0h1m7 0h1m2 0h2m7 0h1m2 0h1m1 0h1m7 0h1m6 0h2m6 0h2m4 0h1m6 0h1m12 0h1m10 0h1m4 0h1m8 0h1m4 0h1m7 0h1m4 0h1m1 0h1m8 0h1m4 0h1m18 0h1m11 0h1m4 0h1m1 0h1m5 0h1m11 0h2m3 0h1m11 0h1m22 0h1m7 0h1m2 0h2m2 0h1m4 0h1m3 0h1m1 0h1M88 1.5h1m11 0h1m2 0h1m15 0h2m60 0h1m3 0h1m50 0h1m1 0h1m18 0h1m8 0h1m4 0h1m2 0h1m20 0h1m6 0h1m9 0h2m7 0h1m44 0h1m7 0h1m4 0h1m30 0h1m6 0h1m12 0h2m24 0h1m2 0h1m3 0h1m2 0h1m2 0h1m2 0h1m3 0h1m12 0h1m5 0h1m4 0h1m7 0h2m4 0h1m9 0h1m3 0h1m5 0h1m2 0h2m6 0h2m2 0h1m9 0h2m2 0h1m1 0h2m1 0h1m9 0h1m1 0h2m2 0h1m3 0h1M98 2.5h1m52 0h2m2 0h1m24 0h1m18 0h1m17 0h1m17 0h1m4 0h1m3 0h1m10 0h1m11 0h1m32 0h1m2 0h1m33 0h1m6 0h2m16 0h1m3 0h1m8 0h1m18 0h1m1 0h1m1 0h1m13 0h1m2 0h1m17 0h1m17 0h1m5 0h1m10 0h1m4 0h1m6 0h1m12 0h1m7 0h1m2 0h1m16 0h1m17 0h1m9 0h2m1 0h1m14 0h1m3 0h1m12 0h1m2 0h1m1 0h1M138 3.5h1m6 0h1m43 0h1m8 0h1m4 0h1m8 0h2m17 0h1m13 0h1m5 0h1m3 0h1m23 0h2m1 0h1m18 0h1m6 0h1m4 0h1m7 0h1m10 0h1m30 0h1m14 0h1m30 0h1m6 0h2m1 0h1m5 0h2m2 0h1m1 0h1m3 0h1m10 0h1m24 0h1m15 0h1m14 0h1m3 0h1m14 0h1m4 0h2m22 0h1m1 0h2m22 0h1m16 0h1M123 4.5h1m10 0h1m10 0h1m21 0h1m25 0h2m1 0h1m1 0h1m32 0h1m3 0h1m3 0h1m19 0h1m4 0h1m9 0h1m5 0h1m33 0h1m7 0h1m1 0h1m10 0h1m3 0h1m2 0h1m3 0h2m4 0h1m16 0h1m56 0h1m4 0h1m5 0h1m3 0h1m17 0h1m14 0h1m7 0h1m2 0h1m9 0h1m11 0h1m1 0h1m4 0h1m5 0h4m4 0h1m9 0h1m4 0h1m23 0h1m4 0h1m3 0h1m3 0h1m16 0h1M119 5.5h1m18 0h1m10 0h1m17 0h1m32 0h1m1 0h3m2 0h1m1 0h1m2 0h1m26 0h1m20 0h1m6 0h1m1 0h1m1 0h1m2 0h1m1 0h1m10 0h1m15 0h1m3 0h2m3 0h1m10 0h2m8 0h1m16 0h1m13 0h1m18 0h1m2 0h2m1 0h1m10 0h1m10 0h1m3 0h3m3 0h1m10 0h1m4 0h1m1 0h1m1 0h1m23 0h1m14 0h1m36 0h1m1 0h1m3 0h1m3 0h1m4 0h1m2 0h1m1 0h1m1 0h1m11 0h1m8 0h1m1 0h1m31 0h2M76 6.5h1m85 0h1m27 0h1m2 0h1m1 0h1m14 0h1m8 0h1m10 0h1m14 0h1m12 0h1m8 0h2m5 0h1m28 0h1m4 0h1m17 0h1m1 0h1m2 0h1m3 0h1m4 0h1m4 0h1m3 0h1m1 0h4m3 0h2m2 0h2m8 0h1m1 0h1m5 0h1m2 0h1m10 0h2m25 0h1m11 0h2m12 0h1m17 0h1m5 0h1m16 0h1m10 0h1m6 0h2m3 0h1m3 0h1m7 0h1m11 0h1m1 0h1m5 0h1m2 0h1m3 0h1m26 0h1m10 0h2m4 0h2M119 10.5h1m15 0h1m12 0h1m9 0h1m12 0h1m34 0h1m2 0h1m8 0h1m5 0h1m9 0h1m33 0h1m7 0h1m2 0h1m26 0h1m36 0h1m19 0h1m3 0h1m11 0h1m11 0h1m1 0h1m2 0h1m12 0h1m9 0h1m8 0h1m5 0h1m12 0h1m8 0h1m3 0h1m1 0h2m14 0h1m7 0h1m2 0h1m5 0h1m9 0h1m1 0h1m9 0h1m22 0h1m9 0h1m3 0h1m10 0h2m2 0h1m2 0h1m6 0h1m9 0h1m2 0h2M80 11.5h1m3 0h1m62 0h1m6 0h1m9 0h1m41 0h1m27 0h2m46 0h1m31 0h1m3 0h2m20 0h1m34 0h1m10 0h1m14 0h1m2 0h1m15 0h1m1 0h1m13 0h1m24 0h1m16 0h1m10 0h2m6 0h1m1 0h1m14 0h1m8 0h1m7 0h1m1 0h1m43 0h1m2 0h1m3 0h1M66 12.5h1m11 0h1m45 0h1m13 0h1m21 0h1m5 0h2m14 0h1m14 0h1m41 0h1m15 0h1m10 0h1m6 0h1m18 0h2m33 0h2m4 0h2m29 0h1m10 0h1m5 0h1m20 0h1m19 0h1m1 0h1m69 0h1m3 0h1m12 0h1m1 0h1m44 0h1m8 0h1m1 0h1m15 0h1M77 13.5h1m8 0h1m4 0h1m3 0h1m24 0h1m1 0h1m2 0h1m5 0h2m5 0h2m1 0h1m2 0h1m3 0h1m8 0h1m1 0h2m5 0h1m5 0h1m13 0h1m4 0h1m8 0h1m3 0h1m7 0h1m8 0h1m1 0h1m11 0h3m11 0h1m3 0h1m8 0h1m4 0h2m12 0h1m1 0h2m8 0h2m4 0h1m9 0h1m10 0h1m5 0h1m29 0h1m1 0h1m9 0h1m4 0h2m2 0h1m11 0h1m2 0h1m7 0h4m1 0h1m19 0h1m5 0h1m15 0h1m3 0h1m7 0h1m1 0h1m5 0h1m12 0h1m15 0h1m4 0h1m13 0h1M28 14.5h1m37 0h1m4 0h1m1 0h1m18 0h1m17 0h1m13 0h1m7 0h1m1 0h1m3 0h1m2 0h1m1 0h1m10 0h1m6 0h1m11 0h2m25 0h1m2 0h1m24 0h1m3 0h1m4 0h2m9 0h1m25 0h1m16 0h1m19 0h1m6 0h1m4 0h1m1 0h1m16 0h1m4 0h1m3 0h2m3 0h1m2 0h1m2 0h1m6 0h1m1 0h1m17 0h1m10 0h1m6 0h1m3 0h1m13 0h2m16 0h1m14 0h1m5 0h2m10 0h1m14 0h1m2 0h3m3 0h2m2 0h1m11 0h1m18 0h1m2 0h1m3 0h3m8 0h1m2 0h1m1 0h2m10 0h2m5 0h1m1 0h1m7 0h1m4 0h2M3 15.5h3m8 0h1m3 0h1m15 0h1m2 0h1m12 0h1m11 0h1m22 0h2m2 0h2m33 0h1m16 0h1m6 0h1m13 0h1m10 0h1m7 0h1m3 0h1m4 0h1m19 0h1m1 0h1m1 0h1m4 0h1m21 0h1m11 0h1m39 0h1m10 0h1m3 0h1m9 0h1m7 0h1m9 0h1m5 0h1m2 0h1m1 0h1m28 0h2m11 0h2m16 0h1m8 0h1m15 0h1m9 0h1m59 0h1m51 0h1m4 0h1M74 16.5h1m1 0h1m5 0h1m7 0h1m3 0h1m8 0h1m20 0h1m3 0h2m15 0h1m7 0h1m2 0h1m20 0h1m5 0h1m13 0h1m11 0h1m10 0h1m4 0h1m1 0h2m3 0h1m1 0h1m4 0h1m1 0h1m1 0h1m14 0h1m5 0h1m8 0h1m1 0h1m7 0h1m31 0h2m22 0h1m2 0h1m6 0h1m14 0h1m2 0h1m4 0h2m18 0h1m23 0h1m13 0h1m30 0h1m45 0h1m7 0h1m20 0h1M74 17.5h1m5 0h1m2 0h1m3 0h1m3 0h1m3 0h1m6 0h1m2 0h1m7 0h1m5 0h1m2 0h1m5 0h1m6 0h1m19 0h1m13 0h2m4 0h1m12 0h1m19 0h1m7 0h1m5 0h1m4 0h1m4 0h1m5 0h1m7 0h1m25 0h2m3 0h1m5 0h1m14 0h1m3 0h1m15 0h1m12 0h1m29 0h1m3 0h1m13 0h1m2 0h2m8 0h1m4 0h1m9 0h1m13 0h1m29 0h1m58 0h1m49 0h1M78 18.5h1m6 0h2m8 0h1m5 0h1m5 0h1m5 0h1m10 0h1m17 0h1m1 0h1m1 0h1m4 0h1m14 0h2m13 0h1m3 0h1m2 0h1m29 0h1m11 0h1m2 0h1m9 0h1m2 0h1m4 0h3m3 0h1m1 0h1m10 0h1m2 0h1m2 0h1m16 0h1m8 0h1m12 0h1m2 0h1m6 0h1m3 0h1m6 0h1m5 0h1m4 0h1m1 0h1m27 0h1m14 0h1m49 0h1m11 0h1m5 0h1m9 0h1m15 0h1m28 0h1m40 0h1m3 0h1M66 19.5h1m7 0h1m7 0h1m18 0h1m6 0h1m3 0h1m2 0h1m12 0h1m3 0h1m11 0h1m2 0h1m3 0h1m6 0h1m5 0h1m5 0h1m1 0h1m9 0h1m5 0h1m8 0h1m2 0h1m15 0h1m8 0h1m10 0h1m13 0h1m12 0h1m6 0h1m2 0h2m1 0h1m6 0h1m8 0h1m17 0h1m16 0h1m29 0h1m34 0h1m14 0h1m7 0h1m6 0h1m3 0h1m9 0h1m6 0h1m8 0h1m16 0h1m22 0h1m11 0h1m20 0h1m7 0h1m4 0h1m22 0h1m19 0h1M66 20.5h1m19 0h1m45 0h1m22 0h1m15 0h1m17 0h3m24 0h2m1 0h1m3 0h1m27 0h1m3 0h1m1 0h1m2 0h1m5 0h1m24 0h1m4 0h1m13 0h1m6 0h1m2 0h1m15 0h1m10 0h1m1 0h1m17 0h1m28 0h2m19 0h1m4 0h1m4 0h1m14 0h1m18 0h1m4 0h1m37 0h1m28 0h1m6 0h1m4 0h1m21 0h1m17 0h1m4 0h1M71 21.5h2m5 0h1m6 0h1m2 0h1m13 0h1m32 0h1m3 0h1m1 0h1m1 0h1m18 0h1m16 0h1m8 0h2m27 0h1m5 0h1m7 0h1m3 0h1m3 0h1m3 0h1m4 0h1m14 0h1m4 0h1m8 0h3m3 0h1m5 0h1m1 0h1m3 0h1m3 0h1m20 0h1m12 0h1m19 0h1m7 0h2m20 0h2m7 0h1m5 0h1m1 0h1m12 0h1m78 0h1M68 22.5h1m3 0h1m5 0h1m16 0h1m4 0h1m14 0h1m8 0h1m8 0h1m7 0h3m9 0h1m11 0h2m6 0h1m1 0h1m6 0h1m23 0h1m23 0h1m6 0h1m1 0h1m10 0h1m1 0h1m2 0h1m5 0h1m27 0h1m5 0h2m36 0h1m9 0h1m17 0h1m21 0h1m3 0h1m4 0h1m5 0h1m15 0h1m1 0h1m4 0h1m20 0h1m6 0h1m4 0h1m78 0h1m2 0h1m16 0h1m2 0h1m3 0h1M78 23.5h1m26 0h1m2 0h1m17 0h1m2 0h1m2 0h1m9 0h2m4 0h1m6 0h1m13 0h1m5 0h1m1 0h1m10 0h1m1 0h2m5 0h2m3 0h1m9 0h1m4 0h1m4 0h1m5 0h1m19 0h1m3 0h2m1 0h1m3 0h1m4 0h1m9 0h2m2 0h1m9 0h1m10 0h1m13 0h1m6 0h2m6 0h1m8 0h1m7 0h1m6 0h1m8 0h1m15 0h1m14 0h1m3 0h2m9 0h1m1 0h1m11 0h1m77 0h1m17 0h1m22 0h1m12 0h1M94 24.5h1m1 0h1m2 0h1m5 0h2m1 0h1m13 0h1m4 0h1m1 0h1m2 0h1m11 0h2m10 0h2m1 0h1m2 0h1m3 0h2m2 0h1m18 0h1m1 0h1m4 0h1m15 0h1m5 0h1m17 0h4m5 0h2m5 0h1m19 0h1m5 0h1m12 0h1m4 0h1m5 0h1m10 0h1m11 0h1m13 0h1m1 0h1m5 0h1m1 0h1m9 0h1m1 0h1m21 0h1m46 0h1m14 0h1m16 0h1m3 0h1m28 0h1m15 0h1m5 0h1m3 0h1m3 0h1m3 0h1m10 0h1m14 0h1m1 0h1m14 0h1M66 25.5h1m5 0h1m21 0h2m3 0h1m7 0h2m18 0h2m6 0h1m11 0h1m3 0h1m1 0h1m1 0h1m3 0h1m9 0h1m7 0h1m5 0h1m17 0h1m9 0h1m4 0h1m10 0h1m17 0h1m12 0h1m9 0h1m1 0h1m4 0h2m1 0h1m4 0h1m18 0h1m1 0h1m3 0h1m11 0h1m7 0h1m3 0h2m2 0h2m1 0h1m41 0h1m12 0h1m2 0h1m8 0h1m4 0h1m3 0h1m8 0h1m5 0h1m5 0h1m4 0h1m24 0h1m23 0h2m6 0h1m16 0h1m17 0h1m2 0h1m30 0h1M72 26.5h1m4 0h1m4 0h1m2 0h1m4 0h1m4 0h2m9 0h1m6 0h1m6 0h1m5 0h1m1 0h1m3 0h1m31 0h1m1 0h2m9 0h1m13 0h1m6 0h1m2 0h1m1 0h1m12 0h1m10 0h1m1 0h1m5 0h1m9 0h1m2 0h1m25 0h1m1 0h1m4 0h1m7 0h1m5 0h1m11 0h1m2 0h1m3 0h1m2 0h1m11 0h1m6 0h1m12 0h1m10 0h3m10 0h1m3 0h1m6 0h1m1 0h1m7 0h1m7 0h1m5 0h1m14 0h2m26 0h1m45 0h1m12 0h2m60 0h1M68 27.5h1m3 0h1m3 0h1m3 0h2m6 0h1m22 0h2m8 0h1m17 0h1m13 0h1m1 0h2m13 0h1m4 0h1m1 0h2m2 0h1m8 0h1m10 0h1m3 0h1m2 0h1m11 0h1m1 0h1m8 0h2m2 0h1m2 0h1m14 0h1m19 0h1m2 0h3m5 0h1m4 0h1m10 0h1m20 0h1m12 0h1m14 0h1m7 0h1m53 0h1m10 0h1m1 0h2m13 0h1m14 0h1m11 0h1m37 0h1m48 0h1m2 0h1m15 0h1m17 0h1M76 28.5h1m6 0h1m31 0h1m16 0h1m2 0h1m6 0h1m5 0h1m2 0h1m1 0h1m1 0h1m2 0h1m1 0h1m8 0h1m6 0h2m5 0h1m6 0h1m16 0h1m10 0h1m2 0h1m8 0h1m6 0h1m1 0h1m1 0h1m3 0h2m3 0h1m4 0h2m4 0h1m5 0h1m1 0h1m12 0h2m7 0h2m27 0h1m3 0h1m5 0h1m1 0h1m14 0h1m29 0h1m8 0h1m10 0h1m3 0h1m14 0h1m4 0h1m2 0h1m17 0h1m47 0h1m6 0h1m63 0h1m23 0h1M68 29.5h1m4 0h1m2 0h1m1 0h1m29 0h1m19 0h1m3 0h1m8 0h1m5 0h1m2 0h1m14 0h1m4 0h1m14 0h1m2 0h2m26 0h1m1 0h1m11 0h1m10 0h1m2 0h1m10 0h1m2 0h1m14 0h1m3 0h1m1 0h1m15 0h1m5 0h1m18 0h1m11 0h1m32 0h1m28 0h1m22 0h1m12 0h1m31 0h1m3 0h1m33 0h1m6 0h1m42 0h1m2 0h1m6 0h1m24 0h1M68 30.5h1m5 0h1m7 0h1m3 0h1m2 0h1m1 0h2m7 0h1m4 0h1m1 0h1m22 0h1m28 0h2m10 0h1m1 0h1m7 0h1m2 0h1m12 0h1m20 0h1m3 0h2m4 0h1m6 0h1m3 0h1m5 0h1m12 0h1m9 0h1m7 0h2m42 0h1m11 0h1m27 0h1m17 0h1m8 0h1m12 0h1m14 0h2m9 0h1m15 0h1m3 0h1m14 0h1m32 0h1m9 0h1m5 0h1m35 0h1m9 0h1M76 31.5h2m2 0h1m5 0h1m8 0h1m3 0h2m11 0h1m6 0h2m3 0h1m2 0h1m20 0h1m2 0h1m8 0h1m6 0h1m4 0h1m6 0h1m1 0h1m1 0h1m6 0h1m6 0h1m8 0h1m4 0h1m6 0h1m4 0h1m1 0h2m9 0h1m20 0h1m2 0h1m11 0h2m5 0h1m3 0h1m8 0h1m18 0h1m17 0h1m6 0h1m16 0h1m6 0h1m1 0h2m9 0h1m9 0h1m14 0h1m15 0h1m15 0h1m31 0h1m21 0h1m22 0h1m2 0h1m18 0h1m3 0h1m18 0h1m7 0h1m11 0h1m17 0h1M66 32.5h1m1 0h1m8 0h1m2 0h1m2 0h1m16 0h1m1 0h1m25 0h1m3 0h1m6 0h1m8 0h1m8 0h1m1 0h1m16 0h1m4 0h1m8 0h1m15 0h1m4 0h1m6 0h1m10 0h2m5 0h1m4 0h1m37 0h1m9 0h1m39 0h1m11 0h1m30 0h1m8 0h1m8 0h1m10 0h1m2 0h1m14 0h1m16 0h1m1 0h1m13 0h1m31 0h1m4 0h1m10 0h1m9 0h1m11 0h1M76 33.5h1m9 0h1m4 0h1m8 0h1m23 0h1m14 0h1m5 0h1m11 0h1m15 0h1m8 0h1m1 0h1m8 0h1m17 0h1m6 0h1m3 0h1m5 0h1m1 0h1m7 0h1m4 0h1m2 0h1m19 0h1m12 0h1m3 0h1m17 0h1m12 0h1m12 0h1m1 0h1m17 0h1m24 0h1m24 0h1m13 0h1m27 0h1m6 0h1m14 0h2m25 0h1m1 0h1m17 0h1m24 0h1m4 0h1m6 0h2m17 0h1"/><path stroke="#F0D5D5" d="M151 0.5h1m16 0h1m21 0h1m5 0h2m10 0h1m50 0h1m21 0h1m52 0h1m10 0h1m2 0h1m15 0h1m25 0h1m3 0h1m7 0h1m3 0h1m1 0h1m7 0h1m1 0h1m3 0h1m1 0h1m8 0h1m6 0h1m5 0h1m2 0h1m10 0h1m20 0h1m5 0h1m4 0h2m4 0h1m12 0h1m11 0h1m7 0h1m10 0h1m3 0h1m11 0h1m6 0h1m5 0h1m2 0h1m1 0h1m6 0h1M184 1.5h1m55 0h1m21 0h1m10 0h1m10 0h1m8 0h1m26 0h1m9 0h1m1 0h1m4 0h1m11 0h1m21 0h1m24 0h1m1 0h1m7 0h1m4 0h1m4 0h1m1 0h1m4 0h2m4 0h1m13 0h1m5 0h1m3 0h1m6 0h1m22 0h1m2 0h1m11 0h1m23 0h1m10 0h1m6 0h1m3 0h1m5 0h1m2 0h1m1 0h1m5 0h1m9 0h1m4 0h1m17 0h1M214 2.5h1m1 0h1m15 0h1m15 0h1m25 0h1m1 0h1m19 0h1m9 0h1m14 0h2m53 0h2m26 0h1m6 0h1m7 0h1m20 0h1m4 0h2m3 0h1m1 0h1m21 0h1m12 0h1m4 0h1m9 0h1m6 0h1m6 0h1m1 0h1m5 0h1m23 0h1m9 0h1m24 0h1m7 0h1m4 0h1M124 3.5h1m35 0h1m32 0h1m5 0h1m26 0h1m32 0h1m35 0h1m1 0h1m1 0h1m35 0h1m2 0h2m6 0h1m6 0h1m7 0h2m12 0h1m6 0h1m13 0h1m3 0h1m2 0h1m28 0h1m4 0h1m4 0h1m7 0h1m11 0h1m16 0h1m20 0h1m6 0h1m20 0h1m3 0h1m1 0h1m20 0h1m2 0h1m13 0h1m1 0h1m4 0h1m1 0h1M116 4.5h1m7 0h1m39 0h1m54 0h1m14 0h1m2 0h1m7 0h1m5 0h1m9 0h1m1 0h1m5 0h1m1 0h1m7 0h1m4 0h2m6 0h1m4 0h1m5 0h1m13 0h1m3 0h1m37 0h1m22 0h1m2 0h1m5 0h1m2 0h1m4 0h2m8 0h1m1 0h1m7 0h1m14 0h1m21 0h1m1 0h1m5 0h1m14 0h1m6 0h1m21 0h1m6 0h4m29 0h1m2 0h1m5 0h1m2 0h1m14 0h1m3 0h1m18 0h2M86 5.5h1m37 0h1m37 0h1m1 0h1m28 0h1m27 0h1m5 0h1m35 0h1m31 0h1m25 0h1m3 0h2m19 0h1m4 0h1m3 0h1m29 0h1m10 0h1m4 0h1m20 0h1m19 0h1m1 0h1m7 0h1m3 0h1m3 0h1m11 0h1m2 0h1m2 0h1m23 0h1m5 0h1m13 0h1m10 0h1m2 0h1m3 0h1m1 0h1m2 0h1m3 0h1m4 0h1m13 0h1m5 0h1m2 0h1m2 0h1m17 0h1M122 6.5h2m36 0h1m17 0h1m34 0h1m19 0h1m59 0h1m28 0h1m1 0h1m14 0h1m3 0h1m33 0h1m14 0h2m2 0h1m10 0h4m3 0h1m13 0h1m9 0h1m5 0h1m1 0h1m3 0h2m8 0h1m12 0h1m5 0h1m3 0h1m2 0h2m16 0h1m3 0h1m23 0h1m8 0h1m5 0h1m8 0h1m6 0h1m16 0h2m15 0h2M275 7.5h1m15 0h1m14 0h1m26 0h1m7 0h1m79 0h1m83 0h1m1 0h1M459 8.5h1M190 9.5h1m225 0h1m103 0h1M153 10.5h1m14 0h1m58 0h1m56 0h1m45 0h1m11 0h1m21 0h1m22 0h1m19 0h1m22 0h1m9 0h1m3 0h1m5 0h1m23 0h1m4 0h2m9 0h1m5 0h1m31 0h2m1 0h1m6 0h1m22 0h1m21 0h1M194 11.5h1m26 0h1m11 0h1m89 0h1m25 0h1m22 0h1m12 0h1m25 0h1m18 0h1m28 0h1m3 0h1m2 0h1m2 0h1m14 0h1m8 0h1m10 0h1m10 0h1m24 0h1m6 0h1m8 0h1m21 0h1m7 0h1m1 0h1m9 0h2M71 12.5h1m79 0h1m59 0h1m34 0h1m2 0h1m14 0h1m13 0h1m1 0h1m13 0h1m41 0h1m16 0h1m63 0h1m16 0h1m2 0h1m7 0h2m22 0h1m2 0h1m4 0h1m4 0h1m12 0h1m18 0h1m4 0h1m5 0h2m1 0h1m23 0h1m10 0h1m7 0h1m5 0h1m5 0h1m2 0h1m9 0h1M66 13.5h1m8 0h2m7 0h1m5 0h1m5 0h1m1 0h1m2 0h1m4 0h1m1 0h2m5 0h1m3 0h1m8 0h1m7 0h1m12 0h1m3 0h1m10 0h1m10 0h1m5 0h1m10 0h2m5 0h1m7 0h1m3 0h1m5 0h1m10 0h1m3 0h1m9 0h2m17 0h1m3 0h1m12 0h1m24 0h1m27 0h1m1 0h1m45 0h1m16 0h1m11 0h1m4 0h1m6 0h1m65 0h1m53 0h1M74 14.5h1m11 0h1m16 0h2m6 0h1m4 0h1m12 0h1m46 0h1m21 0h1m53 0h1m9 0h1m52 0h1m6 0h1m6 0h1m25 0h1m9 0h1m18 0h1m7 0h1m2 0h1m2 0h1m6 0h1m32 0h1m10 0h1m10 0h1m5 0h3m11 0h2m3 0h1m3 0h1m23 0h1m4 0h1m4 0h1m9 0h2m11 0h1m7 0h1m6 0h2m2 0h1m1 0h1m10 0h1m4 0h1m5 0h1m5 0h1m3 0h1M0 15.5h2m7 0h1m2 0h1m7 0h1m6 0h1m1 0h1m1 0h1m1 0h1m6 0h2m2 0h1m9 0h1m1 0h1m3 0h1m36 0h1m13 0h1m24 0h1m2 0h1m6 0h1m6 0h1m28 0h2m2 0h1m28 0h1m2 0h1m14 0h1m25 0h1m13 0h1m39 0h1m6 0h1m25 0h1m14 0h1m86 0h1m20 0h1M68 16.5h1m42 0h2m4 0h1m8 0h1m12 0h1m10 0h1m12 0h1m4 0h1m4 0h1m1 0h1m23 0h1m18 0h1m11 0h1m5 0h1m15 0h1m15 0h1m42 0h1m6 0h1m9 0h1m2 0h3m3 0h1m21 0h2m23 0h1m1 0h1m7 0h1m6 0h1m22 0h1m13 0h1m6 0h1m3 0h1m34 0h1m26 0h1m41 0h1M66 17.5h1m23 0h1m2 0h2m4 0h1m6 0h1m1 0h1m3 0h1m7 0h1m21 0h1m7 0h1m13 0h1m20 0h1m7 0h1m4 0h1m11 0h1m9 0h1m24 0h1m9 0h1m22 0h2m9 0h1m9 0h1m1 0h1m23 0h1m1 0h1m5 0h1m3 0h1m5 0h1m28 0h1m11 0h1m9 0h1m3 0h1m17 0h1m5 0h1m23 0h1m5 0h1m37 0h1m13 0h1m10 0h1m40 0h1M71 18.5h2m9 0h1m8 0h1m4 0h1m9 0h1m25 0h2m28 0h1m6 0h1m7 0h2m17 0h1m4 0h1m4 0h1m2 0h1m46 0h1m26 0h1m4 0h1m2 0h1m2 0h1m4 0h1m8 0h1m2 0h1m19 0h1m8 0h1m12 0h1m21 0h1m4 0h1m30 0h1m10 0h1m1 0h1m1 0h1m12 0h1m57 0h2m54 0h1m3 0h1M72 19.5h1m3 0h1m3 0h1m5 0h1m4 0h1m32 0h1m14 0h1m15 0h1m10 0h1m2 0h1m1 0h1m3 0h1m5 0h1m7 0h1m8 0h1m18 0h2m3 0h1m7 0h1m4 0h1m7 0h1m4 0h1m10 0h1m15 0h1m1 0h1m10 0h1m5 0h3m23 0h1m7 0h1m4 0h1m2 0h2m45 0h2m1 0h1m24 0h1m4 0h1m7 0h1m10 0h1m62 0h1m8 0h1m2 0h1m41 0h1M73 20.5h1m3 0h1m13 0h1m3 0h1m10 0h3m4 0h1m1 0h1m7 0h1m15 0h1m3 0h1m3 0h1m3 0h1m1 0h1m4 0h1m10 0h1m5 0h1m32 0h1m9 0h1m8 0h1m6 0h4m1 0h1m6 0h1m22 0h2m1 0h1m1 0h1m19 0h1m7 0h1m48 0h1m1 0h1m2 0h1m3 0h1m4 0h1m6 0h1m25 0h1m2 0h1m24 0h1m3 0h1m31 0h1m21 0h1m71 0h1m3 0h1M67 21.5h1m9 0h1m21 0h1m3 0h1m1 0h1m16 0h1m6 0h1m3 0h1m10 0h1m10 0h1m9 0h2m3 0h1m2 0h1m11 0h1m11 0h1m13 0h1m6 0h1m14 0h2m35 0h1m3 0h1m1 0h1m7 0h1m13 0h1m9 0h1m1 0h1m14 0h1m21 0h1m9 0h1m5 0h1m30 0h1m19 0h1m9 0h1m4 0h1m5 0h1m9 0h1m20 0h1m37 0h1m28 0h1m56 0h1M105 22.5h1m23 0h1m2 0h1m7 0h1m9 0h1m6 0h1m6 0h1m2 0h1m20 0h1m1 0h1m9 0h1m4 0h1m4 0h1m7 0h1m6 0h1m9 0h1m10 0h1m11 0h1m13 0h1m3 0h1m11 0h1m21 0h1m17 0h1m24 0h1m25 0h1m17 0h1m2 0h1m91 0h1m16 0h1M67 23.5h2m3 0h1m18 0h1m7 0h1m12 0h1m9 0h1m21 0h1m12 0h1m6 0h1m35 0h1m3 0h1m1 0h1m4 0h1m1 0h1m32 0h1m20 0h1m4 0h1m3 0h1m24 0h2m12 0h1m15 0h2m6 0h1m7 0h1m9 0h1m14 0h1m28 0h1m2 0h1m6 0h1m18 0h1m20 0h1m14 0h1m33 0h1M69 24.5h1m1 0h1m2 0h1m17 0h1m8 0h1m1 0h1m22 0h1m24 0h1m3 0h1m16 0h1m5 0h1m5 0h2m14 0h2m4 0h1m18 0h2m4 0h1m3 0h1m22 0h1m5 0h1m11 0h1m6 0h1m5 0h1m20 0h1m17 0h1m13 0h1m14 0h1m2 0h1m24 0h2m28 0h1m5 0h2m19 0h1m47 0h1m6 0h1m47 0h2m5 0h1M80 25.5h1m9 0h1m1 0h1m26 0h1m4 0h1m1 0h1m6 0h1m5 0h1m22 0h1m10 0h1m1 0h1m5 0h1m3 0h1m4 0h1m12 0h1m8 0h1m5 0h1m1 0h1m7 0h1m4 0h1m1 0h1m2 0h1m2 0h1m1 0h1m29 0h2m4 0h1m31 0h1m30 0h1m10 0h1m13 0h1m6 0h1m7 0h4m36 0h1m12 0h1m2 0h1m15 0h1m6 0h1m91 0h1m2 0h1m35 0h1M67 26.5h2m1 0h1m41 0h1m42 0h1m16 0h1m2 0h1m4 0h1m24 0h1m7 0h1m4 0h1m4 0h1m1 0h1m4 0h1m3 0h1m22 0h1m17 0h1m7 0h1m17 0h1m14 0h1m3 0h1m6 0h1m9 0h1m21 0h1m3 0h1m19 0h1m116 0h1m3 0h1m2 0h1m48 0h1M90 27.5h1m44 0h1m6 0h1m1 0h1m1 0h1m3 0h2m5 0h1m42 0h1m10 0h1m5 0h1m19 0h1m21 0h1m10 0h1m20 0h2m3 0h1m7 0h1m22 0h2m3 0h1m29 0h1m19 0h1m3 0h1m5 0h1m8 0h1m14 0h1m11 0h1m16 0h1m43 0h1m48 0h1m1 0h1m19 0h1M72 28.5h1m18 0h1m2 0h1m2 0h1m4 0h2m36 0h1m3 0h1m2 0h1m11 0h1m4 0h1m40 0h1m16 0h1m13 0h1m6 0h1m7 0h1m7 0h1m42 0h1m4 0h1m7 0h1m1 0h1m10 0h2m19 0h1m3 0h1m6 0h2m32 0h1m3 0h1m40 0h1m6 0h1m7 0h1m11 0h1m33 0h1m3 0h1m40 0h1m10 0h1m15 0h1m17 0h1M74 29.5h1m7 0h1m3 0h1m4 0h1m2 0h1m1 0h1m10 0h1m4 0h2m8 0h1m10 0h1m5 0h1m13 0h1m2 0h2m2 0h1m3 0h1m12 0h2m5 0h1m21 0h1m16 0h1m7 0h1m1 0h1m4 0h1m11 0h1m6 0h1m14 0h1m1 0h2m12 0h2m1 0h1m15 0h2m1 0h1m3 0h1m6 0h1m5 0h1m21 0h1m22 0h1m1 0h2m1 0h1m20 0h1M108 30.5h1m26 0h1m14 0h2m15 0h1m34 0h1m14 0h1m14 0h1m3 0h1m1 0h1m16 0h1m1 0h1m17 0h1m8 0h1m5 0h2m43 0h1m15 0h1m1 0h1m7 0h1m1 0h1m15 0h1m16 0h1m25 0h1m4 0h1m121 0h1M68 31.5h1m2 0h1m6 0h1m27 0h2m7 0h1m17 0h1m3 0h1m12 0h1m4 0h1m2 0h1m14 0h1m8 0h1m10 0h1m14 0h1m7 0h1m13 0h1m4 0h1m10 0h1m3 0h1m1 0h1m23 0h1m24 0h1m13 0h1m16 0h1m6 0h1m32 0h1m4 0h1m6 0h1m57 0h1m9 0h1m3 0h1m47 0h1m10 0h1m29 0h1m7 0h1M72 32.5h1m18 0h1m3 0h1m11 0h1m3 0h1m3 0h1m3 0h1m20 0h1m3 0h1m1 0h1m3 0h1m2 0h1m10 0h1m3 0h1m1 0h1m2 0h1m11 0h1m11 0h1m2 0h2m20 0h1m8 0h1m1 0h1m21 0h1m17 0h1m17 0h1m10 0h1m33 0h1m6 0h1m15 0h1m5 0h1m11 0h1m6 0h2m42 0h1m63 0h1m4 0h1m27 0h1M72 33.5h1m1 0h1m3 0h1m1 0h1m1 0h1m11 0h1m6 0h1m5 0h1m11 0h2m2 0h1m2 0h1m14 0h1m2 0h1m8 0h1m14 0h1m19 0h1m1 0h1m17 0h1m11 0h1m4 0h1m5 0h2m3 0h2m12 0h1m4 0h1m11 0h1m8 0h1m25 0h1m17 0h1m7 0h1m10 0h1m12 0h1m31 0h1m7 0h1m5 0h1m67 0h1m18 0h1m14 0h1m3 0h1m67 0h1m17 0h1"/><path stroke="#EDCACA" d="M73 0.5h1m11 0h1m11 0h1m65 0h1m63 0h1m57 0h1m5 0h1m61 0h1m11 0h2m33 0h1m3 0h2m28 0h1m27 0h1m16 0h1m15 0h2m15 0h2m4 0h1m2 0h1m15 0h1m7 0h1m1 0h1m11 0h1m1 0h1m4 0h1M89 1.5h1m101 0h1m4 0h1m10 0h1m24 0h1m30 0h2m2 0h1m4 0h1m30 0h1m14 0h1m3 0h1m31 0h1m5 0h1m8 0h1m10 0h2m4 0h1m13 0h1m37 0h1m1 0h1m11 0h1m4 0h1m4 0h1m8 0h1m6 0h1m3 0h1m5 0h1m15 0h2m7 0h1m6 0h2m1 0h1m5 0h1m12 0h1m9 0h1m21 0h1m2 0h1m1 0h1M230 2.5h1m7 0h1m40 0h1m72 0h1m1 0h1m14 0h1m48 0h1m5 0h1m22 0h1m16 0h1m19 0h1m11 0h1m9 0h1m1 0h1m4 0h1m6 0h1m6 0h1m16 0h1m12 0h1M239 3.5h1m20 0h1m6 0h1m3 0h1m18 0h2m28 0h1m5 0h1m3 0h2m5 0h1m17 0h1m3 0h1m21 0h1m10 0h1m8 0h1m12 0h1m13 0h1m9 0h1m13 0h3m1 0h1m1 0h2m3 0h1m8 0h2m8 0h1m1 0h1m7 0h1m3 0h1m16 0h2m2 0h4m1 0h1m7 0h1m6 0h2m1 0h1m1 0h1m11 0h1m1 0h2m2 0h2m4 0h2m2 0h1m7 0h1m1 0h1m4 0h1m4 0h1m4 0h1m2 0h1M135 4.5h1m68 0h1m45 0h1m14 0h1m36 0h1m17 0h1m2 0h1m1 0h1m6 0h1m28 0h1m3 0h1m4 0h2m17 0h1m2 0h1m3 0h1m6 0h1m3 0h1m8 0h1m15 0h1m11 0h1m8 0h1m6 0h1m1 0h2m2 0h1m6 0h1m1 0h1m7 0h1m5 0h2m2 0h1m7 0h1m11 0h1m16 0h1m6 0h1m4 0h1m7 0h1m17 0h1m1 0h1m10 0h1m3 0h1m6 0h1m2 0h2M85 5.5h1m57 0h1m155 0h2m21 0h1m19 0h2m15 0h1m1 0h1m3 0h1m14 0h1m13 0h1m31 0h1m7 0h2m4 0h1m5 0h1m8 0h1m1 0h1m1 0h1m3 0h1m2 0h1m30 0h1m2 0h1m12 0h1m6 0h1m4 0h2m7 0h1m12 0h1m9 0h2m11 0h2m1 0h1m1 0h1m3 0h1m13 0h1M124 6.5h1m42 0h1m78 0h1m50 0h1m39 0h1m22 0h1m14 0h1m35 0h1m14 0h1m4 0h2m2 0h1m1 0h1m2 0h1m12 0h1m4 0h1m21 0h2m8 0h1m6 0h1m4 0h1m2 0h1m14 0h2m7 0h3m2 0h1m1 0h1m23 0h1m3 0h1m3 0h1m2 0h3m11 0h1m4 0h1m2 0h1m2 0h1M195 7.5h1m25 0h1m30 0h1m31 0h1M74 8.5h1m50 0h1m157 0h1m113 0h1m44 0h1m28 0h1m103 0h1M218 9.5h1m95 0h1m38 0h1m14 0h1m221 0h1M223 10.5h1m72 0h1m216 0h1m2 0h1m8 0h2m21 0h2m7 0h1m23 0h1m4 0h1M288 11.5h1m49 0h1m6 0h1m122 0h1m37 0h1m3 0h1m27 0h1m16 0h1m7 0h1m7 0h1M180 12.5h1m127 0h1m50 0h1m120 0h1m51 0h1m22 0h2m33 0h2m6 0h1M67 13.5h1m10 0h1m8 0h1m29 0h1m43 0h1m48 0h1m9 0h1m13 0h1m15 0h1m5 0h1m105 0h1m27 0h2m12 0h1m5 0h1m1 0h1m43 0h1M83 14.5h1m46 0h1m56 0h1m4 0h1m26 0h1m33 0h1m17 0h1m41 0h1m18 0h1m2 0h1m54 0h1m8 0h1m1 0h2m3 0h1m22 0h1m4 0h1m15 0h2m3 0h1m1 0h1m1 0h1m1 0h1m1 0h1m6 0h1m3 0h1m2 0h1m1 0h1m3 0h1m35 0h1m2 0h1m1 0h1m1 0h2m4 0h1m16 0h1m13 0h1m5 0h1m10 0h1m4 0h1m4 0h1m5 0h2M8 15.5h1m6 0h1m5 0h1m13 0h1m11 0h1m3 0h2m10 0h1m1 0h1m13 0h1m54 0h1m33 0h1m24 0h1m4 0h1m4 0h1m9 0h1m15 0h1m14 0h1m46 0h1m14 0h1m84 0h1m10 0h1m1 0h1m24 0h1m55 0h1M66 16.5h2m4 0h2m26 0h1m1 0h1m4 0h1m11 0h1m3 0h1m18 0h1m1 0h1m2 0h1m19 0h1m2 0h1m1 0h1m17 0h1m15 0h1m30 0h2m16 0h1m5 0h1m37 0h1m2 0h1m7 0h1m16 0h1m8 0h1m16 0h1m11 0h1m31 0h1m68 0h1M67 17.5h1m9 0h1m45 0h1m20 0h1m6 0h1m5 0h1m9 0h1m4 0h1m4 0h1m21 0h1m2 0h1m3 0h1m4 0h1m13 0h1m11 0h1m1 0h1m18 0h1m32 0h1m36 0h1m5 0h1m18 0h1m57 0h1M66 18.5h1m7 0h1m17 0h1m27 0h1m1 0h1m16 0h1m7 0h1m5 0h1m6 0h1m9 0h1m2 0h1m19 0h1m3 0h1m4 0h1m2 0h1m11 0h1m19 0h1m12 0h1m7 0h1m13 0h1m59 0h1m39 0h1m79 0h1m38 0h1m18 0h1m22 0h1m2 0h1m24 0h1m10 0h1M71 19.5h1m5 0h1m7 0h1m6 0h1m1 0h1m1 0h1m22 0h1m33 0h1m23 0h1m7 0h1m4 0h1m11 0h1m3 0h1m1 0h1m2 0h1m11 0h1m34 0h1m58 0h1m14 0h1m47 0h2m63 0h1m54 0h1m35 0h1m23 0h1M94 20.5h1m2 0h1m1 0h1m19 0h1m15 0h1m4 0h1m25 0h1m11 0h1m9 0h1m12 0h1m29 0h1m44 0h1m11 0h1m48 0h1m4 0h1m95 0h1m13 0h1m54 0h1m45 0h1M74 21.5h1m1 0h1m3 0h1m11 0h1m13 0h1m17 0h1m26 0h1m1 0h1m14 0h2m2 0h1m4 0h1m20 0h1m3 0h1m16 0h2m4 0h1m6 0h1m40 0h1m1 0h1m59 0h1m1 0h1m22 0h1m36 0h1m3 0h1m20 0h1m19 0h1m47 0h1m62 0h1M69 22.5h1m7 0h1m4 0h1m7 0h1m10 0h1m5 0h2m11 0h1m23 0h1m24 0h1m15 0h1m11 0h1m3 0h1m6 0h1m13 0h2m7 0h1m4 0h1m8 0h1m7 0h1m16 0h1m6 0h1m24 0h1m5 0h1m27 0h1m74 0h1m12 0h1m9 0h1m72 0h1M71 23.5h1m10 0h1m3 0h1m15 0h1m32 0h1m2 0h2m7 0h1m24 0h1m28 0h1m16 0h1m4 0h1m1 0h1m4 0h1m5 0h2m57 0h1m20 0h1m1 0h1m8 0h1m5 0h1m2 0h1m6 0h1m5 0h1m3 0h1m6 0h1m109 0h1m21 0h1m40 0h1M66 24.5h1m5 0h1m3 0h1m1 0h1m12 0h1m8 0h1m39 0h1m6 0h1m2 0h1m13 0h2m11 0h1m15 0h1m8 0h1m2 0h1m14 0h1m1 0h1m47 0h1m23 0h1m25 0h1m22 0h1m19 0h1m37 0h1m131 0h1M71 25.5h1m1 0h1m29 0h1m18 0h2m20 0h1m22 0h1m4 0h1m25 0h1m1 0h1m9 0h1m19 0h1m3 0h1m2 0h1m72 0h1m36 0h1m31 0h1m21 0h1m43 0h1m58 0h1m20 0h1M73 26.5h1m29 0h1m1 0h1m17 0h1m9 0h1m10 0h1m2 0h1m2 0h1m9 0h1m8 0h1m11 0h1m24 0h1m24 0h1m5 0h1m23 0h1m6 0h1m22 0h1m26 0h1m14 0h1m1 0h1m3 0h1m32 0h1m24 0h1m18 0h1m17 0h1m7 0h1m93 0h1m16 0h1M67 27.5h1m1 0h1m1 0h1m1 0h1m1 0h1m3 0h1m5 0h1m7 0h1m1 0h2m16 0h1m3 0h1m1 0h1m2 0h1m3 0h1m4 0h2m8 0h1m30 0h1m12 0h1m7 0h2m11 0h1m2 0h1m42 0h1m2 0h1m2 0h1m15 0h1m24 0h1m2 0h1m5 0h1m26 0h1m43 0h1m18 0h1m61 0h1m19 0h1m36 0h1M66 28.5h1m1 0h1m2 0h1m1 0h1m4 0h1m21 0h2m5 0h1m4 0h2m3 0h1m4 0h2m2 0h1m4 0h1m5 0h1m29 0h1m5 0h1m11 0h1m12 0h2m2 0h1m7 0h1m9 0h1m2 0h1m10 0h2m2 0h1m13 0h1m5 0h1m16 0h1m2 0h1m20 0h1m11 0h1m15 0h1m5 0h1m38 0h1M72 29.5h1m25 0h1m4 0h1m1 0h1m13 0h1m3 0h1m2 0h1m24 0h1m20 0h1m27 0h1m21 0h1m11 0h1m1 0h2m61 0h1m18 0h1m126 0h1m51 0h1m6 0h1m12 0h1m27 0h1m6 0h1M66 30.5h1m13 0h1m6 0h1m2 0h1m2 0h1m18 0h1m19 0h1m9 0h1m4 0h1m7 0h1m9 0h1m17 0h1m4 0h1m1 0h1m2 0h1m4 0h2m6 0h1m3 0h1m9 0h1m9 0h1m43 0h1m24 0h1m11 0h1m2 0h1m13 0h1m4 0h1m2 0h1m60 0h2M73 31.5h2m4 0h1m2 0h1m2 0h1m12 0h1m14 0h1m3 0h1m4 0h2m2 0h1m5 0h1m11 0h1m8 0h1m3 0h1m8 0h1m3 0h1m4 0h1m2 0h1m6 0h1m3 0h1m12 0h1m7 0h1m9 0h1m16 0h2m16 0h1m19 0h1m23 0h1m2 0h1m4 0h1m9 0h1m2 0h1m21 0h1m43 0h1M67 32.5h1m3 0h1m3 0h1m17 0h2m8 0h1m4 0h1m4 0h1m3 0h1m5 0h1m23 0h1m3 0h1m3 0h1m13 0h1m1 0h1m5 0h1m21 0h1m5 0h1m2 0h1m1 0h1m2 0h1m6 0h1m7 0h1m6 0h1m2 0h1m19 0h1m29 0h1m21 0h1m17 0h1m13 0h1m18 0h1m8 0h1m45 0h1m5 0h1m2 0h1m19 0h1m14 0h1m37 0h1m5 0h1M95 33.5h1m6 0h1m2 0h1m6 0h1m9 0h1m4 0h2m3 0h1m2 0h1m1 0h1m28 0h1m10 0h1m7 0h1m20 0h1m3 0h1m2 0h1m10 0h1m10 0h1m36 0h1m21 0h1m37 0h2m19 0h1m2 0h1m4 0h1m62 0h1m72 0h1"/><path stroke="#E9C0C0" d="M231 0.5h1m95 0h1m1 0h1m24 0h1m2 0h1m14 0h1m38 0h1m5 0h1m8 0h1m2 0h1m29 0h1m5 0h1m3 0h1m24 0h1m6 0h1m1 0h1m6 0h1m29 0h1m2 0h1m10 0h1m9 0h1m15 0h1M101 1.5h1m97 0h1m114 0h1m4 0h1m24 0h1m49 0h1m10 0h1m21 0h1m17 0h1m9 0h1m11 0h1m5 0h1m3 0h1m13 0h1m38 0h2m4 0h1m14 0h1m2 0h1m38 0h1m1 0h1M330 2.5h1m16 0h1m32 0h1m54 0h1m5 0h1m6 0h1m11 0h1m36 0h1m43 0h1m19 0h1m15 0h1M123 3.5h1m86 0h1m112 0h1m41 0h1m5 0h1m13 0h1m1 0h3m4 0h1m4 0h1m20 0h2m18 0h1m4 0h1m2 0h1m6 0h1m1 0h1m6 0h1m9 0h1m3 0h1m7 0h1m12 0h1m1 0h1m13 0h2m14 0h1m11 0h2m23 0h1m8 0h1m5 0h1m13 0h1m1 0h1M210 4.5h1m49 0h1m21 0h1m7 0h1m40 0h1m9 0h1m11 0h1m13 0h1m16 0h1m8 0h1m12 0h1m10 0h1m2 0h1m7 0h1m11 0h1m4 0h1m8 0h1m17 0h1m5 0h1m5 0h1m12 0h1m4 0h1m1 0h1m26 0h1m4 0h1m36 0h1m13 0h1M145 5.5h1m105 0h1m49 0h1m29 0h1m6 0h1m6 0h1m25 0h1m10 0h1m8 0h2m5 0h1m59 0h1m5 0h1m8 0h1m13 0h1m11 0h1m1 0h1m2 0h1m11 0h1m1 0h1m11 0h2m11 0h1m4 0h1m6 0h2m34 0h1m4 0h1M227 6.5h1m32 0h1m53 0h1m2 0h1m2 0h1m9 0h1m7 0h1m7 0h1m24 0h1m31 0h1m13 0h1m2 0h1m21 0h1m2 0h1m9 0h2m6 0h2m19 0h1m7 0h1m8 0h1m23 0h2m11 0h1m9 0h1m8 0h1m9 0h1m1 0h1m9 0h1m11 0h1M81 7.5h1m80 0h1m62 0h1m154 0h1m15 0h1m48 0h1m82 0h1m11 0h1m4 0h1m1 0h1m3 0h1m21 0h1m15 0h1M98 8.5h1m88 0h1m92 0h1m109 0h1m54 0h1m32 0h1m1 0h1m58 0h1m13 0h1m35 0h1m3 0h1M392 9.5h1m141 0h1m10 0h1m18 0h1m14 0h1M331 10.5h1m144 0h1m21 0h1m52 0h1m15 0h1m31 0h1M400 11.5h1m44 0h1m25 0h1m46 0h1m27 0h1m10 0h1m1 0h1m2 0h1M341 12.5h1m94 0h1m48 0h1m19 0h1m1 0h1m15 0h1m18 0h1m29 0h1m9 0h1m6 0h1M70 13.5h1m1 0h1m9 0h1m5 0h1m25 0h1m53 0h1m1 0h1m2 0h1m11 0h1m9 0h1m58 0h1m121 0h1m16 0h1M121 14.5h1m43 0h1m11 0h1m33 0h1m80 0h1m23 0h1m28 0h1m11 0h1m21 0h1m6 0h1m4 0h1m18 0h1m1 0h1m7 0h1m10 0h1m7 0h1m29 0h1m35 0h1m2 0h2m5 0h1m9 0h1m2 0h2m6 0h1m31 0h1m13 0h1m11 0h1M6 15.5h1m4 0h1m30 0h1m3 0h1m1 0h1m9 0h1m14 0h1m47 0h1m54 0h1m29 0h1m53 0h1m7 0h1m29 0h1m3 0h1m84 0h1M69 16.5h1m10 0h1m5 0h1m4 0h3m4 0h1m6 0h1m14 0h1m1 0h1m9 0h1m24 0h1m20 0h1m9 0h1m5 0h1m6 0h1m21 0h1m137 0h1M69 17.5h1m3 0h1m8 0h1m34 0h1m8 0h1m5 0h1m4 0h1m9 0h1m18 0h1m46 0h1m10 0h1m9 0h1m142 0h1m67 0h1M67 18.5h1m1 0h1m10 0h1m13 0h1m3 0h1m6 0h1m25 0h1m36 0h1m31 0h1m22 0h1m50 0h1m2 0h1m32 0h1m9 0h1m22 0h1m12 0h1m29 0h1m10 0h1m18 0h1M84 19.5h1m2 0h1m5 0h1m4 0h1m4 0h1m2 0h1m13 0h1m10 0h1m8 0h1m37 0h1m15 0h1m4 0h1m1 0h1m70 0h1m11 0h1m14 0h1m53 0h1m7 0h1m10 0h1m69 0h1m47 0h1M79 20.5h1m12 0h1m10 0h1m20 0h1m1 0h1m4 0h1m12 0h1m40 0h1m13 0h2m5 0h1m3 0h1m27 0h1m60 0h1m28 0h1m3 0h1m2 0h1m7 0h1m17 0h1m30 0h1m23 0h1m2 0h1M68 21.5h2m16 0h1m9 0h1m4 0h1m35 0h1m4 0h1m4 0h1m2 0h1m5 0h1m21 0h1m11 0h1m9 0h2m11 0h1m10 0h1m33 0h1m35 0h1m7 0h1m24 0h2m27 0h1m2 0h1m56 0h1m8 0h1M66 22.5h1m6 0h1m13 0h1m6 0h1m4 0h1m3 0h1m27 0h1m6 0h1m8 0h1m29 0h1m5 0h1m50 0h1m3 0h1m52 0h1m7 0h1m20 0h1m51 0h1m138 0h1M66 23.5h1m2 0h1m9 0h1m16 0h1m6 0h1m13 0h1m5 0h2m12 0h1m12 0h1m42 0h1m5 0h1m20 0h1m37 0h1m52 0h1m23 0h1m23 0h1m24 0h1m13 0h1M73 24.5h1m12 0h2m5 0h1m23 0h1m5 0h1m14 0h1m14 0h1m21 0h1m18 0h1m2 0h2m9 0h1m14 0h1m31 0h1m76 0h1m1 0h1m18 0h1m16 0h1m13 0h1m7 0h1m4 0h1m19 0h1M98 25.5h1m6 0h1m51 0h1m30 0h1m17 0h1m57 0h1m29 0h1m4 0h1m34 0h1m26 0h1m10 0h1m25 0h1M69 26.5h1m1 0h1m20 0h1m6 0h1m37 0h1m10 0h1m4 0h1m24 0h1m20 0h1m36 0h1m13 0h1m4 0h1m28 0h1m13 0h2m32 0h1m20 0h1m44 0h1m12 0h1m10 0h1M92 27.5h1m1 0h1m4 0h1m33 0h1m6 0h1m43 0h1m38 0h1m113 0h1m15 0h1M77 28.5h1m2 0h1m1 0h1m4 0h1m2 0h1m1 0h1m12 0h1m2 0h1m11 0h1m3 0h1m31 0h2m17 0h1m2 0h1m14 0h1m3 0h1m2 0h1m24 0h1m5 0h1m56 0h1m21 0h1m23 0h1m8 0h1m12 0h1m22 0h1m4 0h1m29 0h1M66 29.5h1m4 0h1m15 0h1m2 0h1m2 0h1m26 0h1m3 0h1m19 0h1m21 0h1m2 0h1m23 0h1m4 0h1m9 0h1m2 0h1m31 0h1m99 0h1m9 0h1m3 0h1m26 0h1m1 0h1m29 0h1m5 0h1M67 30.5h1m3 0h1m1 0h1m3 0h1m21 0h1m3 0h1m18 0h1m1 0h1m13 0h1m23 0h1m7 0h1m6 0h2m15 0h1m10 0h1m2 0h1m2 0h1m25 0h1m12 0h1m22 0h1m14 0h1m19 0h1m18 0h1m6 0h1m21 0h1m13 0h1m13 0h1m7 0h1m52 0h1M67 31.5h1m1 0h1m38 0h1m30 0h1m29 0h1m7 0h1m20 0h1m2 0h1m11 0h1m44 0h1m30 0h1m4 0h1m42 0h1m18 0h1m4 0h1m23 0h1M74 32.5h1m9 0h1m5 0h1m7 0h1m2 0h1m3 0h1m36 0h1m23 0h2m4 0h1m5 0h1m19 0h1m35 0h1m16 0h1m47 0h1m32 0h1m23 0h1m41 0h1m25 0h1M96 33.5h1m1 0h2m47 0h1m30 0h1m18 0h4m1 0h1m70 0h1m61 0h1m23 0h2m25 0h1m7 0h1m158 0h1"/><path stroke="#E5B5B5" d="M325 0.5h1m47 0h1m29 0h1m31 0h2m38 0h1m4 0h1m18 0h1m5 0h1m2 0h1m10 0h1m19 0h1m16 0h2m28 0h1M175 1.5h1m192 0h1m18 0h1m16 0h1m15 0h1m49 0h1m19 0h1m56 0h1m8 0h1m1 0h1M233 2.5h1m229 0h1m11 0h1m15 0h1m64 0h1m18 0h1M188 3.5h1m125 0h1m26 0h1m3 0h1m38 0h1m5 0h1m16 0h1m19 0h1m16 0h1m2 0h1m18 0h1m2 0h1m5 0h1m7 0h1m19 0h1m21 0h1m7 0h1m14 0h1m15 0h1m6 0h1m1 0h1m13 0h1M160 4.5h1m176 0h2m16 0h1m19 0h1m7 0h1m30 0h1m15 0h1m17 0h1m3 0h1m4 0h1m76 0h1m19 0h1m8 0h1m7 0h1m11 0h1m4 0h1m5 0h1M302 5.5h1m17 0h1m16 0h1m52 0h1m23 0h1m8 0h1m14 0h1m47 0h1m9 0h1m6 0h1m48 0h1m11 0h1m11 0h1m8 0h2m10 0h1m1 0h1M204 6.5h1m46 0h1m19 0h1m49 0h1m19 0h1m13 0h1m5 0h1m20 0h1m1 0h1m63 0h1m23 0h1m1 0h2m20 0h1m17 0h1m18 0h1m20 0h1m44 0h1M72 7.5h1m74 0h1m33 0h1m22 0h1m10 0h1m174 0h1m1 0h1m64 0h1m31 0h1m3 0h1m21 0h1m5 0h1m7 0h1m2 0h1m22 0h2m11 0h1m5 0h1M66 8.5h1m63 0h1m16 0h1m6 0h1m237 0h1m122 0h1m12 0h1m38 0h1m26 0h1m4 0h1M68 9.5h1m37 0h1m57 0h1m60 0h1m154 0h1m95 0h1m56 0h1m3 0h1m15 0h1m14 0h1m24 0h1M77 10.5h1m73 0h1m4 0h1m73 0h1m73 0h1m34 0h1m52 0h1m50 0h1m15 0h1m70 0h1m6 0h1m32 0h1m6 0h1m4 0h1M70 11.5h1m16 0h1m167 0h1m20 0h1m89 0h1m68 0h1m4 0h1m68 0h1m14 0h1m11 0h1m6 0h1m47 0h1m3 0h1M219 12.5h1m22 0h1m41 0h1m32 0h1m120 0h2m7 0h1m10 0h1m7 0h1m34 0h1m34 0h1m8 0h1m18 0h1m3 0h1M68 13.5h1m23 0h1m10 0h1m19 0h1m6 0h1m23 0h1m16 0h1m25 0h2m34 0h1m163 0h1M339 14.5h1m30 0h1m32 0h1m32 0h1m10 0h1m63 0h1m2 0h1m33 0h1m1 0h1m4 0h1m4 0h1m14 0h1m10 0h1M57 15.5h1m36 0h1m291 0h1M71 16.5h1m24 0h1m34 0h1m53 0h1m12 0h1m3 0h1m153 0h1M79 17.5h1m16 0h1m1 0h1m39 0h1m91 0h2M75 18.5h1m23 0h1m23 0h1m16 0h1m16 0h1m36 0h1m3 0h2m75 0h1m58 0h1m2 0h1m1 0h1m105 0h1M69 19.5h1m29 0h1m5 0h1m31 0h1m55 0h1m16 0h1m13 0h1m12 0h1m64 0h1m40 0h1m15 0h1M69 20.5h1m10 0h1m1 0h1m1 0h1m2 0h1m5 0h1m2 0h1m8 0h1m11 0h1m2 0h1m72 0h1m8 0h1m10 0h1m59 0h1m44 0h1m51 0h1M66 21.5h1m8 0h1m3 0h1m7 0h1m31 0h1m37 0h1m41 0h1m8 0h1m288 0h1M71 22.5h1m3 0h1m16 0h1m24 0h1m75 0h1m4 0h1m3 0h1m8 0h1m1 0h1m10 0h1m7 0h1m41 0h1m67 0h1m17 0h1m9 0h1M87 23.5h1m6 0h2m72 0h1m16 0h1m24 0h1m131 0h1m27 0h1M80 24.5h1m1 0h1m37 0h1m48 0h1m20 0h1m8 0h1m10 0h1m23 0h1m38 0h1m25 0h1m56 0h1m15 0h1m73 0h1m57 0h1M69 25.5h1m67 0h1m40 0h1m14 0h1m5 0h1m2 0h1m28 0h1m111 0h1m12 0h1m35 0h1m23 0h1m155 0h1M80 26.5h1m3 0h1m2 0h1m10 0h1m9 0h1m61 0h1m14 0h1m7 0h1m26 0h1m67 0h1m5 0h1m47 0h1m13 0h1M66 27.5h1m15 0h1m4 0h1m10 0h1m9 0h1m29 0h1m30 0h1m10 0h1m21 0h1m133 0h1m19 0h1M67 28.5h1m1 0h1m9 0h1m13 0h1m2 0h1m1 0h1m51 0h1m21 0h1m21 0h1m11 0h1m6 0h1m121 0h2m216 0h1M69 29.5h1m10 0h1m11 0h1m7 0h1m16 0h1m13 0h1m58 0h1m10 0h2m91 0h1m33 0h1m7 0h1m5 0h1M169 30.5h1m2 0h1m12 0h1m45 0h1m321 0h1M66 31.5h1m20 0h1m4 0h3m1 0h1m6 0h1m34 0h1m8 0h1m86 0h1m93 0h1m6 0h1m7 0h1m78 0h1M92 32.5h1m6 0h1m22 0h1m14 0h1m55 0h1m29 0h1m26 0h1m43 0h1m91 0h1M66 33.5h1m6 0h1m1 0h1m8 0h1m7 0h1m10 0h1m9 0h1m58 0h1m61 0h1m23 0h1m75 0h1m107 0h1"/><path stroke="#E2AAAA" d="M187 0.5h1m62 0h1m39 0h1m3 0h1m126 0h1m8 0h1m22 0h1m10 0h1m59 0h1m56 0h1M309 1.5h1m112 0h1m19 0h1m18 0h1m55 0h1m9 0h1M365 2.5h1m134 0h1m67 0h1M460 3.5h1m28 0h1m46 0h1m10 0h1m38 0h1m4 0h1m2 0h1M438 4.5h1m7 0h1m3 0h1m18 0h1m22 0h1m1 0h1m8 0h1m15 0h1m70 0h2M317 5.5h1m52 0h1m4 0h1m8 0h1m22 0h1m19 0h1m22 0h1m11 0h1m6 0h1m19 0h1m2 0h1m1 0h1m33 0h1m58 0h1M302 6.5h1m67 0h1m18 0h1m10 0h1m15 0h1m35 0h1m16 0h1m24 0h1m8 0h1m24 0h1m26 0h1m3 0h1m6 0h1m3 0h1M154 7.5h1m34 0h1m27 0h1m24 0h1m104 0h1m114 0h1m36 0h1m17 0h1m6 0h1m37 0h1m28 0h2M136 8.5h1m25 0h1m31 0h1m105 0h1m121 0h2m52 0h1m41 0h1m5 0h1m6 0h1m2 0h1m16 0h1m3 0h1m6 0h1m21 0h1M97 9.5h1m49 0h1m69 0h1m205 0h1m39 0h1m8 0h1m7 0h1m29 0h1m40 0h1m4 0h1m2 0h1M70 10.5h1m25 0h1m45 0h1m262 0h1m17 0h1m37 0h1m25 0h1m4 0h1m13 0h1m3 0h1m23 0h1m24 0h1M202 11.5h1m248 0h1m23 0h2m5 0h1m13 0h1m23 0h1m8 0h1m60 0h1M120 12.5h1m209 0h1m67 0h1m44 0h1m4 0h1m89 0h1m10 0h1m16 0h1M218 13.5h1m21 0h1m16 0h1m28 0h1m48 0h1M76 14.5h1m163 0h1m167 0h1m10 0h1m21 0h1m30 0h1m9 0h1m16 0h1m10 0h1m61 0h1M23 15.5h1m21 0h1M79 16.5h1m7 0h1m11 0h1m40 0h1m67 0h1m1 0h1m2 0h1m80 0h1m48 0h1M124 17.5h1m6 0h1m46 0h1m21 0h1m169 0h1M73 18.5h1m5 0h1m4 0h1m8 0h1m23 0h1m19 0h2m33 0h1m35 0h1m1 0h1m2 0h1m47 0h1m73 0h1m23 0h1m3 0h1M67 19.5h1m5 0h1m5 0h1m37 0h1m4 0h2m218 0h1M71 20.5h1m122 0h1m189 0h1M73 21.5h1m8 0h1m48 0h2m5 0h1m54 0h2m11 0h1m23 0h1m6 0h1m104 0h1m27 0h1M79 22.5h2m12 0h1m28 0h2m13 0h1m56 0h1m78 0h1m20 0h1m61 0h1m65 0h1M92 23.5h1m5 0h1m32 0h1m26 0h1m91 0h1m40 0h1m2 0h1m39 0h1m87 0h1M98 24.5h1m32 0h1m10 0h1m174 0h1m17 0h1M67 25.5h1m49 0h1m22 0h1m67 0h1m161 0h1M75 26.5h1m17 0h1m46 0h1m83 0h1m118 0h1M103 27.5h1m1 0h1m18 0h1m85 0h1m2 0h1m80 0h1m48 0h1m26 0h1m1 0h1M138 28.5h1m155 0h1M75 29.5h1m61 0h2m55 0h1m15 0h1m2 0h1m10 0h1m110 0h1m23 0h1m10 0h1m40 0h1M69 30.5h1m9 0h1m18 0h1m24 0h1m2 0h1m30 0h1m55 0h1m19 0h1m60 0h1m7 0h1m40 0h1m28 0h1M75 31.5h1m8 0h1m20 0h1m34 0h1m58 0h1m134 0h1M69 32.5h1m3 0h1m22 0h1m97 0h1m42 0h1m96 0h1m218 0h1M69 33.5h1m47 0h1m22 0h1m53 0h1m6 0h1m72 0h1m68 0h1m26 0h1"/><path stroke="#DEA0A0" d="M383 0.5h1m13 0h1m17 0h1m29 0h1m21 0h1m32 0h1m25 0h1m7 0h1m18 0h1M408 1.5h1m6 0h1m77 0h1m18 0h1m85 0h1M588 2.5h1M390 4.5h1m51 0h1m45 0h1m43 0h1m14 0h1m7 0h1m30 0h1M409 5.5h1m38 0h1m110 0h1m6 0h1M390 6.5h1m36 0h1m29 0h1m4 0h1m3 0h1m91 0h1m24 0h1m2 0h1M101 7.5h1m175 0h1m41 0h1m94 0h1m7 0h1m114 0h1m55 0h1m1 0h1M81 8.5h1m15 0h1m13 0h1m128 0h1m155 0h1m66 0h1m20 0h1m14 0h1m88 0h1M162 9.5h1m346 0h1m7 0h1m10 0h1m33 0h1m21 0h1m7 0h1M97 10.5h1m71 0h1m19 0h1m227 0h1m13 0h1m36 0h1m46 0h1M83 11.5h1m14 0h1m18 0h1m86 0h1m198 0h1m17 0h1m72 0h1m24 0h1m40 0h1m11 0h1m19 0h1M326 12.5h1m33 0h1m70 0h1m27 0h1m21 0h1m1 0h1m16 0h1m36 0h1m10 0h1m4 0h1m16 0h1m22 0h1m3 0h1M107 13.5h1m3 0h1m23 0h1m26 0h1m6 0h1m125 0h1m130 0h1M171 14.5h1m171 0h1m129 0h1m19 0h1m12 0h1M75 16.5h1m117 0h1m176 0h1M71 17.5h1m122 0h1M234 18.5h1m1 0h1M213 19.5h1m20 0h1m100 0h1m20 0h1m13 0h1M75 20.5h1m36 0h1m24 0h1m12 0h1m6 0h1m66 0h1m109 0h1M93 21.5h1m23 0h1m5 0h1m86 0h1M67 22.5h1m28 0h1m1 0h1m233 0h1m1 0h2M73 23.5h1m104 0h1m15 0h1m39 0h1M67 24.5h1m7 0h1m137 0h1M75 25.5h1m3 0h1m4 0h1m2 0h1m5 0h1m2 0h1m34 0h1m6 0h1m74 0h1m121 0h1M79 26.5h1m37 0h1m4 0h1m15 0h1m12 0h1m56 0h1m49 0h1m75 0h1M137 27.5h1m96 0h1M75 28.5h1m23 0h1m108 0h1m15 0h1M67 29.5h1m11 0h1m140 0h1M75 30.5h1m44 0h1m10 0h1m8 0h1M194 31.5h1m221 0h1M79 32.5h1m255 0h1m17 0h1M87 33.5h1"/><path stroke="#DA9595" d="M391 1.5h1m92 0h1m40 0h1M293 2.5h1m235 0h1M370 3.5h1m188 0h1M455 4.5h1m103 0h1m6 0h1M484 5.5h1m98 0h1m6 0h1M156 7.5h1m52 0h1m72 0h1m9 0h1m213 0h1m3 0h1M204 8.5h1m4 0h1m226 0h1m35 0h1m48 0h1m3 0h1m32 0h2M132 9.5h1m21 0h1m32 0h1m202 0h1m54 0h1m53 0h1m16 0h1m7 0h1m6 0h1m35 0h1m26 0h1M113 10.5h1m117 0h1m42 0h1m128 0h1m114 0h1m24 0h1M136 11.5h1m271 0h1m8 0h1m16 0h1m37 0h1m49 0h1m18 0h1M201 12.5h1m2 0h1m55 0h1m4 0h1m222 0h1m27 0h1m18 0h1m26 0h1M102 13.5h1M421 14.5h1m98 0h1M138 16.5h1m196 0h1M75 17.5h1m64 0h1m194 0h1M87 18.5h1m136 0h1M75 19.5h1m62 0h1m195 0h1M98 20.5h1M334 21.5h1M84 22.5h1m299 0h1M84 23.5h1m55 0h1m83 0h1M79 24.5h1m4 0h1m139 0h1M194 25.5h1m29 0h1M370 26.5h1M370 28.5h1M334 29.5h1M137 30.5h1m86 0h1m9 0h1M87 32.5h1m43 0h1m92 0h1M67 33.5h1m25 0h1m37 0h1"/><path stroke="#D68B8B" d="M551 0.5h1M325 2.5h1M497 3.5h1M420 5.5h1M587 6.5h1M97 7.5h1m30 0h1m286 0h1m1 0h1m91 0h1m74 0h1m9 0h1M71 8.5h1m192 0h1m12 0h1m86 0h1m141 0h1m38 0h1m1 0h1m8 0h1m9 0h1m12 0h1M156 9.5h1m32 0h1m206 0h1m50 0h1m9 0h1m141 0h1M293 10.5h1m79 0h1m128 0h1m59 0h1m32 0h1M216 11.5h1m100 0h1m101 0h1m66 0h1m15 0h1m18 0h1m47 0h1m12 0h1M539 12.5h1m3 0h1m55 0h1M69 13.5h1m19 0h1M84 16.5h1m52 0h1m196 0h1M294 17.5h1M255 18.5h1M138 20.5h1M84 21.5h1m258 0h1M93 23.5h1M137 24.5h1M194 26.5h1M84 27.5h1m139 0h1M84 28.5h1M84 29.5h1M96 30.5h1m20 0h1M370 31.5h1M138 32.5h1M138 33.5h1"/><path stroke="#D38080" d="M486 2.5h1m108 0h1M130 7.5h1m1 0h1m61 0h1m285 0h1m44 0h1m5 0h1m2 0h1m18 0h1m34 0h1m10 0h1M164 8.5h1m215 0h1m69 0h1m6 0h1m71 0h1m46 0h1m18 0h1M209 9.5h1m32 0h1m21 0h1m99 0h1m113 0h1m42 0h1m54 0h1m12 0h1M185 10.5h1m47 0h1m278 0h1m43 0h1m40 0h1M199 11.5h1m136 0h1m76 0h1m147 0h1m11 0h1m20 0h1M354 12.5h1m176 0h1m19 0h1M497 14.5h1M84 17.5h1M370 18.5h1M140 29.5h1M84 30.5h1M131 31.5h1M79 33.5h1"/><path stroke="#CF7676" d="M66 7.5h1m53 0h1m302 0h1m54 0h1m82 0h1m4 0h1m12 0h1M201 8.5h1m23 0h1m66 0h1m124 0h1m119 0h1M72 9.5h1m474 0h1m17 0h2M94 10.5h1m59 0h1m85 0h1m191 0h1m4 0h1m85 0h1m52 0h1m17 0h1M516 11.5h1m31 0h1M322 12.5h1m127 0h1m13 0h1m56 0h1m38 0h1m15 0h1M75 23.5h1M224 31.5h1"/><path stroke="#CB6B6B" d="M494 3.5h1M156 8.5h1m58 0h1m1 0h1m244 0h1m102 0h1m8 0h1M257 9.5h1m271 0h1M68 10.5h1m90 0h1m53 0h1m176 0h1m24 0h1m105 0h1m14 0h1m9 0h1m43 0h1M217 11.5h1m134 0h1M141 12.5h1m328 0h1m59 0h1"/><path stroke="#C86060" d="M518 7.5h1m40 0h1m4 0h1M120 8.5h1m471 0h1M194 9.5h1m219 0h1m110 0h1m69 0h1M339 11.5h1m65 0h1m22 0h1M452 12.5h1m81 0h1M224 16.5h1"/><path stroke="#C45656" d="M364 7.5h1m178 0h1M72 8.5h1m59 0h1m399 0h1M136 9.5h1m378 0h1M446 10.5h1m151 0h1M517 11.5h1m52 0h1M300 12.5h1m287 0h1"/><path stroke="#C04B4B" d="M510 8.5h1M204 9.5h1m10 0h1M134 10.5h1m398 0h1M324 11.5h1"/><path stroke="#BD4141" d="M164 7.5h1M518 9.5h1m24 0h1m30 0h1M426 11.5h1M584 12.5h1"/><path stroke="#B93636" d="M415 8.5h1M561 12.5h1"/><path stroke="#B52C2C" d="M565 7.5h1M415 9.5h1m46 0h1"/><path stroke="#B22222" d="M506 9.5h1"/></g><rect x="241.4" y="1688.8" width="198.6" height="39.8" fill="#20B2AA"/><rect x="440" y="1688.8" width="962.8" height="39.8" fill="#4682B4"/><rect x="1402.8" y="1688.8" width="644" height="39.8" fill="#B22222"/><text x="2052.5" y="1722.8" font-size="40.5" font-weight="bold">Status</text><rect x="151.4" y="1734.4" width="40.3" height="481.9" fill="#2F4F4F"/><rect x="151.4" y="2216.3" width="40.3" height="37.1" fill="#A9A9A9"/><rect x="151.4" y="2253.4" width="40.3" height="37.1" fill="#2F4F4F"/><rect x="151.4" y="2290.5" width="40.3" height="704.3" fill="#A9A9A9"/><rect x="199.8" y="1734.4" width="40.3" height="556.1" fill="#2F4F4F"/><rect x="199.8" y="2290.5" width="40.3" height="37.1" fill="#A9A9A9"/><rect x="199.8" y="2327.5" width="40.3" height="667.3" fill="#2F4F4F"/><text x="2052.5" y="1760.2" font-size="36.8">GUCA1A</text><text x="2052.5" y="1797.3" font-size="36.8">SPOCK1</text><text x="2052.5" y="1834.4" font-size="36.8">PRAME</text><text x="2052.5" y="1871.4" font-size="36.8">ASPM</text><text x="2052.5" y="1908.5" font-size="36.8">UBE2C</text><text x="2052.5" y="1945.6" font-size="36.8">RRM2</text><text x="2052.5" y="1982.7" font-size="36.8">CCNB1</text><text x="2052.5" y="2019.7" font-size="36.8">MAGEA4</text><text x="2052.5" y="2056.8" font-size="36.8">MAGEA3</text><text x="2052.5" y="2093.9" font-size="36.8">MAGEC2</text><text x="2052.5" y="2130.9" font-size="36.8">NTSR1</text><text x="2052.5" y="2168" font-size="36.8">KLK6</text><text x="2052.5" y="2205.1" font-size="36.8">KRT6B</text><text x="2052.5" y="2242.2" font-size="36.8">CD1A</text><text x="2052.5" y="2279.2" font-size="36.8">EEF1A2</text><text x="2052.5" y="2316.3" font-size="36.8">MAL</text><text x="2052.5" y="2353.4" font-size="36.8">CR2</text><text x="2052.5" y="2390.4" font-size="36.8">FDCSP</text><text x="2052.5" y="2427.5" font-size="36.8">PAX5</text><text x="2052.5" y="2464.6" font-size="36.8">CD19</text><text x="2052.5" y="2501.6" font-size="36.8">MS4A1</text><text x="2052.5" y="2538.7" font-size="36.8">IGHD</text><text x="2052.5" y="2575.8" font-size="36.8">IGHV1−69</text><text x="2052.5" y="2612.9" font-size="36.8">IGHA1</text><text x="2052.5" y="2649.9" font-size="36.8">CD79A</text><text x="2052.5" y="2687" font-size="36.8">POU2AF1</text><text x="2052.5" y="2724.1" font-size="36.8">IGLV2−14</text><text x="2052.5" y="2761.1" font-size="36.8">IGKV1−5</text><text x="2052.5" y="2798.2" font-size="36.8">IGLC2</text><text x="2052.5" y="2835.3" font-size="36.8">IGKC</text><text x="2052.5" y="2872.4" font-size="36.8">IGLV4−3</text><text x="2052.5" y="2909.4" font-size="36.8">IGLL3P</text><text x="2052.5" y="2946.5" font-size="36.8">IGHM</text><text x="2052.5" y="2983.6" font-size="36.8">FCRL2</text><path d="M151.4 1752.9H94.7V1790H151.4M151.4 1938.3H114.3V1975.4H151.4M151.4 1901.2H107.3V1956.8H114.3M151.4 1864.1H105.9V1929H107.3M151.4 1827.1H80.1V1896.6H105.9M94.7 1771.5H77.8V1861.8H80.1M151.4 2049.5H112.9V2086.6H151.4M151.4 2012.4H99.4V2068H112.9M151.4 2160.7H83.5V2197.8H151.4M151.4 2123.6H73.6V2179.2H83.5M99.4 2040.2H70V2151.4H73.6M77.8 1816.7H64.7V2095.8H70M151.4 2234.9H72.2V2271.9H151.4M151.4 2457.3H112.6V2494.3H151.4M151.4 2420.2H104.7V2475.8H112.6M151.4 2383.1H100V2448H104.7M151.4 2346.1H94.3V2415.6H100M151.4 2790.9H120.5V2828H151.4M151.4 2753.8H113.3V2809.4H120.5M151.4 2716.8H110.1V2781.6H113.3M151.4 2642.6H118.3V2679.7H151.4M118.3 2661.2H101.6V2749.2H110.1M151.4 2605.6H98.4V2705.2H101.6M151.4 2568.5H92.1V2655.4H98.4M151.4 2939.2H90.5V2976.3H151.4M151.4 2902.1H85.2V2957.7H90.5M151.4 2865.1H83.6V2929.9H85.2M92.1 2611.9H79.5V2897.5H83.6M151.4 2531.4H77.9V2754.7H79.5M94.3 2380.8H72.5V2643.1H77.9M151.4 2309H65.3V2511.9H72.5M72.2 2253.4H58.9V2410.5H65.3M64.7 1956.2H51.2V2331.9H58.9" fill="none" stroke="#222" stroke-width="1.6"/><defs><linearGradient id="hg" x1="0" y1="0" x2="0" y2="1"><stop offset="0" stop-color="#B22222"/><stop offset="0.505" stop-color="#FFFFFF"/><stop offset="1" stop-color="#4682B4"/></linearGradient></defs><rect x="2234.5" y="1705.2" width="39.3" height="303.6" fill="url(#hg)"/><text x="2298.5" y="1733.2" font-size="35.3">4</text><text x="2298.5" y="1798.8" font-size="35.3">2</text><text x="2298.5" y="1864.4" font-size="35.3">0</text><text x="2298.5" y="1930" font-size="35.3">−2</text><text x="2298.5" y="1995.6" font-size="35.3">−4</text><text transform="translate(153.3,3002.5) rotate(90)" font-size="40.5" font-weight="bold">High−Low Risk</text><text transform="translate(205.4,3000) rotate(90)" font-size="40.5" font-weight="bold">Tumor−Normal</text><text x="429" y="3069.4" font-size="41.3" font-weight="bold">Tumor−Normal</text><rect x="429" y="3089.1" width="28.5" height="28.9" fill="#A9A9A9"/><text x="463" y="3119.9" font-size="36">Down</text><rect x="429" y="3131.9" width="28.5" height="28.9" fill="#2F4F4F"/><text x="463" y="3162.7" font-size="36">Up</text><text x="1039.5" y="3069.4" font-size="41.3" font-weight="bold">High−Low Risk</text><rect x="1042" y="3089.1" width="28.5" height="28.9" fill="#A9A9A9"/><text x="1076" y="3119.9" font-size="36">Down</text><rect x="1042" y="3131.9" width="28.5" height="28.9" fill="#2F4F4F"/><text x="1076" y="3162.7" font-size="36">Up</text><text x="1670.5" y="3069.4" font-size="41.3" font-weight="bold">Status</text><rect x="1671.7" y="3089.1" width="28.5" height="28.9" fill="#20B2AA"/><text x="1705.7" y="3119.9" font-size="36">normal</text><rect x="1671.7" y="3131.9" width="28.5" height="28.9" fill="#4682B4"/><text x="1705.7" y="3162.7" font-size="36">Low</text><rect x="1671.7" y="3174.7" width="28.5" height="28.9" fill="#B22222"/><text x="1705.7" y="3205.5" font-size="36">High</text></g></svg></body></html>
